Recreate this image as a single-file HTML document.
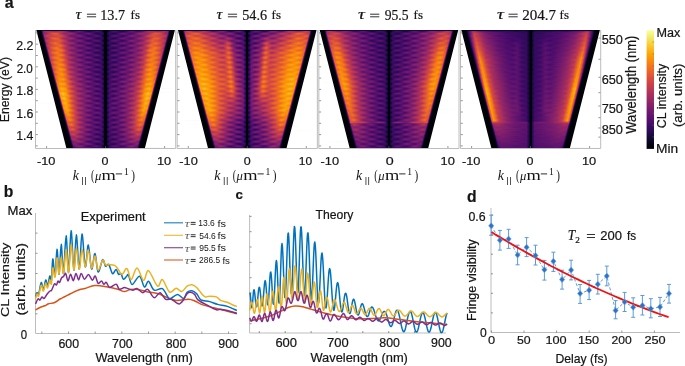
<!DOCTYPE html>
<html><head><meta charset="utf-8"><style>
html,body{margin:0;padding:0;background:#fff;}
#c{position:relative;width:685px;height:366px;overflow:hidden;background:#fff;}
.hm{position:absolute;height:118px;}
.hm i{position:absolute;left:0;right:0;height:1px;display:block;}
svg{position:absolute;left:0;top:0;will-change:transform;}
text{fill:#141414;stroke:#141414;stroke-width:0.2px;}
text.n{stroke:none;}
</style></head><body><div id="c">
<div class="hm" style="left:36px;top:30px;width:139px"><i style="top:0px;background:linear-gradient(90deg,#6d6d71 0.5px,#010108 1.5px,#010108 4.5px,#140b34 6.5px,#160b39 65.5px,#02020c 68.5px,#02020c 70.5px,#160b39 73.5px,#160b39 132.5px,#010108 134.5px,#010108 137.5px,#3b3b40 138.5px)"></i><i style="top:1px;background:linear-gradient(90deg,#aeaeb0 0.5px,#010108 1.5px,#010108 4.5px,#0d0829 5.5px,#4c0c6b 6.5px,#84206b 7.5px,#a22b62 9.5px,#a32c61 13.5px,#9b2964 19.5px,#a92e5e 25.5px,#952667 28.5px,#4a0c6b 34.5px,#440a68 37.5px,#69166e 43.5px,#4c0c6b 47.5px,#1e0c45 51.5px,#1e0c45 54.5px,#420a68 58.5px,#4c0c6b 61.5px,#340a5f 64.5px,#260c51 65.5px,#07051b 67.5px,#02020c 68.5px,#02020c 70.5px,#0e092b 72.5px,#230c4c 73.5px,#470b6a 76.5px,#4a0c6b 79.5px,#1b0c41 85.5px,#1c0c43 87.5px,#490b6a 91.5px,#69166e 95.5px,#420a68 102.5px,#5d126e 106.5px,#a52c60 112.5px,#a32c61 118.5px,#972766 122.5px,#a62d60 128.5px,#972766 130.5px,#87216b 131.5px,#5c126e 132.5px,#150b37 133.5px,#010108 134.5px,#010108 137.5px,#7b7b7f 138.5px)"></i><i style="top:2px;background:linear-gradient(90deg,#efefef 0.5px,#010108 1.5px,#010108 4.5px,#060419 5.5px,#420a68 6.5px,#88226a 7.5px,#c73e4c 15.5px,#c83f4b 21.5px,#8c2369 31.5px,#57106e 42.5px,#4c0c6b 52.5px,#340a5f 61.5px,#380962 65.5px,#160b39 67.5px,#02020c 68.5px,#02020c 70.5px,#140b34 71.5px,#360961 73.5px,#3e0966 83.5px,#550f6d 91.5px,#64156e 100.5px,#b1325a 114.5px,#ce4347 119.5px,#bd3853 125.5px,#8c2369 131.5px,#520e6d 132.5px,#0d0829 133.5px,#010108 134.5px,#010108 137.5px,#bcbcbe 138.5px)"></i><i style="top:3px;background:linear-gradient(90deg,#ffffff 0.5px,#313137 1.5px,#010108 2.5px,#010108 5.5px,#320a5e 6.5px,#85216b 7.5px,#a62d60 11.5px,#e05536 16.5px,#e55c30 20.5px,#9f2a63 26.5px,#8f2469 29.5px,#9f2a63 34.5px,#7c1d6d 38.5px,#440a68 43.5px,#510e6c 47.5px,#6f196e 52.5px,#4a0c6b 56.5px,#1e0c45 60.5px,#240c4f 63.5px,#390963 65.5px,#230c4c 67.5px,#02020c 68.5px,#02020c 70.5px,#1f0c48 71.5px,#390963 73.5px,#1c0c43 77.5px,#2b0b57 80.5px,#540f6d 83.5px,#6f196e 86.5px,#5c126e 90.5px,#420a68 94.5px,#5d126e 98.5px,#9a2865 103.5px,#972766 107.5px,#952667 111.5px,#d04545 116.5px,#e65d2f 119.5px,#da4e3c 123.5px,#932667 129.5px,#8c2369 131.5px,#420a68 132.5px,#050417 133.5px,#010108 134.5px,#010108 137.5px,#fcfcfc 138.5px)"></i><i style="top:4px;background:linear-gradient(90deg,#ffffff 0.5px,#727276 1.5px,#010108 2.5px,#010108 5.5px,#1e0c45 6.5px,#741a6e 7.5px,#9b2964 8.5px,#df5337 18.5px,#e15635 21.5px,#9b2964 28.5px,#8d2369 33.5px,#751b6e 39.5px,#4f0d6c 46.5px,#59106e 54.5px,#2b0b57 63.5px,#2f0a5b 65.5px,#180c3c 67.5px,#02020c 68.5px,#02020c 70.5px,#150b37 71.5px,#2f0a5b 73.5px,#320a5e 78.5px,#5a116e 85.5px,#520e6d 94.5px,#8c2369 104.5px,#9a2865 110.5px,#e05536 117.5px,#d34743 123.5px,#9d2964 130.5px,#87216b 131.5px,#2d0b59 132.5px,#010108 133.5px,#010108 136.5px,#3f3f44 137.5px,#ffffff 138.5px)"></i><i style="top:5px;background:linear-gradient(90deg,#ffffff 0.5px,#b2b2b4 1.5px,#010108 2.5px,#010108 5.5px,#0e092b 6.5px,#5f136e 7.5px,#a82e5f 8.5px,#c43c4e 11.5px,#d74b3f 20.5px,#d24644 25.5px,#a82e5f 29.5px,#6d186e 34.5px,#6c186e 38.5px,#7d1e6d 43.5px,#360961 51.5px,#420a68 55.5px,#5a116e 60.5px,#3b0964 64.5px,#2f0a5b 65.5px,#02020c 68.5px,#02020c 70.5px,#160b39 72.5px,#2b0b57 73.5px,#57106e 77.5px,#520e6d 81.5px,#340a5f 86.5px,#4c0c6b 90.5px,#7d1e6d 95.5px,#69166e 103.5px,#952667 108.5px,#ca404a 112.5px,#dd513a 117.5px,#c63d4d 125.5px,#b93556 129.5px,#ad305d 130.5px,#741a6e 131.5px,#1b0c41 132.5px,#010108 133.5px,#010108 136.5px,#ffffff 138.5px)"></i><i style="top:6px;background:linear-gradient(90deg,#ffffff 0.5px,#f3f3f3 1.5px,#010108 2.5px,#010108 5.5px,#050417 6.5px,#470b6a 7.5px,#a22b62 8.5px,#c13a50 10.5px,#d74b3f 23.5px,#bc3754 28.5px,#71196e 34.5px,#65156e 38.5px,#7c1d6d 43.5px,#64156e 47.5px,#340a5f 52.5px,#420a68 56.5px,#59106e 60.5px,#440a68 64.5px,#380962 65.5px,#02020c 68.5px,#02020c 70.5px,#1b0c41 72.5px,#340a5f 73.5px,#59106e 77.5px,#4a0c6b 81.5px,#320a5e 86.5px,#61136e 91.5px,#7c1d6d 95.5px,#64156e 102.5px,#902568 107.5px,#cb4149 112.5px,#db503b 117.5px,#cc4248 125.5px,#c43c4e 128.5px,#a82e5f 130.5px,#5a116e 131.5px,#0c0826 132.5px,#010108 133.5px,#010108 136.5px,#c0c0c2 137.5px,#ffffff 138.5px)"></i><i style="top:7px;background:linear-gradient(90deg,#ffffff 0.5px,#ffffff 1.5px,#36363b 2.5px,#010108 3.5px,#010108 6.5px,#2f0a5b 7.5px,#88226a 8.5px,#a22b62 9.5px,#df5337 16.5px,#db503b 22.5px,#a82e5f 28.5px,#85216b 36.5px,#5a116e 42.5px,#5c126e 52.5px,#320a5e 60.5px,#3d0965 65.5px,#1c0c43 67.5px,#02020c 68.5px,#02020c 70.5px,#190c3e 71.5px,#3b0964 73.5px,#360961 80.5px,#61136e 88.5px,#59106e 96.5px,#982766 106.5px,#bc3754 113.5px,#e15635 118.5px,#da4e3c 123.5px,#952667 130.5px,#400a67 131.5px,#030210 132.5px,#03030a 136.5px,#ffffff 137.5px,#ffffff 138.5px)"></i><i style="top:8px;background:linear-gradient(90deg,#ffffff 0.5px,#ffffff 1.5px,#76767a 2.5px,#010108 3.5px,#010108 6.5px,#1b0c41 7.5px,#6c186e 8.5px,#9a2865 9.5px,#a62d60 11.5px,#dd513a 15.5px,#ec6726 18.5px,#e15635 22.5px,#a82e5f 26.5px,#972766 30.5px,#9f2a63 35.5px,#4d0d6c 42.5px,#450a69 45.5px,#6f196e 52.5px,#4c0c6b 56.5px,#1e0c45 60.5px,#230c4c 63.5px,#380962 65.5px,#230c4c 67.5px,#02020c 68.5px,#02020c 70.5px,#1f0c48 71.5px,#380962 73.5px,#1c0c43 77.5px,#2d0b59 80.5px,#62146e 84.5px,#6f196e 87.5px,#440a68 94.5px,#61136e 98.5px,#9d2964 103.5px,#9a2865 107.5px,#9f2a63 111.5px,#d04545 115.5px,#e9612b 118.5px,#eb6429 121.5px,#c83f4b 125.5px,#9f2a63 128.5px,#9a2865 129.5px,#7f1e6c 130.5px,#290b55 131.5px,#010108 132.5px,#010108 135.5px,#434348 136.5px,#ffffff 137.5px,#ffffff 138.5px)"></i><i style="top:9px;background:linear-gradient(90deg,#ffffff 0.5px,#ffffff 1.5px,#b7b7b9 2.5px,#010108 3.5px,#010108 6.5px,#0c0826 7.5px,#5a116e 8.5px,#a32c61 9.5px,#e35933 18.5px,#e55c30 22.5px,#a22b62 29.5px,#8c2369 33.5px,#520e6d 48.5px,#4c0c6b 57.5px,#2f0a5b 65.5px,#150b37 67.5px,#02020c 68.5px,#02020c 70.5px,#120a32 71.5px,#2d0b59 73.5px,#540f6d 86.5px,#5c126e 94.5px,#8a226a 105.5px,#a82e5f 110.5px,#e55c30 116.5px,#e05536 121.5px,#a62d60 129.5px,#6c186e 130.5px,#160b39 131.5px,#010108 132.5px,#010108 135.5px,#ffffff 137.5px,#ffffff 138.5px)"></i><i style="top:10px;background:linear-gradient(90deg,#ffffff 0.5px,#f7f7f7 2.5px,#010108 3.5px,#030210 7.5px,#450a69 8.5px,#a82e5f 9.5px,#c63d4d 11.5px,#e15635 21.5px,#e15635 24.5px,#b43359 29.5px,#771c6d 33.5px,#69166e 37.5px,#82206c 43.5px,#5f136e 47.5px,#320a5e 51.5px,#3e0966 55.5px,#5d126e 59.5px,#550f6d 62.5px,#310a5c 65.5px,#0b0724 67.5px,#02020c 68.5px,#02020c 70.5px,#150b37 72.5px,#2b0b57 73.5px,#540f6d 76.5px,#5d126e 79.5px,#2f0a5b 86.5px,#4f0d6c 90.5px,#7d1e6d 94.5px,#801f6c 97.5px,#67166e 102.5px,#7f1e6c 106.5px,#cb4149 111.5px,#e65d2f 116.5px,#cb4149 124.5px,#bf3952 128.5px,#ae305c 129.5px,#57106e 130.5px,#0a0722 131.5px,#010108 132.5px,#010108 135.5px,#c4c4c6 136.5px,#ffffff 137.5px,#ffffff 138.5px)"></i><i style="top:11px;background:linear-gradient(90deg,#ffffff 0.5px,#ffffff 2.5px,#3a3a3f 3.5px,#010108 4.5px,#010108 7.5px,#2b0b57 8.5px,#902568 9.5px,#b73557 10.5px,#d24644 14.5px,#e35933 23.5px,#b63458 29.5px,#721a6e 35.5px,#6f196e 40.5px,#741a6e 45.5px,#3b0964 52.5px,#470b6a 57.5px,#510e6c 62.5px,#390963 65.5px,#02020c 68.5px,#02020c 70.5px,#360961 73.5px,#540f6d 77.5px,#380962 85.5px,#4f0d6c 89.5px,#771c6d 94.5px,#6d186e 102.5px,#982766 107.5px,#d04545 112.5px,#e45a31 116.5px,#c63d4d 127.5px,#a32c61 129.5px,#3e0966 130.5px,#02020c 131.5px,#07070e 135.5px,#ffffff 136.5px,#ffffff 138.5px)"></i><i style="top:12px;background:linear-gradient(90deg,#ffffff 0.5px,#ffffff 2.5px,#010108 4.5px,#010108 7.5px,#160b39 8.5px,#6c186e 9.5px,#a82e5f 10.5px,#df5337 15.5px,#ed6925 19.5px,#d44842 24.5px,#ad305d 28.5px,#8f2469 36.5px,#550f6d 42.5px,#61136e 48.5px,#64156e 52.5px,#2d0b59 59.5px,#310a5c 63.5px,#3d0965 65.5px,#1f0c48 67.5px,#02020c 68.5px,#02020c 70.5px,#1c0c43 71.5px,#3d0965 73.5px,#290b55 78.5px,#64156e 86.5px,#59106e 92.5px,#550f6d 96.5px,#9a2865 104.5px,#ba3655 112.5px,#e35933 116.5px,#ec6726 120.5px,#cf4446 125.5px,#a92e5e 128.5px,#801f6c 129.5px,#240c4f 130.5px,#010108 131.5px,#010108 134.5px,#48484d 135.5px,#ffffff 136.5px,#ffffff 138.5px)"></i><i style="top:13px;background:linear-gradient(90deg,#ffffff 0.5px,#ffffff 2.5px,#bbbbbd 3.5px,#010108 4.5px,#010108 7.5px,#0a0722 8.5px,#540f6d 9.5px,#9f2a63 10.5px,#d54a41 14.5px,#f1731d 19.5px,#d74b3f 24.5px,#a52c60 28.5px,#9a2865 36.5px,#4a0c6b 43.5px,#520e6d 47.5px,#6f196e 52.5px,#4d0d6c 56.5px,#210c4a 60.5px,#240c4f 63.5px,#360961 65.5px,#210c4a 67.5px,#02020c 68.5px,#02020c 70.5px,#1e0c45 71.5px,#360961 73.5px,#1e0c45 77.5px,#310a5c 80.5px,#62146e 84.5px,#6a176e 88.5px,#470b6a 94.5px,#65156e 98.5px,#982766 102.5px,#9f2a63 106.5px,#a92e5e 111.5px,#e25734 115.5px,#f1731d 119.5px,#d84c3e 124.5px,#a52c60 128.5px,#65156e 129.5px,#140b34 130.5px,#010108 131.5px,#010108 134.5px,#88888b 135.5px,#ffffff 136.5px,#ffffff 138.5px)"></i><i style="top:14px;background:linear-gradient(90deg,#ffffff 0.5px,#fcfcfc 3.5px,#010108 4.5px,#02020c 8.5px,#3e0966 9.5px,#a32c61 10.5px,#c73e4c 13.5px,#eb6628 20.5px,#e65d2f 24.5px,#ae305c 29.5px,#85216b 34.5px,#62146e 45.5px,#4c0c6b 52.5px,#470b6a 60.5px,#2f0a5b 65.5px,#120a32 67.5px,#02020c 68.5px,#02020c 70.5px,#1c0c43 72.5px,#320a5e 74.5px,#4f0d6c 83.5px,#57106e 91.5px,#972766 107.5px,#da4e3c 113.5px,#eb6429 115.5px,#e65d2f 120.5px,#b73557 127.5px,#a92e5e 128.5px,#510e6c 129.5px,#08051d 130.5px,#010108 131.5px,#010108 134.5px,#c9c9ca 135.5px,#ffffff 136.5px,#ffffff 138.5px)"></i><i style="top:15px;background:linear-gradient(90deg,#ffffff 0.5px,#ffffff 3.5px,#3e3e43 4.5px,#010108 5.5px,#010108 8.5px,#280b53 9.5px,#902568 10.5px,#c03a51 11.5px,#e15635 19.5px,#ee6a24 24.5px,#bf3952 29.5px,#7a1d6d 33.5px,#69166e 36.5px,#85216b 43.5px,#71196e 46.5px,#320a5e 51.5px,#340a5f 54.5px,#61136e 60.5px,#4f0d6c 63.5px,#320a5e 65.5px,#0b0724 67.5px,#02020c 68.5px,#02020c 70.5px,#150b37 72.5px,#2d0b59 73.5px,#57106e 76.5px,#5f136e 79.5px,#2f0a5b 86.5px,#450a69 89.5px,#82206c 94.5px,#7c1d6d 98.5px,#69166e 102.5px,#781c6d 105.5px,#c83f4b 110.5px,#ed6925 114.5px,#c13a50 127.5px,#a82e5f 128.5px,#3b0964 129.5px,#010108 130.5px,#010108 133.5px,#0b0b12 134.5px,#ffffff 135.5px,#ffffff 138.5px)"></i><i style="top:16px;background:linear-gradient(90deg,#ffffff 0.5px,#ffffff 3.5px,#010108 5.5px,#010108 8.5px,#140b34 9.5px,#6f196e 10.5px,#ba3655 11.5px,#dd513a 16.5px,#ea632a 22.5px,#eb6429 24.5px,#b1325a 30.5px,#7d1e6d 35.5px,#6f196e 41.5px,#6c186e 46.5px,#3e0966 54.5px,#4c0c6b 62.5px,#3b0964 65.5px,#120a32 67.5px,#02020c 68.5px,#02020c 70.5px,#380962 73.5px,#4c0c6b 78.5px,#400a67 85.5px,#721a6e 95.5px,#751b6e 102.5px,#a32c61 107.5px,#e9612b 114.5px,#e8602d 119.5px,#c73e4c 126.5px,#bc3754 127.5px,#85216b 128.5px,#210c4a 129.5px,#010108 130.5px,#010108 133.5px,#4c4c51 134.5px,#ffffff 135.5px,#ffffff 138.5px)"></i><i style="top:17px;background:linear-gradient(90deg,#ffffff 0.5px,#ffffff 3.5px,#bfbfc1 4.5px,#010108 5.5px,#010108 8.5px,#08051d 9.5px,#510e6c 10.5px,#a82e5f 11.5px,#e35933 15.5px,#f3761b 20.5px,#d84c3e 25.5px,#ae305c 29.5px,#972766 36.5px,#520e6d 42.5px,#540f6d 46.5px,#6d186e 51.5px,#540f6d 55.5px,#240c4f 60.5px,#340a5f 64.5px,#3d0965 65.5px,#210c4a 67.5px,#02020c 68.5px,#02020c 70.5px,#1e0c45 71.5px,#3d0965 73.5px,#240c4f 78.5px,#510e6c 83.5px,#6d186e 87.5px,#4d0d6c 95.5px,#71196e 99.5px,#a32c61 104.5px,#b1325a 110.5px,#e75e2e 115.5px,#f3761b 118.5px,#e55c30 123.5px,#b0315b 127.5px,#64156e 128.5px,#10092d 129.5px,#010108 130.5px,#010108 133.5px,#8c8c90 134.5px,#ffffff 135.5px,#ffffff 138.5px)"></i><i style="top:18px;background:linear-gradient(90deg,#ffffff 0.5px,#ffffff 4.5px,#020209 5.5px,#010108 9.5px,#390963 10.5px,#9f2a63 11.5px,#d34743 14.5px,#f1711f 18.5px,#f37819 21.5px,#de5238 25.5px,#ab2f5e 29.5px,#932667 37.5px,#4f0d6c 43.5px,#540f6d 47.5px,#6c186e 52.5px,#4f0d6c 56.5px,#260c51 60.5px,#260c51 63.5px,#340a5f 65.5px,#1e0c45 67.5px,#02020c 68.5px,#02020c 70.5px,#1b0c41 71.5px,#340a5f 73.5px,#230c4c 77.5px,#360961 80.5px,#69166e 85.5px,#62146e 89.5px,#4c0c6b 94.5px,#6c186e 98.5px,#9f2a63 103.5px,#b1325a 110.5px,#e65d2f 114.5px,#f57b17 118.5px,#e25734 123.5px,#a62d60 127.5px,#4c0c6b 128.5px,#050417 129.5px,#010108 130.5px,#010108 133.5px,#cdcdce 134.5px,#ffffff 135.5px,#ffffff 138.5px)"></i><i style="top:19px;background:linear-gradient(90deg,#ffffff 0.5px,#ffffff 4.5px,#424248 5.5px,#010108 6.5px,#010108 9.5px,#230c4c 10.5px,#87216b 11.5px,#bd3853 12.5px,#ef6e21 20.5px,#f1731d 23.5px,#e55c30 26.5px,#ae305c 30.5px,#7f1e6c 35.5px,#71196e 44.5px,#470b6a 51.5px,#4f0d6c 60.5px,#2f0a5b 65.5px,#02020c 68.5px,#02020c 70.5px,#2b0b57 73.5px,#510e6c 79.5px,#490b6a 88.5px,#7a1d6d 97.5px,#8a226a 105.5px,#c73e4c 110.5px,#ec6726 113.5px,#f3761b 117.5px,#c73e4c 125.5px,#bf3952 126.5px,#9f2a63 127.5px,#340a5f 128.5px,#010108 129.5px,#010108 132.5px,#101016 133.5px,#ffffff 134.5px,#ffffff 138.5px)"></i><i style="top:20px;background:linear-gradient(90deg,#ffffff 0.5px,#ffffff 4.5px,#010108 6.5px,#010108 9.5px,#110a30 10.5px,#6d186e 11.5px,#c03a51 12.5px,#eb6429 20.5px,#f37819 25.5px,#d94d3d 28.5px,#952667 32.5px,#6f196e 35.5px,#771c6d 39.5px,#84206b 44.5px,#4c0c6b 49.5px,#310a5c 52.5px,#450a69 56.5px,#62146e 60.5px,#440a68 64.5px,#360961 65.5px,#0b0724 67.5px,#02020c 68.5px,#02020c 70.5px,#160b39 72.5px,#310a5c 73.5px,#59106e 76.5px,#5f136e 79.5px,#2f0a5b 86.5px,#550f6d 90.5px,#84206b 94.5px,#7f1e6c 98.5px,#6c186e 102.5px,#801f6c 105.5px,#d54a41 110.5px,#f3761b 113.5px,#f1711f 117.5px,#d24644 123.5px,#c33b4f 126.5px,#85216b 127.5px,#1e0c45 128.5px,#010108 129.5px,#010108 132.5px,#505055 133.5px,#ffffff 134.5px,#ffffff 138.5px)"></i><i style="top:21px;background:linear-gradient(90deg,#ffffff 0.5px,#ffffff 4.5px,#c4c4c5 5.5px,#010108 6.5px,#010108 9.5px,#050417 10.5px,#510e6c 11.5px,#b43359 12.5px,#d34743 14.5px,#f1711f 21.5px,#e65d2f 26.5px,#b93556 30.5px,#7c1d6d 37.5px,#540f6d 51.5px,#440a68 58.5px,#3e0966 65.5px,#160b39 67.5px,#02020c 68.5px,#02020c 70.5px,#260c51 72.5px,#3b0964 73.5px,#440a68 80.5px,#520e6d 87.5px,#6c186e 95.5px,#801f6c 102.5px,#c13a50 109.5px,#eb6628 113.5px,#f1731d 117.5px,#d44842 124.5px,#bc3754 126.5px,#65156e 127.5px,#0d0829 128.5px,#010108 129.5px,#010108 132.5px,#919194 133.5px,#ffffff 134.5px,#ffffff 138.5px)"></i><i style="top:22px;background:linear-gradient(90deg,#ffffff 0.5px,#ffffff 5.5px,#06060d 6.5px,#010108 10.5px,#360961 11.5px,#a02a63 12.5px,#c33b4f 13.5px,#eb6429 16.5px,#f57b17 20.5px,#e8602d 24.5px,#b73557 29.5px,#a62d60 35.5px,#6a176e 40.5px,#4c0c6b 43.5px,#5a116e 47.5px,#721a6e 51.5px,#62146e 54.5px,#310a5c 58.5px,#210c4a 61.5px,#3d0965 65.5px,#240c4f 67.5px,#02020c 68.5px,#02020c 70.5px,#210c4a 71.5px,#3d0965 73.5px,#210c4a 77.5px,#2f0a5b 80.5px,#61136e 84.5px,#721a6e 87.5px,#4c0c6b 95.5px,#85216b 100.5px,#b0315b 105.5px,#bf3952 110.5px,#ec6726 115.5px,#f57b17 118.5px,#ec6726 122.5px,#c73e4c 125.5px,#ae305c 126.5px,#490b6a 127.5px,#040312 128.5px,#010108 131.5px,#010108 132.5px,#d1d1d3 133.5px,#ffffff 134.5px,#ffffff 138.5px)"></i><i style="top:23px;background:linear-gradient(90deg,#ffffff 0.5px,#ffffff 5.5px,#47474c 6.5px,#010108 7.5px,#010108 10.5px,#1e0c45 11.5px,#82206c 12.5px,#c03a51 13.5px,#ed6925 17.5px,#f57b17 21.5px,#ec6726 24.5px,#c63d4d 28.5px,#ae305c 31.5px,#8c2369 38.5px,#540f6d 44.5px,#65156e 53.5px,#340a5f 59.5px,#2b0b57 63.5px,#340a5f 65.5px,#1c0c43 67.5px,#02020c 68.5px,#02020c 70.5px,#1b0c41 71.5px,#340a5f 73.5px,#2d0b59 78.5px,#65156e 85.5px,#540f6d 94.5px,#741a6e 98.5px,#a32c61 104.5px,#b73557 109.5px,#e65d2f 113.5px,#f57b17 117.5px,#ee6a24 121.5px,#c33b4f 125.5px,#9a2865 126.5px,#310a5c 127.5px,#010108 128.5px,#010108 131.5px,#14141a 132.5px,#ffffff 133.5px,#ffffff 138.5px)"></i><i style="top:24px;background:linear-gradient(90deg,#ffffff 0.5px,#ffffff 5.5px,#87878b 6.5px,#010108 7.5px,#010108 10.5px,#0e092b 11.5px,#69166e 12.5px,#bf3952 13.5px,#f1731d 21.5px,#f47918 24.5px,#ef6e21 26.5px,#b93556 30.5px,#7f1e6c 35.5px,#7a1d6d 44.5px,#420a68 51.5px,#4d0d6c 56.5px,#57106e 60.5px,#320a5e 65.5px,#02020c 68.5px,#02020c 70.5px,#2f0a5b 73.5px,#57106e 78.5px,#400a67 87.5px,#801f6c 96.5px,#84206b 104.5px,#b43359 108.5px,#ee6a24 112.5px,#f57d15 116.5px,#c33b4f 125.5px,#7f1e6c 126.5px,#1b0c41 127.5px,#010108 128.5px,#010108 131.5px,#555559 132.5px,#ffffff 133.5px,#ffffff 138.5px)"></i><i style="top:25px;background:linear-gradient(90deg,#ffffff 0.5px,#ffffff 5.5px,#c8c8c9 6.5px,#010108 7.5px,#010108 10.5px,#040312 11.5px,#4d0d6c 12.5px,#b93556 13.5px,#cf4446 15.5px,#f57b17 23.5px,#f2741c 26.5px,#d34743 29.5px,#8f2469 33.5px,#721a6e 36.5px,#85216b 44.5px,#510e6c 49.5px,#340a5f 52.5px,#450a69 56.5px,#61136e 60.5px,#490b6a 64.5px,#3b0964 65.5px,#0e092b 67.5px,#02020c 68.5px,#02020c 70.5px,#1c0c43 72.5px,#360961 73.5px,#5f136e 77.5px,#510e6c 81.5px,#340a5f 85.5px,#420a68 88.5px,#84206b 94.5px,#801f6c 98.5px,#721a6e 102.5px,#8c2369 105.5px,#d04545 109.5px,#f1731d 112.5px,#f37819 116.5px,#c03a51 125.5px,#64156e 126.5px,#0b0724 127.5px,#010108 128.5px,#010108 131.5px,#959598 132.5px,#ffffff 133.5px,#ffffff 138.5px)"></i><i style="top:26px;background:linear-gradient(90deg,#ffffff 0.5px,#ffffff 6.5px,#0a0a11 7.5px,#010108 11.5px,#320a5e 12.5px,#a32c61 13.5px,#cc4248 14.5px,#ec6726 18.5px,#f1731d 23.5px,#d74b3f 28.5px,#952667 35.5px,#6a176e 42.5px,#59106e 52.5px,#3d0965 60.5px,#420a68 65.5px,#1c0c43 67.5px,#02020c 68.5px,#02020c 70.5px,#190c3e 71.5px,#400a67 73.5px,#440a68 82.5px,#67166e 91.5px,#721a6e 98.5px,#b73557 107.5px,#eb6628 113.5px,#f1731d 117.5px,#e35933 122.5px,#cf4446 124.5px,#b93556 125.5px,#470b6a 126.5px,#02020c 127.5px,#010108 131.5px,#d6d6d7 132.5px,#ffffff 133.5px,#ffffff 138.5px)"></i><i style="top:27px;background:linear-gradient(90deg,#ffffff 0.5px,#ffffff 6.5px,#4b4b50 7.5px,#010108 8.5px,#010108 11.5px,#1b0c41 12.5px,#82206c 13.5px,#cc4248 14.5px,#f06f20 17.5px,#f57d15 21.5px,#d84c3e 27.5px,#bd3853 30.5px,#b0315b 35.5px,#57106e 42.5px,#4d0d6c 45.5px,#771c6d 51.5px,#67166e 54.5px,#310a5c 58.5px,#1f0c48 61.5px,#3e0966 65.5px,#260c51 67.5px,#02020c 68.5px,#02020c 70.5px,#230c4c 71.5px,#3e0966 73.5px,#1f0c48 77.5px,#2f0a5b 80.5px,#65156e 84.5px,#771c6d 87.5px,#4c0c6b 94.5px,#61136e 97.5px,#ae305c 103.5px,#ca404a 110.5px,#f3761b 116.5px,#f47918 120.5px,#df5337 123.5px,#cf4446 124.5px,#9a2865 125.5px,#2d0b59 126.5px,#010108 127.5px,#010108 130.5px,#18181f 131.5px,#ffffff 132.5px,#ffffff 138.5px)"></i><i style="top:28px;background:linear-gradient(90deg,#ffffff 0.5px,#ffffff 6.5px,#8c8c8f 7.5px,#010108 8.5px,#010108 11.5px,#0c0826 12.5px,#64156e 13.5px,#c33b4f 14.5px,#ef6c23 18.5px,#f57d15 22.5px,#e15635 27.5px,#b43359 31.5px,#7d1e6d 40.5px,#5a116e 45.5px,#5d126e 54.5px,#310a5c 62.5px,#360961 65.5px,#1c0c43 67.5px,#02020c 68.5px,#02020c 70.5px,#190c3e 71.5px,#360961 73.5px,#360961 78.5px,#61136e 85.5px,#5d126e 94.5px,#a92e5e 105.5px,#d24644 110.5px,#f47918 115.5px,#f47918 118.5px,#e25734 122.5px,#ca404a 124.5px,#7a1d6d 125.5px,#160b39 126.5px,#010108 127.5px,#010108 130.5px,#59595d 131.5px,#ffffff 132.5px,#ffffff 138.5px)"></i><i style="top:29px;background:linear-gradient(90deg,#ffffff 0.5px,#ffffff 6.5px,#ccccce 7.5px,#010108 8.5px,#02020c 12.5px,#4a0c6b 13.5px,#b93556 14.5px,#d24644 16.5px,#f78212 23.5px,#f37819 26.5px,#d74b3f 29.5px,#952667 33.5px,#7d1e6d 37.5px,#88226a 43.5px,#3e0966 51.5px,#4d0d6c 56.5px,#5d126e 60.5px,#360961 65.5px,#02020c 68.5px,#02020c 70.5px,#320a5e 73.5px,#59106e 77.5px,#550f6d 81.5px,#3b0964 86.5px,#57106e 90.5px,#87216b 95.5px,#801f6c 103.5px,#b0315b 107.5px,#ee6a24 111.5px,#f78212 114.5px,#f3761b 117.5px,#c03a51 124.5px,#5f136e 125.5px,#09061f 126.5px,#010108 127.5px,#010108 130.5px,#99999c 131.5px,#ffffff 132.5px,#ffffff 138.5px)"></i><i style="top:30px;background:linear-gradient(90deg,#ffffff 0.5px,#ffffff 7.5px,#0f0f15 8.5px,#010108 10.5px,#010108 12.5px,#2f0a5b 13.5px,#9f2a63 14.5px,#cc4248 15.5px,#f67e14 23.5px,#f57b17 26.5px,#db503b 29.5px,#9a2865 33.5px,#781c6d 37.5px,#85216b 44.5px,#3b0964 52.5px,#450a69 56.5px,#5c126e 61.5px,#3e0966 65.5px,#02020c 68.5px,#02020c 70.5px,#3b0964 73.5px,#5c126e 77.5px,#470b6a 82.5px,#3b0964 86.5px,#84206b 94.5px,#801f6c 103.5px,#b73557 107.5px,#ef6e21 111.5px,#f68013 115.5px,#ce4347 123.5px,#b93556 124.5px,#440a68 125.5px,#010108 126.5px,#010108 130.5px,#dadadb 131.5px,#ffffff 132.5px,#ffffff 138.5px)"></i><i style="top:31px;background:linear-gradient(90deg,#ffffff 0.5px,#ffffff 7.5px,#4f4f54 8.5px,#010108 9.5px,#010108 12.5px,#180c3c 13.5px,#801f6c 14.5px,#d34743 15.5px,#f1711f 19.5px,#f1731d 24.5px,#d44842 29.5px,#751b6e 40.5px,#62146e 45.5px,#64156e 52.5px,#340a5f 60.5px,#440a68 65.5px,#360961 66.5px,#210c4a 67.5px,#02020c 68.5px,#02020c 70.5px,#1e0c45 71.5px,#440a68 73.5px,#360961 79.5px,#69166e 88.5px,#67166e 96.5px,#b93556 106.5px,#ef6c23 113.5px,#f37819 117.5px,#ea632a 121.5px,#d54a41 123.5px,#9a2865 124.5px,#290b55 125.5px,#010108 126.5px,#010108 129.5px,#1d1d23 130.5px,#ffffff 131.5px,#ffffff 138.5px)"></i><i style="top:32px;background:linear-gradient(90deg,#ffffff 0.5px,#ffffff 7.5px,#909093 8.5px,#010108 9.5px,#010108 12.5px,#09061f 13.5px,#62146e 14.5px,#cc4248 15.5px,#ec6726 17.5px,#f57d15 19.5px,#f37819 23.5px,#ce4347 29.5px,#ad305d 36.5px,#5d126e 42.5px,#510e6c 45.5px,#781c6d 51.5px,#6a176e 54.5px,#340a5f 58.5px,#1e0c45 61.5px,#3e0966 65.5px,#280b53 67.5px,#02020c 68.5px,#02020c 70.5px,#240c4f 71.5px,#3e0966 73.5px,#1e0c45 77.5px,#320a5e 80.5px,#69166e 84.5px,#781c6d 87.5px,#510e6c 94.5px,#65156e 97.5px,#b3325a 103.5px,#cc4248 109.5px,#f3761b 115.5px,#f67e14 119.5px,#e45a31 122.5px,#d44842 123.5px,#7a1d6d 124.5px,#140b34 125.5px,#010108 126.5px,#010108 129.5px,#5d5d62 130.5px,#ffffff 131.5px,#ffffff 138.5px)"></i><i style="top:33px;background:linear-gradient(90deg,#ffffff 0.5px,#ffffff 7.5px,#d1d1d2 8.5px,#010108 9.5px,#010108 13.5px,#450a69 14.5px,#bf3952 15.5px,#d84c3e 16.5px,#f37819 20.5px,#f67e14 24.5px,#e25734 28.5px,#b3325a 32.5px,#5f136e 47.5px,#510e6c 57.5px,#360961 64.5px,#280b53 66.5px,#190c3e 67.5px,#02020c 68.5px,#02020c 70.5px,#160b39 71.5px,#360961 73.5px,#4a0c6b 80.5px,#5c126e 88.5px,#69166e 94.5px,#ba3655 107.5px,#ef6e21 112.5px,#f78410 116.5px,#e45a31 121.5px,#c73e4c 123.5px,#5a116e 124.5px,#07051b 125.5px,#010108 126.5px,#010108 129.5px,#9e9ea0 130.5px,#ffffff 131.5px,#ffffff 138.5px)"></i><i style="top:34px;background:linear-gradient(90deg,#ffffff 0.5px,#ffffff 8.5px,#13131a 9.5px,#010108 10.5px,#010108 13.5px,#290b55 14.5px,#9a2865 15.5px,#cf4446 16.5px,#f68013 22.5px,#f98c0a 24.5px,#f57d15 27.5px,#d04545 30.5px,#8f2469 34.5px,#801f6c 37.5px,#902568 43.5px,#510e6c 49.5px,#390963 52.5px,#62146e 60.5px,#450a69 64.5px,#390963 65.5px,#0e092b 67.5px,#02020c 68.5px,#02020c 70.5px,#1b0c41 72.5px,#340a5f 73.5px,#5d126e 77.5px,#5f136e 80.5px,#390963 85.5px,#4f0d6c 89.5px,#8f2469 95.5px,#84206b 103.5px,#b93556 107.5px,#ec6726 110.5px,#f98b0b 113.5px,#f78212 116.5px,#d04545 122.5px,#b3325a 123.5px,#3e0966 124.5px,#010108 125.5px,#010108 129.5px,#dededf 130.5px,#ffffff 131.5px,#ffffff 138.5px)"></i><i style="top:35px;background:linear-gradient(90deg,#ffffff 0.5px,#ffffff 8.5px,#545458 9.5px,#010108 10.5px,#010108 13.5px,#150b37 14.5px,#7c1d6d 15.5px,#d04545 16.5px,#f57d15 22.5px,#f8850f 25.5px,#ef6c23 28.5px,#b43359 32.5px,#82206c 37.5px,#84206b 44.5px,#420a68 53.5px,#540f6d 62.5px,#420a68 65.5px,#150b37 67.5px,#02020c 68.5px,#02020c 70.5px,#240c4f 72.5px,#3e0966 73.5px,#57106e 78.5px,#400a67 85.5px,#85216b 95.5px,#85216b 102.5px,#c03a51 107.5px,#ed6925 110.5px,#f8850f 113.5px,#f67e14 116.5px,#d34743 122.5px,#952667 123.5px,#240c4f 124.5px,#010108 125.5px,#010108 128.5px,#212127 129.5px,#ffffff 130.5px,#ffffff 138.5px)"></i><i style="top:36px;background:linear-gradient(90deg,#ffffff 0.5px,#ffffff 8.5px,#949497 9.5px,#010108 10.5px,#010108 13.5px,#07051b 14.5px,#5f136e 15.5px,#d24644 16.5px,#ed6925 18.5px,#f57d15 22.5px,#e65d2f 28.5px,#c43c4e 32.5px,#8f2469 38.5px,#62146e 43.5px,#6d186e 52.5px,#2f0a5b 60.5px,#3d0965 64.5px,#450a69 65.5px,#260c51 67.5px,#02020c 68.5px,#02020c 70.5px,#210c4a 71.5px,#440a68 73.5px,#2f0a5b 78.5px,#6c186e 86.5px,#69166e 91.5px,#62146e 95.5px,#982766 101.5px,#d34743 108.5px,#f1711f 113.5px,#f57d15 116.5px,#f3761b 119.5px,#d94d3d 122.5px,#771c6d 123.5px,#110a30 124.5px,#010108 125.5px,#010108 128.5px,#616166 129.5px,#ffffff 130.5px,#ffffff 138.5px)"></i><i style="top:37px;background:linear-gradient(90deg,#ffffff 0.5px,#ffffff 8.5px,#d5d5d6 9.5px,#010108 10.5px,#010108 14.5px,#420a68 15.5px,#c13a50 16.5px,#e55c30 17.5px,#f68013 20.5px,#f57b17 24.5px,#d34743 30.5px,#b1325a 36.5px,#64156e 42.5px,#550f6d 45.5px,#781c6d 52.5px,#540f6d 56.5px,#260c51 60.5px,#230c4c 62.5px,#3d0965 65.5px,#260c51 67.5px,#02020c 68.5px,#02020c 70.5px,#230c4c 71.5px,#3d0965 73.5px,#210c4a 77.5px,#360961 80.5px,#721a6e 85.5px,#751b6e 88.5px,#550f6d 94.5px,#7c1d6d 98.5px,#bf3952 104.5px,#d94d3d 109.5px,#f68013 115.5px,#f57d15 119.5px,#e75e2e 121.5px,#d24644 122.5px,#59106e 123.5px,#040314 124.5px,#010108 126.5px,#010108 128.5px,#a2a2a5 129.5px,#ffffff 130.5px,#ffffff 138.5px)"></i><i style="top:38px;background:linear-gradient(90deg,#ffffff 0.5px,#ffffff 9.5px,#17171e 10.5px,#010108 11.5px,#010108 14.5px,#260c51 15.5px,#982766 16.5px,#da4e3c 17.5px,#f57d15 21.5px,#f98e09 24.5px,#ef6c23 28.5px,#b73557 32.5px,#8f2469 39.5px,#57106e 51.5px,#4a0c6b 60.5px,#360961 65.5px,#160b39 67.5px,#02020c 68.5px,#02020c 70.5px,#140b34 71.5px,#340a5f 73.5px,#550f6d 82.5px,#62146e 91.5px,#b43359 106.5px,#ec6726 110.5px,#f98c0a 114.5px,#f37819 118.5px,#dd513a 121.5px,#b43359 122.5px,#3b0964 123.5px,#010108 124.5px,#010108 128.5px,#e3e3e3 129.5px,#ffffff 130.5px,#ffffff 138.5px)"></i><i style="top:39px;background:linear-gradient(90deg,#ffffff 0.5px,#ffffff 9.5px,#58585d 10.5px,#010108 11.5px,#010108 14.5px,#110a30 15.5px,#751b6e 16.5px,#d04545 17.5px,#f78212 22.5px,#fb9906 24.5px,#f67e14 28.5px,#ca404a 31.5px,#a22b62 33.5px,#82206c 37.5px,#972766 43.5px,#62146e 48.5px,#3b0964 52.5px,#4d0d6c 56.5px,#65156e 60.5px,#470b6a 64.5px,#390963 65.5px,#0e092b 67.5px,#02020c 68.5px,#02020c 70.5px,#1c0c43 72.5px,#360961 73.5px,#62146e 77.5px,#61136e 80.5px,#390963 85.5px,#470b6a 88.5px,#952667 95.5px,#84206b 102.5px,#ad305d 106.5px,#eb6429 109.5px,#f8870e 111.5px,#fb9906 114.5px,#ef6c23 118.5px,#d44842 121.5px,#8f2469 122.5px,#1f0c48 123.5px,#010108 124.5px,#010108 127.5px,#25252b 128.5px,#ffffff 129.5px,#ffffff 138.5px)"></i><i style="top:40px;background:linear-gradient(90deg,#ffffff 0.5px,#ffffff 9.5px,#99999b 10.5px,#010108 11.5px,#010108 14.5px,#040314 15.5px,#5a116e 16.5px,#ce4347 17.5px,#ef6c23 20.5px,#f98e09 24.5px,#f47918 28.5px,#d34743 31.5px,#9d2964 35.5px,#87216b 39.5px,#781c6d 46.5px,#490b6a 54.5px,#4c0c6b 63.5px,#440a68 65.5px,#180c3c 67.5px,#02020c 68.5px,#02020c 70.5px,#150b37 71.5px,#400a67 73.5px,#510e6c 79.5px,#4f0d6c 86.5px,#84206b 95.5px,#922568 102.5px,#bc3754 106.5px,#eb6628 109.5px,#f67e14 111.5px,#fa9008 114.5px,#e15635 120.5px,#d54a41 121.5px,#71196e 122.5px,#0d0829 123.5px,#010108 124.5px,#010108 127.5px,#66666a 128.5px,#ffffff 129.5px,#ffffff 138.5px)"></i><i style="top:41px;background:linear-gradient(90deg,#ffffff 0.5px,#ffffff 9.5px,#d9d9da 10.5px,#010108 11.5px,#010108 15.5px,#3e0966 16.5px,#c03a51 17.5px,#e9612b 18.5px,#f68013 21.5px,#f57d15 25.5px,#d84c3e 31.5px,#a52c60 37.5px,#62146e 43.5px,#69166e 47.5px,#751b6e 52.5px,#380962 58.5px,#2b0b57 62.5px,#440a68 65.5px,#280b53 67.5px,#02020c 68.5px,#02020c 70.5px,#240c4f 71.5px,#440a68 73.5px,#290b55 77.5px,#400a67 81.5px,#751b6e 86.5px,#6f196e 90.5px,#5f136e 94.5px,#7c1d6d 98.5px,#c13a50 104.5px,#ee6a24 111.5px,#f67e14 115.5px,#f1711f 119.5px,#eb6429 120.5px,#d54a41 121.5px,#550f6d 122.5px,#02020e 123.5px,#010108 127.5px,#a6a6a9 128.5px,#ffffff 129.5px,#ffffff 138.5px)"></i><i style="top:42px;background:linear-gradient(90deg,#ffffff 0.5px,#ffffff 10.5px,#1c1c22 11.5px,#010108 12.5px,#010108 15.5px,#210c4a 16.5px,#9b2964 17.5px,#e8602d 18.5px,#f8850f 21.5px,#f78212 25.5px,#d74b3f 31.5px,#9f2a63 38.5px,#65156e 43.5px,#5d126e 46.5px,#771c6d 52.5px,#4c0c6b 57.5px,#290b55 61.5px,#320a5e 64.5px,#3d0965 65.5px,#240c4f 67.5px,#02020c 68.5px,#02020c 70.5px,#210c4a 71.5px,#3d0965 73.5px,#280b53 77.5px,#490b6a 81.5px,#751b6e 86.5px,#5c126e 93.5px,#771c6d 97.5px,#bd3853 103.5px,#de5238 108.5px,#f78212 114.5px,#f67e14 118.5px,#ea632a 120.5px,#b93556 121.5px,#380962 122.5px,#010108 123.5px,#010108 127.5px,#e7e7e8 128.5px,#ffffff 129.5px,#ffffff 138.5px)"></i><i style="top:43px;background:linear-gradient(90deg,#ffffff 0.5px,#ffffff 10.5px,#5c5c61 11.5px,#010108 12.5px,#010108 15.5px,#0e092b 16.5px,#741a6e 17.5px,#db503b 18.5px,#f8850f 22.5px,#fb9606 25.5px,#e45a31 30.5px,#b3325a 33.5px,#932667 39.5px,#7a1d6d 45.5px,#520e6d 51.5px,#520e6d 61.5px,#380962 65.5px,#150b37 67.5px,#02020c 68.5px,#02020c 70.5px,#210c4a 72.5px,#340a5f 73.5px,#59106e 79.5px,#550f6d 88.5px,#902568 97.5px,#a22b62 103.5px,#c13a50 106.5px,#ed6925 109.5px,#fb9606 113.5px,#f78212 117.5px,#e25734 120.5px,#8f2469 121.5px,#1c0c43 122.5px,#010108 123.5px,#010108 126.5px,#29292f 127.5px,#ffffff 128.5px,#ffffff 138.5px)"></i><i style="top:44px;background:linear-gradient(90deg,#ffffff 0.5px,#ffffff 10.5px,#9d9da0 11.5px,#010108 12.5px,#02020e 16.5px,#540f6d 17.5px,#d04545 18.5px,#eb6429 20.5px,#f98c0a 23.5px,#fb9b06 26.5px,#f3761b 29.5px,#c63d4d 32.5px,#952667 35.5px,#8f2469 39.5px,#9a2865 43.5px,#751b6e 47.5px,#440a68 51.5px,#3e0966 54.5px,#69166e 60.5px,#4c0c6b 64.5px,#3e0966 65.5px,#02020c 68.5px,#02020c 70.5px,#1e0c45 72.5px,#390963 73.5px,#67166e 77.5px,#59106e 81.5px,#3d0965 85.5px,#550f6d 89.5px,#952667 94.5px,#952667 98.5px,#8d2369 102.5px,#ab2f5e 105.5px,#e75e2e 108.5px,#f98e09 111.5px,#fc9f07 113.5px,#f47918 117.5px,#d74b3f 120.5px,#6c186e 121.5px,#0b0724 122.5px,#010108 123.5px,#010108 126.5px,#6a6a6e 127.5px,#ffffff 128.5px,#ffffff 138.5px)"></i><i style="top:45px;background:linear-gradient(90deg,#ffffff 0.5px,#ffffff 10.5px,#ddddde 11.5px,#010108 12.5px,#010108 16.5px,#390963 17.5px,#b93556 18.5px,#e8602d 19.5px,#f8850f 23.5px,#f98c0a 26.5px,#e15635 31.5px,#ad305d 35.5px,#88226a 40.5px,#5f136e 51.5px,#4a0c6b 57.5px,#470b6a 65.5px,#1e0c45 67.5px,#02020c 68.5px,#02020c 70.5px,#190c3e 71.5px,#2f0a5b 72.5px,#440a68 73.5px,#540f6d 85.5px,#84206b 96.5px,#a02a63 102.5px,#d04545 106.5px,#f06f20 109.5px,#f98e09 113.5px,#f47918 117.5px,#e9612b 119.5px,#d44842 120.5px,#4f0d6c 121.5px,#010108 122.5px,#010108 126.5px,#ababad 127.5px,#ffffff 128.5px,#ffffff 138.5px)"></i><i style="top:46px;background:linear-gradient(90deg,#ffffff 0.5px,#ffffff 11.5px,#202026 12.5px,#010108 13.5px,#010108 16.5px,#1c0c43 17.5px,#9a2865 18.5px,#ed6925 19.5px,#f8850f 22.5px,#f67e14 26.5px,#d54a41 33.5px,#a22b62 38.5px,#65156e 43.5px,#69166e 47.5px,#7f1e6c 51.5px,#61136e 55.5px,#290b55 60.5px,#3b0964 64.5px,#450a69 65.5px,#2b0b57 67.5px,#02020c 68.5px,#02020c 70.5px,#280b53 71.5px,#450a69 73.5px,#290b55 77.5px,#420a68 81.5px,#7c1d6d 86.5px,#721a6e 90.5px,#61136e 94.5px,#801f6c 98.5px,#c63d4d 103.5px,#ee6a24 110.5px,#f67e14 114.5px,#f68013 117.5px,#ef6c23 119.5px,#b73557 120.5px,#320a5e 121.5px,#010108 122.5px,#010108 126.5px,#ebebec 127.5px,#ffffff 128.5px,#ffffff 138.5px)"></i><i style="top:47px;background:linear-gradient(90deg,#ffffff 0.5px,#ffffff 11.5px,#616165 12.5px,#010108 13.5px,#010108 16.5px,#0b0724 17.5px,#741a6e 18.5px,#e75e2e 19.5px,#f68013 21.5px,#f8870e 24.5px,#f57b17 27.5px,#d24644 33.5px,#781c6d 42.5px,#65156e 46.5px,#71196e 53.5px,#320a5e 61.5px,#3d0965 65.5px,#230c4c 67.5px,#02020c 68.5px,#02020c 70.5px,#1f0c48 71.5px,#3d0965 73.5px,#360961 78.5px,#721a6e 86.5px,#65156e 93.5px,#972766 99.5px,#d84c3e 106.5px,#f78410 112.5px,#f98b0b 116.5px,#ec6726 119.5px,#902568 120.5px,#180c3c 121.5px,#010108 122.5px,#010108 125.5px,#2e2e34 126.5px,#ffffff 127.5px,#ffffff 138.5px)"></i><i style="top:48px;background:linear-gradient(90deg,#ffffff 0.5px,#ffffff 11.5px,#a1a1a4 12.5px,#010108 13.5px,#010108 17.5px,#510e6c 18.5px,#d84c3e 19.5px,#ed6925 20.5px,#fa9407 23.5px,#fa9407 27.5px,#e15635 31.5px,#b1325a 34.5px,#9a2865 39.5px,#8d2369 44.5px,#4f0d6c 51.5px,#57106e 56.5px,#5c126e 61.5px,#3b0964 65.5px,#140b34 67.5px,#02020c 68.5px,#02020c 70.5px,#210c4a 72.5px,#380962 73.5px,#5f136e 78.5px,#4f0d6c 87.5px,#781c6d 92.5px,#9a2865 97.5px,#a52c60 103.5px,#df5337 107.5px,#fa9008 111.5px,#fb9706 114.5px,#f98c0a 116.5px,#e05536 119.5px,#6a176e 120.5px,#08051d 121.5px,#010108 122.5px,#010108 125.5px,#6e6e72 126.5px,#ffffff 127.5px,#ffffff 138.5px)"></i><i style="top:49px;background:linear-gradient(90deg,#ffffff 0.5px,#ffffff 11.5px,#e2e2e3 12.5px,#010108 13.5px,#010108 17.5px,#320a5e 18.5px,#b3325a 19.5px,#eb6628 20.5px,#fa9407 23.5px,#fb9d07 27.5px,#f67e14 29.5px,#d54a41 32.5px,#a02a63 35.5px,#952667 39.5px,#9a2865 44.5px,#490b6a 51.5px,#420a68 54.5px,#69166e 60.5px,#510e6c 64.5px,#440a68 65.5px,#120a32 67.5px,#02020c 68.5px,#02020c 70.5px,#3e0966 73.5px,#67166e 77.5px,#59106e 81.5px,#400a67 85.5px,#5c126e 89.5px,#982766 94.5px,#982766 102.5px,#bf3952 105.5px,#ed6925 108.5px,#fb9b06 111.5px,#fb9b06 114.5px,#f8870e 116.5px,#ec6726 118.5px,#cf4446 119.5px,#4a0c6b 120.5px,#010108 121.5px,#010108 125.5px,#afafb1 126.5px,#ffffff 127.5px,#ffffff 138.5px)"></i><i style="top:50px;background:linear-gradient(90deg,#ffffff 0.5px,#ffffff 12.5px,#24242a 13.5px,#010108 14.5px,#010108 17.5px,#190c3e 18.5px,#922568 19.5px,#ee6a24 20.5px,#f98c0a 23.5px,#f98e09 27.5px,#e25734 32.5px,#b1325a 36.5px,#82206c 42.5px,#5f136e 53.5px,#450a69 59.5px,#4c0c6b 65.5px,#230c4c 67.5px,#02020c 68.5px,#02020c 70.5px,#1e0c45 71.5px,#340a5f 72.5px,#490b6a 73.5px,#4d0d6c 82.5px,#781c6d 92.5px,#922568 99.5px,#c63d4d 104.5px,#ee6a24 108.5px,#f98c0a 111.5px,#f78410 116.5px,#ef6e21 118.5px,#b0315b 119.5px,#2d0b59 120.5px,#010108 121.5px,#010108 125.5px,#f0f0f0 126.5px,#ffffff 127.5px,#ffffff 138.5px)"></i><i style="top:51px;background:linear-gradient(90deg,#ffffff 0.5px,#ffffff 12.5px,#656569 13.5px,#010108 14.5px,#010108 17.5px,#08051d 18.5px,#71196e 19.5px,#eb6429 20.5px,#f57d15 21.5px,#f8870e 24.5px,#e75e2e 32.5px,#ad305d 38.5px,#71196e 42.5px,#64156e 45.5px,#801f6c 52.5px,#57106e 56.5px,#290b55 60.5px,#320a5e 63.5px,#490b6a 65.5px,#2d0b59 67.5px,#02020c 68.5px,#02020c 70.5px,#290b55 71.5px,#490b6a 73.5px,#290b55 77.5px,#380962 80.5px,#7a1d6d 85.5px,#7c1d6d 89.5px,#64156e 94.5px,#87216b 98.5px,#c43c4e 102.5px,#eb6429 107.5px,#f78212 113.5px,#f98b0b 115.5px,#f06f20 118.5px,#8d2369 119.5px,#140b34 120.5px,#010108 121.5px,#010108 124.5px,#323238 125.5px,#ffffff 126.5px,#ffffff 138.5px)"></i><i style="top:52px;background:linear-gradient(90deg,#ffffff 0.5px,#ffffff 12.5px,#a5a5a8 13.5px,#010108 14.5px,#010108 18.5px,#4d0d6c 19.5px,#db503b 20.5px,#f57b17 21.5px,#fa9407 24.5px,#f78212 28.5px,#bf3952 36.5px,#751b6e 44.5px,#64156e 55.5px,#3d0965 61.5px,#400a67 65.5px,#210c4a 67.5px,#02020c 68.5px,#02020c 70.5px,#1e0c45 71.5px,#3e0966 73.5px,#450a69 79.5px,#6f196e 86.5px,#741a6e 94.5px,#bd3853 102.5px,#f1731d 109.5px,#f98b0b 112.5px,#fa9207 115.5px,#f67e14 117.5px,#e9612b 118.5px,#67166e 119.5px,#050417 120.5px,#010108 121.5px,#010108 124.5px,#737377 125.5px,#ffffff 126.5px,#ffffff 138.5px)"></i><i style="top:53px;background:linear-gradient(90deg,#ffffff 0.5px,#ffffff 12.5px,#e6e6e7 13.5px,#010108 14.5px,#010108 18.5px,#2d0b59 19.5px,#b3325a 20.5px,#f3761b 21.5px,#fb9706 23.5px,#fca50a 25.5px,#fb9706 28.5px,#dd513a 32.5px,#a62d60 36.5px,#982766 44.5px,#4d0d6c 51.5px,#520e6d 55.5px,#67166e 60.5px,#4c0c6b 64.5px,#400a67 65.5px,#140b34 67.5px,#02020c 68.5px,#02020c 70.5px,#210c4a 72.5px,#3d0965 73.5px,#67166e 78.5px,#490b6a 86.5px,#67166e 90.5px,#9d2964 95.5px,#ad305d 103.5px,#e55c30 107.5px,#fa9407 110.5px,#fca50a 114.5px,#f8890c 116.5px,#f47918 117.5px,#d04545 118.5px,#450a69 119.5px,#010108 120.5px,#010108 124.5px,#b3b3b5 125.5px,#ffffff 126.5px,#ffffff 138.5px)"></i><i style="top:54px;background:linear-gradient(90deg,#ffffff 0.5px,#ffffff 13.5px,#29292f 14.5px,#010108 15.5px,#010108 18.5px,#150b37 19.5px,#8c2369 20.5px,#f06f20 21.5px,#fa9207 23.5px,#fca309 24.5px,#fb9d07 28.5px,#f37819 30.5px,#c13a50 34.5px,#a02a63 37.5px,#9b2964 44.5px,#4a0c6b 52.5px,#57106e 57.5px,#65156e 61.5px,#490b6a 65.5px,#2d0b59 66.5px,#02020c 68.5px,#02020c 70.5px,#280b53 72.5px,#450a69 73.5px,#65156e 77.5px,#490b6a 86.5px,#88226a 92.5px,#9f2a63 96.5px,#a52c60 102.5px,#df5337 106.5px,#fb9b06 110.5px,#fca50a 114.5px,#f8850f 116.5px,#f37819 117.5px,#a92e5e 118.5px,#260c51 119.5px,#010108 120.5px,#010108 124.5px,#f4f4f4 125.5px,#ffffff 127.5px,#ffffff 138.5px)"></i><i style="top:55px;background:linear-gradient(90deg,#ffffff 0.5px,#ffffff 13.5px,#69696d 14.5px,#010108 15.5px,#010108 18.5px,#050417 19.5px,#6a176e 20.5px,#eb6628 21.5px,#f68013 22.5px,#fb9606 25.5px,#f8850f 29.5px,#ce4347 35.5px,#88226a 41.5px,#781c6d 49.5px,#62146e 54.5px,#3e0966 60.5px,#4f0d6c 65.5px,#280b53 67.5px,#02020c 68.5px,#02020c 70.5px,#230c4c 71.5px,#4d0d6c 73.5px,#3e0966 79.5px,#771c6d 88.5px,#801f6c 96.5px,#cb4149 103.5px,#f3761b 108.5px,#f98e09 110.5px,#fb9606 114.5px,#f1711f 117.5px,#87216b 118.5px,#110a30 119.5px,#010108 120.5px,#010108 123.5px,#36363c 124.5px,#ffffff 125.5px,#ffffff 138.5px)"></i><i style="top:56px;background:linear-gradient(90deg,#ffffff 0.5px,#ffffff 13.5px,#aaaaac 14.5px,#010108 15.5px,#010108 19.5px,#490b6a 20.5px,#da4e3c 21.5px,#f78410 22.5px,#f98b0b 26.5px,#e9612b 33.5px,#b63458 38.5px,#6f196e 43.5px,#71196e 47.5px,#84206b 52.5px,#5c126e 56.5px,#2b0b57 60.5px,#340a5f 63.5px,#490b6a 65.5px,#2f0a5b 67.5px,#02020c 68.5px,#02020c 70.5px,#290b55 71.5px,#4a0c6b 73.5px,#290b55 77.5px,#3b0964 80.5px,#7d1e6d 85.5px,#82206c 88.5px,#69166e 94.5px,#82206c 97.5px,#d94d3d 103.5px,#f8850f 110.5px,#f98b0b 115.5px,#f8850f 116.5px,#ec6726 117.5px,#62146e 118.5px,#030210 119.5px,#010108 123.5px,#77777b 124.5px,#ffffff 125.5px,#ffffff 138.5px)"></i><i style="top:57px;background:linear-gradient(90deg,#ffffff 0.5px,#ffffff 13.5px,#eaeaeb 14.5px,#010108 15.5px,#010108 19.5px,#280b53 20.5px,#b3325a 21.5px,#f8850f 22.5px,#fca309 25.5px,#f98b0b 29.5px,#e05536 33.5px,#ab2f5e 39.5px,#721a6e 47.5px,#5a116e 57.5px,#420a68 63.5px,#420a68 65.5px,#1f0c48 67.5px,#02020c 68.5px,#02020c 70.5px,#1c0c43 71.5px,#400a67 73.5px,#540f6d 80.5px,#6a176e 87.5px,#801f6c 94.5px,#cb4149 103.5px,#f3761b 108.5px,#fb9606 111.5px,#fca309 113.5px,#f8870e 116.5px,#d24644 117.5px,#400a67 118.5px,#010108 119.5px,#010108 123.5px,#b8b8ba 124.5px,#ffffff 125.5px,#ffffff 138.5px)"></i><i style="top:58px;background:linear-gradient(90deg,#ffffff 0.5px,#ffffff 14.5px,#2d2d33 15.5px,#010108 16.5px,#010108 19.5px,#110a30 20.5px,#88226a 21.5px,#f57b17 22.5px,#fa9407 23.5px,#fcb418 25.5px,#fb9906 29.5px,#e25734 32.5px,#b0315b 36.5px,#a22b62 44.5px,#4d0d6c 51.5px,#520e6d 55.5px,#6a176e 60.5px,#510e6c 64.5px,#440a68 65.5px,#140b34 67.5px,#02020c 68.5px,#02020c 70.5px,#230c4c 72.5px,#400a67 73.5px,#69166e 77.5px,#62146e 81.5px,#490b6a 86.5px,#6d186e 90.5px,#a02a63 94.5px,#a82e5f 100.5px,#b93556 103.5px,#ed6925 107.5px,#fb9706 109.5px,#fbb61a 113.5px,#fb9706 115.5px,#f8870e 116.5px,#a82e5f 117.5px,#210c4a 118.5px,#010108 119.5px,#010108 123.5px,#f8f8f8 124.5px,#ffffff 138.5px)"></i><i style="top:59px;background:linear-gradient(90deg,#ffffff 0.5px,#ffffff 14.5px,#6d6d71 15.5px,#010108 16.5px,#030210 20.5px,#64156e 21.5px,#ee6a24 22.5px,#fa9008 23.5px,#fcae12 25.5px,#fb9b06 29.5px,#f3761b 31.5px,#c33b4f 35.5px,#a52c60 39.5px,#952667 45.5px,#540f6d 52.5px,#57106e 57.5px,#5f136e 62.5px,#4d0d6c 65.5px,#320a5e 66.5px,#1b0c41 67.5px,#02020c 68.5px,#02020c 70.5px,#2d0b59 72.5px,#490b6a 73.5px,#61136e 77.5px,#520e6d 86.5px,#9a2865 94.5px,#b43359 102.5px,#e65d2f 106.5px,#fb9b06 109.5px,#fcb014 113.5px,#fa9207 115.5px,#f37819 116.5px,#801f6c 117.5px,#0d0829 118.5px,#010108 119.5px,#010108 122.5px,#3b3b40 123.5px,#ffffff 124.5px,#ffffff 138.5px)"></i><i style="top:60px;background:linear-gradient(90deg,#ffffff 0.5px,#ffffff 14.5px,#aeaeb0 15.5px,#010108 16.5px,#010108 20.5px,#420a68 21.5px,#d54a41 22.5px,#f98b0b 23.5px,#fc9f07 26.5px,#f98c0a 30.5px,#db503b 35.5px,#8f2469 41.5px,#7a1d6d 44.5px,#7a1d6d 52.5px,#380962 60.5px,#510e6c 65.5px,#2d0b59 67.5px,#02020c 68.5px,#02020c 70.5px,#280b53 71.5px,#4f0d6c 73.5px,#380962 78.5px,#7d1e6d 87.5px,#82206c 96.5px,#ce4347 102.5px,#f8890c 108.5px,#fb9d07 113.5px,#f98c0a 115.5px,#ed6925 116.5px,#5c126e 117.5px,#010108 118.5px,#010108 122.5px,#ffffff 124.5px,#ffffff 138.5px)"></i><i style="top:61px;background:linear-gradient(90deg,#ffffff 0.5px,#ffffff 14.5px,#efefef 15.5px,#010108 16.5px,#010108 20.5px,#230c4c 21.5px,#ae305c 22.5px,#f98e09 23.5px,#fc9f07 26.5px,#f98c0a 30.5px,#d94d3d 36.5px,#82206c 42.5px,#6f196e 45.5px,#85216b 52.5px,#61136e 56.5px,#2f0a5b 60.5px,#340a5f 63.5px,#490b6a 65.5px,#2f0a5b 67.5px,#02020c 68.5px,#02020c 70.5px,#290b55 71.5px,#490b6a 73.5px,#2b0b57 77.5px,#4f0d6c 81.5px,#7f1e6c 85.5px,#801f6c 89.5px,#71196e 94.5px,#8d2369 97.5px,#e15635 103.5px,#f98e09 109.5px,#fb9906 113.5px,#f98e09 115.5px,#ce4347 116.5px,#3b0964 117.5px,#010108 118.5px,#010108 122.5px,#bcbcbe 123.5px,#ffffff 124.5px,#ffffff 138.5px)"></i><i style="top:62px;background:linear-gradient(90deg,#ffffff 0.5px,#ffffff 15.5px,#313137 16.5px,#010108 17.5px,#010108 20.5px,#0d0829 21.5px,#85216b 22.5px,#f78410 23.5px,#fb9d07 24.5px,#fcb216 26.5px,#fa9008 30.5px,#db503b 34.5px,#a62d60 41.5px,#67166e 51.5px,#540f6d 60.5px,#420a68 65.5px,#1e0c45 67.5px,#02020c 68.5px,#02020c 70.5px,#190c3e 71.5px,#400a67 73.5px,#64156e 85.5px,#7f1e6c 92.5px,#c83f4b 102.5px,#ec6726 106.5px,#f98e09 108.5px,#fcaa0f 111.5px,#fcb418 112.5px,#fa9207 115.5px,#a52c60 116.5px,#1c0c43 117.5px,#010108 118.5px,#010108 122.5px,#fcfcfc 123.5px,#ffffff 138.5px)"></i><i style="top:63px;background:linear-gradient(90deg,#ffffff 0.5px,#ffffff 15.5px,#727276 16.5px,#010108 17.5px,#010108 21.5px,#5f136e 22.5px,#f3761b 23.5px,#fca309 24.5px,#fac026 26.5px,#fbb61a 28.5px,#fb9906 30.5px,#df5337 33.5px,#b3325a 37.5px,#ae305c 43.5px,#85216b 47.5px,#510e6c 51.5px,#4c0c6b 54.5px,#6f196e 60.5px,#470b6a 65.5px,#150b37 67.5px,#02020c 68.5px,#02020c 70.5px,#240c4f 72.5px,#420a68 73.5px,#6a176e 77.5px,#6c186e 80.5px,#4a0c6b 85.5px,#59106e 88.5px,#a62d60 94.5px,#b1325a 99.5px,#b93556 102.5px,#db503b 105.5px,#fb9606 108.5px,#fac228 112.5px,#fca60c 114.5px,#f78410 115.5px,#7c1d6d 116.5px,#0a0722 117.5px,#010108 118.5px,#010108 121.5px,#3f3f44 122.5px,#ffffff 123.5px,#ffffff 138.5px)"></i><i style="top:64px;background:linear-gradient(90deg,#ffffff 0.5px,#ffffff 15.5px,#b2b2b4 16.5px,#010108 17.5px,#010108 21.5px,#3d0965 22.5px,#d34743 23.5px,#fb9d07 24.5px,#fbbc21 27.5px,#fb9d07 30.5px,#f37819 32.5px,#d24644 35.5px,#a92e5e 40.5px,#801f6c 48.5px,#59106e 53.5px,#540f6d 64.5px,#4f0d6c 65.5px,#380962 66.5px,#1f0c48 67.5px,#02020c 68.5px,#02020c 70.5px,#1b0c41 71.5px,#320a5e 72.5px,#4c0c6b 73.5px,#5a116e 80.5px,#5d126e 86.5px,#9a2865 94.5px,#b93556 101.5px,#e75e2e 105.5px,#f98b0b 107.5px,#fca60c 109.5px,#fbba1f 111.5px,#fc9f07 114.5px,#ec6726 115.5px,#57106e 116.5px,#010108 117.5px,#010108 121.5px,#ffffff 123.5px,#ffffff 138.5px)"></i><i style="top:65px;background:linear-gradient(90deg,#ffffff 0.5px,#ffffff 15.5px,#f3f3f3 16.5px,#010108 17.5px,#010108 21.5px,#1e0c45 22.5px,#a62d60 23.5px,#fa9407 24.5px,#fcac11 27.5px,#fb9606 31.5px,#db503b 36.5px,#952667 41.5px,#7a1d6d 44.5px,#84206b 52.5px,#3b0964 59.5px,#340a5f 62.5px,#510e6c 65.5px,#310a5c 67.5px,#02020c 68.5px,#02020c 70.5px,#2b0b57 71.5px,#4f0d6c 73.5px,#320a5e 77.5px,#4d0d6c 81.5px,#82206c 86.5px,#801f6c 91.5px,#7f1e6c 95.5px,#bc3754 100.5px,#eb6429 104.5px,#fa9207 107.5px,#fcaa0f 111.5px,#fb9606 114.5px,#c73e4c 115.5px,#340a5f 116.5px,#010108 117.5px,#010108 121.5px,#c0c0c2 122.5px,#ffffff 123.5px,#ffffff 138.5px)"></i><i style="top:66px;background:linear-gradient(90deg,#ffffff 0.5px,#ffffff 16.5px,#36363b 17.5px,#010108 18.5px,#010108 21.5px,#0a0722 22.5px,#7d1e6d 23.5px,#f68013 24.5px,#fb9906 25.5px,#fca309 28.5px,#f8850f 32.5px,#d34743 37.5px,#82206c 43.5px,#751b6e 46.5px,#84206b 52.5px,#4c0c6b 58.5px,#320a5e 62.5px,#490b6a 65.5px,#2d0b59 67.5px,#02020c 68.5px,#02020c 70.5px,#280b53 71.5px,#490b6a 73.5px,#320a5e 77.5px,#61136e 82.5px,#82206c 86.5px,#781c6d 94.5px,#b43359 99.5px,#e45a31 103.5px,#fb9606 108.5px,#fca80d 111.5px,#f98e09 114.5px,#9d2964 115.5px,#180c3c 116.5px,#010108 117.5px,#03030a 121.5px,#ffffff 122.5px,#ffffff 138.5px)"></i><i style="top:67px;background:linear-gradient(90deg,#ffffff 0.5px,#ffffff 16.5px,#76767a 17.5px,#010108 18.5px,#010108 22.5px,#57106e 23.5px,#ee6a24 24.5px,#fca309 25.5px,#fbb61a 27.5px,#fca60c 29.5px,#f98c0a 31.5px,#d54a41 35.5px,#87216b 46.5px,#5f136e 52.5px,#5f136e 60.5px,#440a68 65.5px,#1b0c41 67.5px,#02020c 68.5px,#02020c 70.5px,#180c3c 71.5px,#420a68 73.5px,#64156e 80.5px,#62146e 87.5px,#b73557 99.5px,#de5238 104.5px,#fb9606 108.5px,#fbb81d 111.5px,#fca50a 113.5px,#f78212 114.5px,#741a6e 115.5px,#060419 116.5px,#010108 117.5px,#010108 120.5px,#434348 121.5px,#ffffff 122.5px,#ffffff 138.5px)"></i><i style="top:68px;background:linear-gradient(90deg,#ffffff 0.5px,#ffffff 16.5px,#b7b7b9 17.5px,#010108 18.5px,#010108 22.5px,#340a5f 23.5px,#cb4149 24.5px,#fca309 25.5px,#fbbe23 27.5px,#fac026 28.5px,#fc9f07 30.5px,#f57b17 32.5px,#cc4248 35.5px,#b3325a 39.5px,#b3325a 43.5px,#7a1d6d 48.5px,#4c0c6b 52.5px,#59106e 56.5px,#721a6e 60.5px,#550f6d 64.5px,#4a0c6b 65.5px,#160b39 67.5px,#02020c 68.5px,#02020c 70.5px,#280b53 72.5px,#450a69 73.5px,#6f196e 77.5px,#6c186e 80.5px,#4a0c6b 85.5px,#5c126e 88.5px,#a92e5e 94.5px,#b63458 98.5px,#c03a51 102.5px,#e75e2e 105.5px,#f98b0b 107.5px,#fb9d07 108.5px,#fbbe23 110.5px,#fcb418 112.5px,#fca60c 113.5px,#e8602d 114.5px,#4f0d6c 115.5px,#010108 116.5px,#010108 120.5px,#ffffff 122.5px,#ffffff 138.5px)"></i><i style="top:69px;background:linear-gradient(90deg,#ffffff 0.5px,#ffffff 16.5px,#f7f7f7 17.5px,#010108 18.5px,#010108 22.5px,#180c3c 23.5px,#9d2964 24.5px,#fa9207 25.5px,#fbb61a 28.5px,#fa9407 31.5px,#e8602d 34.5px,#bc3754 38.5px,#8c2369 46.5px,#550f6d 56.5px,#520e6d 65.5px,#240c4f 67.5px,#02020c 68.5px,#02020c 70.5px,#1f0c48 71.5px,#380962 72.5px,#510e6c 73.5px,#5c126e 84.5px,#ae305c 99.5px,#e65d2f 104.5px,#fa9207 107.5px,#fbb61a 110.5px,#fb9906 113.5px,#bd3853 114.5px,#2b0b57 115.5px,#010108 116.5px,#010108 120.5px,#c4c4c6 121.5px,#ffffff 122.5px,#ffffff 138.5px)"></i><i style="top:70px;background:linear-gradient(90deg,#ffffff 0.5px,#ffffff 17.5px,#3a3a3f 18.5px,#010108 19.5px,#010108 22.5px,#060419 23.5px,#721a6e 24.5px,#f37819 25.5px,#fa9207 26.5px,#fca309 29.5px,#f8850f 33.5px,#d74b3f 37.5px,#972766 41.5px,#771c6d 45.5px,#88226a 52.5px,#440a68 58.5px,#320a5e 61.5px,#520e6d 65.5px,#320a5e 67.5px,#02020c 68.5px,#02020c 70.5px,#2f0a5b 71.5px,#520e6d 73.5px,#340a5f 77.5px,#420a68 80.5px,#87216b 86.5px,#84206b 90.5px,#781c6d 94.5px,#a22b62 98.5px,#e05536 102.5px,#f98e09 106.5px,#fca50a 110.5px,#f78410 113.5px,#902568 114.5px,#120a32 115.5px,#010108 116.5px,#07070e 120.5px,#ffffff 121.5px,#ffffff 138.5px)"></i><i style="top:71px;background:linear-gradient(90deg,#ffffff 0.5px,#ffffff 17.5px,#010108 19.5px,#010108 23.5px,#4f0d6c 24.5px,#e35933 25.5px,#fa9407 26.5px,#fca50a 29.5px,#f98b0b 32.5px,#d74b3f 37.5px,#952667 42.5px,#771c6d 46.5px,#7c1d6d 53.5px,#3d0965 61.5px,#4a0c6b 65.5px,#2b0b57 67.5px,#02020c 68.5px,#02020c 70.5px,#260c51 71.5px,#490b6a 73.5px,#3d0965 77.5px,#7d1e6d 86.5px,#7a1d6d 93.5px,#ab2f5e 98.5px,#ef6e21 104.5px,#fa9008 107.5px,#fca309 110.5px,#fb9606 112.5px,#f2741c 113.5px,#69166e 114.5px,#030210 115.5px,#010108 119.5px,#48484d 120.5px,#ffffff 121.5px,#ffffff 138.5px)"></i><i style="top:72px;background:linear-gradient(90deg,#ffffff 0.5px,#ffffff 17.5px,#bbbbbd 18.5px,#010108 19.5px,#010108 23.5px,#2d0b59 24.5px,#c03a51 25.5px,#fb9d07 26.5px,#fcb014 29.5px,#fc9f07 30.5px,#f06f20 33.5px,#cf4446 36.5px,#982766 45.5px,#5d126e 51.5px,#5c126e 55.5px,#69166e 60.5px,#470b6a 65.5px,#1b0c41 67.5px,#02020c 68.5px,#02020c 70.5px,#160b39 71.5px,#440a68 73.5px,#6a176e 79.5px,#59106e 86.5px,#7d1e6d 91.5px,#b0315b 96.5px,#d84c3e 103.5px,#f98c0a 107.5px,#fcae12 109.5px,#fc9f07 112.5px,#df5337 113.5px,#470b6a 114.5px,#010108 115.5px,#010108 119.5px,#88888b 120.5px,#ffffff 121.5px,#ffffff 138.5px)"></i><i style="top:73px;background:linear-gradient(90deg,#ffffff 0.5px,#fcfcfc 18.5px,#010108 19.5px,#010108 23.5px,#120a32 24.5px,#952667 25.5px,#fa9207 26.5px,#fcb216 28.5px,#fbb61a 29.5px,#fa9407 31.5px,#d84c3e 35.5px,#bc3754 38.5px,#ad305d 44.5px,#550f6d 51.5px,#510e6c 55.5px,#71196e 61.5px,#4f0d6c 65.5px,#320a5e 66.5px,#190c3e 67.5px,#02020c 68.5px,#02020c 70.5px,#2d0b59 72.5px,#4a0c6b 73.5px,#71196e 77.5px,#61136e 81.5px,#4c0c6b 85.5px,#6a176e 89.5px,#ab2f5e 94.5px,#c73e4c 102.5px,#f57d15 106.5px,#fca309 108.5px,#fbb61a 109.5px,#fc9f07 112.5px,#b63458 113.5px,#240c4f 114.5px,#010108 115.5px,#010108 119.5px,#c9c9ca 120.5px,#ffffff 121.5px,#ffffff 138.5px)"></i><i style="top:74px;background:linear-gradient(90deg,#ffffff 0.5px,#ffffff 18.5px,#3e3e43 19.5px,#010108 20.5px,#010108 23.5px,#040312 24.5px,#6a176e 25.5px,#f3761b 26.5px,#fb9906 27.5px,#fcaa0f 29.5px,#f98e09 32.5px,#db503b 36.5px,#a22b62 41.5px,#4f0d6c 59.5px,#550f6d 65.5px,#290b55 67.5px,#02020c 68.5px,#02020c 70.5px,#240c4f 71.5px,#3e0966 72.5px,#540f6d 73.5px,#550f6d 82.5px,#8d2369 93.5px,#b63458 99.5px,#e55c30 103.5px,#fb9706 107.5px,#fcac11 109.5px,#fb9b06 111.5px,#f78410 112.5px,#87216b 113.5px,#0e092b 114.5px,#010108 115.5px,#010108 118.5px,#0b0b12 119.5px,#ffffff 120.5px,#ffffff 138.5px)"></i><i style="top:75px;background:linear-gradient(90deg,#ffffff 0.5px,#ffffff 18.5px,#010108 20.5px,#010108 24.5px,#450a69 25.5px,#d74b3f 26.5px,#f98c0a 27.5px,#fca50a 30.5px,#f98c0a 33.5px,#dd513a 37.5px,#982766 41.5px,#7a1d6d 44.5px,#801f6c 48.5px,#8a226a 52.5px,#5f136e 56.5px,#320a5e 60.5px,#470b6a 64.5px,#520e6d 65.5px,#360961 67.5px,#02020c 68.5px,#02020c 70.5px,#310a5c 71.5px,#520e6d 73.5px,#320a5e 77.5px,#4c0c6b 81.5px,#8a226a 86.5px,#801f6c 90.5px,#7a1d6d 94.5px,#952667 97.5px,#e65d2f 102.5px,#fa9407 106.5px,#fca309 108.5px,#f98e09 111.5px,#ee6a24 112.5px,#5f136e 113.5px,#02010a 114.5px,#010108 118.5px,#4c4c51 119.5px,#ffffff 120.5px,#ffffff 138.5px)"></i><i style="top:76px;background:linear-gradient(90deg,#ffffff 0.5px,#ffffff 18.5px,#bfbfc1 19.5px,#010108 20.5px,#010108 24.5px,#240c4f 25.5px,#b1325a 26.5px,#fa9008 27.5px,#fca50a 30.5px,#f78212 33.5px,#c33b4f 39.5px,#8a226a 44.5px,#771c6d 48.5px,#71196e 54.5px,#450a69 61.5px,#4c0c6b 65.5px,#290b55 67.5px,#02020c 68.5px,#02020c 70.5px,#240c4f 71.5px,#4a0c6b 73.5px,#4c0c6b 79.5px,#771c6d 86.5px,#82206c 93.5px,#c03a51 99.5px,#f68013 105.5px,#fca309 108.5px,#fa9207 111.5px,#d04545 112.5px,#3d0965 113.5px,#010108 114.5px,#010108 118.5px,#8c8c90 119.5px,#ffffff 120.5px,#ffffff 138.5px)"></i><i style="top:77px;background:linear-gradient(90deg,#ffffff 0.5px,#ffffff 19.5px,#020209 20.5px,#010108 24.5px,#0e092b 25.5px,#8a226a 26.5px,#f8890c 27.5px,#fca108 28.5px,#fca60c 30.5px,#fb9706 31.5px,#d54a41 36.5px,#9f2a63 45.5px,#57106e 51.5px,#59106e 55.5px,#6c186e 61.5px,#4c0c6b 65.5px,#310a5c 66.5px,#190c3e 67.5px,#02020c 68.5px,#02020c 70.5px,#160b39 71.5px,#470b6a 73.5px,#6c186e 77.5px,#5a116e 83.5px,#57106e 87.5px,#801f6c 91.5px,#b0315b 95.5px,#d34743 102.5px,#fa9407 107.5px,#fca80d 108.5px,#fb9706 111.5px,#a92e5e 112.5px,#1e0c45 113.5px,#010108 114.5px,#010108 118.5px,#cdcdce 119.5px,#ffffff 120.5px,#ffffff 138.5px)"></i><i style="top:78px;background:linear-gradient(90deg,#ffffff 0.5px,#ffffff 19.5px,#424248 20.5px,#010108 21.5px,#02010a 25.5px,#62146e 26.5px,#f37819 27.5px,#fc9f07 28.5px,#fca80d 30.5px,#f98b0b 32.5px,#d54a41 36.5px,#b93556 40.5px,#a32c61 45.5px,#540f6d 52.5px,#57106e 56.5px,#6d186e 61.5px,#540f6d 65.5px,#380962 66.5px,#1e0c45 67.5px,#02020c 68.5px,#02020c 70.5px,#190c3e 71.5px,#320a5e 72.5px,#4f0d6c 73.5px,#6d186e 77.5px,#4f0d6c 85.5px,#6d186e 89.5px,#a92e5e 94.5px,#c83f4b 101.5px,#f2741c 105.5px,#fb9b06 107.5px,#fca80d 108.5px,#fca108 110.5px,#f8850f 111.5px,#7f1e6c 112.5px,#0a0722 113.5px,#010108 114.5px,#010108 117.5px,#101016 118.5px,#ffffff 119.5px,#ffffff 138.5px)"></i><i style="top:79px;background:linear-gradient(90deg,#ffffff 0.5px,#ffffff 19.5px,#010108 21.5px,#010108 25.5px,#3d0965 26.5px,#d04545 27.5px,#fa9207 28.5px,#fca60c 31.5px,#f98b0b 33.5px,#d94d3d 37.5px,#982766 42.5px,#71196e 53.5px,#450a69 59.5px,#59106e 65.5px,#2f0a5b 67.5px,#02020c 68.5px,#02020c 70.5px,#290b55 71.5px,#57106e 73.5px,#450a69 79.5px,#7f1e6c 88.5px,#972766 96.5px,#d74b3f 101.5px,#f8890c 105.5px,#fca309 107.5px,#fa9407 110.5px,#ea632a 111.5px,#57106e 112.5px,#010108 113.5px,#010108 117.5px,#505055 118.5px,#ffffff 119.5px,#ffffff 138.5px)"></i><i style="top:80px;background:linear-gradient(90deg,#ffffff 0.5px,#ffffff 19.5px,#c4c4c5 20.5px,#010108 21.5px,#010108 25.5px,#1e0c45 26.5px,#a22b62 27.5px,#f8870e 28.5px,#fca50a 31.5px,#f8870e 34.5px,#d44842 38.5px,#8d2369 42.5px,#781c6d 46.5px,#8a226a 52.5px,#61136e 56.5px,#310a5c 60.5px,#3d0965 63.5px,#540f6d 65.5px,#360961 67.5px,#02020c 68.5px,#02020c 70.5px,#310a5c 71.5px,#540f6d 73.5px,#310a5c 77.5px,#400a67 80.5px,#8a226a 86.5px,#7a1d6d 94.5px,#9b2964 97.5px,#e05536 101.5px,#fa9008 105.5px,#fca50a 107.5px,#f8890c 110.5px,#c13a50 111.5px,#340a5f 112.5px,#010108 113.5px,#010108 117.5px,#919194 118.5px,#ffffff 119.5px,#ffffff 138.5px)"></i><i style="top:81px;background:linear-gradient(90deg,#ffffff 0.5px,#ffffff 20.5px,#06060d 21.5px,#010108 25.5px,#0a0722 26.5px,#7a1d6d 27.5px,#f3761b 28.5px,#f98c0a 29.5px,#fb9906 31.5px,#e65d2f 36.5px,#a32c61 42.5px,#741a6e 49.5px,#59106e 58.5px,#4a0c6b 64.5px,#4c0c6b 65.5px,#260c51 67.5px,#02020c 68.5px,#02020c 70.5px,#210c4a 71.5px,#4a0c6b 73.5px,#57106e 80.5px,#88226a 93.5px,#c63d4d 99.5px,#f68013 105.5px,#fb9b06 107.5px,#f78410 110.5px,#982766 111.5px,#180c3c 112.5px,#010108 113.5px,#010108 117.5px,#d1d1d3 118.5px,#ffffff 119.5px,#ffffff 138.5px)"></i><i style="top:82px;background:linear-gradient(90deg,#ffffff 0.5px,#ffffff 20.5px,#47474c 21.5px,#010108 22.5px,#010108 26.5px,#550f6d 27.5px,#e9612b 28.5px,#f98e09 29.5px,#fa9207 31.5px,#d94d3d 36.5px,#a52c60 45.5px,#540f6d 51.5px,#510e6c 54.5px,#6f196e 60.5px,#57106e 64.5px,#4c0c6b 65.5px,#310a5c 66.5px,#190c3e 67.5px,#02020c 68.5px,#02020c 70.5px,#2b0b57 72.5px,#490b6a 73.5px,#6d186e 77.5px,#65156e 81.5px,#4d0d6c 86.5px,#751b6e 90.5px,#ad305d 94.5px,#d74b3f 102.5px,#fa9207 107.5px,#f98e09 109.5px,#f2741c 110.5px,#721a6e 111.5px,#060419 112.5px,#010108 113.5px,#010108 116.5px,#14141a 117.5px,#ffffff 118.5px,#ffffff 138.5px)"></i><i style="top:83px;background:linear-gradient(90deg,#ffffff 0.5px,#ffffff 20.5px,#87878b 21.5px,#010108 22.5px,#010108 26.5px,#320a5e 27.5px,#c13a50 28.5px,#f8870e 29.5px,#f98e09 32.5px,#d24644 37.5px,#8d2369 47.5px,#59106e 52.5px,#59106e 57.5px,#61136e 63.5px,#540f6d 65.5px,#390963 66.5px,#1f0c48 67.5px,#02020c 68.5px,#02020c 70.5px,#1b0c41 71.5px,#340a5f 72.5px,#510e6c 73.5px,#65156e 77.5px,#540f6d 85.5px,#71196e 89.5px,#a62d60 94.5px,#d04545 101.5px,#f98b0b 106.5px,#f8890c 109.5px,#df5337 110.5px,#4c0c6b 111.5px,#010108 112.5px,#010108 116.5px,#555559 117.5px,#ffffff 118.5px,#ffffff 138.5px)"></i><i style="top:84px;background:linear-gradient(90deg,#ffffff 0.5px,#ffffff 20.5px,#c8c8c9 21.5px,#010108 22.5px,#010108 26.5px,#160b39 27.5px,#922568 28.5px,#f3761b 29.5px,#fb9706 32.5px,#eb6429 36.5px,#b3325a 40.5px,#88226a 44.5px,#7d1e6d 52.5px,#3b0964 60.5px,#57106e 65.5px,#310a5c 67.5px,#02020c 68.5px,#02020c 70.5px,#2d0b59 71.5px,#550f6d 73.5px,#3b0964 78.5px,#62146e 83.5px,#84206b 88.5px,#8c2369 95.5px,#cf4446 100.5px,#f67e14 104.5px,#fb9706 106.5px,#f57d15 109.5px,#b1325a 110.5px,#290b55 111.5px,#010108 112.5px,#010108 116.5px,#959598 117.5px,#ffffff 118.5px,#ffffff 138.5px)"></i><i style="top:85px;background:linear-gradient(90deg,#ffffff 0.5px,#ffffff 21.5px,#0a0a11 22.5px,#010108 26.5px,#060419 27.5px,#6a176e 28.5px,#e8602d 29.5px,#f78410 31.5px,#f98e09 33.5px,#e65d2f 37.5px,#a52c60 41.5px,#7d1e6d 44.5px,#84206b 53.5px,#450a69 58.5px,#2f0a5b 61.5px,#4f0d6c 65.5px,#320a5e 67.5px,#02020c 68.5px,#02020c 70.5px,#2d0b59 71.5px,#4f0d6c 73.5px,#310a5c 77.5px,#440a68 80.5px,#82206c 85.5px,#801f6c 90.5px,#7d1e6d 94.5px,#b3325a 98.5px,#ed6925 102.5px,#fa9407 106.5px,#ef6c23 109.5px,#85216b 110.5px,#120a32 111.5px,#010108 112.5px,#010108 116.5px,#d6d6d7 117.5px,#ffffff 118.5px,#ffffff 138.5px)"></i><i style="top:86px;background:linear-gradient(90deg,#ffffff 0.5px,#ffffff 21.5px,#4b4b50 22.5px,#010108 23.5px,#010108 27.5px,#490b6a 28.5px,#d44842 29.5px,#f3761b 30.5px,#f57d15 33.5px,#c13a50 40.5px,#781c6d 48.5px,#62146e 56.5px,#490b6a 65.5px,#210c4a 67.5px,#02020c 68.5px,#02020c 70.5px,#1c0c43 71.5px,#450a69 73.5px,#771c6d 90.5px,#bf3952 98.5px,#f57b17 105.5px,#f3761b 108.5px,#e65d2f 109.5px,#61136e 110.5px,#040312 111.5px,#010108 114.5px,#010108 115.5px,#18181f 116.5px,#ffffff 117.5px,#ffffff 138.5px)"></i><i style="top:87px;background:linear-gradient(90deg,#ffffff 0.5px,#ffffff 21.5px,#8c8c8f 22.5px,#010108 23.5px,#010108 27.5px,#280b53 28.5px,#ae305c 29.5px,#f1731d 30.5px,#f1731d 33.5px,#d24644 37.5px,#b1325a 44.5px,#5c126e 50.5px,#4a0c6b 53.5px,#71196e 60.5px,#57106e 64.5px,#4c0c6b 65.5px,#2f0a5b 66.5px,#180c3c 67.5px,#02020c 68.5px,#02020c 70.5px,#290b55 72.5px,#470b6a 73.5px,#6d186e 77.5px,#64156e 81.5px,#4a0c6b 85.5px,#5a116e 88.5px,#b0315b 94.5px,#df5337 103.5px,#f1731d 106.5px,#f2741c 108.5px,#cb4149 109.5px,#400a67 110.5px,#010108 111.5px,#010108 115.5px,#59595d 116.5px,#ffffff 117.5px,#ffffff 138.5px)"></i><i style="top:88px;background:linear-gradient(90deg,#ffffff 0.5px,#ffffff 21.5px,#ccccce 22.5px,#010108 23.5px,#010108 27.5px,#110a30 28.5px,#84206b 29.5px,#ec6726 30.5px,#f47918 33.5px,#c43c4e 39.5px,#781c6d 49.5px,#57106e 54.5px,#57106e 64.5px,#540f6d 65.5px,#3b0964 66.5px,#210c4a 67.5px,#02020c 68.5px,#02020c 70.5px,#1e0c45 71.5px,#360961 72.5px,#510e6c 73.5px,#5a116e 79.5px,#59106e 85.5px,#b43359 97.5px,#e65d2f 103.5px,#f47918 105.5px,#f06f20 108.5px,#a02a63 109.5px,#1f0c48 110.5px,#010108 111.5px,#010108 115.5px,#99999c 116.5px,#ffffff 117.5px,#ffffff 138.5px)"></i><i style="top:89px;background:linear-gradient(90deg,#ffffff 0.5px,#ffffff 22.5px,#0f0f15 23.5px,#010108 25.5px,#040312 28.5px,#5c126e 29.5px,#e05536 30.5px,#f06f20 31.5px,#f78410 33.5px,#f3761b 35.5px,#c73e4c 39.5px,#8c2369 43.5px,#82206c 47.5px,#84206b 52.5px,#420a68 58.5px,#340a5f 61.5px,#540f6d 65.5px,#320a5e 67.5px,#02020c 68.5px,#02020c 70.5px,#2d0b59 71.5px,#540f6d 73.5px,#340a5f 77.5px,#4a0c6b 81.5px,#82206c 86.5px,#84206b 94.5px,#b1325a 98.5px,#eb6429 102.5px,#f8850f 105.5px,#e75e2e 108.5px,#751b6e 109.5px,#0c0826 110.5px,#010108 111.5px,#010108 115.5px,#dadadb 116.5px,#ffffff 117.5px,#ffffff 138.5px)"></i><i style="top:90px;background:linear-gradient(90deg,#ffffff 0.5px,#ffffff 22.5px,#4f4f54 23.5px,#010108 24.5px,#010108 28.5px,#3b0964 29.5px,#c03a51 30.5px,#eb6628 31.5px,#f67e14 34.5px,#da4e3c 38.5px,#8d2369 43.5px,#7c1d6d 46.5px,#7f1e6c 53.5px,#3d0965 59.5px,#340a5f 62.5px,#4c0c6b 65.5px,#2f0a5b 67.5px,#02020c 68.5px,#02020c 70.5px,#290b55 71.5px,#4c0c6b 73.5px,#320a5e 77.5px,#520e6d 81.5px,#7f1e6c 85.5px,#82206c 94.5px,#b73557 98.5px,#ec6726 102.5px,#f67e14 105.5px,#ed6925 107.5px,#d94d3d 108.5px,#520e6d 109.5px,#02010a 110.5px,#010108 114.5px,#1d1d23 115.5px,#ffffff 116.5px,#ffffff 138.5px)"></i><i style="top:91px;background:linear-gradient(90deg,#ffffff 0.5px,#ffffff 22.5px,#909093 23.5px,#010108 24.5px,#010108 28.5px,#1e0c45 29.5px,#972766 30.5px,#e75e2e 31.5px,#ed6925 34.5px,#b43359 42.5px,#67166e 50.5px,#61136e 56.5px,#510e6c 63.5px,#450a69 65.5px,#1c0c43 67.5px,#02020c 68.5px,#02020c 70.5px,#190c3e 71.5px,#440a68 73.5px,#61136e 81.5px,#65156e 88.5px,#b3325a 96.5px,#eb6628 104.5px,#e8602d 107.5px,#b43359 108.5px,#340a5f 109.5px,#010108 110.5px,#010108 114.5px,#5d5d62 115.5px,#ffffff 116.5px,#ffffff 138.5px)"></i><i style="top:92px;background:linear-gradient(90deg,#ffffff 0.5px,#ffffff 22.5px,#d1d1d2 23.5px,#010108 24.5px,#010108 28.5px,#0c0826 29.5px,#721a6e 30.5px,#de5238 31.5px,#e35933 33.5px,#b43359 44.5px,#5d126e 50.5px,#4a0c6b 53.5px,#6f196e 60.5px,#57106e 64.5px,#4c0c6b 65.5px,#2f0a5b 66.5px,#02020c 68.5px,#02020c 70.5px,#280b53 72.5px,#470b6a 73.5px,#6d186e 77.5px,#62146e 81.5px,#4a0c6b 85.5px,#5c126e 88.5px,#b3325a 94.5px,#dd513a 103.5px,#e35933 105.5px,#e45a31 107.5px,#8d2369 108.5px,#180c3c 109.5px,#010108 110.5px,#010108 114.5px,#9e9ea0 115.5px,#ffffff 116.5px,#ffffff 138.5px)"></i><i style="top:93px;background:linear-gradient(90deg,#ffffff 0.5px,#ffffff 23.5px,#13131a 24.5px,#010108 25.5px,#02010a 29.5px,#510e6c 30.5px,#d44842 31.5px,#e65d2f 32.5px,#e8602d 35.5px,#ab2f5e 42.5px,#57106e 55.5px,#520e6d 65.5px,#240c4f 67.5px,#02020c 68.5px,#02020c 70.5px,#1f0c48 71.5px,#380962 72.5px,#4f0d6c 73.5px,#5a116e 84.5px,#a92e5e 96.5px,#eb6628 104.5px,#db503b 107.5px,#69166e 108.5px,#09061f 109.5px,#010108 110.5px,#010108 114.5px,#dededf 115.5px,#ffffff 116.5px,#ffffff 138.5px)"></i><i style="top:94px;background:linear-gradient(90deg,#ffffff 0.5px,#ffffff 23.5px,#545458 24.5px,#010108 25.5px,#010108 29.5px,#310a5c 30.5px,#ae305c 31.5px,#e65d2f 32.5px,#f2741c 35.5px,#c83f4b 39.5px,#8a226a 43.5px,#82206c 47.5px,#87216b 52.5px,#5c126e 56.5px,#2d0b59 60.5px,#450a69 64.5px,#510e6c 65.5px,#320a5e 67.5px,#02020c 68.5px,#02020c 70.5px,#2d0b59 71.5px,#510e6c 73.5px,#2f0a5b 77.5px,#3d0965 80.5px,#87216b 86.5px,#82206c 94.5px,#a22b62 97.5px,#e25734 101.5px,#f2741c 104.5px,#e75e2e 106.5px,#cb4149 107.5px,#470b6a 108.5px,#010108 109.5px,#010108 113.5px,#212127 114.5px,#ffffff 115.5px,#ffffff 138.5px)"></i><i style="top:95px;background:linear-gradient(90deg,#ffffff 0.5px,#ffffff 23.5px,#949497 24.5px,#010108 25.5px,#010108 29.5px,#180c3c 30.5px,#85216b 31.5px,#df5337 32.5px,#ef6c23 35.5px,#cc4248 39.5px,#8a226a 44.5px,#7d1e6d 50.5px,#741a6e 54.5px,#360961 61.5px,#470b6a 65.5px,#290b55 67.5px,#02020c 68.5px,#02020c 70.5px,#260c51 71.5px,#470b6a 73.5px,#380962 78.5px,#7d1e6d 86.5px,#88226a 94.5px,#ca404a 99.5px,#ee6a24 103.5px,#e15635 106.5px,#a02a63 107.5px,#290b55 108.5px,#010108 109.5px,#010108 113.5px,#616166 114.5px,#ffffff 115.5px,#ffffff 138.5px)"></i><i style="top:96px;background:linear-gradient(90deg,#ffffff 0.5px,#ffffff 23.5px,#d5d5d6 24.5px,#010108 25.5px,#010108 29.5px,#08051d 30.5px,#62146e 31.5px,#ce4347 32.5px,#da4e3c 36.5px,#a92e5e 44.5px,#5a116e 51.5px,#61136e 60.5px,#440a68 65.5px,#180c3c 67.5px,#02020c 68.5px,#02020c 70.5px,#150b37 71.5px,#400a67 73.5px,#64156e 79.5px,#5a116e 87.5px,#b0315b 95.5px,#de5238 103.5px,#d44842 106.5px,#7a1d6d 107.5px,#120a32 108.5px,#010108 109.5px,#010108 113.5px,#a2a2a5 114.5px,#ffffff 115.5px,#ffffff 138.5px)"></i><i style="top:97px;background:linear-gradient(90deg,#ffffff 0.5px,#ffffff 24.5px,#17171e 25.5px,#010108 26.5px,#010108 30.5px,#440a68 31.5px,#bd3853 32.5px,#d34743 33.5px,#bf3952 42.5px,#9d2964 46.5px,#540f6d 51.5px,#4c0c6b 54.5px,#6a176e 60.5px,#550f6d 64.5px,#4a0c6b 65.5px,#2f0a5b 66.5px,#02020c 68.5px,#02020c 70.5px,#290b55 72.5px,#470b6a 73.5px,#69166e 77.5px,#5f136e 81.5px,#4a0c6b 85.5px,#5c126e 88.5px,#b1325a 94.5px,#d24644 104.5px,#c83f4b 106.5px,#59106e 107.5px,#050417 108.5px,#010108 109.5px,#010108 113.5px,#e3e3e3 114.5px,#ffffff 115.5px,#ffffff 138.5px)"></i><i style="top:98px;background:linear-gradient(90deg,#ffffff 0.5px,#ffffff 24.5px,#58585d 25.5px,#010108 26.5px,#010108 30.5px,#260c51 31.5px,#9a2865 32.5px,#d74b3f 33.5px,#df5337 36.5px,#9d2964 43.5px,#490b6a 59.5px,#510e6c 65.5px,#260c51 67.5px,#02020c 68.5px,#02020c 70.5px,#230c4c 71.5px,#4f0d6c 73.5px,#4c0c6b 80.5px,#9b2964 95.5px,#de5238 102.5px,#d84c3e 105.5px,#b43359 106.5px,#3b0964 107.5px,#010108 108.5px,#010108 112.5px,#25252b 113.5px,#ffffff 114.5px,#ffffff 138.5px)"></i><i style="top:99px;background:linear-gradient(90deg,#ffffff 0.5px,#ffffff 24.5px,#99999b 25.5px,#010108 26.5px,#010108 30.5px,#110a30 31.5px,#751b6e 32.5px,#d34743 33.5px,#e8602d 36.5px,#b43359 40.5px,#7d1e6d 44.5px,#87216b 52.5px,#5c126e 56.5px,#290b55 60.5px,#2b0b57 62.5px,#4c0c6b 65.5px,#310a5c 67.5px,#02020c 68.5px,#02020c 70.5px,#2b0b57 71.5px,#4c0c6b 73.5px,#260c51 77.5px,#4a0c6b 81.5px,#87216b 86.5px,#7c1d6d 94.5px,#b1325a 98.5px,#e75e2e 102.5px,#d84c3e 105.5px,#8f2469 106.5px,#1f0c48 107.5px,#010108 108.5px,#010108 112.5px,#66666a 113.5px,#ffffff 114.5px,#ffffff 138.5px)"></i><i style="top:100px;background:linear-gradient(90deg,#ffffff 0.5px,#ffffff 24.5px,#d9d9da 25.5px,#010108 26.5px,#010108 30.5px,#050417 31.5px,#520e6d 32.5px,#bf3952 33.5px,#d84c3e 35.5px,#d04545 38.5px,#8c2369 44.5px,#741a6e 52.5px,#510e6c 58.5px,#390963 62.5px,#420a68 65.5px,#230c4c 67.5px,#02020c 68.5px,#02020c 70.5px,#1f0c48 71.5px,#400a67 73.5px,#3e0966 78.5px,#71196e 85.5px,#88226a 94.5px,#dd513a 102.5px,#c73e4c 105.5px,#69166e 106.5px,#0d0829 107.5px,#010108 108.5px,#010108 112.5px,#a6a6a9 113.5px,#ffffff 114.5px,#ffffff 138.5px)"></i><i style="top:101px;background:linear-gradient(90deg,#ffffff 0.5px,#ffffff 25.5px,#1c1c22 26.5px,#010108 27.5px,#010108 31.5px,#360961 32.5px,#9f2a63 33.5px,#bc3754 34.5px,#c13a50 39.5px,#b3325a 43.5px,#5d126e 50.5px,#4d0d6c 53.5px,#65156e 60.5px,#400a67 65.5px,#140b34 67.5px,#02020c 68.5px,#02020c 70.5px,#3d0965 73.5px,#65156e 78.5px,#510e6c 84.5px,#520e6d 87.5px,#a82e5f 94.5px,#c13a50 99.5px,#bd3853 104.5px,#ae305c 105.5px,#490b6a 106.5px,#030210 107.5px,#010108 112.5px,#e7e7e8 113.5px,#ffffff 114.5px,#ffffff 138.5px)"></i><i style="top:102px;background:linear-gradient(90deg,#ffffff 0.5px,#ffffff 25.5px,#5c5c61 26.5px,#010108 27.5px,#010108 31.5px,#1c0c43 32.5px,#7c1d6d 33.5px,#b73557 34.5px,#b73557 41.5px,#972766 46.5px,#4d0d6c 52.5px,#520e6d 56.5px,#62146e 61.5px,#470b6a 65.5px,#2d0b59 66.5px,#02020c 68.5px,#02020c 70.5px,#280b53 72.5px,#440a68 73.5px,#64156e 78.5px,#4a0c6b 85.5px,#6c186e 89.5px,#b0315b 95.5px,#b93556 102.5px,#b73557 104.5px,#932667 105.5px,#2d0b59 106.5px,#010108 107.5px,#010108 111.5px,#29292f 112.5px,#ffffff 113.5px,#ffffff 138.5px)"></i><i style="top:103px;background:linear-gradient(90deg,#ffffff 0.5px,#ffffff 25.5px,#9d9da0 26.5px,#010108 27.5px,#010108 31.5px,#0c0826 32.5px,#61136e 33.5px,#b93556 34.5px,#c73e4c 37.5px,#8a226a 44.5px,#71196e 52.5px,#3d0965 60.5px,#4c0c6b 65.5px,#260c51 67.5px,#02020c 68.5px,#02020c 70.5px,#230c4c 71.5px,#4a0c6b 73.5px,#3e0966 79.5px,#7f1e6c 89.5px,#8f2469 95.5px,#c73e4c 101.5px,#bd3853 104.5px,#771c6d 105.5px,#180c3c 106.5px,#010108 107.5px,#010108 111.5px,#6a6a6e 112.5px,#ffffff 113.5px,#ffffff 138.5px)"></i><i style="top:104px;background:linear-gradient(90deg,#ffffff 0.5px,#ffffff 25.5px,#ddddde 26.5px,#010108 27.5px,#030210 32.5px,#450a69 33.5px,#ae305c 34.5px,#c63d4d 35.5px,#cc4248 37.5px,#7d1e6d 43.5px,#721a6e 46.5px,#84206b 52.5px,#5a116e 56.5px,#280b53 60.5px,#2d0b59 63.5px,#440a68 65.5px,#2b0b57 67.5px,#02020c 68.5px,#02020c 70.5px,#280b53 71.5px,#450a69 73.5px,#240c4f 77.5px,#3b0964 80.5px,#7d1e6d 85.5px,#85216b 88.5px,#71196e 93.5px,#932667 97.5px,#cc4248 101.5px,#c73e4c 103.5px,#b63458 104.5px,#59106e 105.5px,#0a0722 106.5px,#010108 107.5px,#010108 111.5px,#ababad 112.5px,#ffffff 113.5px,#ffffff 138.5px)"></i><i style="top:105px;background:linear-gradient(90deg,#ffffff 0.5px,#ffffff 26.5px,#202026 27.5px,#010108 28.5px,#010108 32.5px,#290b55 33.5px,#8a226a 34.5px,#b1325a 35.5px,#bc3754 38.5px,#721a6e 48.5px,#4d0d6c 59.5px,#390963 64.5px,#3b0964 65.5px,#1c0c43 67.5px,#02020c 68.5px,#02020c 70.5px,#190c3e 71.5px,#390963 73.5px,#450a69 78.5px,#67166e 86.5px,#801f6c 93.5px,#bd3853 101.5px,#b3325a 103.5px,#9f2a63 104.5px,#3b0964 105.5px,#02010a 106.5px,#010108 111.5px,#ebebec 112.5px,#ffffff 113.5px,#ffffff 138.5px)"></i><i style="top:106px;background:linear-gradient(90deg,#ffffff 0.5px,#ffffff 26.5px,#616165 27.5px,#010108 28.5px,#010108 32.5px,#150b37 33.5px,#64156e 34.5px,#9a2865 35.5px,#b1325a 41.5px,#9b2964 45.5px,#4c0c6b 51.5px,#470b6a 54.5px,#69166e 60.5px,#3b0964 65.5px,#02020c 68.5px,#02020c 70.5px,#1e0c45 72.5px,#380962 73.5px,#67166e 78.5px,#57106e 82.5px,#450a69 86.5px,#7c1d6d 91.5px,#ab2f5e 95.5px,#ab2f5e 100.5px,#9b2964 103.5px,#771c6d 104.5px,#210c4a 105.5px,#010108 106.5px,#010108 110.5px,#2e2e34 111.5px,#ffffff 112.5px,#ffffff 138.5px)"></i><i style="top:107px;background:linear-gradient(90deg,#ffffff 0.5px,#ffffff 26.5px,#a1a1a4 27.5px,#010108 28.5px,#010108 32.5px,#09061f 33.5px,#4c0c6b 34.5px,#922568 35.5px,#a32c61 40.5px,#952667 45.5px,#4a0c6b 53.5px,#5a116e 61.5px,#440a68 65.5px,#160b39 67.5px,#02020c 68.5px,#02020c 70.5px,#260c51 72.5px,#400a67 73.5px,#5c126e 78.5px,#490b6a 85.5px,#7f1e6c 91.5px,#a22b62 96.5px,#9b2964 102.5px,#972766 103.5px,#5d126e 104.5px,#110a30 105.5px,#010108 106.5px,#010108 110.5px,#6e6e72 111.5px,#ffffff 112.5px,#ffffff 138.5px)"></i><i style="top:108px;background:linear-gradient(90deg,#ffffff 0.5px,#ffffff 26.5px,#e2e2e3 27.5px,#010108 28.5px,#02010a 33.5px,#360961 34.5px,#932667 35.5px,#a62d60 36.5px,#9f2a63 39.5px,#781c6d 44.5px,#741a6e 52.5px,#320a5e 60.5px,#3d0965 64.5px,#450a69 65.5px,#260c51 67.5px,#02020c 68.5px,#02020c 70.5px,#230c4c 71.5px,#450a69 73.5px,#320a5e 78.5px,#741a6e 86.5px,#771c6d 91.5px,#801f6c 96.5px,#a92e5e 101.5px,#9a2865 103.5px,#470b6a 104.5px,#060419 105.5px,#010108 106.5px,#010108 110.5px,#afafb1 111.5px,#ffffff 112.5px,#ffffff 138.5px)"></i><i style="top:109px;background:linear-gradient(90deg,#ffffff 0.5px,#ffffff 27.5px,#24242a 28.5px,#010108 29.5px,#010108 33.5px,#1f0c48 34.5px,#781c6d 35.5px,#a32c61 36.5px,#a92e5e 38.5px,#6a176e 44.5px,#7d1e6d 52.5px,#59106e 56.5px,#280b53 60.5px,#290b55 63.5px,#3d0965 65.5px,#280b53 67.5px,#02020c 68.5px,#02020c 70.5px,#230c4c 71.5px,#3d0965 73.5px,#260c51 76.5px,#2f0a5b 79.5px,#62146e 83.5px,#7f1e6c 87.5px,#6a176e 94.5px,#902568 98.5px,#ab2f5e 101.5px,#a52c60 102.5px,#8d2369 103.5px,#2f0a5b 104.5px,#010108 105.5px,#010108 110.5px,#f0f0f0 111.5px,#ffffff 112.5px,#ffffff 138.5px)"></i><i style="top:110px;background:linear-gradient(90deg,#ffffff 0.5px,#ffffff 27.5px,#656569 28.5px,#010108 29.5px,#010108 33.5px,#10092d 34.5px,#550f6d 35.5px,#8c2369 36.5px,#9d2964 39.5px,#5a116e 52.5px,#4d0d6c 60.5px,#340a5f 65.5px,#160b39 67.5px,#02020c 68.5px,#02020c 70.5px,#140b34 71.5px,#320a5e 73.5px,#57106e 82.5px,#6c186e 91.5px,#9d2964 99.5px,#8f2469 102.5px,#65156e 103.5px,#190c3e 104.5px,#010108 105.5px,#010108 109.5px,#323238 110.5px,#ffffff 111.5px,#ffffff 138.5px)"></i><i style="top:111px;background:linear-gradient(90deg,#ffffff 0.5px,#ffffff 27.5px,#a5a5a8 28.5px,#010108 29.5px,#010108 33.5px,#060419 34.5px,#390963 35.5px,#751b6e 36.5px,#a02a63 42.5px,#922568 45.5px,#440a68 51.5px,#3e0966 54.5px,#65156e 59.5px,#5d126e 62.5px,#380962 65.5px,#0e092b 67.5px,#02020c 68.5px,#02020c 70.5px,#1b0c41 72.5px,#340a5f 73.5px,#62146e 77.5px,#5a116e 81.5px,#3d0965 85.5px,#4a0c6b 88.5px,#9a2865 94.5px,#9a2865 98.5px,#781c6d 102.5px,#490b6a 103.5px,#0c0826 104.5px,#010108 105.5px,#010108 109.5px,#737377 110.5px,#ffffff 111.5px,#ffffff 138.5px)"></i><i style="top:112px;background:linear-gradient(90deg,#ffffff 0.5px,#ffffff 27.5px,#e6e6e7 28.5px,#010108 29.5px,#010108 34.5px,#260c51 35.5px,#6f196e 36.5px,#84206b 39.5px,#84206b 45.5px,#4a0c6b 53.5px,#4a0c6b 63.5px,#400a67 65.5px,#160b39 67.5px,#02020c 68.5px,#02020c 70.5px,#260c51 72.5px,#3d0965 73.5px,#510e6c 79.5px,#4a0c6b 85.5px,#88226a 95.5px,#7f1e6c 101.5px,#741a6e 102.5px,#340a5f 103.5px,#040312 104.5px,#010108 107.5px,#010108 109.5px,#b3b3b5 110.5px,#ffffff 111.5px,#ffffff 138.5px)"></i><i style="top:113px;background:linear-gradient(90deg,#ffffff 0.5px,#ffffff 28.5px,#29292f 29.5px,#010108 30.5px,#010108 34.5px,#160b39 35.5px,#5f136e 36.5px,#84206b 37.5px,#801f6c 39.5px,#61136e 44.5px,#771c6d 51.5px,#4d0d6c 56.5px,#280b53 60.5px,#360961 64.5px,#3e0966 65.5px,#260c51 67.5px,#02020c 68.5px,#02020c 70.5px,#210c4a 71.5px,#3e0966 73.5px,#280b53 78.5px,#57106e 83.5px,#771c6d 87.5px,#62146e 95.5px,#87216b 100.5px,#85216b 101.5px,#6f196e 102.5px,#230c4c 103.5px,#010108 104.5px,#010108 109.5px,#f4f4f4 110.5px,#ffffff 112.5px,#ffffff 138.5px)"></i><i style="top:114px;background:linear-gradient(90deg,#ffffff 0.5px,#ffffff 28.5px,#69696d 29.5px,#010108 30.5px,#010108 34.5px,#0b0724 35.5px,#470b6a 36.5px,#7c1d6d 37.5px,#82206c 39.5px,#5a116e 44.5px,#721a6e 52.5px,#540f6d 56.5px,#240c4f 61.5px,#360961 65.5px,#210c4a 67.5px,#02020c 68.5px,#02020c 70.5px,#1e0c45 71.5px,#360961 73.5px,#240c4f 77.5px,#510e6c 82.5px,#721a6e 86.5px,#5a116e 94.5px,#85216b 100.5px,#7d1e6d 101.5px,#550f6d 102.5px,#120a32 103.5px,#010108 104.5px,#010108 108.5px,#36363c 109.5px,#ffffff 110.5px,#ffffff 138.5px)"></i><i style="top:115px;background:linear-gradient(90deg,#ffffff 0.5px,#ffffff 28.5px,#aaaaac 29.5px,#010108 30.5px,#010108 34.5px,#040312 35.5px,#2d0b59 36.5px,#65156e 37.5px,#7f1e6c 40.5px,#721a6e 45.5px,#4a0c6b 52.5px,#510e6c 60.5px,#2f0a5b 65.5px,#110a30 67.5px,#02020c 68.5px,#02020c 70.5px,#2d0b59 73.5px,#540f6d 79.5px,#4f0d6c 88.5px,#7f1e6c 96.5px,#771c6d 100.5px,#69166e 101.5px,#390963 102.5px,#09061f 103.5px,#010108 104.5px,#010108 108.5px,#77777b 109.5px,#ffffff 110.5px,#ffffff 138.5px)"></i><i style="top:116px;background:linear-gradient(90deg,#ffffff 0.5px,#ffffff 28.5px,#eaeaeb 29.5px,#010108 30.5px,#010108 35.5px,#1b0c41 36.5px,#520e6d 37.5px,#82206c 41.5px,#88226a 44.5px,#440a68 50.5px,#320a5e 53.5px,#62146e 60.5px,#440a68 64.5px,#360961 65.5px,#0c0826 67.5px,#02020c 68.5px,#02020c 70.5px,#180c3c 72.5px,#310a5c 73.5px,#59106e 76.5px,#61136e 79.5px,#340a5f 85.5px,#400a67 88.5px,#87216b 94.5px,#82206c 97.5px,#59106e 101.5px,#240c4f 102.5px,#02020e 103.5px,#010108 108.5px,#b8b8ba 109.5px,#ffffff 110.5px,#ffffff 138.5px)"></i><i style="top:117px;background:linear-gradient(90deg,#ffffff 0.5px,#ffffff 29.5px,#2d2d33 30.5px,#010108 31.5px,#010108 35.5px,#10092d 36.5px,#420a68 37.5px,#5d126e 38.5px,#67166e 47.5px,#420a68 57.5px,#3d0965 65.5px,#180c3c 67.5px,#02020c 68.5px,#02020c 70.5px,#150b37 71.5px,#390963 73.5px,#440a68 80.5px,#540f6d 87.5px,#6a176e 94.5px,#5f136e 100.5px,#4d0d6c 101.5px,#180c3c 102.5px,#010108 103.5px,#010108 108.5px,#f8f8f8 109.5px,#ffffff 138.5px)"></i></div>
<div class="hm" style="left:177px;top:30px;width:140px"><i style="top:0px;background:linear-gradient(90deg,#ffffff 0.5px,#19191f 1.5px,#010108 2.5px,#02010a 5.5px,#160b39 7.5px,#150b37 66.5px,#02020c 69.5px,#050417 71.5px,#160b39 74.5px,#160b39 132.5px,#110a30 133.5px,#010108 135.5px,#010108 138.5px,#8f8f92 139.5px)"></i><i style="top:1px;background:linear-gradient(90deg,#ffffff 0.5px,#59595e 1.5px,#010108 2.5px,#010108 5.5px,#260c51 6.5px,#85216b 7.5px,#b1325a 8.5px,#ca404a 11.5px,#972766 18.5px,#a82e5f 23.5px,#b63458 27.5px,#8d2369 31.5px,#5a116e 35.5px,#5c126e 38.5px,#87216b 44.5px,#71196e 47.5px,#340a5f 51.5px,#280b53 54.5px,#5c126e 59.5px,#64156e 62.5px,#440a68 65.5px,#2f0a5b 66.5px,#08051d 68.5px,#02020c 69.5px,#040314 71.5px,#0c0826 72.5px,#3b0964 74.5px,#65156e 78.5px,#57106e 81.5px,#280b53 86.5px,#3b0964 89.5px,#801f6c 94.5px,#84206b 97.5px,#550f6d 103.5px,#67166e 106.5px,#ad305d 111.5px,#b1325a 115.5px,#972766 121.5px,#ca404a 129.5px,#b93556 131.5px,#a82e5f 132.5px,#550f6d 133.5px,#0b0724 134.5px,#010108 135.5px,#010108 138.5px,#d0d0d1 139.5px)"></i><i style="top:2px;background:linear-gradient(90deg,#ffffff 0.5px,#9a9a9d 1.5px,#010108 2.5px,#010108 5.5px,#180c3c 6.5px,#781c6d 7.5px,#bd3853 8.5px,#d44842 14.5px,#ca404a 21.5px,#ab2f5e 29.5px,#8d2369 37.5px,#71196e 44.5px,#69166e 52.5px,#470b6a 60.5px,#450a69 66.5px,#1b0c41 68.5px,#02020c 69.5px,#02020c 70.5px,#240c4f 72.5px,#4c0c6b 74.5px,#4f0d6c 83.5px,#721a6e 91.5px,#781c6d 99.5px,#a92e5e 109.5px,#c03a51 117.5px,#d54a41 124.5px,#c33b4f 130.5px,#b0315b 132.5px,#490b6a 133.5px,#030210 134.5px,#010108 137.5px,#131319 138.5px,#ffffff 139.5px)"></i><i style="top:3px;background:linear-gradient(90deg,#ffffff 0.5px,#dbdbdc 1.5px,#010108 2.5px,#010108 5.5px,#0b0724 6.5px,#62146e 7.5px,#bd3853 8.5px,#cf4446 12.5px,#ed6925 18.5px,#e45a31 21.5px,#ab2f5e 26.5px,#a92e5e 30.5px,#c13a50 35.5px,#ab2f5e 38.5px,#62146e 43.5px,#61136e 46.5px,#902568 52.5px,#7a1d6d 55.5px,#3b0964 59.5px,#280b53 62.5px,#4c0c6b 66.5px,#290b55 68.5px,#02020c 69.5px,#02020c 70.5px,#1c0c43 71.5px,#340a5f 72.5px,#4a0c6b 74.5px,#290b55 77.5px,#290b55 79.5px,#62146e 83.5px,#8a226a 86.5px,#8a226a 89.5px,#5d126e 94.5px,#67166e 97.5px,#ba3655 103.5px,#ba3655 107.5px,#a32c61 112.5px,#d44842 117.5px,#ec6726 120.5px,#e75e2e 124.5px,#c03a51 130.5px,#c33b4f 131.5px,#a02a63 132.5px,#340a5f 133.5px,#010108 134.5px,#010108 137.5px,#535358 138.5px,#ffffff 139.5px)"></i><i style="top:4px;background:linear-gradient(90deg,#ffffff 0.5px,#ffffff 1.5px,#1d1d23 2.5px,#010108 3.5px,#02020c 6.5px,#490b6a 7.5px,#bd3853 8.5px,#ce4347 9.5px,#e65d2f 20.5px,#b1325a 29.5px,#ad305d 37.5px,#71196e 45.5px,#741a6e 55.5px,#3e0966 63.5px,#400a67 66.5px,#1c0c43 68.5px,#02020c 69.5px,#02020c 70.5px,#240c4f 72.5px,#420a68 74.5px,#420a68 78.5px,#781c6d 86.5px,#6f196e 94.5px,#b0315b 104.5px,#b73557 112.5px,#e65d2f 120.5px,#cc4248 131.5px,#85216b 132.5px,#1c0c43 133.5px,#010108 134.5px,#010108 137.5px,#949497 138.5px,#ffffff 139.5px)"></i><i style="top:5px;background:linear-gradient(90deg,#ffffff 0.5px,#ffffff 1.5px,#5e5e62 2.5px,#010108 3.5px,#010108 6.5px,#2f0a5b 7.5px,#a62d60 8.5px,#dd513a 9.5px,#e65d2f 12.5px,#d34743 19.5px,#dd513a 26.5px,#b73557 31.5px,#8f2469 35.5px,#972766 39.5px,#a62d60 43.5px,#88226a 47.5px,#520e6d 52.5px,#5d126e 56.5px,#771c6d 60.5px,#67166e 63.5px,#390963 66.5px,#0d0829 68.5px,#02020c 69.5px,#02020c 70.5px,#140b34 72.5px,#450a69 74.5px,#741a6e 78.5px,#721a6e 81.5px,#4f0d6c 86.5px,#69166e 90.5px,#a02a63 95.5px,#a02a63 99.5px,#8d2369 104.5px,#c73e4c 110.5px,#df5337 115.5px,#d44842 123.5px,#e65d2f 129.5px,#d34743 131.5px,#6a176e 132.5px,#0c0826 133.5px,#010108 134.5px,#010108 137.5px,#d4d4d5 138.5px,#ffffff 139.5px)"></i><i style="top:6px;background:linear-gradient(90deg,#ffffff 0.5px,#ffffff 1.5px,#9e9ea1 2.5px,#010108 3.5px,#010108 6.5px,#160b39 7.5px,#84206b 8.5px,#db503b 9.5px,#ea632a 12.5px,#d44842 19.5px,#d94d3d 28.5px,#8f2469 36.5px,#a62d60 44.5px,#8d2369 48.5px,#540f6d 53.5px,#550f6d 56.5px,#771c6d 61.5px,#57106e 65.5px,#450a69 66.5px,#10092d 68.5px,#02020c 69.5px,#02020c 70.5px,#180c3c 72.5px,#340a5f 73.5px,#510e6c 74.5px,#751b6e 78.5px,#62146e 82.5px,#4f0d6c 85.5px,#62146e 88.5px,#a22b62 94.5px,#a02a63 98.5px,#8d2369 103.5px,#ba3655 108.5px,#db503b 112.5px,#d94d3d 123.5px,#ea632a 128.5px,#e05536 130.5px,#ca404a 131.5px,#4c0c6b 132.5px,#02020c 133.5px,#010108 136.5px,#17171d 137.5px,#ffffff 138.5px,#ffffff 139.5px)"></i><i style="top:7px;background:linear-gradient(90deg,#ffffff 0.5px,#ffffff 1.5px,#dfdfe0 2.5px,#010108 3.5px,#010108 6.5px,#09061f 7.5px,#61136e 8.5px,#c83f4b 9.5px,#e9612b 15.5px,#e55c30 21.5px,#c43c4e 27.5px,#bc3754 35.5px,#801f6c 44.5px,#9a2865 50.5px,#7a1d6d 54.5px,#490b6a 60.5px,#510e6c 66.5px,#3d0965 67.5px,#240c4f 68.5px,#02020c 69.5px,#02020c 70.5px,#180c3c 71.5px,#2f0a5b 72.5px,#550f6d 74.5px,#4a0c6b 80.5px,#801f6c 86.5px,#9a2865 90.5px,#82206c 96.5px,#c13a50 106.5px,#ca404a 114.5px,#eb6429 121.5px,#e15635 127.5px,#d24644 130.5px,#a02a63 131.5px,#2f0a5b 132.5px,#010108 133.5px,#010108 136.5px,#57575c 137.5px,#ffffff 138.5px,#ffffff 139.5px)"></i><i style="top:8px;background:linear-gradient(90deg,#ffffff 0.5px,#ffffff 2.5px,#212128 3.5px,#010108 4.5px,#010108 7.5px,#440a68 8.5px,#b93556 9.5px,#cc4248 10.5px,#e55c30 14.5px,#f3761b 18.5px,#e8602d 22.5px,#bf3952 26.5px,#ba3655 30.5px,#cf4446 35.5px,#bc3754 38.5px,#751b6e 43.5px,#751b6e 46.5px,#a92e5e 50.5px,#a32c61 53.5px,#520e6d 58.5px,#2f0a5b 61.5px,#390963 64.5px,#4f0d6c 66.5px,#2d0b59 68.5px,#02020c 69.5px,#02020c 70.5px,#1f0c48 71.5px,#380962 72.5px,#4d0d6c 74.5px,#2f0a5b 77.5px,#3d0965 80.5px,#7f1e6c 84.5px,#ad305d 88.5px,#9a2865 91.5px,#71196e 94.5px,#7a1d6d 97.5px,#c83f4b 103.5px,#c83f4b 107.5px,#b63458 112.5px,#d94d3d 116.5px,#f2741c 120.5px,#ed6925 124.5px,#cc4248 129.5px,#cc4248 130.5px,#7d1e6d 131.5px,#180c3c 132.5px,#010108 133.5px,#010108 136.5px,#98989b 137.5px,#ffffff 138.5px,#ffffff 139.5px)"></i><i style="top:9px;background:linear-gradient(90deg,#ffffff 0.5px,#ffffff 2.5px,#626266 3.5px,#010108 4.5px,#010108 7.5px,#290b55 8.5px,#9f2a63 9.5px,#d84c3e 10.5px,#eb6628 20.5px,#bf3952 32.5px,#a32c61 41.5px,#8d2369 46.5px,#9d2964 51.5px,#4f0d6c 62.5px,#420a68 66.5px,#1c0c43 68.5px,#02020c 69.5px,#02020c 70.5px,#240c4f 72.5px,#470b6a 74.5px,#65156e 81.5px,#9f2a63 89.5px,#8f2469 95.5px,#b93556 104.5px,#d34743 113.5px,#eb6628 120.5px,#da4e3c 129.5px,#cf4446 130.5px,#64156e 131.5px,#09061f 132.5px,#010108 133.5px,#010108 136.5px,#d9d9da 137.5px,#ffffff 138.5px,#ffffff 139.5px)"></i><i style="top:10px;background:linear-gradient(90deg,#ffffff 0.5px,#ffffff 2.5px,#a3a3a5 3.5px,#010108 4.5px,#010108 7.5px,#140b34 8.5px,#82206c 9.5px,#e15635 10.5px,#ea632a 13.5px,#dd513a 19.5px,#ea632a 26.5px,#d44842 30.5px,#9f2a63 35.5px,#a52c60 39.5px,#b93556 43.5px,#9a2865 50.5px,#64156e 54.5px,#6d186e 57.5px,#801f6c 61.5px,#540f6d 65.5px,#400a67 66.5px,#0e092b 68.5px,#02020c 69.5px,#02020c 70.5px,#150b37 72.5px,#2f0a5b 73.5px,#5c126e 75.5px,#7f1e6c 78.5px,#721a6e 82.5px,#61136e 85.5px,#a32c61 91.5px,#b93556 97.5px,#9b2964 103.5px,#b63458 107.5px,#e65d2f 112.5px,#e75e2e 117.5px,#de5238 123.5px,#ea632a 128.5px,#e65d2f 129.5px,#ce4347 130.5px,#490b6a 131.5px,#010108 132.5px,#010108 135.5px,#1b1b21 136.5px,#ffffff 137.5px,#ffffff 139.5px)"></i><i style="top:11px;background:linear-gradient(90deg,#ffffff 0.5px,#ffffff 2.5px,#e3e3e4 3.5px,#010108 4.5px,#010108 7.5px,#060419 8.5px,#5f136e 9.5px,#d74b3f 10.5px,#eb6429 12.5px,#e45a31 21.5px,#e25734 28.5px,#a52c60 37.5px,#b0315b 50.5px,#65156e 55.5px,#741a6e 62.5px,#4d0d6c 66.5px,#2d0b59 67.5px,#02020c 69.5px,#02020c 70.5px,#1f0c48 72.5px,#3b0964 73.5px,#57106e 74.5px,#741a6e 78.5px,#64156e 84.5px,#88226a 87.5px,#b3325a 90.5px,#a52c60 103.5px,#e45a31 112.5px,#e55c30 123.5px,#eb6628 127.5px,#e45a31 129.5px,#a62d60 130.5px,#2b0b57 131.5px,#010108 132.5px,#010108 135.5px,#5c5c60 136.5px,#ffffff 137.5px,#ffffff 139.5px)"></i><i style="top:12px;background:linear-gradient(90deg,#ffffff 0.5px,#ffffff 3.5px,#26262c 4.5px,#010108 5.5px,#010108 8.5px,#400a67 9.5px,#ba3655 10.5px,#da4e3c 11.5px,#f3761b 17.5px,#eb6628 22.5px,#d04545 27.5px,#cc4248 36.5px,#8d2369 43.5px,#952667 46.5px,#cc4248 50.5px,#c13a50 52.5px,#751b6e 56.5px,#490b6a 60.5px,#4d0d6c 64.5px,#57106e 66.5px,#2b0b57 68.5px,#02020c 69.5px,#02020c 70.5px,#1c0c43 71.5px,#380962 72.5px,#59106e 74.5px,#450a69 78.5px,#5f136e 82.5px,#a52c60 86.5px,#ce4347 89.5px,#ad305d 92.5px,#8c2369 95.5px,#a22b62 99.5px,#d34743 105.5px,#d24644 113.5px,#f3761b 121.5px,#ef6c23 125.5px,#d84c3e 129.5px,#7c1d6d 130.5px,#140b34 131.5px,#010108 132.5px,#010108 135.5px,#9c9c9f 136.5px,#ffffff 137.5px,#ffffff 139.5px)"></i><i style="top:13px;background:linear-gradient(90deg,#ffffff 0.5px,#ffffff 3.5px,#66666b 4.5px,#010108 5.5px,#010108 8.5px,#240c4f 9.5px,#952667 10.5px,#d84c3e 11.5px,#ea632a 14.5px,#f68013 18.5px,#f06f20 22.5px,#cc4248 27.5px,#d34743 32.5px,#d34743 37.5px,#8a226a 43.5px,#8d2369 46.5px,#d44842 50.5px,#d04545 52.5px,#84206b 56.5px,#420a68 60.5px,#380962 63.5px,#510e6c 66.5px,#2d0b59 68.5px,#02020c 69.5px,#02020c 70.5px,#1f0c48 71.5px,#390963 72.5px,#4f0d6c 74.5px,#380962 77.5px,#490b6a 80.5px,#8f2469 84.5px,#ca404a 87.5px,#d74b3f 89.5px,#bf3952 91.5px,#88226a 94.5px,#8f2469 97.5px,#d54a41 103.5px,#d24644 108.5px,#cb4149 112.5px,#ee6a24 117.5px,#f78212 121.5px,#ed6925 125.5px,#cc4248 129.5px,#5d126e 130.5px,#060419 131.5px,#010108 132.5px,#010108 135.5px,#ddddde 136.5px,#ffffff 137.5px,#ffffff 139.5px)"></i><i style="top:14px;background:linear-gradient(90deg,#ffffff 0.5px,#ffffff 3.5px,#a7a7a9 4.5px,#010108 5.5px,#010108 8.5px,#110a30 9.5px,#7a1d6d 10.5px,#de5238 11.5px,#ef6c23 19.5px,#eb6628 25.5px,#c63d4d 34.5px,#a82e5f 46.5px,#cc4248 50.5px,#bf3952 52.5px,#7f1e6c 56.5px,#450a69 66.5px,#1b0c41 68.5px,#02020c 69.5px,#02020c 70.5px,#390963 73.5px,#4f0d6c 75.5px,#8f2469 85.5px,#c43c4e 88.5px,#ca404a 90.5px,#a62d60 94.5px,#d84c3e 110.5px,#f06f20 118.5px,#e35933 128.5px,#c43c4e 129.5px,#420a68 130.5px,#010108 131.5px,#010108 134.5px,#1f1f26 135.5px,#ffffff 136.5px,#ffffff 139.5px)"></i><i style="top:15px;background:linear-gradient(90deg,#ffffff 0.5px,#ffffff 3.5px,#e7e7e8 4.5px,#010108 5.5px,#010108 8.5px,#040312 9.5px,#5c126e 10.5px,#dd513a 11.5px,#eb6628 12.5px,#e75e2e 20.5px,#f3761b 26.5px,#d94d3d 31.5px,#ad305d 36.5px,#c73e4c 44.5px,#c13a50 51.5px,#801f6c 54.5px,#721a6e 56.5px,#8a226a 61.5px,#6c186e 64.5px,#450a69 66.5px,#10092d 68.5px,#02020c 69.5px,#02020c 70.5px,#180c3c 72.5px,#320a5e 73.5px,#64156e 75.5px,#87216b 78.5px,#82206c 81.5px,#721a6e 84.5px,#8a226a 86.5px,#c63d4d 89.5px,#bf3952 99.5px,#ae305c 104.5px,#de5238 109.5px,#f2741c 113.5px,#ef6e21 117.5px,#e45a31 122.5px,#ea632a 128.5px,#a52c60 129.5px,#260c51 130.5px,#010108 131.5px,#010108 134.5px,#606064 135.5px,#ffffff 136.5px,#ffffff 139.5px)"></i><i style="top:16px;background:linear-gradient(90deg,#ffffff 0.5px,#ffffff 4.5px,#2a2a30 5.5px,#010108 6.5px,#010108 9.5px,#3d0965 10.5px,#c03a51 11.5px,#ea632a 12.5px,#ef6c23 17.5px,#ea632a 28.5px,#b93556 38.5px,#c03a51 47.5px,#d74b3f 50.5px,#c43c4e 52.5px,#801f6c 55.5px,#6f196e 58.5px,#69166e 64.5px,#520e6d 66.5px,#360961 67.5px,#1c0c43 68.5px,#02020c 69.5px,#02020c 70.5px,#260c51 72.5px,#440a68 73.5px,#5c126e 74.5px,#721a6e 79.5px,#781c6d 84.5px,#b93556 87.5px,#d54a41 89.5px,#b93556 95.5px,#bd3853 103.5px,#eb6429 112.5px,#ee6a24 119.5px,#ee6a24 126.5px,#e45a31 128.5px,#7d1e6d 129.5px,#110a30 130.5px,#010108 131.5px,#010108 134.5px,#a1a1a3 135.5px,#ffffff 136.5px,#ffffff 139.5px)"></i><i style="top:17px;background:linear-gradient(90deg,#ffffff 0.5px,#ffffff 4.5px,#6b6b6f 5.5px,#010108 6.5px,#010108 9.5px,#1f0c48 10.5px,#932667 11.5px,#e35933 12.5px,#f8870e 17.5px,#f37819 22.5px,#da4e3c 28.5px,#e15635 35.5px,#ba3655 40.5px,#972766 44.5px,#a02a63 46.5px,#e35933 50.5px,#e05536 52.5px,#87216b 56.5px,#540f6d 59.5px,#450a69 62.5px,#5a116e 66.5px,#310a5c 68.5px,#02020c 69.5px,#02020c 70.5px,#210c4a 71.5px,#3d0965 72.5px,#5c126e 74.5px,#450a69 78.5px,#5a116e 81.5px,#ab2f5e 85.5px,#d94d3d 87.5px,#e65d2f 89.5px,#cf4446 91.5px,#9b2964 94.5px,#9f2a63 97.5px,#e05536 104.5px,#de5238 113.5px,#f8890c 121.5px,#f1731d 125.5px,#e55c30 127.5px,#d44842 128.5px,#59106e 129.5px,#040314 130.5px,#010108 132.5px,#010108 134.5px,#e1e1e2 135.5px,#ffffff 136.5px,#ffffff 139.5px)"></i><i style="top:18px;background:linear-gradient(90deg,#ffffff 0.5px,#ffffff 4.5px,#ababae 5.5px,#010108 6.5px,#010108 9.5px,#0d0829 10.5px,#721a6e 11.5px,#dd513a 12.5px,#f8870e 17.5px,#f8850f 21.5px,#db503b 28.5px,#e15635 36.5px,#b93556 41.5px,#9b2964 44.5px,#ab2f5e 47.5px,#e15635 50.5px,#e15635 52.5px,#922568 56.5px,#510e6c 60.5px,#440a68 63.5px,#510e6c 66.5px,#2d0b59 68.5px,#02020c 69.5px,#02020c 70.5px,#1f0c48 71.5px,#380962 72.5px,#520e6d 74.5px,#450a69 78.5px,#64156e 81.5px,#9d2964 84.5px,#db503b 87.5px,#e55c30 89.5px,#a52c60 93.5px,#9a2865 95.5px,#bd3853 99.5px,#e05536 103.5px,#dd513a 112.5px,#f8890c 119.5px,#f78410 123.5px,#e45a31 127.5px,#ba3655 128.5px,#3b0964 129.5px,#010108 130.5px,#010108 133.5px,#24242a 134.5px,#ffffff 135.5px,#ffffff 139.5px)"></i><i style="top:19px;background:linear-gradient(90deg,#ffffff 0.5px,#ffffff 4.5px,#ececec 5.5px,#010108 6.5px,#02020c 10.5px,#550f6d 11.5px,#da4e3c 12.5px,#eb6429 13.5px,#f67e14 24.5px,#d54a41 33.5px,#bc3754 47.5px,#d44842 51.5px,#ba3655 53.5px,#8a226a 56.5px,#69166e 63.5px,#470b6a 66.5px,#180c3c 68.5px,#02020c 69.5px,#02020c 70.5px,#380962 73.5px,#510e6c 74.5px,#7f1e6c 80.5px,#8f2469 84.5px,#d24644 88.5px,#c83f4b 91.5px,#bc3754 94.5px,#cb4149 102.5px,#e25734 109.5px,#f68013 116.5px,#ea632a 127.5px,#9d2964 128.5px,#210c4a 129.5px,#010108 130.5px,#010108 133.5px,#646469 134.5px,#ffffff 135.5px,#ffffff 139.5px)"></i><i style="top:20px;background:linear-gradient(90deg,#ffffff 0.5px,#ffffff 5.5px,#2e2e34 6.5px,#010108 7.5px,#010108 10.5px,#380962 11.5px,#c03a51 12.5px,#ee6a24 13.5px,#ee6a24 20.5px,#f8890c 25.5px,#f2741c 29.5px,#c43c4e 35.5px,#c63d4d 39.5px,#d44842 44.5px,#cf4446 49.5px,#cf4446 51.5px,#85216b 55.5px,#85216b 58.5px,#902568 61.5px,#741a6e 64.5px,#4c0c6b 66.5px,#120a32 68.5px,#02020c 69.5px,#02020c 70.5px,#1b0c41 72.5px,#380962 73.5px,#5a116e 74.5px,#87216b 77.5px,#8f2469 80.5px,#801f6c 84.5px,#b73557 87.5px,#d24644 89.5px,#cf4446 94.5px,#ce4347 99.5px,#c13a50 104.5px,#ea632a 109.5px,#f8870e 113.5px,#f67e14 117.5px,#ec6726 121.5px,#ef6c23 126.5px,#e8602d 127.5px,#7a1d6d 128.5px,#0d0829 129.5px,#010108 130.5px,#010108 133.5px,#a5a5a7 134.5px,#ffffff 135.5px,#ffffff 139.5px)"></i><i style="top:21px;background:linear-gradient(90deg,#ffffff 0.5px,#ffffff 5.5px,#6f6f73 6.5px,#010108 7.5px,#010108 10.5px,#1b0c41 11.5px,#952667 12.5px,#ed6925 13.5px,#f57d15 18.5px,#f1731d 27.5px,#c63d4d 41.5px,#c63d4d 47.5px,#e15635 51.5px,#c73e4c 53.5px,#87216b 56.5px,#721a6e 59.5px,#65156e 65.5px,#5a116e 66.5px,#3d0965 67.5px,#210c4a 68.5px,#02020c 69.5px,#02020c 70.5px,#2d0b59 72.5px,#4a0c6b 73.5px,#62146e 74.5px,#801f6c 83.5px,#bc3754 86.5px,#de5238 88.5px,#dd513a 90.5px,#c03a51 94.5px,#d84c3e 104.5px,#f57d15 116.5px,#f37819 124.5px,#ef6c23 126.5px,#de5238 127.5px,#57106e 128.5px,#02020e 129.5px,#010108 133.5px,#e5e5e6 134.5px,#ffffff 135.5px,#ffffff 139.5px)"></i><i style="top:22px;background:linear-gradient(90deg,#ffffff 0.5px,#ffffff 5.5px,#afafb2 6.5px,#010108 7.5px,#010108 10.5px,#0a0722 11.5px,#6f196e 12.5px,#e35933 13.5px,#f8890c 16.5px,#fb9706 19.5px,#e65d2f 28.5px,#ed6925 35.5px,#d74b3f 39.5px,#a62d60 44.5px,#b73557 47.5px,#e9612b 50.5px,#ef6c23 51.5px,#e25734 53.5px,#9a2865 56.5px,#5c126e 59.5px,#490b6a 62.5px,#5f136e 66.5px,#340a5f 68.5px,#02020c 69.5px,#02020c 70.5px,#240c4f 71.5px,#400a67 72.5px,#61136e 74.5px,#490b6a 78.5px,#64156e 81.5px,#a62d60 84.5px,#e8602d 87.5px,#ed6925 89.5px,#b1325a 93.5px,#a82e5f 96.5px,#e9612b 103.5px,#ec6726 107.5px,#e9612b 113.5px,#fb9606 120.5px,#fa9008 123.5px,#ed6925 126.5px,#ba3655 127.5px,#380962 128.5px,#010108 129.5px,#010108 132.5px,#28282e 133.5px,#ffffff 134.5px,#ffffff 139.5px)"></i><i style="top:23px;background:linear-gradient(90deg,#ffffff 0.5px,#ffffff 5.5px,#f0f0f0 6.5px,#010108 7.5px,#010108 11.5px,#4f0d6c 12.5px,#d84c3e 13.5px,#ef6c23 14.5px,#fa9207 18.5px,#f98b0b 23.5px,#e9612b 29.5px,#e65d2f 37.5px,#b0315b 45.5px,#c73e4c 48.5px,#eb6429 51.5px,#e05536 53.5px,#a22b62 56.5px,#62146e 60.5px,#520e6d 64.5px,#550f6d 66.5px,#2b0b57 68.5px,#02020c 69.5px,#02020c 70.5px,#1e0c45 71.5px,#360961 72.5px,#57106e 74.5px,#550f6d 78.5px,#84206b 82.5px,#c33b4f 85.5px,#e55c30 87.5px,#e9612b 89.5px,#b43359 93.5px,#b63458 96.5px,#e8602d 103.5px,#eb6628 112.5px,#fa9008 118.5px,#fa9207 122.5px,#ec6726 126.5px,#952667 127.5px,#1c0c43 128.5px,#010108 129.5px,#010108 132.5px,#69696d 133.5px,#ffffff 134.5px,#ffffff 139.5px)"></i><i style="top:24px;background:linear-gradient(90deg,#ffffff 0.5px,#ffffff 6.5px,#333338 7.5px,#010108 8.5px,#010108 11.5px,#310a5c 12.5px,#b73557 13.5px,#ef6c23 14.5px,#fa9407 25.5px,#e15635 33.5px,#d84c3e 39.5px,#d04545 45.5px,#cc4248 48.5px,#dd513a 51.5px,#b63458 54.5px,#922568 57.5px,#82206c 62.5px,#4d0d6c 66.5px,#160b39 68.5px,#02020c 69.5px,#02020c 70.5px,#1f0c48 72.5px,#3d0965 73.5px,#59106e 74.5px,#8c2369 79.5px,#9b2964 84.5px,#da4e3c 88.5px,#ce4347 94.5px,#d94d3d 100.5px,#de5238 106.5px,#fa9207 114.5px,#f8890c 118.5px,#ef6e21 125.5px,#e8602d 126.5px,#741a6e 127.5px,#0a0722 128.5px,#010108 129.5px,#010108 132.5px,#a9a9ac 133.5px,#ffffff 134.5px,#ffffff 139.5px)"></i><i style="top:25px;background:linear-gradient(90deg,#ffffff 0.5px,#ffffff 6.5px,#737377 7.5px,#010108 8.5px,#010108 11.5px,#160b39 12.5px,#922568 13.5px,#ef6e21 14.5px,#f8850f 22.5px,#fb9706 25.5px,#f8850f 29.5px,#d54a41 35.5px,#d74b3f 40.5px,#da4e3c 45.5px,#da4e3c 50.5px,#d44842 52.5px,#8f2469 56.5px,#922568 62.5px,#6c186e 65.5px,#550f6d 66.5px,#310a5c 67.5px,#02020c 69.5px,#02020c 70.5px,#1f0c48 72.5px,#400a67 73.5px,#64156e 74.5px,#932667 78.5px,#932667 84.5px,#d84c3e 88.5px,#d94d3d 94.5px,#d94d3d 99.5px,#d34743 104.5px,#f68013 110.5px,#fb9706 114.5px,#f06f20 123.5px,#f1711f 125.5px,#df5337 126.5px,#520e6d 127.5px,#010108 128.5px,#010108 132.5px,#eaeaea 133.5px,#ffffff 134.5px,#ffffff 139.5px)"></i><i style="top:26px;background:linear-gradient(90deg,#ffffff 0.5px,#ffffff 6.5px,#b4b4b6 7.5px,#010108 8.5px,#010108 11.5px,#07051b 12.5px,#6c186e 13.5px,#e9612b 14.5px,#f47918 15.5px,#f98c0a 19.5px,#f57d15 27.5px,#d84c3e 39.5px,#c63d4d 46.5px,#ea632a 51.5px,#db503b 53.5px,#982766 56.5px,#751b6e 59.5px,#62146e 66.5px,#470b6a 67.5px,#280b53 68.5px,#02020c 69.5px,#02020c 70.5px,#190c3e 71.5px,#360961 72.5px,#6a176e 74.5px,#781c6d 81.5px,#a22b62 84.5px,#e25734 87.5px,#e9612b 89.5px,#c83f4b 93.5px,#d54a41 100.5px,#f2741c 110.5px,#f98c0a 120.5px,#f2741c 125.5px,#ba3655 126.5px,#320a5e 127.5px,#010108 128.5px,#010108 131.5px,#2c2c32 132.5px,#ffffff 133.5px,#ffffff 139.5px)"></i><i style="top:27px;background:linear-gradient(90deg,#ffffff 0.5px,#ffffff 6.5px,#f4f4f5 7.5px,#010108 8.5px,#010108 12.5px,#4a0c6b 13.5px,#d74b3f 14.5px,#f47918 15.5px,#fc9f07 18.5px,#fb9906 21.5px,#ec6726 28.5px,#f3761b 35.5px,#d74b3f 40.5px,#b1325a 44.5px,#bc3754 47.5px,#eb6429 50.5px,#f2741c 52.5px,#dd513a 54.5px,#8f2469 57.5px,#57106e 60.5px,#4f0d6c 63.5px,#64156e 66.5px,#360961 68.5px,#02020c 69.5px,#02020c 70.5px,#260c51 71.5px,#440a68 72.5px,#65156e 74.5px,#4d0d6c 78.5px,#6d186e 81.5px,#b63458 84.5px,#e55c30 86.5px,#f3761b 88.5px,#d54a41 91.5px,#b0315b 94.5px,#bc3754 97.5px,#ef6e21 103.5px,#f1731d 107.5px,#ed6925 112.5px,#fb9d07 119.5px,#fca309 121.5px,#fa9207 123.5px,#f1711f 125.5px,#902568 126.5px,#180c3c 127.5px,#010108 128.5px,#010108 131.5px,#6d6d71 132.5px,#ffffff 133.5px,#ffffff 139.5px)"></i><i style="top:28px;background:linear-gradient(90deg,#ffffff 0.5px,#ffffff 7.5px,#37373c 8.5px,#010108 9.5px,#010108 12.5px,#2b0b57 13.5px,#b0315b 14.5px,#f2741c 15.5px,#fb9706 20.5px,#f78212 26.5px,#ed6925 32.5px,#dd513a 40.5px,#bc3754 46.5px,#d54a41 49.5px,#eb6429 51.5px,#e45a31 53.5px,#982766 57.5px,#67166e 61.5px,#59106e 66.5px,#290b55 68.5px,#02020c 69.5px,#02020c 70.5px,#1c0c43 71.5px,#360961 72.5px,#5d126e 74.5px,#6a176e 79.5px,#a02a63 83.5px,#de5238 86.5px,#eb6628 88.5px,#bd3853 93.5px,#df5337 100.5px,#ed6925 107.5px,#f57d15 113.5px,#fb9706 119.5px,#f98c0a 122.5px,#f37819 124.5px,#e8602d 125.5px,#6c186e 126.5px,#07051b 127.5px,#010108 128.5px,#010108 131.5px,#adadb0 132.5px,#ffffff 133.5px,#ffffff 139.5px)"></i><i style="top:29px;background:linear-gradient(90deg,#ffffff 0.5px,#ffffff 7.5px,#78787b 8.5px,#010108 9.5px,#010108 12.5px,#140b34 13.5px,#88226a 14.5px,#ed6925 15.5px,#fc9f07 25.5px,#f8850f 29.5px,#da4e3c 35.5px,#df5337 44.5px,#d04545 49.5px,#d94d3d 52.5px,#9f2a63 56.5px,#8d2369 62.5px,#540f6d 66.5px,#320a5e 67.5px,#02020c 69.5px,#02020c 70.5px,#230c4c 72.5px,#420a68 73.5px,#61136e 74.5px,#902568 78.5px,#a32c61 84.5px,#d54a41 87.5px,#d44842 90.5px,#d24644 93.5px,#e15635 98.5px,#db503b 105.5px,#fa9407 112.5px,#fb9d07 115.5px,#f06f20 123.5px,#f1711f 124.5px,#d74b3f 125.5px,#4a0c6b 126.5px,#010108 127.5px,#010108 131.5px,#eeeeef 132.5px,#ffffff 133.5px,#ffffff 139.5px)"></i><i style="top:30px;background:linear-gradient(90deg,#ffffff 0.5px,#ffffff 7.5px,#b8b8ba 8.5px,#010108 9.5px,#010108 12.5px,#040314 13.5px,#65156e 14.5px,#e75e2e 15.5px,#f2741c 16.5px,#fb9606 24.5px,#fb9906 27.5px,#ee6a24 32.5px,#d84c3e 36.5px,#dd513a 45.5px,#d54a41 49.5px,#db503b 52.5px,#982766 56.5px,#8a226a 63.5px,#5d126e 66.5px,#390963 67.5px,#1b0c41 68.5px,#02020c 69.5px,#02020c 70.5px,#280b53 72.5px,#4a0c6b 73.5px,#6c186e 74.5px,#922568 78.5px,#932667 83.5px,#d74b3f 87.5px,#d84c3e 90.5px,#da4e3c 94.5px,#db503b 99.5px,#d94d3d 104.5px,#fb9706 112.5px,#fb9906 115.5px,#f1731d 123.5px,#f2741c 124.5px,#b3325a 125.5px,#2b0b57 126.5px,#010108 127.5px,#010108 130.5px,#313136 131.5px,#ffffff 132.5px,#ffffff 139.5px)"></i><i style="top:31px;background:linear-gradient(90deg,#ffffff 0.5px,#f9f9f9 8.5px,#010108 9.5px,#010108 13.5px,#440a68 14.5px,#d34743 15.5px,#f68013 16.5px,#fb9606 20.5px,#eb6429 36.5px,#c63d4d 44.5px,#c83f4b 47.5px,#ed6925 51.5px,#e75e2e 53.5px,#8f2469 57.5px,#6c186e 60.5px,#6a176e 66.5px,#310a5c 68.5px,#02020c 69.5px,#02020c 70.5px,#1f0c48 71.5px,#3e0966 72.5px,#6f196e 74.5px,#6a176e 79.5px,#87216b 82.5px,#cb4149 85.5px,#eb6628 87.5px,#eb6429 89.5px,#c73e4c 93.5px,#cf4446 98.5px,#f2741c 107.5px,#fa9207 121.5px,#f2741c 124.5px,#8c2369 125.5px,#140b34 126.5px,#010108 127.5px,#010108 130.5px,#717175 131.5px,#ffffff 132.5px,#ffffff 139.5px)"></i><i style="top:32px;background:linear-gradient(90deg,#ffffff 0.5px,#ffffff 8.5px,#3b3b41 9.5px,#010108 10.5px,#010108 13.5px,#240c4f 14.5px,#ab2f5e 15.5px,#f78212 16.5px,#fb9d07 18.5px,#fc9f07 21.5px,#ef6e21 29.5px,#f47918 35.5px,#db503b 40.5px,#b73557 44.5px,#bd3853 47.5px,#e9612b 50.5px,#f47918 52.5px,#e55c30 54.5px,#982766 57.5px,#5c126e 60.5px,#520e6d 63.5px,#67166e 66.5px,#390963 68.5px,#02020c 69.5px,#02020c 70.5px,#280b53 71.5px,#470b6a 72.5px,#69166e 74.5px,#510e6c 77.5px,#550f6d 79.5px,#8a226a 82.5px,#db503b 85.5px,#f3761b 87.5px,#f37819 88.5px,#d34743 91.5px,#b43359 94.5px,#cb4149 98.5px,#f1731d 103.5px,#f37819 107.5px,#f1711f 112.5px,#fb9b06 118.5px,#fca108 121.5px,#f8890c 123.5px,#ec6726 124.5px,#65156e 125.5px,#040314 126.5px,#010108 128.5px,#010108 130.5px,#b2b2b4 131.5px,#ffffff 132.5px,#ffffff 139.5px)"></i><i style="top:33px;background:linear-gradient(90deg,#ffffff 0.5px,#ffffff 8.5px,#010108 10.5px,#010108 13.5px,#10092d 14.5px,#82206c 15.5px,#f06f20 16.5px,#fb9706 20.5px,#f8890c 27.5px,#ec6726 34.5px,#ce4347 44.5px,#c83f4b 48.5px,#eb6429 52.5px,#c73e4c 55.5px,#922568 58.5px,#69166e 63.5px,#5c126e 66.5px,#440a68 67.5px,#280b53 68.5px,#02020c 69.5px,#02020c 70.5px,#1b0c41 71.5px,#340a5f 72.5px,#62146e 74.5px,#801f6c 80.5px,#bc3754 84.5px,#e9612b 87.5px,#e35933 89.5px,#c63d4d 92.5px,#ee6a24 107.5px,#fb9606 116.5px,#fa9407 120.5px,#f57d15 123.5px,#d34743 124.5px,#440a68 125.5px,#010108 126.5px,#010108 130.5px,#f2f2f3 131.5px,#ffffff 133.5px,#ffffff 139.5px)"></i><i style="top:34px;background:linear-gradient(90deg,#ffffff 0.5px,#ffffff 8.5px,#bcbcbe 9.5px,#010108 10.5px,#02020e 14.5px,#5d126e 15.5px,#e55c30 16.5px,#f1731d 17.5px,#fb9706 23.5px,#fca50a 27.5px,#f8850f 30.5px,#e15635 34.5px,#dd513a 39.5px,#e45a31 44.5px,#cf4446 49.5px,#db503b 52.5px,#9f2a63 57.5px,#952667 62.5px,#6f196e 65.5px,#5a116e 66.5px,#360961 67.5px,#190c3e 68.5px,#02020c 69.5px,#02020c 70.5px,#240c4f 72.5px,#450a69 73.5px,#67166e 74.5px,#982766 78.5px,#a22b62 83.5px,#d94d3d 87.5px,#d04545 92.5px,#e65d2f 97.5px,#da4e3c 104.5px,#f57d15 109.5px,#fca108 112.5px,#fca309 115.5px,#f8870e 119.5px,#f1731d 122.5px,#f1731d 123.5px,#a82e5f 124.5px,#240c4f 125.5px,#010108 126.5px,#010108 129.5px,#35353b 130.5px,#ffffff 131.5px,#ffffff 139.5px)"></i><i style="top:35px;background:linear-gradient(90deg,#ffffff 0.5px,#fdfdfd 9.5px,#010108 10.5px,#010108 14.5px,#3d0965 15.5px,#ca404a 16.5px,#f47918 17.5px,#fc9f07 27.5px,#f67e14 31.5px,#db503b 37.5px,#d94d3d 46.5px,#db503b 50.5px,#db503b 53.5px,#982766 57.5px,#801f6c 64.5px,#65156e 66.5px,#420a68 67.5px,#210c4a 68.5px,#02020c 69.5px,#02020c 70.5px,#2f0a5b 72.5px,#520e6d 73.5px,#71196e 74.5px,#8f2469 79.5px,#9d2964 83.5px,#e05536 87.5px,#d84c3e 93.5px,#dd513a 99.5px,#e55c30 105.5px,#fb9606 111.5px,#fb9d07 114.5px,#f47918 122.5px,#ef6e21 123.5px,#84206b 124.5px,#10092d 125.5px,#010108 126.5px,#010108 129.5px,#767679 130.5px,#ffffff 131.5px,#ffffff 139.5px)"></i><i style="top:36px;background:linear-gradient(90deg,#ffffff 0.5px,#ffffff 9.5px,#404045 10.5px,#010108 11.5px,#010108 14.5px,#1e0c45 15.5px,#a52c60 16.5px,#f8870e 17.5px,#fb9b06 21.5px,#f67e14 29.5px,#f06f20 36.5px,#c83f4b 43.5px,#c83f4b 47.5px,#f1731d 52.5px,#e45a31 54.5px,#9a2865 57.5px,#69166e 60.5px,#64156e 63.5px,#6f196e 66.5px,#380962 68.5px,#02020c 69.5px,#02020c 70.5px,#260c51 71.5px,#450a69 72.5px,#721a6e 74.5px,#61136e 78.5px,#7a1d6d 81.5px,#c13a50 84.5px,#ea632a 86.5px,#f1711f 88.5px,#cc4248 92.5px,#c73e4c 96.5px,#f37819 105.5px,#fa9207 117.5px,#fb9606 121.5px,#f98c0a 122.5px,#ed6925 123.5px,#61136e 124.5px,#02020e 125.5px,#010108 129.5px,#b6b6b8 130.5px,#ffffff 131.5px,#ffffff 139.5px)"></i><i style="top:37px;background:linear-gradient(90deg,#ffffff 0.5px,#ffffff 9.5px,#010108 11.5px,#010108 14.5px,#0c0826 15.5px,#7d1e6d 16.5px,#f47918 17.5px,#fa9407 18.5px,#fca50a 21.5px,#f8870e 25.5px,#f47918 31.5px,#f47918 36.5px,#cc4248 42.5px,#bc3754 46.5px,#d84c3e 49.5px,#f47918 52.5px,#eb6628 54.5px,#a32c61 57.5px,#62146e 60.5px,#550f6d 63.5px,#69166e 66.5px,#3b0964 68.5px,#02020c 69.5px,#02020c 70.5px,#290b55 71.5px,#470b6a 72.5px,#6a176e 74.5px,#540f6d 78.5px,#7d1e6d 81.5px,#cc4248 84.5px,#f06f20 86.5px,#f3761b 88.5px,#c63d4d 92.5px,#bd3853 95.5px,#e35933 100.5px,#f67e14 105.5px,#f57d15 112.5px,#fca309 118.5px,#fb9906 121.5px,#f98e09 122.5px,#d24644 123.5px,#3e0966 124.5px,#010108 125.5px,#010108 129.5px,#f7f7f7 130.5px,#ffffff 138.5px,#ffffff 139.5px)"></i><i style="top:38px;background:linear-gradient(90deg,#ffffff 0.5px,#ffffff 9.5px,#c1c1c2 10.5px,#010108 11.5px,#010108 15.5px,#57106e 16.5px,#e75e2e 17.5px,#f78212 18.5px,#fb9d07 23.5px,#fa9207 28.5px,#eb6628 35.5px,#cb4149 48.5px,#e8602d 52.5px,#df5337 54.5px,#9d2964 58.5px,#5d126e 66.5px,#420a68 67.5px,#260c51 68.5px,#02020c 69.5px,#02020c 70.5px,#190c3e 71.5px,#320a5e 72.5px,#65156e 74.5px,#972766 81.5px,#c43c4e 84.5px,#e45a31 86.5px,#e65d2f 88.5px,#cb4149 92.5px,#f3761b 108.5px,#fb9706 113.5px,#fb9606 119.5px,#f68013 122.5px,#a32c61 123.5px,#1f0c48 124.5px,#010108 125.5px,#010108 128.5px,#39393f 129.5px,#ffffff 130.5px,#ffffff 139.5px)"></i><i style="top:39px;background:linear-gradient(90deg,#ffffff 0.5px,#ffffff 10.5px,#03030a 11.5px,#010108 15.5px,#360961 16.5px,#c03a51 17.5px,#f37819 18.5px,#f98b0b 21.5px,#fcac11 26.5px,#fb9d07 29.5px,#f1731d 32.5px,#dd513a 36.5px,#e8602d 44.5px,#cf4446 49.5px,#da4e3c 53.5px,#a82e5f 57.5px,#9a2865 62.5px,#741a6e 65.5px,#390963 67.5px,#1b0c41 68.5px,#02020c 69.5px,#02020c 70.5px,#280b53 72.5px,#4a0c6b 73.5px,#6c186e 74.5px,#9d2964 78.5px,#ab2f5e 83.5px,#db503b 87.5px,#d04545 91.5px,#e9612b 97.5px,#de5238 104.5px,#f47918 108.5px,#fb9606 110.5px,#fcac11 113.5px,#fa9207 118.5px,#ed6925 122.5px,#7a1d6d 123.5px,#0c0826 124.5px,#010108 125.5px,#010108 128.5px,#ffffff 130.5px,#ffffff 139.5px)"></i><i style="top:40px;background:linear-gradient(90deg,#ffffff 0.5px,#ffffff 10.5px,#444449 11.5px,#010108 12.5px,#010108 15.5px,#190c3e 16.5px,#9a2865 17.5px,#f67e14 18.5px,#fb9d07 25.5px,#fb9706 29.5px,#e35933 37.5px,#d74b3f 49.5px,#e45a31 53.5px,#a22b62 57.5px,#85216b 62.5px,#781c6d 65.5px,#6a176e 66.5px,#490b6a 67.5px,#280b53 68.5px,#02020c 69.5px,#02020c 70.5px,#380962 72.5px,#741a6e 74.5px,#9b2964 82.5px,#e05536 86.5px,#e55c30 88.5px,#d74b3f 92.5px,#e8602d 104.5px,#fb9b06 111.5px,#fa9207 118.5px,#f78212 121.5px,#e8602d 122.5px,#59106e 123.5px,#010108 124.5px,#010108 128.5px,#bababc 129.5px,#ffffff 130.5px,#ffffff 139.5px)"></i><i style="top:41px;background:linear-gradient(90deg,#ffffff 0.5px,#ffffff 10.5px,#010108 12.5px,#010108 15.5px,#08051d 16.5px,#771c6d 17.5px,#f47918 18.5px,#fb9606 19.5px,#fb9706 23.5px,#f8850f 29.5px,#f57b17 36.5px,#ca404a 43.5px,#ca404a 47.5px,#f47918 52.5px,#ed6925 54.5px,#c33b4f 56.5px,#771c6d 59.5px,#5c126e 62.5px,#71196e 66.5px,#3d0965 68.5px,#02020c 69.5px,#02020c 70.5px,#290b55 71.5px,#4a0c6b 72.5px,#741a6e 74.5px,#5d126e 78.5px,#801f6c 81.5px,#b3325a 83.5px,#e55c30 85.5px,#f47918 87.5px,#d74b3f 91.5px,#c43c4e 95.5px,#e25734 100.5px,#f78212 105.5px,#f98c0a 115.5px,#fb9d07 119.5px,#fa9207 121.5px,#cb4149 122.5px,#380962 123.5px,#010108 124.5px,#010108 128.5px,#fbfbfb 129.5px,#ffffff 139.5px)"></i><i style="top:42px;background:linear-gradient(90deg,#ffffff 0.5px,#ffffff 10.5px,#c5c5c7 11.5px,#010108 12.5px,#010108 16.5px,#520e6d 17.5px,#e8602d 18.5px,#fb9606 19.5px,#fca309 22.5px,#f8850f 28.5px,#f3761b 37.5px,#c63d4d 44.5px,#cc4248 48.5px,#f37819 52.5px,#ef6e21 54.5px,#cb4149 56.5px,#7f1e6c 59.5px,#5a116e 62.5px,#69166e 66.5px,#390963 68.5px,#02020c 69.5px,#02020c 70.5px,#280b53 71.5px,#470b6a 72.5px,#6a176e 74.5px,#59106e 77.5px,#751b6e 80.5px,#bc3754 83.5px,#ea632a 85.5px,#f57b17 87.5px,#c83f4b 92.5px,#c83f4b 96.5px,#f47918 103.5px,#fa9207 115.5px,#fca309 118.5px,#f98e09 121.5px,#a02a63 122.5px,#1b0c41 123.5px,#010108 124.5px,#010108 127.5px,#3e3e43 128.5px,#ffffff 129.5px,#ffffff 139.5px)"></i><i style="top:43px;background:linear-gradient(90deg,#ffffff 0.5px,#ffffff 11.5px,#08080e 12.5px,#010108 16.5px,#2f0a5b 17.5px,#bc3754 18.5px,#f8870e 19.5px,#fca60c 24.5px,#f98e09 30.5px,#eb6628 35.5px,#d84c3e 46.5px,#d04545 49.5px,#e75e2e 53.5px,#c63d4d 56.5px,#972766 60.5px,#5d126e 66.5px,#400a67 67.5px,#240c4f 68.5px,#02020c 69.5px,#02020c 70.5px,#180c3c 71.5px,#310a5c 72.5px,#67166e 74.5px,#ad305d 82.5px,#e55c30 86.5px,#da4e3c 89.5px,#d04545 92.5px,#e75e2e 100.5px,#ef6e21 106.5px,#fb9b06 111.5px,#fca309 117.5px,#f8890c 120.5px,#f1711f 121.5px,#741a6e 122.5px,#09061f 123.5px,#010108 124.5px,#010108 127.5px,#ffffff 129.5px,#ffffff 139.5px)"></i><i style="top:44px;background:linear-gradient(90deg,#ffffff 0.5px,#ffffff 11.5px,#48484d 12.5px,#010108 13.5px,#010108 16.5px,#150b37 17.5px,#902568 18.5px,#f47918 19.5px,#fca309 23.5px,#fcb216 27.5px,#fb9b06 30.5px,#e55c30 35.5px,#e45a31 40.5px,#eb6429 44.5px,#d24644 50.5px,#de5238 53.5px,#ab2f5e 58.5px,#9d2964 62.5px,#62146e 66.5px,#3d0965 67.5px,#1c0c43 68.5px,#02020c 69.5px,#02020c 70.5px,#290b55 72.5px,#4d0d6c 73.5px,#6f196e 74.5px,#a22b62 78.5px,#b63458 83.5px,#dd513a 86.5px,#d34743 91.5px,#eb6429 96.5px,#e05536 103.5px,#ed6925 106.5px,#fa9407 109.5px,#fcb216 113.5px,#fb9d07 117.5px,#f68013 120.5px,#e05536 121.5px,#510e6c 122.5px,#010108 123.5px,#010108 127.5px,#bfbfc0 128.5px,#ffffff 129.5px,#ffffff 139.5px)"></i><i style="top:45px;background:linear-gradient(90deg,#ffffff 0.5px,#ffffff 11.5px,#89898c 12.5px,#010108 13.5px,#010108 16.5px,#050417 17.5px,#6d186e 18.5px,#f1711f 19.5px,#f98c0a 20.5px,#fc9f07 25.5px,#fb9706 30.5px,#e15635 40.5px,#d94d3d 49.5px,#eb6429 53.5px,#d84c3e 55.5px,#9d2964 58.5px,#6d186e 66.5px,#4d0d6c 67.5px,#2d0b59 68.5px,#02020c 69.5px,#02020c 70.5px,#1e0c45 71.5px,#3d0965 72.5px,#751b6e 74.5px,#972766 81.5px,#cc4248 84.5px,#e9612b 86.5px,#e8602d 88.5px,#d84c3e 92.5px,#e8602d 102.5px,#fb9b06 110.5px,#fb9906 117.5px,#f98b0b 120.5px,#bf3952 121.5px,#310a5c 122.5px,#010108 123.5px,#010108 127.5px,#ffffff 128.5px,#ffffff 139.5px)"></i><i style="top:46px;background:linear-gradient(90deg,#ffffff 0.5px,#ffffff 11.5px,#c9c9cb 12.5px,#010108 13.5px,#010108 17.5px,#4c0c6b 18.5px,#e35933 19.5px,#fb9906 20.5px,#fb9706 24.5px,#f8890c 28.5px,#f98b0b 35.5px,#e35933 40.5px,#c73e4c 44.5px,#d34743 48.5px,#f57d15 52.5px,#f3761b 54.5px,#d04545 56.5px,#952667 58.5px,#62146e 61.5px,#61136e 64.5px,#71196e 66.5px,#3e0966 68.5px,#02020c 69.5px,#02020c 70.5px,#2d0b59 71.5px,#4d0d6c 72.5px,#721a6e 74.5px,#5c126e 77.5px,#741a6e 80.5px,#c13a50 83.5px,#ee6a24 85.5px,#f57d15 86.5px,#f3761b 88.5px,#d04545 92.5px,#c83f4b 96.5px,#ee6a24 101.5px,#fa9008 106.5px,#f98e09 114.5px,#fb9d07 119.5px,#fa9008 120.5px,#9a2865 121.5px,#160b39 122.5px,#010108 123.5px,#010108 126.5px,#424247 127.5px,#ffffff 128.5px,#ffffff 139.5px)"></i><i style="top:47px;background:linear-gradient(90deg,#ffffff 0.5px,#ffffff 12.5px,#0c0c13 13.5px,#010108 15.5px,#010108 17.5px,#290b55 18.5px,#ba3655 19.5px,#fb9706 20.5px,#fca108 24.5px,#f98e09 29.5px,#f47918 37.5px,#cf4446 44.5px,#d04545 48.5px,#f47918 53.5px,#e8602d 55.5px,#a32c61 58.5px,#6f196e 61.5px,#5f136e 64.5px,#65156e 66.5px,#360961 68.5px,#02020c 69.5px,#02020c 70.5px,#260c51 71.5px,#440a68 72.5px,#69166e 74.5px,#62146e 77.5px,#84206b 80.5px,#c83f4b 83.5px,#ee6a24 85.5px,#f37819 87.5px,#d34743 91.5px,#cc4248 95.5px,#f57d15 103.5px,#fb9d07 115.5px,#fb9b06 119.5px,#f57b17 120.5px,#71196e 121.5px,#050417 122.5px,#010108 123.5px,#010108 126.5px,#ffffff 128.5px,#ffffff 139.5px)"></i><i style="top:48px;background:linear-gradient(90deg,#ffffff 0.5px,#ffffff 12.5px,#4c4c51 13.5px,#010108 14.5px,#010108 17.5px,#110a30 18.5px,#8c2369 19.5px,#f68013 20.5px,#fb9b06 22.5px,#fcb216 25.5px,#fb9b06 30.5px,#eb6429 36.5px,#e35933 45.5px,#d34743 50.5px,#e75e2e 53.5px,#cf4446 56.5px,#9b2964 61.5px,#5d126e 66.5px,#3e0966 67.5px,#210c4a 68.5px,#02020c 69.5px,#02020c 70.5px,#2f0a5b 72.5px,#67166e 74.5px,#a62d60 80.5px,#d54a41 84.5px,#e75e2e 86.5px,#d24644 91.5px,#ea632a 98.5px,#ef6c23 105.5px,#fc9f07 110.5px,#fcb014 115.5px,#f98e09 119.5px,#de5238 120.5px,#4a0c6b 121.5px,#010108 122.5px,#010108 126.5px,#c3c3c5 127.5px,#ffffff 128.5px,#ffffff 139.5px)"></i><i style="top:49px;background:linear-gradient(90deg,#ffffff 0.5px,#ffffff 12.5px,#8d8d90 13.5px,#010108 14.5px,#030210 18.5px,#64156e 19.5px,#ef6c23 20.5px,#f98c0a 21.5px,#fca108 23.5px,#fbb61a 26.5px,#fca50a 30.5px,#f8890c 32.5px,#e75e2e 36.5px,#ea632a 45.5px,#d34743 50.5px,#e05536 54.5px,#b3325a 58.5px,#952667 63.5px,#64156e 66.5px,#3e0966 67.5px,#1f0c48 68.5px,#02020c 69.5px,#02020c 70.5px,#2d0b59 72.5px,#4f0d6c 73.5px,#71196e 74.5px,#a52c60 78.5px,#c33b4f 83.5px,#e25734 86.5px,#d74b3f 91.5px,#ec6726 96.5px,#e65d2f 103.5px,#f78212 107.5px,#fc9f07 109.5px,#fbb61a 113.5px,#fcb418 115.5px,#fb9b06 117.5px,#f98b0b 119.5px,#b43359 120.5px,#290b55 121.5px,#010108 122.5px,#06060c 126.5px,#ffffff 127.5px,#ffffff 139.5px)"></i><i style="top:50px;background:linear-gradient(90deg,#ffffff 0.5px,#ffffff 12.5px,#cececf 13.5px,#010108 14.5px,#010108 18.5px,#440a68 19.5px,#d94d3d 20.5px,#fb9606 21.5px,#fca108 27.5px,#fb9606 32.5px,#de5238 42.5px,#dd513a 49.5px,#f06f20 53.5px,#e35933 55.5px,#a52c60 58.5px,#84206b 61.5px,#6f196e 66.5px,#320a5e 68.5px,#02020c 69.5px,#02020c 70.5px,#210c4a 71.5px,#420a68 72.5px,#751b6e 74.5px,#8f2469 80.5px,#c63d4d 83.5px,#e9612b 85.5px,#ef6e21 87.5px,#db503b 91.5px,#e35933 99.5px,#fb9706 108.5px,#fca309 115.5px,#fb9606 118.5px,#f8870e 119.5px,#8f2469 120.5px,#110a30 121.5px,#010108 122.5px,#010108 125.5px,#46464b 126.5px,#ffffff 127.5px,#ffffff 139.5px)"></i><i style="top:51px;background:linear-gradient(90deg,#ffffff 0.5px,#ffffff 13.5px,#101017 14.5px,#010108 15.5px,#010108 18.5px,#230c4c 19.5px,#b43359 20.5px,#fb9d07 21.5px,#fa9008 29.5px,#fb9606 35.5px,#e75e2e 40.5px,#ca404a 44.5px,#d44842 48.5px,#f8850f 53.5px,#f68013 54.5px,#dd513a 56.5px,#a22b62 58.5px,#741a6e 60.5px,#5f136e 63.5px,#6f196e 66.5px,#400a67 68.5px,#02020c 69.5px,#02020c 70.5px,#2d0b59 71.5px,#4d0d6c 72.5px,#6f196e 74.5px,#5f136e 77.5px,#7c1d6d 80.5px,#b0315b 82.5px,#e65d2f 84.5px,#f78410 86.5px,#f37819 88.5px,#d04545 92.5px,#cb4149 96.5px,#eb6429 100.5px,#fa9207 104.5px,#fa9207 110.5px,#fb9b06 116.5px,#fc9f07 118.5px,#f57d15 119.5px,#69166e 120.5px,#030210 121.5px,#010108 125.5px,#ffffff 127.5px,#ffffff 139.5px)"></i><i style="top:52px;background:linear-gradient(90deg,#ffffff 0.5px,#ffffff 13.5px,#515156 14.5px,#010108 15.5px,#010108 18.5px,#0d0829 19.5px,#87216b 20.5px,#f8890c 21.5px,#fc9f07 22.5px,#fc9f07 27.5px,#f78212 36.5px,#d34743 45.5px,#d84c3e 49.5px,#f37819 53.5px,#ec6726 55.5px,#b1325a 58.5px,#741a6e 62.5px,#62146e 66.5px,#320a5e 68.5px,#02020c 69.5px,#02020c 70.5px,#230c4c 71.5px,#3e0966 72.5px,#65156e 74.5px,#781c6d 78.5px,#a62d60 81.5px,#e65d2f 84.5px,#f37819 86.5px,#d04545 92.5px,#e35933 98.5px,#f98e09 106.5px,#fca50a 116.5px,#fb9d07 118.5px,#dd513a 119.5px,#440a68 120.5px,#010108 121.5px,#010108 125.5px,#c7c7c9 126.5px,#ffffff 127.5px,#ffffff 139.5px)"></i><i style="top:53px;background:linear-gradient(90deg,#ffffff 0.5px,#ffffff 13.5px,#919194 14.5px,#010108 15.5px,#010108 19.5px,#5d126e 20.5px,#f1711f 21.5px,#fb9b06 22.5px,#fbbc21 26.5px,#fa9008 32.5px,#ed6925 36.5px,#e9612b 45.5px,#d34743 50.5px,#e75e2e 54.5px,#b0315b 60.5px,#82206c 64.5px,#5c126e 66.5px,#3b0964 67.5px,#1e0c45 68.5px,#02020c 69.5px,#02020c 70.5px,#2b0b57 72.5px,#4a0c6b 73.5px,#781c6d 75.5px,#ad305d 79.5px,#d24644 83.5px,#e75e2e 86.5px,#d34743 90.5px,#ee6a24 98.5px,#ef6c23 104.5px,#fc9f07 109.5px,#fbbe23 114.5px,#fb9706 118.5px,#b0315b 119.5px,#230c4c 120.5px,#010108 121.5px,#0a0a11 125.5px,#ffffff 126.5px,#ffffff 139.5px)"></i><i style="top:54px;background:linear-gradient(90deg,#ffffff 0.5px,#ffffff 13.5px,#d2d2d3 14.5px,#010108 15.5px,#010108 19.5px,#3b0964 20.5px,#cf4446 21.5px,#fb9706 22.5px,#fbbe23 26.5px,#fca108 31.5px,#f57d15 34.5px,#ea632a 38.5px,#ea632a 45.5px,#d74b3f 50.5px,#e65d2f 54.5px,#b43359 59.5px,#8c2369 64.5px,#64156e 66.5px,#400a67 67.5px,#210c4a 68.5px,#02020c 69.5px,#02020c 70.5px,#2f0a5b 72.5px,#510e6c 73.5px,#71196e 74.5px,#a62d60 78.5px,#ce4347 83.5px,#e75e2e 86.5px,#d74b3f 90.5px,#ec6726 97.5px,#ec6726 103.5px,#fb9d07 108.5px,#fbbc21 113.5px,#fcb216 115.5px,#fb9d07 117.5px,#f78410 118.5px,#85216b 119.5px,#0d0829 120.5px,#010108 121.5px,#010108 124.5px,#4a4a4f 125.5px,#ffffff 126.5px,#ffffff 139.5px)"></i><i style="top:55px;background:linear-gradient(90deg,#ffffff 0.5px,#ffffff 14.5px,#15151b 15.5px,#010108 16.5px,#010108 19.5px,#1c0c43 20.5px,#a82e5f 21.5px,#fb9706 22.5px,#fca309 28.5px,#fb9606 34.5px,#da4e3c 43.5px,#de5238 49.5px,#f3761b 53.5px,#ec6726 55.5px,#ae305c 58.5px,#82206c 61.5px,#6d186e 66.5px,#360961 68.5px,#02020c 69.5px,#02020c 70.5px,#240c4f 71.5px,#450a69 72.5px,#751b6e 74.5px,#85216b 79.5px,#ba3655 82.5px,#f06f20 85.5px,#f1731d 87.5px,#d94d3d 92.5px,#e15635 98.5px,#fb9906 106.5px,#fca309 114.5px,#fb9b06 117.5px,#f3761b 118.5px,#61136e 119.5px,#010108 120.5px,#010108 124.5px,#8b8b8e 125.5px,#ffffff 126.5px,#ffffff 139.5px)"></i><i style="top:56px;background:linear-gradient(90deg,#ffffff 0.5px,#ffffff 14.5px,#55555a 15.5px,#010108 16.5px,#010108 19.5px,#09061f 20.5px,#7f1e6c 21.5px,#f8870e 22.5px,#fb9d07 23.5px,#fb9706 30.5px,#fca108 34.5px,#f98c0a 37.5px,#d04545 43.5px,#cc4248 47.5px,#ee6a24 51.5px,#f78410 53.5px,#f78410 54.5px,#e55c30 56.5px,#ae305c 58.5px,#6d186e 61.5px,#67166e 64.5px,#6c186e 66.5px,#3e0966 68.5px,#02020c 69.5px,#02020c 70.5px,#2d0b59 71.5px,#4c0c6b 72.5px,#6f196e 74.5px,#69166e 78.5px,#85216b 80.5px,#bd3853 82.5px,#ec6726 84.5px,#f8850f 86.5px,#d04545 92.5px,#cc4248 96.5px,#f47918 101.5px,#fb9906 104.5px,#fc9f07 108.5px,#fb9606 112.5px,#fb9d07 117.5px,#d44842 118.5px,#3d0965 119.5px,#010108 120.5px,#010108 124.5px,#cccccd 125.5px,#ffffff 126.5px,#ffffff 139.5px)"></i><i style="top:57px;background:linear-gradient(90deg,#ffffff 0.5px,#ffffff 14.5px,#969699 15.5px,#010108 16.5px,#010108 20.5px,#57106e 21.5px,#ed6925 22.5px,#fc9f07 23.5px,#fcaa0f 27.5px,#f98c0a 34.5px,#d84c3e 45.5px,#d34743 49.5px,#f1711f 54.5px,#e35933 56.5px,#a92e5e 59.5px,#721a6e 64.5px,#62146e 66.5px,#2d0b59 68.5px,#02020c 69.5px,#02020c 70.5px,#1f0c48 71.5px,#390963 72.5px,#6a176e 74.5px,#922568 79.5px,#c73e4c 82.5px,#f06f20 85.5px,#ed6925 87.5px,#d24644 91.5px,#e35933 97.5px,#fb9606 107.5px,#fca80d 114.5px,#fb9906 117.5px,#a82e5f 118.5px,#1c0c43 119.5px,#010108 120.5px,#010108 123.5px,#0e0e15 124.5px,#ffffff 125.5px,#ffffff 139.5px)"></i><i style="top:58px;background:linear-gradient(90deg,#ffffff 0.5px,#ffffff 14.5px,#d6d6d7 15.5px,#010108 16.5px,#010108 20.5px,#340a5f 21.5px,#c73e4c 22.5px,#fb9d07 23.5px,#fac228 27.5px,#fb9d07 31.5px,#ee6a24 36.5px,#ea632a 45.5px,#cb4149 50.5px,#e35933 55.5px,#b73557 60.5px,#8c2369 64.5px,#61136e 66.5px,#390963 67.5px,#1c0c43 68.5px,#02020c 69.5px,#02020c 70.5px,#290b55 72.5px,#4a0c6b 73.5px,#6f196e 74.5px,#ad305d 78.5px,#d74b3f 83.5px,#e35933 86.5px,#cc4248 90.5px,#ef6c23 97.5px,#ef6c23 104.5px,#fb9706 108.5px,#fac026 113.5px,#fca309 116.5px,#f78410 117.5px,#7c1d6d 118.5px,#09061f 119.5px,#010108 120.5px,#010108 123.5px,#4f4f54 124.5px,#ffffff 125.5px,#ffffff 139.5px)"></i><i style="top:59px;background:linear-gradient(90deg,#ffffff 0.5px,#ffffff 15.5px,#19191f 16.5px,#010108 17.5px,#010108 20.5px,#180c3c 21.5px,#9b2964 22.5px,#fa9207 23.5px,#fbba1f 27.5px,#fa9008 33.5px,#eb6628 38.5px,#de5238 47.5px,#d54a41 51.5px,#e65d2f 54.5px,#cc4248 57.5px,#a52c60 61.5px,#801f6c 65.5px,#6c186e 66.5px,#450a69 67.5px,#240c4f 68.5px,#02020c 69.5px,#02020c 70.5px,#320a5e 72.5px,#57106e 73.5px,#7a1d6d 74.5px,#c43c4e 82.5px,#e55c30 85.5px,#d24644 90.5px,#ea632a 98.5px,#ef6c23 103.5px,#fb9d07 108.5px,#fbba1f 112.5px,#fb9d07 116.5px,#eb6628 117.5px,#550f6d 118.5px,#010108 119.5px,#010108 123.5px,#8f8f92 124.5px,#ffffff 125.5px,#ffffff 139.5px)"></i><i style="top:60px;background:linear-gradient(90deg,#ffffff 0.5px,#ffffff 15.5px,#59595e 16.5px,#010108 17.5px,#010108 20.5px,#060419 21.5px,#721a6e 22.5px,#f57b17 23.5px,#fb9606 24.5px,#fb9d07 34.5px,#f3761b 38.5px,#d44842 43.5px,#d84c3e 49.5px,#f1731d 54.5px,#e15635 56.5px,#982766 59.5px,#771c6d 62.5px,#751b6e 66.5px,#390963 68.5px,#02020c 69.5px,#02020c 70.5px,#280b53 71.5px,#490b6a 72.5px,#7c1d6d 74.5px,#781c6d 78.5px,#a32c61 81.5px,#e75e2e 84.5px,#f1731d 86.5px,#d34743 92.5px,#d84c3e 97.5px,#fa9008 104.5px,#fca108 108.5px,#fb9606 116.5px,#c73e4c 117.5px,#340a5f 118.5px,#010108 119.5px,#010108 123.5px,#d0d0d1 124.5px,#ffffff 125.5px,#ffffff 139.5px)"></i><i style="top:61px;background:linear-gradient(90deg,#ffffff 0.5px,#ffffff 15.5px,#9a9a9d 16.5px,#010108 17.5px,#010108 21.5px,#4f0d6c 22.5px,#e45a31 23.5px,#fb9606 24.5px,#fb9d07 35.5px,#f68013 38.5px,#d04545 43.5px,#c83f4b 47.5px,#e55c30 51.5px,#f3761b 54.5px,#e45a31 56.5px,#972766 59.5px,#71196e 61.5px,#6a176e 64.5px,#71196e 66.5px,#3d0965 68.5px,#02020c 69.5px,#02020c 70.5px,#2b0b57 71.5px,#4a0c6b 72.5px,#741a6e 74.5px,#6c186e 78.5px,#8a226a 80.5px,#d94d3d 83.5px,#f1731d 85.5px,#f06f20 87.5px,#ca404a 92.5px,#cc4248 96.5px,#f8850f 102.5px,#fca108 106.5px,#f98e09 116.5px,#9d2964 117.5px,#180c3c 118.5px,#010108 119.5px,#010108 122.5px,#131319 123.5px,#ffffff 124.5px,#ffffff 139.5px)"></i><i style="top:62px;background:linear-gradient(90deg,#ffffff 0.5px,#ffffff 15.5px,#dbdbdc 16.5px,#010108 17.5px,#010108 21.5px,#2b0b57 22.5px,#bf3952 23.5px,#fb9b06 24.5px,#fcac11 28.5px,#fa9008 33.5px,#d94d3d 45.5px,#cb4149 50.5px,#e45a31 55.5px,#b0315b 59.5px,#65156e 66.5px,#470b6a 67.5px,#280b53 68.5px,#02020c 69.5px,#02020c 70.5px,#1b0c41 71.5px,#360961 72.5px,#6f196e 74.5px,#a82e5f 80.5px,#e15635 84.5px,#e35933 86.5px,#ca404a 90.5px,#ec6726 99.5px,#fb9d07 109.5px,#fca80d 113.5px,#fc9f07 115.5px,#f68013 116.5px,#741a6e 117.5px,#060419 118.5px,#010108 119.5px,#010108 122.5px,#535358 123.5px,#ffffff 124.5px,#ffffff 139.5px)"></i><i style="top:63px;background:linear-gradient(90deg,#ffffff 0.5px,#ffffff 16.5px,#1d1d23 17.5px,#010108 18.5px,#010108 21.5px,#120a32 22.5px,#922568 23.5px,#fa9207 24.5px,#fbb61a 26.5px,#fbb81d 29.5px,#fc9f07 31.5px,#eb6628 37.5px,#ec6726 44.5px,#c03a51 50.5px,#d44842 55.5px,#9f2a63 63.5px,#67166e 66.5px,#3e0966 67.5px,#1c0c43 68.5px,#02020c 69.5px,#02020c 70.5px,#2b0b57 72.5px,#510e6c 73.5px,#751b6e 74.5px,#ae305c 78.5px,#d34743 85.5px,#bf3952 89.5px,#ed6925 96.5px,#ec6726 103.5px,#fb9706 108.5px,#fbbc21 111.5px,#fcb014 114.5px,#fca309 115.5px,#e65d2f 116.5px,#4d0d6c 117.5px,#010108 118.5px,#010108 122.5px,#949497 123.5px,#ffffff 124.5px,#ffffff 139.5px)"></i><i style="top:64px;background:linear-gradient(90deg,#ffffff 0.5px,#ffffff 16.5px,#5e5e62 17.5px,#010108 18.5px,#030210 22.5px,#69166e 23.5px,#f47918 24.5px,#fb9d07 25.5px,#fcb216 29.5px,#fa9207 33.5px,#e9612b 40.5px,#ca404a 51.5px,#d44842 55.5px,#9d2964 61.5px,#84206b 65.5px,#721a6e 66.5px,#4d0d6c 67.5px,#290b55 68.5px,#02020c 69.5px,#02020c 70.5px,#1b0c41 71.5px,#3b0964 72.5px,#7f1e6c 74.5px,#bc3754 82.5px,#d54a41 85.5px,#cc4248 90.5px,#ea632a 100.5px,#fc9f07 108.5px,#fcb418 111.5px,#fb9906 115.5px,#bd3853 116.5px,#2b0b57 117.5px,#010108 118.5px,#010108 122.5px,#d4d4d5 123.5px,#ffffff 124.5px,#ffffff 139.5px)"></i><i style="top:65px;background:linear-gradient(90deg,#ffffff 0.5px,#ffffff 16.5px,#9e9ea1 17.5px,#010108 18.5px,#010108 22.5px,#450a69 23.5px,#d94d3d 24.5px,#fa9008 25.5px,#fca309 33.5px,#f8890c 37.5px,#d04545 43.5px,#ca404a 47.5px,#e55c30 54.5px,#d44842 56.5px,#902568 59.5px,#6f196e 62.5px,#781c6d 66.5px,#3e0966 68.5px,#02020c 69.5px,#02020c 70.5px,#2b0b57 71.5px,#4d0d6c 72.5px,#7d1e6d 74.5px,#71196e 78.5px,#9b2964 81.5px,#da4e3c 84.5px,#e45a31 87.5px,#c73e4c 94.5px,#e45a31 99.5px,#fb9706 104.5px,#fca108 108.5px,#fa9008 114.5px,#f8850f 115.5px,#902568 116.5px,#120a32 117.5px,#010108 118.5px,#010108 121.5px,#17171d 122.5px,#ffffff 123.5px,#ffffff 139.5px)"></i><i style="top:66px;background:linear-gradient(90deg,#ffffff 0.5px,#ffffff 16.5px,#dfdfe0 17.5px,#010108 18.5px,#010108 22.5px,#240c4f 23.5px,#b1325a 24.5px,#fa9207 25.5px,#fb9606 28.5px,#fb9b06 35.5px,#f68013 38.5px,#cb4149 44.5px,#c73e4c 48.5px,#e35933 54.5px,#d54a41 56.5px,#82206c 60.5px,#69166e 63.5px,#71196e 66.5px,#3b0964 68.5px,#02020c 69.5px,#02020c 70.5px,#290b55 71.5px,#4a0c6b 72.5px,#741a6e 74.5px,#6a176e 77.5px,#8a226a 80.5px,#db503b 84.5px,#e15635 87.5px,#c33b4f 93.5px,#d74b3f 97.5px,#fa9008 103.5px,#fb9d07 107.5px,#fa9008 114.5px,#f2741c 115.5px,#69166e 116.5px,#030210 117.5px,#010108 121.5px,#57575c 122.5px,#ffffff 123.5px,#ffffff 139.5px)"></i><i style="top:67px;background:linear-gradient(90deg,#ffffff 0.5px,#ffffff 17.5px,#212128 18.5px,#010108 19.5px,#010108 22.5px,#0d0829 23.5px,#88226a 24.5px,#f98b0b 25.5px,#fca108 26.5px,#fcac11 29.5px,#f98c0a 33.5px,#dd513a 45.5px,#bd3853 51.5px,#ca404a 56.5px,#751b6e 65.5px,#67166e 66.5px,#450a69 67.5px,#260c51 68.5px,#02020c 69.5px,#02020c 70.5px,#190c3e 71.5px,#340a5f 72.5px,#71196e 74.5px,#bf3952 82.5px,#cc4248 85.5px,#c03a51 90.5px,#ed6925 99.5px,#fb9706 108.5px,#fcac11 111.5px,#fb9d07 114.5px,#de5238 115.5px,#450a69 116.5px,#010108 117.5px,#010108 121.5px,#98989b 122.5px,#ffffff 123.5px,#ffffff 139.5px)"></i><i style="top:68px;background:linear-gradient(90deg,#ffffff 0.5px,#ffffff 17.5px,#626266 18.5px,#010108 19.5px,#02010a 23.5px,#61136e 24.5px,#f47918 25.5px,#fca60c 26.5px,#fbb81d 29.5px,#fb9606 32.5px,#ec6726 37.5px,#eb6628 44.5px,#c33b4f 49.5px,#ad305d 52.5px,#b93556 58.5px,#a92e5e 62.5px,#6a176e 66.5px,#420a68 67.5px,#1f0c48 68.5px,#02020c 69.5px,#02020c 70.5px,#2f0a5b 72.5px,#540f6d 73.5px,#781c6d 74.5px,#ae305c 78.5px,#ba3655 84.5px,#ae305c 88.5px,#de5238 93.5px,#ee6a24 97.5px,#ee6a24 103.5px,#fb9b06 108.5px,#fbb61a 110.5px,#fcac11 113.5px,#fca108 114.5px,#b63458 115.5px,#240c4f 116.5px,#010108 117.5px,#010108 121.5px,#d9d9da 122.5px,#ffffff 123.5px,#ffffff 139.5px)"></i><i style="top:69px;background:linear-gradient(90deg,#ffffff 0.5px,#ffffff 17.5px,#a3a3a5 18.5px,#010108 19.5px,#010108 23.5px,#3d0965 24.5px,#d24644 25.5px,#fb9706 26.5px,#fcac11 30.5px,#fa9008 34.5px,#e35933 42.5px,#c13a50 54.5px,#751b6e 66.5px,#520e6d 67.5px,#310a5c 68.5px,#02020c 69.5px,#02020c 70.5px,#1f0c48 71.5px,#400a67 72.5px,#7f1e6c 74.5px,#ab2f5e 82.5px,#c13a50 86.5px,#ea632a 100.5px,#fb9b06 107.5px,#fcae12 110.5px,#fb9b06 113.5px,#f8850f 114.5px,#87216b 115.5px,#0e092b 116.5px,#010108 117.5px,#010108 120.5px,#1b1b21 121.5px,#ffffff 122.5px,#ffffff 139.5px)"></i><i style="top:70px;background:linear-gradient(90deg,#ffffff 0.5px,#ffffff 17.5px,#e3e3e4 18.5px,#010108 19.5px,#010108 23.5px,#1e0c45 24.5px,#a32c61 25.5px,#f8890c 26.5px,#fb9706 29.5px,#fca309 31.5px,#fca108 35.5px,#f68013 38.5px,#ce4347 43.5px,#c43c4e 47.5px,#d84c3e 53.5px,#c13a50 56.5px,#771c6d 60.5px,#69166e 63.5px,#781c6d 66.5px,#420a68 68.5px,#02020c 69.5px,#02020c 70.5px,#2f0a5b 71.5px,#510e6c 72.5px,#7a1d6d 74.5px,#67166e 77.5px,#7f1e6c 80.5px,#c83f4b 84.5px,#d84c3e 87.5px,#c43c4e 95.5px,#e45a31 99.5px,#fa9407 103.5px,#fca50a 107.5px,#fb9d07 110.5px,#f98b0b 113.5px,#ee6a24 114.5px,#5f136e 115.5px,#02010a 116.5px,#010108 120.5px,#5c5c60 121.5px,#ffffff 122.5px,#ffffff 139.5px)"></i><i style="top:71px;background:linear-gradient(90deg,#ffffff 0.5px,#ffffff 18.5px,#26262c 19.5px,#010108 20.5px,#010108 23.5px,#0a0722 24.5px,#7c1d6d 25.5px,#f57b17 26.5px,#fa9008 27.5px,#fc9f07 32.5px,#f98c0a 37.5px,#ce4347 44.5px,#c63d4d 49.5px,#c83f4b 55.5px,#781c6d 61.5px,#6d186e 65.5px,#6d186e 66.5px,#390963 68.5px,#02020c 69.5px,#02020c 70.5px,#280b53 71.5px,#470b6a 72.5px,#71196e 74.5px,#6d186e 77.5px,#9a2865 81.5px,#cb4149 85.5px,#c63d4d 94.5px,#e9612b 99.5px,#fb9706 104.5px,#fb9b06 110.5px,#f98e09 113.5px,#cf4446 114.5px,#3d0965 115.5px,#010108 116.5px,#010108 120.5px,#9c9c9f 121.5px,#ffffff 122.5px,#ffffff 139.5px)"></i><i style="top:72px;background:linear-gradient(90deg,#ffffff 0.5px,#ffffff 18.5px,#66666b 19.5px,#010108 20.5px,#010108 24.5px,#59106e 25.5px,#ee6a24 26.5px,#fc9f07 27.5px,#fca309 31.5px,#f2741c 37.5px,#e05536 45.5px,#ad305d 51.5px,#a82e5f 60.5px,#751b6e 65.5px,#64156e 66.5px,#420a68 67.5px,#240c4f 68.5px,#02020c 69.5px,#02020c 70.5px,#320a5e 72.5px,#6f196e 74.5px,#a52c60 79.5px,#ad305d 85.5px,#b0315b 89.5px,#e8602d 96.5px,#f68013 105.5px,#fb9d07 108.5px,#fca80d 110.5px,#fb9906 113.5px,#a92e5e 114.5px,#1e0c45 115.5px,#010108 116.5px,#010108 120.5px,#ddddde 121.5px,#ffffff 122.5px,#ffffff 139.5px)"></i><i style="top:73px;background:linear-gradient(90deg,#ffffff 0.5px,#ffffff 18.5px,#a7a7a9 19.5px,#010108 20.5px,#010108 24.5px,#340a5f 25.5px,#cc4248 26.5px,#fca108 27.5px,#fcae12 30.5px,#f98e09 33.5px,#ed6925 38.5px,#e75e2e 45.5px,#9f2a63 52.5px,#a32c61 57.5px,#ab2f5e 61.5px,#7f1e6c 65.5px,#6a176e 66.5px,#440a68 67.5px,#210c4a 68.5px,#02020c 69.5px,#02020c 70.5px,#310a5c 72.5px,#540f6d 73.5px,#771c6d 74.5px,#a92e5e 78.5px,#a22b62 83.5px,#9b2964 87.5px,#d24644 92.5px,#eb6628 96.5px,#ef6e21 103.5px,#fca309 108.5px,#fcae12 111.5px,#fca60c 112.5px,#f8890c 113.5px,#7f1e6c 114.5px,#0a0722 115.5px,#010108 116.5px,#010108 119.5px,#1f1f26 120.5px,#ffffff 121.5px,#ffffff 139.5px)"></i><i style="top:74px;background:linear-gradient(90deg,#ffffff 0.5px,#ffffff 18.5px,#e7e7e8 19.5px,#010108 20.5px,#010108 24.5px,#180c3c 25.5px,#9b2964 26.5px,#f98c0a 27.5px,#fcaa0f 31.5px,#fa9207 35.5px,#db503b 43.5px,#b0315b 54.5px,#82206c 62.5px,#741a6e 66.5px,#340a5f 68.5px,#02020c 69.5px,#02020c 70.5px,#230c4c 71.5px,#450a69 72.5px,#7c1d6d 74.5px,#952667 82.5px,#ca404a 91.5px,#e75e2e 99.5px,#fb9606 105.5px,#fca80d 109.5px,#fb9606 112.5px,#eb6429 113.5px,#57106e 114.5px,#010108 115.5px,#010108 119.5px,#606064 120.5px,#ffffff 121.5px,#ffffff 139.5px)"></i><i style="top:75px;background:linear-gradient(90deg,#ffffff 0.5px,#ffffff 19.5px,#2a2a30 20.5px,#010108 21.5px,#010108 24.5px,#060419 25.5px,#71196e 26.5px,#f1711f 27.5px,#f8890c 28.5px,#fca50a 31.5px,#fca50a 35.5px,#f8850f 38.5px,#d74b3f 42.5px,#c03a51 46.5px,#d04545 52.5px,#ba3655 55.5px,#6d186e 60.5px,#62146e 63.5px,#721a6e 66.5px,#420a68 68.5px,#02020c 69.5px,#02020c 70.5px,#2f0a5b 71.5px,#4f0d6c 72.5px,#69166e 73.5px,#741a6e 74.5px,#62146e 78.5px,#922568 82.5px,#ca404a 86.5px,#cb4149 90.5px,#c33b4f 95.5px,#e65d2f 99.5px,#fb9906 103.5px,#fcaa0f 107.5px,#f8890c 112.5px,#c13a50 113.5px,#340a5f 114.5px,#010108 115.5px,#010108 119.5px,#a1a1a3 120.5px,#ffffff 121.5px,#ffffff 139.5px)"></i><i style="top:76px;background:linear-gradient(90deg,#ffffff 0.5px,#ffffff 19.5px,#6b6b6f 20.5px,#010108 21.5px,#010108 25.5px,#4f0d6c 26.5px,#e25734 27.5px,#fa9008 28.5px,#fc9f07 33.5px,#f78212 38.5px,#cc4248 45.5px,#b3325a 55.5px,#6f196e 63.5px,#65156e 66.5px,#340a5f 68.5px,#02020c 69.5px,#02020c 70.5px,#240c4f 71.5px,#400a67 72.5px,#6a176e 74.5px,#7f1e6c 79.5px,#ba3655 86.5px,#ca404a 94.5px,#f1711f 100.5px,#fb9906 105.5px,#fca309 108.5px,#f8890c 112.5px,#9b2964 113.5px,#180c3c 114.5px,#010108 115.5px,#010108 119.5px,#e1e1e2 120.5px,#ffffff 121.5px,#ffffff 139.5px)"></i><i style="top:77px;background:linear-gradient(90deg,#ffffff 0.5px,#ffffff 19.5px,#ababae 20.5px,#010108 21.5px,#010108 25.5px,#2d0b59 26.5px,#c13a50 27.5px,#fb9b06 28.5px,#fb9d07 32.5px,#f2741c 37.5px,#e45a31 45.5px,#a32c61 51.5px,#982766 55.5px,#a82e5f 60.5px,#84206b 64.5px,#5f136e 66.5px,#3d0965 67.5px,#1f0c48 68.5px,#02020c 69.5px,#02020c 70.5px,#2d0b59 72.5px,#4c0c6b 73.5px,#6c186e 74.5px,#a02a63 78.5px,#a32c61 82.5px,#982766 87.5px,#cb4149 92.5px,#eb6429 96.5px,#f78212 105.5px,#fca108 109.5px,#fc9f07 111.5px,#f78212 112.5px,#751b6e 113.5px,#060419 114.5px,#010108 115.5px,#010108 118.5px,#24242a 119.5px,#ffffff 120.5px,#ffffff 139.5px)"></i><i style="top:78px;background:linear-gradient(90deg,#ffffff 0.5px,#ffffff 19.5px,#ececec 20.5px,#010108 21.5px,#010108 25.5px,#140b34 26.5px,#952667 27.5px,#fa9008 28.5px,#fca50a 30.5px,#fca309 32.5px,#f1731d 37.5px,#df5337 46.5px,#9d2964 52.5px,#932667 56.5px,#a32c61 61.5px,#7d1e6d 65.5px,#67166e 66.5px,#420a68 67.5px,#230c4c 68.5px,#02020c 69.5px,#02020c 70.5px,#310a5c 72.5px,#520e6d 73.5px,#741a6e 74.5px,#a22b62 78.5px,#922568 86.5px,#c43c4e 91.5px,#e75e2e 95.5px,#f57b17 104.5px,#fb9d07 107.5px,#fc9f07 111.5px,#e75e2e 112.5px,#4f0d6c 113.5px,#010108 114.5px,#010108 118.5px,#646469 119.5px,#ffffff 120.5px,#ffffff 139.5px)"></i><i style="top:79px;background:linear-gradient(90deg,#ffffff 0.5px,#ffffff 20.5px,#2e2e34 21.5px,#010108 22.5px,#010108 25.5px,#040312 26.5px,#69166e 27.5px,#f1731d 28.5px,#fa9207 29.5px,#fcaa0f 33.5px,#fa9207 36.5px,#d84c3e 43.5px,#b93556 53.5px,#781c6d 61.5px,#71196e 66.5px,#380962 68.5px,#02020c 69.5px,#02020c 70.5px,#260c51 71.5px,#450a69 72.5px,#771c6d 74.5px,#7f1e6c 80.5px,#c13a50 88.5px,#da4e3c 97.5px,#fb9706 104.5px,#fcac11 107.5px,#fa9008 111.5px,#ba3655 112.5px,#2d0b59 113.5px,#010108 114.5px,#010108 118.5px,#a5a5a7 119.5px,#ffffff 120.5px,#ffffff 139.5px)"></i><i style="top:80px;background:linear-gradient(90deg,#ffffff 0.5px,#ffffff 20.5px,#6f6f73 21.5px,#010108 22.5px,#010108 26.5px,#450a69 27.5px,#d44842 28.5px,#f8890c 29.5px,#fca60c 32.5px,#fcac11 34.5px,#fb9706 37.5px,#d84c3e 42.5px,#bd3853 46.5px,#cc4248 52.5px,#a82e5f 56.5px,#61136e 61.5px,#62146e 64.5px,#6c186e 66.5px,#3e0966 68.5px,#02020c 69.5px,#02020c 70.5px,#2d0b59 71.5px,#4a0c6b 72.5px,#6f196e 74.5px,#5d126e 78.5px,#8f2469 82.5px,#c63d4d 86.5px,#c73e4c 90.5px,#c13a50 95.5px,#e8602d 99.5px,#fa9008 102.5px,#fcae12 106.5px,#fa9407 109.5px,#f57d15 111.5px,#8d2369 112.5px,#140b34 113.5px,#010108 114.5px,#010108 118.5px,#e5e5e6 119.5px,#ffffff 120.5px,#ffffff 139.5px)"></i><i style="top:81px;background:linear-gradient(90deg,#ffffff 0.5px,#ffffff 20.5px,#afafb2 21.5px,#010108 22.5px,#010108 26.5px,#240c4f 27.5px,#ae305c 28.5px,#f98b0b 29.5px,#fb9d07 33.5px,#f2741c 39.5px,#c13a50 47.5px,#952667 58.5px,#5f136e 66.5px,#2b0b57 68.5px,#02020c 69.5px,#02020c 70.5px,#1e0c45 71.5px,#380962 72.5px,#65156e 74.5px,#ad305d 86.5px,#cb4149 94.5px,#f78212 102.5px,#fb9b06 107.5px,#f98c0a 110.5px,#ef6e21 111.5px,#69166e 112.5px,#040312 113.5px,#010108 116.5px,#010108 117.5px,#28282e 118.5px,#ffffff 119.5px,#ffffff 139.5px)"></i><i style="top:82px;background:linear-gradient(90deg,#ffffff 0.5px,#ffffff 20.5px,#f0f0f0 21.5px,#010108 22.5px,#010108 26.5px,#0e092b 27.5px,#87216b 28.5px,#f68013 29.5px,#fa9207 30.5px,#f78212 34.5px,#ed6925 39.5px,#e25734 45.5px,#972766 51.5px,#87216b 54.5px,#a32c61 60.5px,#902568 63.5px,#5a116e 66.5px,#360961 67.5px,#190c3e 68.5px,#02020c 69.5px,#02020c 70.5px,#240c4f 72.5px,#470b6a 73.5px,#69166e 74.5px,#9f2a63 78.5px,#9a2865 82.5px,#87216b 86.5px,#9b2964 89.5px,#de5238 94.5px,#ed6925 99.5px,#f2741c 104.5px,#f98c0a 107.5px,#fa9008 110.5px,#da4e3c 111.5px,#450a69 112.5px,#010108 113.5px,#010108 117.5px,#69696d 118.5px,#ffffff 119.5px,#ffffff 139.5px)"></i><i style="top:83px;background:linear-gradient(90deg,#ffffff 0.5px,#ffffff 21.5px,#333338 22.5px,#010108 23.5px,#02010a 27.5px,#5f136e 28.5px,#ef6c23 29.5px,#f98e09 30.5px,#f8890c 34.5px,#eb6429 39.5px,#d54a41 46.5px,#8d2369 53.5px,#8d2369 58.5px,#902568 62.5px,#771c6d 65.5px,#64156e 66.5px,#400a67 67.5px,#210c4a 68.5px,#02020c 69.5px,#02020c 70.5px,#2d0b59 72.5px,#510e6c 73.5px,#71196e 74.5px,#922568 78.5px,#8c2369 86.5px,#c83f4b 92.5px,#e65d2f 98.5px,#f47918 104.5px,#fa9008 106.5px,#f98b0b 110.5px,#b0315b 111.5px,#240c4f 112.5px,#010108 113.5px,#010108 117.5px,#a9a9ac 118.5px,#ffffff 119.5px,#ffffff 139.5px)"></i><i style="top:84px;background:linear-gradient(90deg,#ffffff 0.5px,#ffffff 21.5px,#737377 22.5px,#010108 23.5px,#010108 27.5px,#3b0964 28.5px,#c73e4c 29.5px,#f78212 30.5px,#fc9f07 34.5px,#f78410 37.5px,#ca404a 43.5px,#bc3754 49.5px,#b3325a 53.5px,#69166e 60.5px,#67166e 64.5px,#6a176e 66.5px,#340a5f 68.5px,#02020c 69.5px,#02020c 70.5px,#240c4f 71.5px,#440a68 72.5px,#6f196e 74.5px,#65156e 79.5px,#ba3655 88.5px,#c63d4d 96.5px,#f06f20 101.5px,#fb9b06 105.5px,#fca108 106.5px,#f8850f 109.5px,#f1711f 110.5px,#801f6c 111.5px,#0d0829 112.5px,#010108 113.5px,#010108 117.5px,#eaeaea 118.5px,#ffffff 119.5px,#ffffff 139.5px)"></i><i style="top:85px;background:linear-gradient(90deg,#ffffff 0.5px,#ffffff 21.5px,#b4b4b6 22.5px,#010108 23.5px,#010108 27.5px,#1c0c43 28.5px,#9b2964 29.5px,#f37819 30.5px,#fca108 34.5px,#f98b0b 37.5px,#db503b 41.5px,#b1325a 45.5px,#ba3655 53.5px,#8a226a 57.5px,#550f6d 61.5px,#550f6d 64.5px,#62146e 66.5px,#360961 68.5px,#02020c 69.5px,#02020c 70.5px,#260c51 71.5px,#440a68 72.5px,#64156e 74.5px,#520e6d 78.5px,#82206c 82.5px,#b73557 86.5px,#b73557 90.5px,#b0315b 94.5px,#d44842 98.5px,#f78410 102.5px,#fc9f07 105.5px,#f57d15 109.5px,#e65d2f 110.5px,#5a116e 111.5px,#02010a 112.5px,#010108 116.5px,#2c2c32 117.5px,#ffffff 118.5px,#ffffff 139.5px)"></i><i style="top:86px;background:linear-gradient(90deg,#ffffff 0.5px,#ffffff 21.5px,#f4f4f5 22.5px,#010108 23.5px,#010108 27.5px,#0a0722 28.5px,#751b6e 29.5px,#ed6925 30.5px,#f57b17 31.5px,#f78212 35.5px,#d74b3f 43.5px,#9b2964 51.5px,#7a1d6d 61.5px,#550f6d 66.5px,#3b0964 67.5px,#210c4a 68.5px,#02020c 69.5px,#02020c 70.5px,#2d0b59 72.5px,#5c126e 74.5px,#8f2469 83.5px,#a92e5e 91.5px,#eb6429 100.5px,#f78410 106.5px,#f47918 109.5px,#c63d4d 110.5px,#390963 111.5px,#010108 112.5px,#010108 116.5px,#6d6d71 117.5px,#ffffff 118.5px,#ffffff 139.5px)"></i><i style="top:87px;background:linear-gradient(90deg,#ffffff 0.5px,#ffffff 22.5px,#37373c 23.5px,#010108 24.5px,#010108 28.5px,#520e6d 29.5px,#e25734 30.5px,#f47918 31.5px,#e65d2f 40.5px,#da4e3c 45.5px,#a22b62 49.5px,#741a6e 53.5px,#84206b 57.5px,#982766 61.5px,#7a1d6d 64.5px,#520e6d 66.5px,#2f0a5b 67.5px,#02020c 69.5px,#02020c 70.5px,#1f0c48 72.5px,#3e0966 73.5px,#61136e 74.5px,#952667 78.5px,#902568 81.5px,#721a6e 86.5px,#88226a 89.5px,#d54a41 94.5px,#e65d2f 99.5px,#ed6925 104.5px,#f1731d 106.5px,#f47918 109.5px,#9f2a63 110.5px,#1c0c43 111.5px,#010108 112.5px,#010108 116.5px,#adadb0 117.5px,#ffffff 118.5px,#ffffff 139.5px)"></i><i style="top:88px;background:linear-gradient(90deg,#ffffff 0.5px,#ffffff 22.5px,#78787b 23.5px,#010108 24.5px,#010108 28.5px,#310a5c 29.5px,#ba3655 30.5px,#f37819 31.5px,#f57b17 35.5px,#dd513a 41.5px,#b63458 48.5px,#7f1e6c 54.5px,#781c6d 63.5px,#5d126e 66.5px,#3d0965 67.5px,#1f0c48 68.5px,#02020c 69.5px,#02020c 70.5px,#2d0b59 72.5px,#4c0c6b 73.5px,#67166e 74.5px,#7d1e6d 79.5px,#801f6c 86.5px,#ce4347 95.5px,#ef6c23 103.5px,#f57b17 106.5px,#f47918 108.5px,#ec6726 109.5px,#751b6e 110.5px,#0a0722 111.5px,#010108 112.5px,#010108 116.5px,#eeeeef 117.5px,#ffffff 118.5px,#ffffff 139.5px)"></i><i style="top:89px;background:linear-gradient(90deg,#ffffff 0.5px,#ffffff 22.5px,#b8b8ba 23.5px,#010108 24.5px,#010108 28.5px,#160b39 29.5px,#8d2369 30.5px,#ef6c23 31.5px,#fa9407 35.5px,#df5337 40.5px,#b0315b 44.5px,#b0315b 50.5px,#a92e5e 53.5px,#520e6d 60.5px,#4f0d6c 63.5px,#61136e 66.5px,#320a5e 68.5px,#02020c 69.5px,#02020c 70.5px,#230c4c 71.5px,#400a67 72.5px,#62146e 74.5px,#4c0c6b 78.5px,#61136e 81.5px,#ad305d 87.5px,#ad305d 95.5px,#d84c3e 99.5px,#fa9008 104.5px,#f98b0b 106.5px,#f3761b 108.5px,#db503b 109.5px,#4f0d6c 110.5px,#010108 111.5px,#010108 115.5px,#313136 116.5px,#ffffff 117.5px,#ffffff 139.5px)"></i><i style="top:90px;background:linear-gradient(90deg,#ffffff 0.5px,#f9f9f9 23.5px,#010108 24.5px,#010108 28.5px,#060419 29.5px,#67166e 30.5px,#e45a31 31.5px,#f57d15 33.5px,#f98e09 35.5px,#f1731d 38.5px,#ba3655 43.5px,#a02a63 46.5px,#a82e5f 53.5px,#7c1d6d 57.5px,#4a0c6b 61.5px,#4a0c6b 64.5px,#540f6d 66.5px,#2f0a5b 68.5px,#02020c 69.5px,#02020c 70.5px,#210c4a 71.5px,#390963 72.5px,#550f6d 74.5px,#470b6a 78.5px,#741a6e 82.5px,#a52c60 86.5px,#a22b62 94.5px,#ce4347 98.5px,#f47918 102.5px,#fa9008 104.5px,#ef6e21 108.5px,#b3325a 109.5px,#2f0a5b 110.5px,#010108 111.5px,#010108 115.5px,#717175 116.5px,#ffffff 117.5px,#ffffff 139.5px)"></i><i style="top:91px;background:linear-gradient(90deg,#ffffff 0.5px,#ffffff 23.5px,#3b3b41 24.5px,#010108 25.5px,#010108 29.5px,#470b6a 30.5px,#ce4347 31.5px,#ec6726 32.5px,#f06f20 36.5px,#cb4149 44.5px,#84206b 51.5px,#751b6e 61.5px,#470b6a 66.5px,#180c3c 68.5px,#02020c 69.5px,#02020c 70.5px,#390963 73.5px,#59106e 75.5px,#7c1d6d 80.5px,#801f6c 88.5px,#cf4446 96.5px,#f1711f 104.5px,#ea632a 108.5px,#8a226a 109.5px,#160b39 110.5px,#010108 111.5px,#010108 115.5px,#b2b2b4 116.5px,#ffffff 117.5px,#ffffff 139.5px)"></i><i style="top:92px;background:linear-gradient(90deg,#ffffff 0.5px,#ffffff 23.5px,#010108 25.5px,#010108 29.5px,#280b53 30.5px,#a62d60 31.5px,#eb6429 32.5px,#d84c3e 44.5px,#a82e5f 48.5px,#67166e 52.5px,#64156e 55.5px,#8a226a 61.5px,#6f196e 64.5px,#470b6a 66.5px,#110a30 68.5px,#02020c 69.5px,#02020c 70.5px,#190c3e 72.5px,#340a5f 73.5px,#540f6d 74.5px,#88226a 78.5px,#801f6c 81.5px,#61136e 86.5px,#781c6d 89.5px,#cb4149 94.5px,#df5337 99.5px,#ea632a 107.5px,#e15635 108.5px,#67166e 109.5px,#060419 110.5px,#010108 111.5px,#010108 115.5px,#f2f2f3 116.5px,#ffffff 118.5px,#ffffff 139.5px)"></i><i style="top:93px;background:linear-gradient(90deg,#ffffff 0.5px,#ffffff 23.5px,#bcbcbe 24.5px,#010108 25.5px,#010108 29.5px,#110a30 30.5px,#801f6c 31.5px,#e75e2e 32.5px,#f06f20 36.5px,#c73e4c 43.5px,#751b6e 54.5px,#64156e 61.5px,#5c126e 65.5px,#380962 67.5px,#1e0c45 68.5px,#02020c 69.5px,#02020c 70.5px,#290b55 72.5px,#59106e 74.5px,#721a6e 85.5px,#cf4446 98.5px,#ef6e21 104.5px,#eb6628 107.5px,#cc4248 108.5px,#450a69 109.5px,#010108 110.5px,#010108 114.5px,#35353b 115.5px,#ffffff 116.5px,#ffffff 139.5px)"></i><i style="top:94px;background:linear-gradient(90deg,#ffffff 0.5px,#fdfdfd 24.5px,#010108 25.5px,#010108 29.5px,#040312 30.5px,#5c126e 31.5px,#de5238 32.5px,#f47918 34.5px,#f8850f 36.5px,#d84c3e 40.5px,#a02a63 44.5px,#972766 47.5px,#a32c61 52.5px,#88226a 55.5px,#470b6a 59.5px,#340a5f 62.5px,#520e6d 66.5px,#2d0b59 68.5px,#02020c 69.5px,#02020c 70.5px,#1f0c48 71.5px,#390963 72.5px,#520e6d 74.5px,#340a5f 78.5px,#4d0d6c 81.5px,#9b2964 86.5px,#a22b62 90.5px,#952667 94.5px,#c13a50 98.5px,#f2741c 102.5px,#f78410 103.5px,#f1731d 106.5px,#ec6726 107.5px,#a32c61 108.5px,#260c51 109.5px,#010108 110.5px,#010108 114.5px,#767679 115.5px,#ffffff 116.5px,#ffffff 139.5px)"></i><i style="top:95px;background:linear-gradient(90deg,#ffffff 0.5px,#ffffff 24.5px,#404045 25.5px,#010108 26.5px,#010108 30.5px,#3b0964 31.5px,#bd3853 32.5px,#e9612b 33.5px,#f37819 37.5px,#c13a50 42.5px,#952667 46.5px,#8f2469 54.5px,#420a68 61.5px,#3e0966 64.5px,#450a69 66.5px,#240c4f 68.5px,#02020c 69.5px,#02020c 70.5px,#190c3e 71.5px,#2d0b59 72.5px,#470b6a 74.5px,#3e0966 78.5px,#8a226a 85.5px,#932667 91.5px,#982766 94.5px,#d54a41 99.5px,#f47918 103.5px,#e25734 107.5px,#7c1d6d 108.5px,#110a30 109.5px,#010108 110.5px,#010108 114.5px,#b6b6b8 115.5px,#ffffff 116.5px,#ffffff 139.5px)"></i><i style="top:96px;background:linear-gradient(90deg,#ffffff 0.5px,#ffffff 24.5px,#010108 26.5px,#010108 30.5px,#1e0c45 31.5px,#922568 32.5px,#de5238 33.5px,#e15635 38.5px,#c83f4b 44.5px,#71196e 51.5px,#65156e 54.5px,#751b6e 60.5px,#59106e 64.5px,#3b0964 66.5px,#02020c 69.5px,#02020c 70.5px,#2d0b59 73.5px,#520e6d 75.5px,#741a6e 79.5px,#67166e 87.5px,#8f2469 91.5px,#cc4248 96.5px,#e35933 103.5px,#dd513a 106.5px,#d04545 107.5px,#59106e 108.5px,#040312 109.5px,#010108 112.5px,#010108 114.5px,#f7f7f7 115.5px,#ffffff 123.5px,#ffffff 139.5px)"></i><i style="top:97px;background:linear-gradient(90deg,#ffffff 0.5px,#ffffff 24.5px,#c1c1c2 25.5px,#010108 26.5px,#010108 30.5px,#0c0826 31.5px,#6d186e 32.5px,#d24644 33.5px,#d44842 43.5px,#ae305c 47.5px,#5f136e 52.5px,#59106e 55.5px,#7d1e6d 61.5px,#67166e 64.5px,#440a68 66.5px,#210c4a 67.5px,#02020c 69.5px,#02020c 70.5px,#160b39 72.5px,#310a5c 73.5px,#5f136e 75.5px,#7d1e6d 78.5px,#6c186e 82.5px,#550f6d 86.5px,#721a6e 89.5px,#c33b4f 94.5px,#d54a41 98.5px,#d84c3e 106.5px,#b1325a 107.5px,#390963 108.5px,#010108 109.5px,#010108 113.5px,#39393f 114.5px,#ffffff 115.5px,#ffffff 139.5px)"></i><i style="top:98px;background:linear-gradient(90deg,#ffffff 0.5px,#ffffff 25.5px,#03030a 26.5px,#02010a 31.5px,#4d0d6c 32.5px,#cb4149 33.5px,#de5238 34.5px,#df5337 38.5px,#ab2f5e 45.5px,#540f6d 60.5px,#4f0d6c 66.5px,#380962 67.5px,#1f0c48 68.5px,#02020c 69.5px,#02020c 70.5px,#290b55 72.5px,#550f6d 74.5px,#59106e 81.5px,#b3325a 96.5px,#e25734 103.5px,#db503b 106.5px,#8f2469 107.5px,#1e0c45 108.5px,#010108 109.5px,#010108 113.5px,#ffffff 115.5px,#ffffff 139.5px)"></i><i style="top:99px;background:linear-gradient(90deg,#ffffff 0.5px,#ffffff 25.5px,#444449 26.5px,#010108 27.5px,#010108 31.5px,#310a5c 32.5px,#a82e5f 33.5px,#df5337 34.5px,#eb6628 36.5px,#dd513a 39.5px,#9f2a63 43.5px,#8a226a 46.5px,#a02a63 52.5px,#87216b 55.5px,#440a68 59.5px,#2d0b59 61.5px,#3b0964 64.5px,#4f0d6c 66.5px,#2b0b57 68.5px,#02020c 69.5px,#02020c 70.5px,#1f0c48 71.5px,#380962 72.5px,#4f0d6c 74.5px,#2b0b57 78.5px,#4a0c6b 81.5px,#982766 86.5px,#a02a63 89.5px,#8c2369 94.5px,#a52c60 97.5px,#ea632a 102.5px,#e45a31 105.5px,#d54a41 106.5px,#6c186e 107.5px,#0c0826 108.5px,#010108 109.5px,#010108 113.5px,#bababc 114.5px,#ffffff 115.5px,#ffffff 139.5px)"></i><i style="top:100px;background:linear-gradient(90deg,#ffffff 0.5px,#ffffff 25.5px,#010108 27.5px,#010108 31.5px,#160b39 32.5px,#7f1e6c 33.5px,#d24644 34.5px,#e15635 38.5px,#932667 46.5px,#771c6d 56.5px,#400a67 63.5px,#420a68 66.5px,#1e0c45 68.5px,#02020c 69.5px,#02020c 70.5px,#150b37 71.5px,#390963 73.5px,#450a69 74.5px,#450a69 78.5px,#85216b 86.5px,#972766 94.5px,#e15635 102.5px,#d74b3f 105.5px,#c13a50 106.5px,#4a0c6b 107.5px,#02010a 108.5px,#010108 113.5px,#fbfbfb 114.5px,#ffffff 139.5px)"></i><i style="top:101px;background:linear-gradient(90deg,#ffffff 0.5px,#ffffff 25.5px,#c5c5c7 26.5px,#010108 27.5px,#010108 31.5px,#08051d 32.5px,#5a116e 33.5px,#b93556 34.5px,#cf4446 41.5px,#bd3853 45.5px,#721a6e 50.5px,#59106e 53.5px,#7a1d6d 60.5px,#5c126e 64.5px,#3b0964 66.5px,#0d0829 68.5px,#02020c 69.5px,#02020c 70.5px,#150b37 72.5px,#470b6a 74.5px,#741a6e 78.5px,#71196e 82.5px,#59106e 86.5px,#6c186e 89.5px,#c13a50 95.5px,#cf4446 100.5px,#c13a50 105.5px,#952667 106.5px,#2d0b59 107.5px,#010108 108.5px,#010108 112.5px,#3e3e43 113.5px,#ffffff 114.5px,#ffffff 139.5px)"></i><i style="top:102px;background:linear-gradient(90deg,#ffffff 0.5px,#ffffff 26.5px,#08080e 27.5px,#010108 32.5px,#3e0966 33.5px,#a92e5e 34.5px,#bc3754 35.5px,#c33b4f 44.5px,#972766 48.5px,#57106e 53.5px,#5a116e 56.5px,#771c6d 61.5px,#57106e 65.5px,#450a69 66.5px,#10092d 68.5px,#02020c 69.5px,#02020c 70.5px,#180c3c 72.5px,#320a5e 73.5px,#510e6c 74.5px,#751b6e 78.5px,#65156e 82.5px,#540f6d 86.5px,#7f1e6c 90.5px,#c03a51 95.5px,#c63d4d 101.5px,#bc3754 104.5px,#bc3754 105.5px,#751b6e 106.5px,#160b39 107.5px,#010108 108.5px,#010108 112.5px,#ffffff 114.5px,#ffffff 139.5px)"></i><i style="top:103px;background:linear-gradient(90deg,#ffffff 0.5px,#ffffff 26.5px,#48484d 27.5px,#010108 28.5px,#010108 32.5px,#240c4f 33.5px,#8f2469 34.5px,#c73e4c 35.5px,#c73e4c 39.5px,#982766 45.5px,#82206c 53.5px,#490b6a 60.5px,#4c0c6b 64.5px,#4f0d6c 66.5px,#3b0964 67.5px,#230c4c 68.5px,#02020c 69.5px,#02020c 70.5px,#2f0a5b 72.5px,#540f6d 74.5px,#470b6a 79.5px,#741a6e 85.5px,#922568 90.5px,#a62d60 97.5px,#cc4248 102.5px,#cb4149 104.5px,#bd3853 105.5px,#5a116e 106.5px,#08051d 107.5px,#010108 108.5px,#010108 112.5px,#bfbfc0 113.5px,#ffffff 114.5px,#ffffff 139.5px)"></i><i style="top:104px;background:linear-gradient(90deg,#ffffff 0.5px,#ffffff 26.5px,#89898c 27.5px,#010108 28.5px,#010108 32.5px,#110a30 33.5px,#6f196e 34.5px,#c63d4d 35.5px,#d74b3f 37.5px,#bd3853 40.5px,#85216b 44.5px,#87216b 48.5px,#9b2964 52.5px,#84206b 55.5px,#400a67 59.5px,#280b53 62.5px,#4c0c6b 66.5px,#2b0b57 68.5px,#02020c 69.5px,#02020c 70.5px,#1e0c45 71.5px,#360961 72.5px,#4a0c6b 74.5px,#290b55 77.5px,#390963 80.5px,#7c1d6d 84.5px,#9a2865 87.5px,#7f1e6c 94.5px,#952667 97.5px,#cf4446 101.5px,#ce4347 104.5px,#b1325a 105.5px,#3e0966 106.5px,#010108 107.5px,#010108 112.5px,#ffffff 113.5px,#ffffff 139.5px)"></i><i style="top:105px;background:linear-gradient(90deg,#ffffff 0.5px,#ffffff 26.5px,#c9c9cb 27.5px,#010108 28.5px,#010108 32.5px,#050417 33.5px,#4d0d6c 34.5px,#ad305d 35.5px,#c13a50 37.5px,#b93556 41.5px,#7f1e6c 49.5px,#64156e 58.5px,#420a68 65.5px,#3e0966 66.5px,#190c3e 68.5px,#02020c 69.5px,#02020c 70.5px,#210c4a 72.5px,#420a68 74.5px,#5a116e 80.5px,#7a1d6d 88.5px,#922568 94.5px,#c33b4f 100.5px,#b93556 104.5px,#84206b 105.5px,#230c4c 106.5px,#010108 107.5px,#010108 111.5px,#424247 112.5px,#ffffff 113.5px,#ffffff 139.5px)"></i><i style="top:106px;background:linear-gradient(90deg,#ffffff 0.5px,#ffffff 27.5px,#0c0c13 28.5px,#010108 30.5px,#010108 33.5px,#320a5e 34.5px,#8c2369 35.5px,#a22b62 36.5px,#c13a50 42.5px,#b63458 45.5px,#5c126e 51.5px,#4d0d6c 54.5px,#7a1d6d 60.5px,#6a176e 63.5px,#390963 66.5px,#0c0826 68.5px,#02020c 69.5px,#02020c 70.5px,#120a32 72.5px,#290b55 73.5px,#450a69 74.5px,#771c6d 78.5px,#741a6e 81.5px,#4d0d6c 86.5px,#61136e 89.5px,#ba3655 95.5px,#bd3853 99.5px,#9f2a63 104.5px,#5f136e 105.5px,#10092d 106.5px,#010108 107.5px,#010108 111.5px,#ffffff 113.5px,#ffffff 139.5px)"></i><i style="top:107px;background:linear-gradient(90deg,#ffffff 0.5px,#ffffff 27.5px,#4c4c51 28.5px,#010108 29.5px,#010108 33.5px,#1c0c43 34.5px,#71196e 35.5px,#a02a63 36.5px,#b1325a 44.5px,#8f2469 48.5px,#57106e 53.5px,#5a116e 57.5px,#6a176e 62.5px,#450a69 66.5px,#120a32 68.5px,#02020c 69.5px,#02020c 70.5px,#1b0c41 72.5px,#340a5f 73.5px,#4f0d6c 74.5px,#6c186e 79.5px,#540f6d 86.5px,#932667 92.5px,#b1325a 96.5px,#a22b62 103.5px,#982766 104.5px,#470b6a 105.5px,#050417 106.5px,#010108 107.5px,#010108 111.5px,#c3c3c5 112.5px,#ffffff 113.5px,#ffffff 139.5px)"></i><i style="top:108px;background:linear-gradient(90deg,#ffffff 0.5px,#ffffff 27.5px,#8d8d90 28.5px,#010108 29.5px,#010108 33.5px,#0c0826 34.5px,#5c126e 35.5px,#a82e5f 36.5px,#b3325a 38.5px,#84206b 44.5px,#8a226a 52.5px,#420a68 59.5px,#390963 62.5px,#4d0d6c 66.5px,#260c51 68.5px,#02020c 69.5px,#02020c 70.5px,#190c3e 71.5px,#310a5c 72.5px,#4f0d6c 74.5px,#380962 78.5px,#520e6d 82.5px,#8c2369 88.5px,#87216b 96.5px,#b43359 102.5px,#b0315b 103.5px,#932667 104.5px,#310a5c 105.5px,#010108 106.5px,#06060c 111.5px,#ffffff 112.5px,#ffffff 139.5px)"></i><i style="top:109px;background:linear-gradient(90deg,#ffffff 0.5px,#ffffff 27.5px,#cececf 28.5px,#010108 29.5px,#030210 34.5px,#420a68 35.5px,#a02a63 36.5px,#b3325a 37.5px,#b0315b 39.5px,#751b6e 44.5px,#7a1d6d 48.5px,#922568 52.5px,#7d1e6d 55.5px,#3e0966 59.5px,#280b53 62.5px,#450a69 66.5px,#280b53 68.5px,#02020c 69.5px,#02020c 70.5px,#1c0c43 71.5px,#400a67 73.5px,#450a69 74.5px,#280b53 77.5px,#380962 80.5px,#771c6d 84.5px,#902568 87.5px,#71196e 94.5px,#84206b 97.5px,#b43359 101.5px,#ae305c 103.5px,#751b6e 104.5px,#1b0c41 105.5px,#010108 106.5px,#010108 110.5px,#46464b 111.5px,#ffffff 112.5px,#ffffff 139.5px)"></i><i style="top:110px;background:linear-gradient(90deg,#ffffff 0.5px,#ffffff 28.5px,#101017 29.5px,#010108 30.5px,#010108 34.5px,#280b53 35.5px,#7c1d6d 36.5px,#9a2865 37.5px,#a62d60 41.5px,#67166e 52.5px,#57106e 61.5px,#380962 66.5px,#150b37 68.5px,#02020c 69.5px,#02020c 70.5px,#2d0b59 73.5px,#420a68 75.5px,#65156e 83.5px,#741a6e 91.5px,#a62d60 99.5px,#9f2a63 102.5px,#932667 103.5px,#520e6d 104.5px,#0c0826 105.5px,#010108 106.5px,#010108 110.5px,#ffffff 112.5px,#ffffff 139.5px)"></i><i style="top:111px;background:linear-gradient(90deg,#ffffff 0.5px,#ffffff 28.5px,#515156 29.5px,#010108 30.5px,#010108 34.5px,#150b37 35.5px,#5a116e 36.5px,#84206b 37.5px,#b1325a 43.5px,#9f2a63 46.5px,#4f0d6c 51.5px,#420a68 54.5px,#781c6d 60.5px,#6a176e 63.5px,#380962 66.5px,#0b0724 68.5px,#02020c 69.5px,#060419 71.5px,#260c51 73.5px,#440a68 74.5px,#771c6d 78.5px,#6f196e 81.5px,#420a68 86.5px,#550f6d 89.5px,#a52c60 94.5px,#b0315b 97.5px,#7d1e6d 103.5px,#380962 104.5px,#030210 105.5px,#010108 110.5px,#c7c7c9 111.5px,#ffffff 112.5px,#ffffff 139.5px)"></i><i style="top:112px;background:linear-gradient(90deg,#ffffff 0.5px,#ffffff 28.5px,#919194 29.5px,#010108 30.5px,#010108 34.5px,#09061f 35.5px,#470b6a 36.5px,#801f6c 37.5px,#952667 44.5px,#781c6d 49.5px,#520e6d 54.5px,#5a116e 63.5px,#440a68 66.5px,#150b37 68.5px,#02020c 69.5px,#02020c 70.5px,#1c0c43 72.5px,#360961 73.5px,#4c0c6b 74.5px,#5d126e 79.5px,#510e6c 85.5px,#952667 95.5px,#85216b 102.5px,#6f196e 103.5px,#240c4f 104.5px,#010108 105.5px,#010108 109.5px,#0a0a11 110.5px,#ffffff 111.5px,#ffffff 139.5px)"></i><i style="top:113px;background:linear-gradient(90deg,#ffffff 0.5px,#ffffff 28.5px,#d2d2d3 29.5px,#010108 30.5px,#02010a 35.5px,#340a5f 36.5px,#87216b 37.5px,#902568 39.5px,#67166e 44.5px,#87216b 52.5px,#61136e 56.5px,#2f0a5b 60.5px,#310a5c 63.5px,#490b6a 66.5px,#260c51 68.5px,#02020c 69.5px,#02020c 70.5px,#1b0c41 71.5px,#310a5c 72.5px,#490b6a 74.5px,#2b0b57 78.5px,#3d0965 81.5px,#85216b 87.5px,#7a1d6d 91.5px,#67166e 95.5px,#801f6c 99.5px,#952667 101.5px,#8f2469 102.5px,#5f136e 103.5px,#140b34 104.5px,#010108 105.5px,#010108 109.5px,#4a4a4f 110.5px,#ffffff 111.5px,#ffffff 139.5px)"></i><i style="top:114px;background:linear-gradient(90deg,#ffffff 0.5px,#ffffff 29.5px,#15151b 30.5px,#010108 31.5px,#010108 35.5px,#1f0c48 36.5px,#6d186e 37.5px,#8d2369 38.5px,#922568 39.5px,#5f136e 45.5px,#82206c 53.5px,#5a116e 57.5px,#2b0b57 61.5px,#2f0a5b 64.5px,#3e0966 66.5px,#230c4c 68.5px,#02020c 69.5px,#02020c 70.5px,#180c3c 71.5px,#2b0b57 72.5px,#3d0965 74.5px,#280b53 77.5px,#380962 80.5px,#781c6d 85.5px,#801f6c 88.5px,#5f136e 94.5px,#6d186e 97.5px,#922568 101.5px,#87216b 102.5px,#470b6a 103.5px,#08051d 104.5px,#010108 105.5px,#010108 109.5px,#8b8b8e 110.5px,#ffffff 111.5px,#ffffff 139.5px)"></i><i style="top:115px;background:linear-gradient(90deg,#ffffff 0.5px,#ffffff 29.5px,#55555a 30.5px,#010108 31.5px,#010108 35.5px,#10092d 36.5px,#4d0d6c 37.5px,#781c6d 38.5px,#8d2369 42.5px,#6a176e 48.5px,#520e6d 53.5px,#5f136e 60.5px,#3d0965 65.5px,#1e0c45 67.5px,#02020c 69.5px,#02020c 70.5px,#260c51 73.5px,#420a68 75.5px,#61136e 80.5px,#520e6d 88.5px,#8d2369 97.5px,#7f1e6c 101.5px,#71196e 102.5px,#2d0b59 103.5px,#02010a 104.5px,#010108 109.5px,#cccccd 110.5px,#ffffff 111.5px,#ffffff 139.5px)"></i><i style="top:116px;background:linear-gradient(90deg,#ffffff 0.5px,#ffffff 29.5px,#969699 30.5px,#010108 31.5px,#010108 35.5px,#060419 36.5px,#360961 37.5px,#65156e 38.5px,#982766 43.5px,#8d2369 46.5px,#420a68 51.5px,#360961 54.5px,#71196e 60.5px,#67166e 63.5px,#340a5f 66.5px,#0a0722 68.5px,#02020c 69.5px,#050417 71.5px,#230c4c 73.5px,#400a67 74.5px,#6c186e 77.5px,#6d186e 80.5px,#340a5f 86.5px,#490b6a 89.5px,#922568 94.5px,#972766 97.5px,#6c186e 101.5px,#550f6d 102.5px,#1b0c41 103.5px,#010108 104.5px,#010108 108.5px,#0e0e15 109.5px,#ffffff 110.5px,#ffffff 139.5px)"></i><i style="top:117px;background:linear-gradient(90deg,#ffffff 0.5px,#ffffff 29.5px,#d6d6d7 30.5px,#010108 31.5px,#010108 36.5px,#260c51 37.5px,#64156e 38.5px,#71196e 42.5px,#6a176e 49.5px,#490b6a 57.5px,#4a0c6b 65.5px,#290b55 67.5px,#160b39 68.5px,#02020c 69.5px,#02020c 70.5px,#340a5f 73.5px,#4c0c6b 75.5px,#4d0d6c 85.5px,#751b6e 94.5px,#69166e 101.5px,#470b6a 102.5px,#0e092b 103.5px,#010108 104.5px,#010108 108.5px,#4f4f54 109.5px,#ffffff 110.5px,#ffffff 139.5px)"></i></div>
<div class="hm" style="left:319px;top:30px;width:140px"><i style="top:0px;background:linear-gradient(90deg,#c2c2c4 0.5px,#010108 1.5px,#010108 4.5px,#040312 5.5px,#160b39 7.5px,#120a32 66.5px,#02020c 69.5px,#02020c 70.5px,#160b39 74.5px,#160b39 132.5px,#030210 134.5px,#010108 138.5px,#e4e4e5 139.5px)"></i><i style="top:1px;background:linear-gradient(90deg,#ffffff 0.5px,#05050c 1.5px,#010108 4.5px,#040314 5.5px,#390963 6.5px,#8a226a 7.5px,#b93556 10.5px,#9a2865 15.5px,#781c6d 19.5px,#8c2369 26.5px,#6f196e 30.5px,#390963 35.5px,#470b6a 39.5px,#64156e 43.5px,#4c0c6b 47.5px,#1b0c41 51.5px,#160b39 54.5px,#420a68 59.5px,#450a69 62.5px,#2b0b57 65.5px,#040312 68.5px,#02020c 70.5px,#0c0826 72.5px,#2d0b59 74.5px,#490b6a 78.5px,#2f0a5b 82.5px,#160b39 85.5px,#1c0c43 88.5px,#4d0d6c 92.5px,#64156e 95.5px,#470b6a 100.5px,#380962 103.5px,#4a0c6b 106.5px,#84206b 111.5px,#88226a 115.5px,#7a1d6d 120.5px,#b93556 128.5px,#ad305d 130.5px,#85216b 132.5px,#2f0a5b 133.5px,#02010a 134.5px,#010108 137.5px,#27272d 138.5px,#ffffff 139.5px)"></i><i style="top:2px;background:linear-gradient(90deg,#ffffff 0.5px,#45454a 1.5px,#010108 2.5px,#010108 5.5px,#2d0b59 6.5px,#8a226a 7.5px,#a62d60 8.5px,#c13a50 13.5px,#ba3655 17.5px,#801f6c 27.5px,#69166e 36.5px,#510e6c 43.5px,#490b6a 52.5px,#2f0a5b 60.5px,#390963 65.5px,#1f0c48 67.5px,#02020c 69.5px,#02020c 70.5px,#210c4a 72.5px,#320a5e 73.5px,#340a5f 76.5px,#340a5f 82.5px,#520e6d 92.5px,#5a116e 100.5px,#7d1e6d 109.5px,#922568 116.5px,#c33b4f 124.5px,#b63458 129.5px,#a52c60 131.5px,#7d1e6d 132.5px,#230c4c 133.5px,#010108 134.5px,#010108 137.5px,#67676b 138.5px,#ffffff 139.5px)"></i><i style="top:3px;background:linear-gradient(90deg,#ffffff 0.5px,#010108 2.5px,#010108 5.5px,#1c0c43 6.5px,#771c6d 7.5px,#ab2f5e 8.5px,#d74b3f 17.5px,#ba3655 21.5px,#7a1d6d 26.5px,#771c6d 29.5px,#922568 35.5px,#6c186e 39.5px,#3e0966 43.5px,#4a0c6b 47.5px,#6a176e 52.5px,#550f6d 55.5px,#2d0b59 58.5px,#180c3c 61.5px,#2b0b57 64.5px,#390963 66.5px,#1b0c41 68.5px,#02020c 69.5px,#02020c 70.5px,#1e0c45 71.5px,#3b0964 73.5px,#180c3c 78.5px,#2f0a5b 81.5px,#62146e 85.5px,#64156e 89.5px,#3d0965 94.5px,#490b6a 97.5px,#8f2469 103.5px,#8a226a 107.5px,#721a6e 111.5px,#922568 115.5px,#cf4446 120.5px,#d34743 124.5px,#ab2f5e 130.5px,#ab2f5e 131.5px,#6a176e 132.5px,#140b34 133.5px,#010108 134.5px,#010108 137.5px,#a8a8aa 138.5px,#ffffff 139.5px)"></i><i style="top:4px;background:linear-gradient(90deg,#ffffff 0.5px,#c6c6c8 1.5px,#010108 2.5px,#010108 5.5px,#0d0829 6.5px,#61136e 7.5px,#b1325a 8.5px,#ce4347 15.5px,#ba3655 21.5px,#7d1e6d 29.5px,#7a1d6d 37.5px,#4a0c6b 46.5px,#550f6d 54.5px,#290b55 62.5px,#2d0b59 66.5px,#120a32 68.5px,#02020c 69.5px,#02020c 70.5px,#150b37 71.5px,#2f0a5b 73.5px,#2d0b59 78.5px,#57106e 86.5px,#4c0c6b 94.5px,#801f6c 104.5px,#801f6c 111.5px,#cb4149 121.5px,#c33b4f 128.5px,#ad305d 131.5px,#540f6d 132.5px,#08051d 133.5px,#010108 134.5px,#010108 137.5px,#e8e8e9 138.5px,#ffffff 139.5px)"></i><i style="top:5px;background:linear-gradient(90deg,#ffffff 0.5px,#ffffff 1.5px,#090910 2.5px,#010108 5.5px,#030210 6.5px,#4a0c6b 7.5px,#b43359 8.5px,#d44842 10.5px,#cc4248 14.5px,#ae305c 21.5px,#a82e5f 27.5px,#62146e 34.5px,#62146e 38.5px,#781c6d 43.5px,#5c126e 47.5px,#320a5e 51.5px,#390963 55.5px,#57106e 60.5px,#400a67 64.5px,#240c4f 66.5px,#02020c 69.5px,#02020c 70.5px,#140b34 72.5px,#280b53 73.5px,#4a0c6b 76.5px,#57106e 79.5px,#2f0a5b 87.5px,#71196e 94.5px,#741a6e 98.5px,#5c126e 103.5px,#741a6e 107.5px,#ae305c 113.5px,#b63458 121.5px,#d84c3e 128.5px,#c83f4b 130.5px,#ad305d 131.5px,#3d0965 132.5px,#010108 133.5px,#010108 136.5px,#2b2b31 137.5px,#ffffff 138.5px,#ffffff 139.5px)"></i><i style="top:6px;background:linear-gradient(90deg,#ffffff 0.5px,#ffffff 1.5px,#4a4a4f 2.5px,#010108 3.5px,#010108 6.5px,#310a5c 7.5px,#9d2964 8.5px,#c83f4b 9.5px,#dd513a 12.5px,#ad305d 21.5px,#ab2f5e 27.5px,#5a116e 36.5px,#771c6d 44.5px,#4c0c6b 49.5px,#2d0b59 53.5px,#57106e 61.5px,#3e0966 65.5px,#2b0b57 66.5px,#09061f 68.5px,#02020c 69.5px,#02020c 70.5px,#180c3c 72.5px,#2f0a5b 73.5px,#510e6c 76.5px,#510e6c 80.5px,#2d0b59 86.5px,#59106e 91.5px,#771c6d 95.5px,#5c126e 103.5px,#88226a 108.5px,#ae305c 113.5px,#b3325a 120.5px,#dd513a 127.5px,#c73e4c 130.5px,#8d2369 131.5px,#240c4f 132.5px,#010108 133.5px,#010108 136.5px,#6b6b70 137.5px,#ffffff 138.5px,#ffffff 139.5px)"></i><i style="top:7px;background:linear-gradient(90deg,#ffffff 0.5px,#ffffff 1.5px,#8a8a8d 2.5px,#010108 3.5px,#010108 6.5px,#190c3e 7.5px,#781c6d 8.5px,#bc3754 9.5px,#d94d3d 14.5px,#d34743 18.5px,#902568 26.5px,#7d1e6d 36.5px,#520e6d 43.5px,#59106e 52.5px,#2f0a5b 60.5px,#390963 66.5px,#150b37 68.5px,#02020c 69.5px,#02020c 70.5px,#180c3c 71.5px,#3b0964 73.5px,#310a5c 80.5px,#5c126e 88.5px,#550f6d 97.5px,#8a226a 106.5px,#972766 114.5px,#da4e3c 122.5px,#d34743 127.5px,#b93556 130.5px,#6a176e 131.5px,#110a30 132.5px,#010108 133.5px,#010108 136.5px,#acacae 137.5px,#ffffff 138.5px,#ffffff 139.5px)"></i><i style="top:8px;background:linear-gradient(90deg,#ffffff 0.5px,#ffffff 1.5px,#cbcbcc 2.5px,#010108 3.5px,#010108 6.5px,#0b0724 7.5px,#5d126e 8.5px,#b1325a 9.5px,#e25734 16.5px,#d24644 20.5px,#84206b 26.5px,#801f6c 30.5px,#952667 35.5px,#71196e 39.5px,#420a68 43.5px,#420a68 46.5px,#6c186e 52.5px,#4c0c6b 56.5px,#1e0c45 60.5px,#1b0c41 62.5px,#380962 65.5px,#2d0b59 67.5px,#1b0c41 68.5px,#02020c 69.5px,#02020c 70.5px,#1e0c45 71.5px,#390963 73.5px,#1b0c41 77.5px,#260c51 80.5px,#4d0d6c 83.5px,#6a176e 86.5px,#5c126e 90.5px,#3d0965 94.5px,#4c0c6b 97.5px,#922568 103.5px,#8c2369 107.5px,#7c1d6d 111.5px,#8f2469 114.5px,#db503b 120.5px,#e15635 123.5px,#ba3655 129.5px,#ae305c 130.5px,#510e6c 131.5px,#050417 132.5px,#010108 133.5px,#010108 136.5px,#ededed 137.5px,#ffffff 138.5px,#ffffff 139.5px)"></i><i style="top:9px;background:linear-gradient(90deg,#ffffff 0.5px,#ffffff 2.5px,#0d0d14 3.5px,#010108 5.5px,#02020c 7.5px,#470b6a 8.5px,#b43359 9.5px,#cc4248 11.5px,#d84c3e 17.5px,#a52c60 25.5px,#82206c 31.5px,#64156e 42.5px,#4d0d6c 50.5px,#450a69 58.5px,#2b0b57 66.5px,#10092d 68.5px,#02020c 69.5px,#02020c 70.5px,#120a32 71.5px,#2d0b59 73.5px,#510e6c 86.5px,#550f6d 94.5px,#7c1d6d 104.5px,#902568 111.5px,#d54a41 121.5px,#d34743 127.5px,#c63d4d 129.5px,#a62d60 130.5px,#390963 131.5px,#010108 132.5px,#010108 135.5px,#2f2f35 136.5px,#ffffff 137.5px,#ffffff 139.5px)"></i><i style="top:10px;background:linear-gradient(90deg,#ffffff 0.5px,#ffffff 2.5px,#4e4e53 3.5px,#010108 4.5px,#010108 7.5px,#2d0b59 8.5px,#a02a63 9.5px,#d34743 10.5px,#e05536 13.5px,#bc3754 21.5px,#b43359 27.5px,#62146e 34.5px,#64156e 38.5px,#7f1e6c 43.5px,#61136e 47.5px,#310a5c 51.5px,#310a5c 54.5px,#5d126e 60.5px,#450a69 64.5px,#240c4f 66.5px,#02020c 69.5px,#02020c 70.5px,#140b34 72.5px,#3b0964 74.5px,#5c126e 78.5px,#490b6a 82.5px,#2b0b57 86.5px,#470b6a 90.5px,#7c1d6d 95.5px,#71196e 99.5px,#5c126e 103.5px,#781c6d 107.5px,#b43359 112.5px,#c73e4c 121.5px,#e05536 127.5px,#d24644 129.5px,#8f2469 130.5px,#210c4a 131.5px,#010108 132.5px,#010108 135.5px,#707074 136.5px,#ffffff 137.5px,#ffffff 139.5px)"></i><i style="top:11px;background:linear-gradient(90deg,#ffffff 0.5px,#ffffff 2.5px,#8e8e92 3.5px,#010108 4.5px,#010108 7.5px,#160b39 8.5px,#7d1e6d 9.5px,#d04545 10.5px,#e45a31 13.5px,#b93556 23.5px,#a02a63 29.5px,#64156e 36.5px,#71196e 45.5px,#340a5f 53.5px,#520e6d 62.5px,#400a67 65.5px,#2f0a5b 66.5px,#02020c 69.5px,#02020c 70.5px,#320a5e 73.5px,#4f0d6c 76.5px,#4c0c6b 80.5px,#340a5f 85.5px,#520e6d 90.5px,#741a6e 95.5px,#64156e 103.5px,#ae305c 112.5px,#c83f4b 120.5px,#e35933 126.5px,#cb4149 129.5px,#6d186e 130.5px,#0e092b 131.5px,#010108 132.5px,#010108 135.5px,#b0b0b3 136.5px,#ffffff 137.5px,#ffffff 139.5px)"></i><i style="top:12px;background:linear-gradient(90deg,#ffffff 0.5px,#ffffff 2.5px,#cfcfd0 3.5px,#010108 4.5px,#010108 7.5px,#09061f 8.5px,#5c126e 9.5px,#bf3952 10.5px,#e45a31 14.5px,#e55c30 18.5px,#9d2964 25.5px,#8d2369 29.5px,#8d2369 35.5px,#4f0d6c 43.5px,#5a116e 48.5px,#61136e 52.5px,#320a5e 58.5px,#280b53 61.5px,#3b0964 66.5px,#180c3c 68.5px,#02020c 69.5px,#02020c 70.5px,#1b0c41 71.5px,#3d0965 73.5px,#290b55 79.5px,#5d126e 86.5px,#5f136e 90.5px,#4d0d6c 95.5px,#6d186e 100.5px,#902568 105.5px,#902568 112.5px,#ce4347 118.5px,#e8602d 122.5px,#df5337 126.5px,#ba3655 129.5px,#4f0d6c 130.5px,#040312 131.5px,#010108 134.5px,#010108 135.5px,#f1f1f1 136.5px,#ffffff 138.5px,#ffffff 139.5px)"></i><i style="top:13px;background:linear-gradient(90deg,#ffffff 0.5px,#ffffff 3.5px,#121218 4.5px,#010108 5.5px,#010108 8.5px,#420a68 9.5px,#b3325a 10.5px,#ca404a 11.5px,#ea632a 16.5px,#e75e2e 19.5px,#9d2964 25.5px,#85216b 28.5px,#972766 35.5px,#751b6e 39.5px,#470b6a 43.5px,#450a69 46.5px,#6c186e 52.5px,#4f0d6c 56.5px,#210c4a 60.5px,#230c4c 63.5px,#380962 66.5px,#190c3e 68.5px,#02020c 69.5px,#02020c 70.5px,#1c0c43 71.5px,#380962 73.5px,#1e0c45 78.5px,#360961 81.5px,#6a176e 86.5px,#5c126e 90.5px,#420a68 94.5px,#5c126e 98.5px,#932667 103.5px,#902568 107.5px,#85216b 111.5px,#ad305d 115.5px,#e8602d 120.5px,#e75e2e 124.5px,#c83f4b 128.5px,#a22b62 129.5px,#340a5f 130.5px,#010108 131.5px,#010108 134.5px,#343439 135.5px,#ffffff 136.5px,#ffffff 139.5px)"></i><i style="top:14px;background:linear-gradient(90deg,#ffffff 0.5px,#ffffff 3.5px,#525257 4.5px,#010108 5.5px,#010108 8.5px,#290b55 9.5px,#9a2865 10.5px,#d34743 11.5px,#e25734 15.5px,#d84c3e 20.5px,#88226a 31.5px,#751b6e 38.5px,#490b6a 52.5px,#420a68 61.5px,#290b55 66.5px,#02020c 69.5px,#02020c 70.5px,#1c0c43 72.5px,#340a5f 74.5px,#4c0c6b 83.5px,#510e6c 91.5px,#751b6e 101.5px,#88226a 108.5px,#de5238 120.5px,#de5238 126.5px,#d24644 128.5px,#88226a 129.5px,#1c0c43 130.5px,#010108 131.5px,#010108 134.5px,#747478 135.5px,#ffffff 136.5px,#ffffff 139.5px)"></i><i style="top:15px;background:linear-gradient(90deg,#ffffff 0.5px,#ffffff 3.5px,#939396 4.5px,#010108 5.5px,#010108 8.5px,#140b34 9.5px,#7f1e6c 10.5px,#d94d3d 11.5px,#e65d2f 14.5px,#ca404a 23.5px,#b63458 28.5px,#67166e 34.5px,#5f136e 37.5px,#82206c 43.5px,#64156e 47.5px,#2b0b57 52.5px,#400a67 56.5px,#5f136e 60.5px,#540f6d 63.5px,#3d0965 65.5px,#120a32 67.5px,#02020c 69.5px,#02020c 70.5px,#290b55 73.5px,#4a0c6b 75.5px,#5f136e 78.5px,#490b6a 82.5px,#290b55 86.5px,#3d0965 89.5px,#7c1d6d 94.5px,#7a1d6d 98.5px,#5d126e 103.5px,#721a6e 106.5px,#bf3952 112.5px,#e25734 124.5px,#e05536 127.5px,#d44842 128.5px,#6d186e 129.5px,#0c0826 130.5px,#010108 131.5px,#010108 134.5px,#b5b5b7 135.5px,#ffffff 136.5px,#ffffff 139.5px)"></i><i style="top:16px;background:linear-gradient(90deg,#ffffff 0.5px,#ffffff 3.5px,#d3d3d5 4.5px,#010108 5.5px,#010108 8.5px,#060419 9.5px,#5d126e 10.5px,#ce4347 11.5px,#e55c30 13.5px,#e75e2e 16.5px,#9f2a63 30.5px,#6d186e 36.5px,#69166e 46.5px,#3b0964 54.5px,#4a0c6b 63.5px,#420a68 65.5px,#320a5e 66.5px,#02020c 69.5px,#02020c 70.5px,#360961 73.5px,#4c0c6b 76.5px,#3e0966 86.5px,#6f196e 95.5px,#6d186e 103.5px,#bd3853 114.5px,#ea632a 124.5px,#de5238 127.5px,#ca404a 128.5px,#4f0d6c 129.5px,#02020c 130.5px,#010108 134.5px,#f5f5f6 135.5px,#ffffff 138.5px,#ffffff 139.5px)"></i><i style="top:17px;background:linear-gradient(90deg,#ffffff 0.5px,#ffffff 4.5px,#16161c 5.5px,#010108 6.5px,#010108 9.5px,#3e0966 10.5px,#b63458 11.5px,#d84c3e 12.5px,#f1711f 16.5px,#ee6a24 19.5px,#a92e5e 25.5px,#922568 29.5px,#972766 35.5px,#4c0c6b 43.5px,#540f6d 47.5px,#69166e 52.5px,#3d0965 57.5px,#230c4c 60.5px,#340a5f 64.5px,#3d0965 66.5px,#2d0b59 67.5px,#190c3e 68.5px,#02020c 69.5px,#02020c 70.5px,#1c0c43 71.5px,#3e0966 73.5px,#230c4c 78.5px,#320a5e 81.5px,#65156e 86.5px,#62146e 90.5px,#4a0c6b 95.5px,#67166e 99.5px,#972766 104.5px,#972766 112.5px,#d34743 117.5px,#f1711f 121.5px,#ef6e21 124.5px,#d74b3f 127.5px,#a52c60 128.5px,#310a5c 129.5px,#010108 130.5px,#010108 133.5px,#38383d 134.5px,#ffffff 135.5px,#ffffff 139.5px)"></i><i style="top:18px;background:linear-gradient(90deg,#ffffff 0.5px,#ffffff 4.5px,#57575b 5.5px,#010108 6.5px,#010108 9.5px,#240c4f 10.5px,#952667 11.5px,#d74b3f 12.5px,#f1711f 16.5px,#f1711f 19.5px,#bf3952 24.5px,#902568 28.5px,#932667 36.5px,#4a0c6b 44.5px,#540f6d 48.5px,#69166e 52.5px,#510e6c 56.5px,#260c51 60.5px,#260c51 63.5px,#360961 66.5px,#180c3c 68.5px,#02020c 69.5px,#02020c 70.5px,#1b0c41 71.5px,#380962 73.5px,#230c4c 78.5px,#520e6d 83.5px,#69166e 87.5px,#490b6a 94.5px,#59106e 97.5px,#932667 103.5px,#922568 111.5px,#ce4347 116.5px,#f1731d 120.5px,#ef6e21 124.5px,#d54a41 127.5px,#84206b 128.5px,#190c3e 129.5px,#010108 130.5px,#010108 133.5px,#78787c 134.5px,#ffffff 135.5px,#ffffff 139.5px)"></i><i style="top:19px;background:linear-gradient(90deg,#ffffff 0.5px,#ffffff 4.5px,#97979a 5.5px,#010108 6.5px,#010108 9.5px,#110a30 10.5px,#781c6d 11.5px,#d94d3d 12.5px,#eb6628 15.5px,#e15635 21.5px,#ad305d 28.5px,#751b6e 35.5px,#6f196e 44.5px,#420a68 52.5px,#4c0c6b 61.5px,#360961 65.5px,#0c0826 68.5px,#02020c 69.5px,#02020c 70.5px,#2b0b57 73.5px,#4c0c6b 78.5px,#470b6a 89.5px,#771c6d 97.5px,#7c1d6d 105.5px,#cb4149 114.5px,#e9612b 121.5px,#e65d2f 125.5px,#d44842 127.5px,#69166e 128.5px,#0a0722 129.5px,#010108 130.5px,#010108 133.5px,#b9b9bb 134.5px,#ffffff 135.5px,#ffffff 139.5px)"></i><i style="top:20px;background:linear-gradient(90deg,#ffffff 0.5px,#ffffff 4.5px,#d8d8d9 5.5px,#010108 6.5px,#010108 9.5px,#040314 10.5px,#5c126e 11.5px,#d54a41 12.5px,#e9612b 14.5px,#ca404a 27.5px,#7a1d6d 33.5px,#62146e 36.5px,#84206b 44.5px,#4c0c6b 49.5px,#2d0b59 52.5px,#360961 55.5px,#5f136e 60.5px,#4c0c6b 64.5px,#290b55 66.5px,#08051d 68.5px,#02020c 69.5px,#02020c 70.5px,#160b39 72.5px,#2d0b59 73.5px,#4d0d6c 75.5px,#5f136e 78.5px,#490b6a 82.5px,#2b0b57 86.5px,#4d0d6c 90.5px,#84206b 95.5px,#751b6e 99.5px,#62146e 103.5px,#8a226a 107.5px,#ca404a 112.5px,#ea632a 124.5px,#e55c30 126.5px,#cf4446 127.5px,#4c0c6b 128.5px,#010108 129.5px,#010108 133.5px,#fafafa 134.5px,#ffffff 139.5px)"></i><i style="top:21px;background:linear-gradient(90deg,#ffffff 0.5px,#ffffff 5.5px,#1a1a21 6.5px,#010108 7.5px,#010108 10.5px,#3d0965 11.5px,#bc3754 12.5px,#e55c30 13.5px,#f2741c 16.5px,#de5238 22.5px,#9f2a63 31.5px,#6d186e 39.5px,#5f136e 48.5px,#400a67 57.5px,#440a68 65.5px,#380962 66.5px,#110a30 68.5px,#02020c 69.5px,#02020c 70.5px,#240c4f 72.5px,#390963 73.5px,#450a69 76.5px,#450a69 85.5px,#6a176e 95.5px,#7a1d6d 103.5px,#c83f4b 114.5px,#ee6a24 120.5px,#ef6e21 124.5px,#e45a31 126.5px,#a92e5e 127.5px,#2f0a5b 128.5px,#010108 129.5px,#010108 132.5px,#3c3c41 133.5px,#ffffff 134.5px,#ffffff 139.5px)"></i><i style="top:22px;background:linear-gradient(90deg,#ffffff 0.5px,#ffffff 5.5px,#5b5b5f 6.5px,#010108 7.5px,#010108 10.5px,#210c4a 11.5px,#952667 12.5px,#e25734 13.5px,#f8850f 16.5px,#f57b17 20.5px,#ba3655 25.5px,#982766 29.5px,#a02a63 35.5px,#4c0c6b 43.5px,#540f6d 47.5px,#6f196e 52.5px,#4c0c6b 56.5px,#1f0c48 60.5px,#280b53 63.5px,#3e0966 65.5px,#2f0a5b 67.5px,#1c0c43 68.5px,#02020c 69.5px,#02020c 70.5px,#1e0c45 71.5px,#3e0966 73.5px,#1e0c45 78.5px,#400a67 82.5px,#6c186e 86.5px,#6a176e 89.5px,#490b6a 95.5px,#6c186e 99.5px,#a02a63 104.5px,#9d2964 111.5px,#ca404a 115.5px,#f57d15 119.5px,#f78410 123.5px,#e05536 126.5px,#84206b 127.5px,#160b39 128.5px,#010108 129.5px,#010108 132.5px,#ffffff 134.5px,#ffffff 139.5px)"></i><i style="top:23px;background:linear-gradient(90deg,#ffffff 0.5px,#ffffff 5.5px,#9b9b9e 6.5px,#010108 7.5px,#010108 10.5px,#0e092b 11.5px,#741a6e 12.5px,#dd513a 13.5px,#f67e14 16.5px,#f67e14 20.5px,#d34743 24.5px,#9b2964 29.5px,#932667 36.5px,#4f0d6c 45.5px,#61136e 54.5px,#2d0b59 60.5px,#2f0a5b 64.5px,#340a5f 66.5px,#160b39 68.5px,#02020c 69.5px,#02020c 70.5px,#190c3e 71.5px,#360961 73.5px,#280b53 78.5px,#5a116e 84.5px,#62146e 88.5px,#510e6c 94.5px,#751b6e 99.5px,#982766 104.5px,#9d2964 110.5px,#d44842 115.5px,#f67e14 119.5px,#f57d15 123.5px,#d84c3e 126.5px,#64156e 127.5px,#07051b 128.5px,#010108 129.5px,#010108 132.5px,#bdbdbf 133.5px,#ffffff 134.5px,#ffffff 139.5px)"></i><i style="top:24px;background:linear-gradient(90deg,#ffffff 0.5px,#ffffff 5.5px,#dcdcdd 6.5px,#010108 7.5px,#02020e 11.5px,#57106e 12.5px,#d84c3e 13.5px,#ec6726 15.5px,#f06f20 20.5px,#cb4149 27.5px,#85216b 33.5px,#721a6e 37.5px,#7d1e6d 43.5px,#3e0966 51.5px,#4f0d6c 57.5px,#520e6d 61.5px,#390963 65.5px,#0b0724 68.5px,#02020c 69.5px,#02020c 70.5px,#2b0b57 73.5px,#4f0d6c 77.5px,#4f0d6c 82.5px,#3d0965 87.5px,#62146e 92.5px,#7f1e6c 97.5px,#741a6e 103.5px,#9b2964 108.5px,#dd513a 114.5px,#f06f20 119.5px,#ef6e21 123.5px,#e8602d 125.5px,#cb4149 126.5px,#470b6a 127.5px,#010108 128.5px,#010108 132.5px,#fefefe 133.5px,#ffffff 139.5px)"></i><i style="top:25px;background:linear-gradient(90deg,#ffffff 0.5px,#ffffff 6.5px,#1f1f25 7.5px,#010108 8.5px,#010108 11.5px,#390963 12.5px,#bc3754 13.5px,#e9612b 14.5px,#f1711f 17.5px,#e05536 25.5px,#bf3952 29.5px,#71196e 35.5px,#6a176e 38.5px,#85216b 43.5px,#6c186e 47.5px,#320a5e 52.5px,#400a67 56.5px,#5d126e 60.5px,#4c0c6b 64.5px,#2b0b57 66.5px,#09061f 68.5px,#02020c 69.5px,#02020c 70.5px,#180c3c 72.5px,#310a5c 73.5px,#550f6d 76.5px,#59106e 80.5px,#310a5c 86.5px,#450a69 89.5px,#801f6c 94.5px,#7d1e6d 98.5px,#69166e 102.5px,#87216b 106.5px,#d54a41 112.5px,#ee6a24 119.5px,#ee6a24 123.5px,#e9612b 125.5px,#a82e5f 126.5px,#290b55 127.5px,#010108 128.5px,#010108 131.5px,#404046 132.5px,#ffffff 133.5px,#ffffff 139.5px)"></i><i style="top:26px;background:linear-gradient(90deg,#ffffff 0.5px,#ffffff 6.5px,#5f5f64 7.5px,#010108 8.5px,#010108 11.5px,#1c0c43 12.5px,#952667 13.5px,#ea632a 14.5px,#f8850f 17.5px,#f3761b 21.5px,#cb4149 26.5px,#972766 34.5px,#67166e 42.5px,#57106e 52.5px,#3b0964 60.5px,#440a68 65.5px,#260c51 67.5px,#02020c 69.5px,#02020c 70.5px,#160b39 71.5px,#3d0965 73.5px,#3e0966 76.5px,#450a69 83.5px,#64156e 92.5px,#741a6e 100.5px,#c43c4e 112.5px,#ed6925 117.5px,#f78212 121.5px,#f47918 123.5px,#e65d2f 125.5px,#82206c 126.5px,#120a32 127.5px,#010108 128.5px,#010108 131.5px,#ffffff 133.5px,#ffffff 139.5px)"></i><i style="top:27px;background:linear-gradient(90deg,#ffffff 0.5px,#ffffff 6.5px,#a0a0a2 7.5px,#010108 8.5px,#010108 11.5px,#0b0724 12.5px,#71196e 13.5px,#e25734 14.5px,#fa9207 17.5px,#f68013 21.5px,#ca404a 25.5px,#a62d60 29.5px,#a92e5e 35.5px,#57106e 42.5px,#4a0c6b 45.5px,#721a6e 52.5px,#5d126e 55.5px,#340a5f 58.5px,#1e0c45 61.5px,#240c4f 63.5px,#3d0965 65.5px,#2f0a5b 67.5px,#1c0c43 68.5px,#02020c 69.5px,#02020c 70.5px,#1f0c48 71.5px,#3e0966 73.5px,#1e0c45 78.5px,#360961 81.5px,#71196e 86.5px,#65156e 90.5px,#4a0c6b 94.5px,#57106e 97.5px,#a32c61 103.5px,#a92e5e 107.5px,#a62d60 110.5px,#cc4248 114.5px,#f78212 118.5px,#fa9407 121.5px,#f67e14 123.5px,#de5238 125.5px,#5f136e 126.5px,#040314 127.5px,#010108 129.5px,#010108 131.5px,#c2c2c3 132.5px,#ffffff 133.5px,#ffffff 139.5px)"></i><i style="top:28px;background:linear-gradient(90deg,#ffffff 0.5px,#ffffff 6.5px,#e0e0e1 7.5px,#010108 8.5px,#010108 12.5px,#510e6c 13.5px,#d74b3f 14.5px,#ec6726 15.5px,#f8890c 18.5px,#f3761b 22.5px,#c13a50 27.5px,#9f2a63 32.5px,#88226a 38.5px,#57106e 46.5px,#59106e 55.5px,#2f0a5b 62.5px,#310a5c 66.5px,#140b34 68.5px,#02020c 69.5px,#02020c 70.5px,#160b39 71.5px,#320a5e 73.5px,#380962 79.5px,#5f136e 86.5px,#5d126e 95.5px,#9a2865 104.5px,#b0315b 110.5px,#e45a31 115.5px,#f68013 118.5px,#f8890c 121.5px,#eb6628 124.5px,#c43c4e 125.5px,#400a67 126.5px,#010108 127.5px,#04040b 131.5px,#ffffff 132.5px,#ffffff 139.5px)"></i><i style="top:29px;background:linear-gradient(90deg,#ffffff 0.5px,#ffffff 7.5px,#232329 8.5px,#010108 9.5px,#010108 12.5px,#320a5e 13.5px,#b3325a 14.5px,#e9612b 15.5px,#f2741c 19.5px,#f06f20 23.5px,#d04545 28.5px,#8a226a 33.5px,#751b6e 37.5px,#87216b 43.5px,#5a116e 48.5px,#380962 52.5px,#510e6c 57.5px,#5c126e 61.5px,#3b0964 65.5px,#09061f 68.5px,#02020c 69.5px,#02020c 70.5px,#160b39 72.5px,#2b0b57 73.5px,#4f0d6c 76.5px,#5c126e 80.5px,#380962 86.5px,#4f0d6c 90.5px,#84206b 95.5px,#7a1d6d 100.5px,#7a1d6d 104.5px,#b63458 109.5px,#e25734 113.5px,#f37819 117.5px,#f2741c 121.5px,#e8602d 124.5px,#9f2a63 125.5px,#230c4c 126.5px,#010108 127.5px,#010108 130.5px,#45454a 131.5px,#ffffff 132.5px,#ffffff 139.5px)"></i><i style="top:30px;background:linear-gradient(90deg,#ffffff 0.5px,#ffffff 7.5px,#636368 8.5px,#010108 9.5px,#010108 12.5px,#180c3c 13.5px,#8d2369 14.5px,#e8602d 15.5px,#f2741c 19.5px,#ef6e21 23.5px,#ca404a 29.5px,#85216b 34.5px,#721a6e 38.5px,#84206b 44.5px,#62146e 48.5px,#390963 52.5px,#420a68 56.5px,#5c126e 61.5px,#440a68 65.5px,#2f0a5b 66.5px,#0b0724 68.5px,#02020c 69.5px,#02020c 70.5px,#320a5e 73.5px,#4d0d6c 75.5px,#5a116e 79.5px,#360961 86.5px,#64156e 91.5px,#84206b 95.5px,#721a6e 102.5px,#9f2a63 107.5px,#de5238 112.5px,#f1731d 118.5px,#ef6c23 122.5px,#e45a31 124.5px,#7c1d6d 125.5px,#0e092b 126.5px,#010108 127.5px,#010108 130.5px,#ffffff 132.5px,#ffffff 139.5px)"></i><i style="top:31px;background:linear-gradient(90deg,#ffffff 0.5px,#ffffff 7.5px,#a4a4a7 8.5px,#010108 9.5px,#010108 12.5px,#08051d 13.5px,#6a176e 14.5px,#e45a31 15.5px,#f67e14 17.5px,#f8890c 19.5px,#ee6a24 23.5px,#c33b4f 28.5px,#8d2369 37.5px,#62146e 43.5px,#61136e 52.5px,#340a5f 60.5px,#440a68 65.5px,#290b55 67.5px,#160b39 68.5px,#02020c 69.5px,#02020c 70.5px,#190c3e 71.5px,#3e0966 73.5px,#3e0966 75.5px,#380962 80.5px,#65156e 89.5px,#67166e 97.5px,#ad305d 107.5px,#d44842 113.5px,#f67e14 118.5px,#f8870e 121.5px,#f06f20 123.5px,#df5337 124.5px,#5a116e 125.5px,#02020e 126.5px,#010108 130.5px,#c6c6c7 131.5px,#ffffff 132.5px,#ffffff 139.5px)"></i><i style="top:32px;background:linear-gradient(90deg,#ffffff 0.5px,#ffffff 7.5px,#e5e5e5 8.5px,#010108 9.5px,#010108 13.5px,#4a0c6b 14.5px,#d44842 15.5px,#f1731d 16.5px,#fa9407 18.5px,#fa9008 20.5px,#f06f20 23.5px,#cc4248 26.5px,#b1325a 30.5px,#b0315b 35.5px,#84206b 39.5px,#520e6d 43.5px,#510e6c 46.5px,#741a6e 52.5px,#61136e 55.5px,#2b0b57 59.5px,#210c4a 62.5px,#3d0965 66.5px,#1c0c43 68.5px,#02020c 69.5px,#02020c 70.5px,#1f0c48 71.5px,#3d0965 73.5px,#1f0c48 78.5px,#470b6a 82.5px,#721a6e 86.5px,#67166e 90.5px,#4d0d6c 94.5px,#69166e 98.5px,#ab2f5e 103.5px,#ba3655 111.5px,#e75e2e 115.5px,#f8890c 118.5px,#fb9706 120.5px,#f78212 122.5px,#f1711f 123.5px,#c13a50 124.5px,#3b0964 125.5px,#010108 126.5px,#08080f 130.5px,#ffffff 131.5px,#ffffff 139.5px)"></i><i style="top:33px;background:linear-gradient(90deg,#ffffff 0.5px,#ffffff 8.5px,#27272d 9.5px,#010108 10.5px,#010108 13.5px,#2b0b57 14.5px,#ad305d 15.5px,#ed6925 16.5px,#f98b0b 19.5px,#f57b17 23.5px,#c83f4b 28.5px,#9d2964 34.5px,#5a116e 48.5px,#510e6c 57.5px,#360961 64.5px,#2f0a5b 66.5px,#120a32 68.5px,#02020c 69.5px,#02020c 70.5px,#140b34 71.5px,#310a5c 73.5px,#59106e 87.5px,#64156e 94.5px,#b73557 109.5px,#e8602d 114.5px,#f57d15 116.5px,#f98b0b 120.5px,#ec6726 123.5px,#982766 124.5px,#1e0c45 125.5px,#010108 126.5px,#010108 129.5px,#49494e 130.5px,#ffffff 131.5px,#ffffff 139.5px)"></i><i style="top:34px;background:linear-gradient(90deg,#ffffff 0.5px,#ffffff 8.5px,#68686c 9.5px,#010108 10.5px,#010108 13.5px,#140b34 14.5px,#85216b 15.5px,#e65d2f 16.5px,#f47918 20.5px,#f47918 24.5px,#d04545 29.5px,#922568 33.5px,#7a1d6d 37.5px,#8d2369 43.5px,#6d186e 47.5px,#360961 52.5px,#490b6a 56.5px,#62146e 60.5px,#490b6a 64.5px,#280b53 66.5px,#02020c 69.5px,#02020c 70.5px,#160b39 72.5px,#2b0b57 73.5px,#4a0c6b 75.5px,#62146e 79.5px,#360961 86.5px,#520e6d 90.5px,#85216b 94.5px,#88226a 98.5px,#7c1d6d 103.5px,#a22b62 107.5px,#de5238 111.5px,#f68013 116.5px,#f3761b 120.5px,#e25734 123.5px,#741a6e 124.5px,#0b0724 125.5px,#010108 126.5px,#010108 129.5px,#8a8a8d 130.5px,#ffffff 131.5px,#ffffff 139.5px)"></i><i style="top:35px;background:linear-gradient(90deg,#ffffff 0.5px,#ffffff 8.5px,#a8a8ab 9.5px,#010108 10.5px,#010108 13.5px,#050417 14.5px,#64156e 15.5px,#e15635 16.5px,#f06f20 18.5px,#f57b17 21.5px,#f3761b 24.5px,#c73e4c 30.5px,#8a226a 35.5px,#7c1d6d 39.5px,#7f1e6c 45.5px,#3e0966 53.5px,#57106e 62.5px,#450a69 65.5px,#320a5e 66.5px,#02020c 69.5px,#02020c 70.5px,#360961 73.5px,#540f6d 76.5px,#520e6d 80.5px,#3e0966 86.5px,#7f1e6c 94.5px,#84206b 103.5px,#ad305d 107.5px,#e45a31 112.5px,#f57b17 116.5px,#f37819 120.5px,#ed6925 122.5px,#da4e3c 123.5px,#540f6d 124.5px,#010108 125.5px,#010108 129.5px,#cacacc 130.5px,#ffffff 131.5px,#ffffff 139.5px)"></i><i style="top:36px;background:linear-gradient(90deg,#ffffff 0.5px,#ffffff 8.5px,#e9e9ea 9.5px,#010108 10.5px,#010108 14.5px,#450a69 15.5px,#cf4446 16.5px,#f3761b 17.5px,#fa9008 20.5px,#e65d2f 25.5px,#c13a50 30.5px,#9a2865 37.5px,#65156e 42.5px,#61136e 46.5px,#6a176e 52.5px,#340a5f 59.5px,#360961 63.5px,#440a68 65.5px,#2d0b59 67.5px,#190c3e 68.5px,#02020c 69.5px,#02020c 70.5px,#1c0c43 71.5px,#400a67 73.5px,#2f0a5b 79.5px,#67166e 86.5px,#67166e 91.5px,#61136e 96.5px,#902568 101.5px,#b1325a 105.5px,#d54a41 112.5px,#f37819 116.5px,#fa9008 119.5px,#f2741c 122.5px,#bc3754 123.5px,#340a5f 124.5px,#010108 125.5px,#010108 128.5px,#0d0d13 129.5px,#ffffff 130.5px,#ffffff 139.5px)"></i><i style="top:37px;background:linear-gradient(90deg,#ffffff 0.5px,#ffffff 9.5px,#2b2b31 10.5px,#010108 11.5px,#010108 14.5px,#260c51 15.5px,#a92e5e 16.5px,#f3761b 17.5px,#fb9906 20.5px,#f1711f 24.5px,#c73e4c 28.5px,#b0315b 36.5px,#62146e 42.5px,#540f6d 45.5px,#751b6e 52.5px,#57106e 56.5px,#230c4c 61.5px,#3b0964 66.5px,#1b0c41 68.5px,#02020c 69.5px,#02020c 70.5px,#1e0c45 71.5px,#3d0965 73.5px,#230c4c 78.5px,#59106e 83.5px,#751b6e 87.5px,#540f6d 94.5px,#64156e 97.5px,#b0315b 103.5px,#c83f4b 111.5px,#f57d15 116.5px,#fb9906 119.5px,#f78212 121.5px,#f1711f 122.5px,#952667 123.5px,#190c3e 124.5px,#010108 125.5px,#010108 128.5px,#4d4d52 129.5px,#ffffff 130.5px,#ffffff 139.5px)"></i><i style="top:38px;background:linear-gradient(90deg,#ffffff 0.5px,#ffffff 9.5px,#6c6c70 10.5px,#010108 11.5px,#010108 14.5px,#10092d 15.5px,#7f1e6c 16.5px,#ea632a 17.5px,#f98b0b 20.5px,#f68013 24.5px,#c43c4e 30.5px,#9b2964 35.5px,#520e6d 52.5px,#490b6a 61.5px,#2d0b59 66.5px,#10092d 68.5px,#02020c 69.5px,#02020c 70.5px,#110a30 71.5px,#2f0a5b 73.5px,#540f6d 82.5px,#5a116e 90.5px,#a62d60 106.5px,#e45a31 112.5px,#f8850f 116.5px,#f8890c 119.5px,#f1731d 121.5px,#e55c30 122.5px,#6d186e 123.5px,#08051d 124.5px,#010108 125.5px,#010108 128.5px,#8e8e91 129.5px,#ffffff 130.5px,#ffffff 139.5px)"></i><i style="top:39px;background:linear-gradient(90deg,#ffffff 0.5px,#ffffff 9.5px,#adadaf 10.5px,#010108 11.5px,#02020e 15.5px,#5c126e 16.5px,#de5238 17.5px,#f06f20 19.5px,#f8870e 23.5px,#f47918 26.5px,#cf4446 30.5px,#8f2469 34.5px,#7f1e6c 37.5px,#902568 44.5px,#64156e 48.5px,#360961 52.5px,#400a67 55.5px,#65156e 60.5px,#59106e 63.5px,#400a67 65.5px,#09061f 68.5px,#02020c 69.5px,#02020c 70.5px,#160b39 72.5px,#2d0b59 73.5px,#4f0d6c 75.5px,#65156e 79.5px,#340a5f 86.5px,#4a0c6b 89.5px,#8c2369 94.5px,#8d2369 98.5px,#82206c 103.5px,#9f2a63 106.5px,#de5238 110.5px,#f8850f 114.5px,#f47918 119.5px,#ec6726 121.5px,#d24644 122.5px,#4c0c6b 123.5px,#010108 124.5px,#010108 128.5px,#ceced0 129.5px,#ffffff 130.5px,#ffffff 139.5px)"></i><i style="top:40px;background:linear-gradient(90deg,#ffffff 0.5px,#ffffff 9.5px,#ededee 10.5px,#010108 11.5px,#010108 15.5px,#3e0966 16.5px,#c43c4e 17.5px,#ef6e21 18.5px,#f8870e 21.5px,#f1711f 26.5px,#ba3655 32.5px,#8a226a 37.5px,#721a6e 47.5px,#450a69 54.5px,#4f0d6c 63.5px,#470b6a 65.5px,#360961 66.5px,#02020c 69.5px,#02020c 70.5px,#390963 73.5px,#4d0d6c 75.5px,#490b6a 82.5px,#4d0d6c 87.5px,#7d1e6d 94.5px,#922568 103.5px,#db503b 110.5px,#f68013 115.5px,#f8870e 118.5px,#ef6e21 121.5px,#b1325a 122.5px,#2d0b59 123.5px,#010108 124.5px,#010108 127.5px,#111118 128.5px,#ffffff 129.5px,#ffffff 139.5px)"></i><i style="top:41px;background:linear-gradient(90deg,#ffffff 0.5px,#ffffff 10.5px,#303035 11.5px,#010108 12.5px,#010108 15.5px,#1f0c48 16.5px,#a32c61 17.5px,#f37819 18.5px,#fa9407 21.5px,#df5337 27.5px,#c33b4f 33.5px,#9a2865 38.5px,#5f136e 43.5px,#6a176e 48.5px,#741a6e 52.5px,#3b0964 58.5px,#290b55 61.5px,#440a68 65.5px,#310a5c 67.5px,#1c0c43 68.5px,#02020c 69.5px,#02020c 70.5px,#1e0c45 71.5px,#320a5e 72.5px,#420a68 73.5px,#290b55 78.5px,#470b6a 82.5px,#741a6e 87.5px,#5d126e 95.5px,#7f1e6c 99.5px,#b93556 104.5px,#d84c3e 111.5px,#f68013 116.5px,#fa9407 118.5px,#f78410 120.5px,#f1711f 121.5px,#8f2469 122.5px,#150b37 123.5px,#010108 124.5px,#010108 127.5px,#525256 128.5px,#ffffff 129.5px,#ffffff 139.5px)"></i><i style="top:42px;background:linear-gradient(90deg,#ffffff 0.5px,#ffffff 10.5px,#707074 11.5px,#010108 12.5px,#010108 15.5px,#0c0826 16.5px,#7c1d6d 17.5px,#ef6c23 18.5px,#f98e09 20.5px,#fa9008 22.5px,#e15635 27.5px,#c73e4c 31.5px,#ad305d 37.5px,#62146e 43.5px,#5f136e 47.5px,#71196e 53.5px,#380962 59.5px,#280b53 62.5px,#390963 66.5px,#190c3e 68.5px,#02020c 69.5px,#02020c 70.5px,#1c0c43 71.5px,#3b0964 73.5px,#290b55 78.5px,#65156e 84.5px,#721a6e 88.5px,#5a116e 94.5px,#7a1d6d 98.5px,#b43359 103.5px,#d94d3d 111.5px,#f8870e 116.5px,#fb9606 118.5px,#f78212 120.5px,#eb6429 121.5px,#69166e 122.5px,#050417 123.5px,#010108 124.5px,#010108 127.5px,#929295 128.5px,#ffffff 129.5px,#ffffff 139.5px)"></i><i style="top:43px;background:linear-gradient(90deg,#ffffff 0.5px,#ffffff 10.5px,#b1b1b3 11.5px,#010108 12.5px,#010108 16.5px,#57106e 17.5px,#e15635 18.5px,#f2741c 19.5px,#fa9008 22.5px,#f57d15 26.5px,#c73e4c 31.5px,#982766 36.5px,#7a1d6d 45.5px,#4d0d6c 52.5px,#57106e 60.5px,#3b0964 65.5px,#0d0829 68.5px,#02020c 69.5px,#02020c 70.5px,#2f0a5b 73.5px,#540f6d 78.5px,#510e6c 84.5px,#550f6d 89.5px,#8a226a 97.5px,#a62d60 105.5px,#df5337 110.5px,#f8870e 114.5px,#fa9207 117.5px,#f1731d 120.5px,#cf4446 121.5px,#470b6a 122.5px,#010108 123.5px,#010108 127.5px,#d3d3d4 128.5px,#ffffff 129.5px,#ffffff 139.5px)"></i><i style="top:44px;background:linear-gradient(90deg,#ffffff 0.5px,#ffffff 10.5px,#f2f2f2 11.5px,#010108 12.5px,#010108 16.5px,#380962 17.5px,#ba3655 18.5px,#ef6c23 19.5px,#fa9008 23.5px,#f98c0a 26.5px,#da4e3c 30.5px,#8f2469 35.5px,#8c2369 39.5px,#952667 44.5px,#5c126e 49.5px,#3b0964 52.5px,#400a67 55.5px,#67166e 60.5px,#510e6c 64.5px,#2d0b59 66.5px,#09061f 68.5px,#02020c 69.5px,#02020c 70.5px,#180c3c 72.5px,#310a5c 73.5px,#5c126e 76.5px,#67166e 79.5px,#390963 85.5px,#440a68 88.5px,#902568 94.5px,#932667 98.5px,#8a226a 103.5px,#ae305c 106.5px,#f1711f 111.5px,#f98e09 113.5px,#f98e09 117.5px,#ef6c23 120.5px,#a62d60 121.5px,#280b53 122.5px,#010108 123.5px,#010108 126.5px,#15151c 127.5px,#ffffff 128.5px,#ffffff 139.5px)"></i><i style="top:45px;background:linear-gradient(90deg,#ffffff 0.5px,#ffffff 11.5px,#34343a 12.5px,#010108 13.5px,#010108 16.5px,#1b0c41 17.5px,#982766 18.5px,#f1711f 19.5px,#f98e09 22.5px,#f1731d 27.5px,#ca404a 32.5px,#922568 38.5px,#5f136e 51.5px,#4a0c6b 58.5px,#490b6a 65.5px,#3b0964 66.5px,#120a32 68.5px,#02020c 69.5px,#02020c 70.5px,#260c51 72.5px,#3e0966 73.5px,#4a0c6b 76.5px,#540f6d 86.5px,#7d1e6d 95.5px,#a02a63 103.5px,#e55c30 110.5px,#f78410 114.5px,#f98c0a 117.5px,#ee6a24 120.5px,#84206b 121.5px,#110a30 122.5px,#010108 123.5px,#010108 126.5px,#56565b 127.5px,#ffffff 128.5px,#ffffff 139.5px)"></i><i style="top:46px;background:linear-gradient(90deg,#ffffff 0.5px,#ffffff 11.5px,#757578 12.5px,#010108 13.5px,#010108 16.5px,#09061f 17.5px,#751b6e 18.5px,#ef6c23 19.5px,#f8850f 20.5px,#f98b0b 23.5px,#d74b3f 30.5px,#bc3754 36.5px,#6a176e 42.5px,#5d126e 45.5px,#7a1d6d 52.5px,#490b6a 57.5px,#290b55 60.5px,#2f0a5b 63.5px,#420a68 66.5px,#320a5e 67.5px,#1e0c45 68.5px,#02020c 69.5px,#02020c 70.5px,#1f0c48 71.5px,#440a68 73.5px,#280b53 78.5px,#4a0c6b 82.5px,#771c6d 86.5px,#781c6d 89.5px,#5d126e 95.5px,#88226a 99.5px,#c43c4e 104.5px,#e35933 111.5px,#fa9008 117.5px,#f78410 119.5px,#eb6429 120.5px,#62146e 121.5px,#030210 122.5px,#010108 126.5px,#979799 127.5px,#ffffff 128.5px,#ffffff 139.5px)"></i><i style="top:47px;background:linear-gradient(90deg,#ffffff 0.5px,#ffffff 11.5px,#b5b5b7 12.5px,#010108 13.5px,#010108 17.5px,#520e6d 18.5px,#e05536 19.5px,#f78212 20.5px,#fa9207 23.5px,#df5337 29.5px,#a82e5f 38.5px,#67166e 44.5px,#6d186e 50.5px,#6a176e 54.5px,#320a5e 61.5px,#380962 66.5px,#180c3c 68.5px,#02020c 69.5px,#02020c 70.5px,#1b0c41 71.5px,#390963 73.5px,#320a5e 78.5px,#6f196e 86.5px,#64156e 94.5px,#85216b 98.5px,#bf3952 104.5px,#e05536 110.5px,#fa9407 116.5px,#f68013 119.5px,#cf4446 120.5px,#400a67 121.5px,#010108 122.5px,#010108 126.5px,#d7d7d8 127.5px,#ffffff 128.5px,#ffffff 139.5px)"></i><i style="top:48px;background:linear-gradient(90deg,#ffffff 0.5px,#ffffff 11.5px,#f6f6f6 12.5px,#010108 13.5px,#010108 17.5px,#310a5c 18.5px,#b63458 19.5px,#f3761b 20.5px,#fb9906 23.5px,#f8870e 27.5px,#c63d4d 32.5px,#9b2964 36.5px,#8c2369 44.5px,#4a0c6b 52.5px,#5c126e 61.5px,#3d0965 65.5px,#180c3c 67.5px,#02020c 69.5px,#02020c 70.5px,#2f0a5b 73.5px,#57106e 77.5px,#5c126e 81.5px,#4a0c6b 87.5px,#922568 96.5px,#a52c60 104.5px,#d44842 108.5px,#f8890c 112.5px,#fb9b06 116.5px,#f2741c 119.5px,#a22b62 120.5px,#210c4a 121.5px,#010108 122.5px,#010108 125.5px,#1a1a20 126.5px,#ffffff 127.5px,#ffffff 139.5px)"></i><i style="top:49px;background:linear-gradient(90deg,#ffffff 0.5px,#ffffff 12.5px,#38383e 13.5px,#010108 14.5px,#010108 17.5px,#160b39 18.5px,#8f2469 19.5px,#ef6c23 20.5px,#fb9706 23.5px,#fa9008 27.5px,#d84c3e 31.5px,#952667 36.5px,#972766 44.5px,#62146e 49.5px,#3d0965 53.5px,#540f6d 57.5px,#67166e 61.5px,#470b6a 65.5px,#310a5c 66.5px,#0a0722 68.5px,#02020c 69.5px,#02020c 70.5px,#1b0c41 72.5px,#340a5f 73.5px,#5d126e 76.5px,#67166e 79.5px,#3d0965 86.5px,#64156e 90.5px,#982766 95.5px,#922568 102.5px,#ae305c 105.5px,#e8602d 109.5px,#fa9207 112.5px,#fb9606 116.5px,#eb6628 119.5px,#7c1d6d 120.5px,#0d0829 121.5px,#010108 122.5px,#010108 125.5px,#5a5a5f 126.5px,#ffffff 127.5px,#ffffff 139.5px)"></i><i style="top:50px;background:linear-gradient(90deg,#ffffff 0.5px,#ffffff 12.5px,#010108 14.5px,#010108 17.5px,#050417 18.5px,#6c186e 19.5px,#eb6628 20.5px,#f67e14 21.5px,#fa9008 23.5px,#f2741c 28.5px,#c63d4d 34.5px,#87216b 41.5px,#5f136e 53.5px,#450a69 60.5px,#490b6a 65.5px,#3e0966 66.5px,#150b37 68.5px,#02020c 69.5px,#02020c 70.5px,#180c3c 71.5px,#400a67 73.5px,#470b6a 76.5px,#4f0d6c 83.5px,#771c6d 92.5px,#88226a 98.5px,#cf4446 106.5px,#f68013 112.5px,#f98e09 116.5px,#f67e14 118.5px,#e75e2e 119.5px,#5a116e 120.5px,#010108 121.5px,#010108 125.5px,#9b9b9e 126.5px,#ffffff 127.5px,#ffffff 139.5px)"></i><i style="top:51px;background:linear-gradient(90deg,#ffffff 0.5px,#ffffff 12.5px,#bababb 13.5px,#010108 14.5px,#010108 18.5px,#4c0c6b 19.5px,#db503b 20.5px,#f78410 21.5px,#f98b0b 24.5px,#db503b 32.5px,#bc3754 37.5px,#67166e 43.5px,#69166e 47.5px,#801f6c 52.5px,#4c0c6b 57.5px,#260c51 61.5px,#400a67 66.5px,#320a5e 67.5px,#1e0c45 68.5px,#02020c 69.5px,#02020c 70.5px,#210c4a 71.5px,#420a68 73.5px,#280b53 78.5px,#4d0d6c 82.5px,#7c1d6d 86.5px,#771c6d 90.5px,#61136e 94.5px,#741a6e 97.5px,#c83f4b 103.5px,#e9612b 110.5px,#f98c0a 115.5px,#f78410 118.5px,#c83f4b 119.5px,#3b0964 120.5px,#010108 121.5px,#010108 125.5px,#dbdbdc 126.5px,#ffffff 127.5px,#ffffff 139.5px)"></i><i style="top:52px;background:linear-gradient(90deg,#ffffff 0.5px,#fafafa 13.5px,#010108 14.5px,#010108 18.5px,#290b55 19.5px,#b43359 20.5px,#f78212 21.5px,#fb9706 24.5px,#e55c30 30.5px,#ae305c 38.5px,#6f196e 45.5px,#67166e 54.5px,#380962 63.5px,#340a5f 66.5px,#150b37 68.5px,#02020c 69.5px,#02020c 70.5px,#180c3c 71.5px,#380962 73.5px,#420a68 79.5px,#6c186e 86.5px,#6f196e 94.5px,#bf3952 103.5px,#e65d2f 109.5px,#f8850f 113.5px,#fb9706 115.5px,#f67e14 118.5px,#9f2a63 119.5px,#1c0c43 120.5px,#010108 121.5px,#010108 124.5px,#1e1e24 125.5px,#ffffff 126.5px,#ffffff 139.5px)"></i><i style="top:53px;background:linear-gradient(90deg,#ffffff 0.5px,#ffffff 13.5px,#3d3d42 14.5px,#010108 15.5px,#010108 18.5px,#120a32 19.5px,#88226a 20.5px,#f1731d 21.5px,#fa9407 23.5px,#fca309 24.5px,#f98c0a 28.5px,#d24644 32.5px,#9f2a63 37.5px,#9d2964 43.5px,#490b6a 52.5px,#540f6d 56.5px,#67166e 60.5px,#4c0c6b 64.5px,#2b0b57 66.5px,#0a0722 68.5px,#02020c 69.5px,#02020c 70.5px,#2f0a5b 73.5px,#57106e 76.5px,#65156e 80.5px,#470b6a 86.5px,#62146e 90.5px,#9f2a63 96.5px,#a62d60 103.5px,#d34743 107.5px,#f57d15 110.5px,#fb9706 112.5px,#fca108 115.5px,#f78410 117.5px,#ee6a24 118.5px,#751b6e 119.5px,#09061f 120.5px,#010108 121.5px,#010108 124.5px,#5f5f63 125.5px,#ffffff 126.5px,#ffffff 139.5px)"></i><i style="top:54px;background:linear-gradient(90deg,#ffffff 0.5px,#ffffff 13.5px,#010108 15.5px,#030210 19.5px,#64156e 20.5px,#ea632a 21.5px,#f78212 22.5px,#fca309 25.5px,#fa9008 28.5px,#d84c3e 32.5px,#9f2a63 37.5px,#9a2865 44.5px,#4a0c6b 52.5px,#4c0c6b 56.5px,#65156e 61.5px,#490b6a 65.5px,#320a5e 66.5px,#02020c 69.5px,#02020c 70.5px,#360961 73.5px,#5d126e 76.5px,#61136e 80.5px,#440a68 85.5px,#5f136e 89.5px,#932667 94.5px,#9d2964 99.5px,#9f2a63 102.5px,#da4e3c 107.5px,#fa9207 111.5px,#fca309 114.5px,#f68013 117.5px,#e05536 118.5px,#520e6d 119.5px,#010108 120.5px,#010108 124.5px,#9f9fa2 125.5px,#ffffff 126.5px,#ffffff 139.5px)"></i><i style="top:55px;background:linear-gradient(90deg,#ffffff 0.5px,#ffffff 13.5px,#bebec0 14.5px,#010108 15.5px,#010108 19.5px,#440a68 20.5px,#d24644 21.5px,#f68013 22.5px,#fa9008 25.5px,#ef6c23 30.5px,#b63458 37.5px,#781c6d 44.5px,#71196e 52.5px,#3e0966 60.5px,#490b6a 65.5px,#2d0b59 67.5px,#180c3c 68.5px,#02020c 69.5px,#02020c 70.5px,#1b0c41 71.5px,#420a68 73.5px,#420a68 76.5px,#470b6a 81.5px,#771c6d 89.5px,#781c6d 95.5px,#b73557 102.5px,#f47918 110.5px,#fa9207 114.5px,#f68013 117.5px,#bd3853 118.5px,#320a5e 119.5px,#010108 120.5px,#010108 124.5px,#e0e0e1 125.5px,#ffffff 126.5px,#ffffff 139.5px)"></i><i style="top:56px;background:linear-gradient(90deg,#ffffff 0.5px,#fefefe 14.5px,#010108 15.5px,#010108 19.5px,#230c4c 20.5px,#ab2f5e 21.5px,#f67e14 22.5px,#f98b0b 25.5px,#d04545 36.5px,#7a1d6d 42.5px,#64156e 45.5px,#84206b 52.5px,#5d126e 56.5px,#2d0b59 60.5px,#2f0a5b 63.5px,#400a67 66.5px,#320a5e 67.5px,#1e0c45 68.5px,#02020c 69.5px,#02020c 70.5px,#210c4a 71.5px,#400a67 73.5px,#290b55 78.5px,#5f136e 83.5px,#84206b 87.5px,#64156e 94.5px,#8a226a 98.5px,#d24644 103.5px,#f8890c 114.5px,#f47918 117.5px,#972766 118.5px,#160b39 119.5px,#010108 120.5px,#010108 123.5px,#222228 124.5px,#ffffff 125.5px,#ffffff 139.5px)"></i><i style="top:57px;background:linear-gradient(90deg,#ffffff 0.5px,#ffffff 14.5px,#414146 15.5px,#010108 16.5px,#010108 19.5px,#0d0829 20.5px,#801f6c 21.5px,#f1711f 22.5px,#f98c0a 24.5px,#fa9008 26.5px,#de5238 32.5px,#922568 42.5px,#6f196e 47.5px,#510e6c 59.5px,#320a5e 66.5px,#120a32 68.5px,#02020c 69.5px,#02020c 70.5px,#150b37 71.5px,#360961 73.5px,#69166e 88.5px,#82206c 95.5px,#d74b3f 106.5px,#f68013 111.5px,#fa9407 114.5px,#f78410 116.5px,#ed6925 117.5px,#6d186e 118.5px,#060419 119.5px,#010108 120.5px,#010108 123.5px,#636367 124.5px,#ffffff 125.5px,#ffffff 139.5px)"></i><i style="top:58px;background:linear-gradient(90deg,#ffffff 0.5px,#ffffff 14.5px,#010108 16.5px,#010108 20.5px,#5c126e 21.5px,#e8602d 22.5px,#f78410 23.5px,#fca309 26.5px,#f8850f 29.5px,#cb4149 33.5px,#a52c60 37.5px,#a02a63 44.5px,#4d0d6c 51.5px,#470b6a 54.5px,#6c186e 60.5px,#510e6c 64.5px,#2d0b59 66.5px,#0a0722 68.5px,#02020c 69.5px,#02020c 70.5px,#180c3c 72.5px,#310a5c 73.5px,#5d126e 76.5px,#69166e 80.5px,#450a69 86.5px,#59106e 89.5px,#a02a63 95.5px,#a52c60 99.5px,#ab2f5e 103.5px,#dd513a 107.5px,#f8870e 110.5px,#fca309 113.5px,#fa9008 115.5px,#f68013 116.5px,#d84c3e 117.5px,#4a0c6b 118.5px,#010108 119.5px,#010108 123.5px,#a3a3a6 124.5px,#ffffff 125.5px,#ffffff 139.5px)"></i><i style="top:59px;background:linear-gradient(90deg,#ffffff 0.5px,#ffffff 14.5px,#c2c2c4 15.5px,#010108 16.5px,#010108 20.5px,#390963 21.5px,#c43c4e 22.5px,#f57b17 23.5px,#fb9b06 26.5px,#f37819 30.5px,#c63d4d 34.5px,#9f2a63 39.5px,#922568 45.5px,#4d0d6c 53.5px,#57106e 58.5px,#5f136e 62.5px,#4c0c6b 65.5px,#380962 66.5px,#0d0829 68.5px,#02020c 69.5px,#02020c 70.5px,#3b0964 73.5px,#5c126e 76.5px,#5c126e 80.5px,#4a0c6b 85.5px,#6f196e 90.5px,#9b2964 96.5px,#a92e5e 102.5px,#d54a41 106.5px,#f8850f 110.5px,#fb9d07 113.5px,#f47918 116.5px,#b0315b 117.5px,#290b55 118.5px,#010108 119.5px,#010108 123.5px,#e4e4e5 124.5px,#ffffff 125.5px,#ffffff 139.5px)"></i><i style="top:60px;background:linear-gradient(90deg,#ffffff 0.5px,#ffffff 15.5px,#05050c 16.5px,#010108 20.5px,#1c0c43 21.5px,#9b2964 22.5px,#f2741c 23.5px,#f8850f 26.5px,#e8602d 32.5px,#b3325a 38.5px,#7c1d6d 43.5px,#751b6e 47.5px,#781c6d 52.5px,#380962 60.5px,#4a0c6b 65.5px,#310a5c 67.5px,#1b0c41 68.5px,#02020c 69.5px,#02020c 70.5px,#1e0c45 71.5px,#450a69 73.5px,#390963 79.5px,#7c1d6d 88.5px,#771c6d 95.5px,#a62d60 100.5px,#db503b 105.5px,#f3761b 110.5px,#f78410 113.5px,#ef6c23 116.5px,#88226a 117.5px,#120a32 118.5px,#010108 119.5px,#010108 122.5px,#27272d 123.5px,#ffffff 124.5px,#ffffff 139.5px)"></i><i style="top:61px;background:linear-gradient(90deg,#ffffff 0.5px,#ffffff 15.5px,#45454a 16.5px,#010108 17.5px,#010108 20.5px,#09061f 21.5px,#751b6e 22.5px,#eb6628 23.5px,#f37819 25.5px,#f1731d 28.5px,#d34743 36.5px,#801f6c 42.5px,#67166e 46.5px,#82206c 52.5px,#5f136e 56.5px,#2b0b57 61.5px,#400a67 66.5px,#1c0c43 68.5px,#02020c 69.5px,#02020c 70.5px,#1f0c48 71.5px,#420a68 73.5px,#2d0b59 78.5px,#520e6d 82.5px,#7f1e6c 86.5px,#71196e 91.5px,#69166e 94.5px,#8f2469 98.5px,#d34743 103.5px,#f1731d 111.5px,#f3761b 115.5px,#e8602d 116.5px,#64156e 117.5px,#030210 118.5px,#010108 122.5px,#67676b 123.5px,#ffffff 124.5px,#ffffff 139.5px)"></i><i style="top:62px;background:linear-gradient(90deg,#ffffff 0.5px,#ffffff 15.5px,#010108 17.5px,#010108 21.5px,#520e6d 22.5px,#df5337 23.5px,#f57b17 24.5px,#f98c0a 27.5px,#e25734 32.5px,#b93556 37.5px,#65156e 50.5px,#490b6a 63.5px,#320a5e 66.5px,#110a30 68.5px,#02020c 69.5px,#02020c 70.5px,#210c4a 72.5px,#360961 73.5px,#5a116e 82.5px,#6f196e 91.5px,#c03a51 103.5px,#eb6628 108.5px,#f98c0a 112.5px,#f57b17 115.5px,#ce4347 116.5px,#420a68 117.5px,#010108 118.5px,#010108 122.5px,#a8a8aa 123.5px,#ffffff 124.5px,#ffffff 139.5px)"></i><i style="top:63px;background:linear-gradient(90deg,#ffffff 0.5px,#ffffff 15.5px,#c6c6c8 16.5px,#010108 17.5px,#010108 21.5px,#320a5e 22.5px,#ba3655 23.5px,#f57b17 24.5px,#fb9d07 27.5px,#f37819 30.5px,#c33b4f 34.5px,#a82e5f 37.5px,#a52c60 44.5px,#57106e 50.5px,#440a68 53.5px,#6d186e 61.5px,#490b6a 65.5px,#310a5c 66.5px,#0a0722 68.5px,#02020c 69.5px,#02020c 70.5px,#190c3e 72.5px,#340a5f 73.5px,#61136e 76.5px,#6c186e 79.5px,#440a68 86.5px,#59106e 89.5px,#a52c60 95.5px,#ad305d 103.5px,#d44842 106.5px,#f47918 109.5px,#fb9d07 112.5px,#f47918 115.5px,#a52c60 116.5px,#230c4c 117.5px,#010108 118.5px,#010108 122.5px,#e8e8e9 123.5px,#ffffff 124.5px,#ffffff 139.5px)"></i><i style="top:64px;background:linear-gradient(90deg,#ffffff 0.5px,#ffffff 16.5px,#090910 17.5px,#010108 21.5px,#160b39 22.5px,#902568 23.5px,#ef6e21 24.5px,#fa9008 27.5px,#e75e2e 32.5px,#b93556 36.5px,#9a2865 42.5px,#7a1d6d 48.5px,#510e6c 54.5px,#540f6d 64.5px,#3d0965 66.5px,#02020c 69.5px,#02020c 70.5px,#260c51 72.5px,#400a67 73.5px,#540f6d 75.5px,#510e6c 81.5px,#5a116e 87.5px,#982766 96.5px,#b1325a 102.5px,#de5238 106.5px,#f98b0b 111.5px,#fa9008 112.5px,#ec6726 115.5px,#7d1e6d 116.5px,#0d0829 117.5px,#010108 118.5px,#010108 121.5px,#2b2b31 122.5px,#ffffff 123.5px,#ffffff 139.5px)"></i><i style="top:65px;background:linear-gradient(90deg,#ffffff 0.5px,#ffffff 16.5px,#4a4a4f 17.5px,#010108 18.5px,#010108 21.5px,#060419 22.5px,#6a176e 23.5px,#e55c30 24.5px,#ef6e21 25.5px,#f37819 28.5px,#e25734 34.5px,#ab2f5e 39.5px,#781c6d 43.5px,#781c6d 48.5px,#7a1d6d 53.5px,#380962 59.5px,#340a5f 62.5px,#4a0c6b 65.5px,#340a5f 67.5px,#1e0c45 68.5px,#02020c 69.5px,#02020c 70.5px,#1f0c48 71.5px,#360961 72.5px,#490b6a 73.5px,#310a5c 78.5px,#4d0d6c 82.5px,#7f1e6c 87.5px,#741a6e 95.5px,#9d2964 99.5px,#db503b 104.5px,#f06f20 109.5px,#f3761b 112.5px,#ef6c23 114.5px,#e15635 115.5px,#59106e 116.5px,#02010a 117.5px,#010108 121.5px,#6b6b70 122.5px,#ffffff 123.5px,#ffffff 139.5px)"></i><i style="top:66px;background:linear-gradient(90deg,#ffffff 0.5px,#ffffff 16.5px,#8a8a8d 17.5px,#010108 18.5px,#010108 22.5px,#490b6a 23.5px,#d04545 24.5px,#ef6c23 25.5px,#f3761b 28.5px,#da4e3c 35.5px,#a22b62 40.5px,#741a6e 44.5px,#71196e 48.5px,#7c1d6d 53.5px,#3b0964 59.5px,#320a5e 63.5px,#420a68 65.5px,#2f0a5b 67.5px,#1c0c43 68.5px,#02020c 69.5px,#02020c 70.5px,#1e0c45 71.5px,#320a5e 72.5px,#400a67 74.5px,#310a5c 78.5px,#550f6d 82.5px,#7c1d6d 86.5px,#6f196e 94.5px,#952667 98.5px,#d44842 103.5px,#ef6c23 109.5px,#f1711f 112.5px,#ef6c23 114.5px,#bf3952 115.5px,#390963 116.5px,#010108 117.5px,#010108 121.5px,#acacae 122.5px,#ffffff 123.5px,#ffffff 139.5px)"></i><i style="top:67px;background:linear-gradient(90deg,#ffffff 0.5px,#ffffff 16.5px,#cbcbcc 17.5px,#010108 18.5px,#010108 22.5px,#290b55 23.5px,#ae305c 24.5px,#f2741c 25.5px,#f8870e 28.5px,#db503b 33.5px,#b3325a 38.5px,#84206b 46.5px,#5c126e 51.5px,#540f6d 62.5px,#420a68 65.5px,#320a5e 66.5px,#02020c 69.5px,#02020c 70.5px,#1f0c48 72.5px,#360961 73.5px,#59106e 78.5px,#61136e 89.5px,#a22b62 97.5px,#c73e4c 104.5px,#f1731d 109.5px,#f8890c 111.5px,#f1711f 114.5px,#9a2865 115.5px,#1c0c43 116.5px,#010108 117.5px,#010108 121.5px,#ededed 122.5px,#ffffff 123.5px,#ffffff 139.5px)"></i><i style="top:68px;background:linear-gradient(90deg,#ffffff 0.5px,#ffffff 17.5px,#0d0d14 18.5px,#010108 20.5px,#010108 22.5px,#110a30 23.5px,#87216b 24.5px,#ef6c23 25.5px,#f98c0a 27.5px,#fa9207 28.5px,#e55c30 32.5px,#b0315b 36.5px,#a62d60 44.5px,#67166e 49.5px,#470b6a 52.5px,#510e6c 56.5px,#6c186e 61.5px,#4a0c6b 65.5px,#320a5e 66.5px,#0a0722 68.5px,#02020c 69.5px,#02020c 70.5px,#1c0c43 72.5px,#380962 73.5px,#62146e 76.5px,#6a176e 79.5px,#440a68 86.5px,#5a116e 89.5px,#a02a63 94.5px,#ab2f5e 98.5px,#b1325a 103.5px,#e65d2f 107.5px,#fa9207 111.5px,#f67e14 113.5px,#eb6628 114.5px,#741a6e 115.5px,#09061f 116.5px,#010108 117.5px,#010108 120.5px,#2f2f35 121.5px,#ffffff 122.5px,#ffffff 139.5px)"></i><i style="top:69px;background:linear-gradient(90deg,#ffffff 0.5px,#ffffff 17.5px,#4e4e53 18.5px,#010108 19.5px,#030210 23.5px,#61136e 24.5px,#e35933 25.5px,#f1711f 26.5px,#f68013 29.5px,#d94d3d 34.5px,#a82e5f 39.5px,#540f6d 55.5px,#4f0d6c 65.5px,#400a67 66.5px,#140b34 68.5px,#02020c 69.5px,#02020c 70.5px,#160b39 71.5px,#440a68 73.5px,#510e6c 76.5px,#550f6d 84.5px,#a92e5e 100.5px,#da4e3c 105.5px,#f78212 110.5px,#f06f20 113.5px,#d94d3d 114.5px,#510e6c 115.5px,#010108 116.5px,#010108 120.5px,#707074 121.5px,#ffffff 122.5px,#ffffff 139.5px)"></i><i style="top:70px;background:linear-gradient(90deg,#ffffff 0.5px,#ffffff 17.5px,#8e8e92 18.5px,#010108 19.5px,#010108 23.5px,#400a67 24.5px,#c13a50 25.5px,#ea632a 26.5px,#f06f20 30.5px,#e15635 35.5px,#82206c 42.5px,#71196e 45.5px,#84206b 52.5px,#4d0d6c 57.5px,#2d0b59 60.5px,#340a5f 63.5px,#490b6a 65.5px,#470b6a 66.5px,#360961 67.5px,#1f0c48 68.5px,#02020c 69.5px,#02020c 70.5px,#230c4c 71.5px,#490b6a 73.5px,#2b0b57 78.5px,#420a68 81.5px,#7f1e6c 86.5px,#7d1e6d 90.5px,#721a6e 95.5px,#a22b62 99.5px,#e25734 104.5px,#f1731d 110.5px,#ea632a 113.5px,#b0315b 114.5px,#310a5c 115.5px,#010108 116.5px,#010108 120.5px,#b0b0b3 121.5px,#ffffff 122.5px,#ffffff 139.5px)"></i><i style="top:71px;background:linear-gradient(90deg,#ffffff 0.5px,#ffffff 17.5px,#cfcfd0 18.5px,#010108 19.5px,#010108 23.5px,#210c4a 24.5px,#9d2964 25.5px,#eb6429 26.5px,#f1731d 29.5px,#dd513a 35.5px,#82206c 43.5px,#721a6e 48.5px,#721a6e 54.5px,#360961 61.5px,#3d0965 66.5px,#2d0b59 67.5px,#190c3e 68.5px,#02020c 69.5px,#02020c 70.5px,#1c0c43 71.5px,#3e0966 73.5px,#390963 79.5px,#721a6e 85.5px,#751b6e 94.5px,#b73557 100.5px,#e8602d 106.5px,#f1731d 110.5px,#e8602d 113.5px,#8c2369 114.5px,#160b39 115.5px,#010108 116.5px,#010108 120.5px,#f1f1f1 121.5px,#ffffff 123.5px,#ffffff 139.5px)"></i><i style="top:72px;background:linear-gradient(90deg,#ffffff 0.5px,#ffffff 18.5px,#121218 19.5px,#010108 20.5px,#010108 23.5px,#0d0829 24.5px,#7c1d6d 25.5px,#ea632a 26.5px,#f57b17 28.5px,#f2741c 30.5px,#bf3952 36.5px,#952667 45.5px,#57106e 51.5px,#5a116e 56.5px,#5d126e 61.5px,#440a68 65.5px,#310a5c 66.5px,#02020c 69.5px,#02020c 70.5px,#340a5f 73.5px,#540f6d 76.5px,#61136e 81.5px,#540f6d 87.5px,#801f6c 92.5px,#ad305d 98.5px,#c03a51 103.5px,#f3761b 109.5px,#f57b17 111.5px,#f2741c 112.5px,#e65d2f 113.5px,#6a176e 114.5px,#060419 115.5px,#010108 116.5px,#010108 119.5px,#343439 120.5px,#ffffff 121.5px,#ffffff 139.5px)"></i><i style="top:73px;background:linear-gradient(90deg,#ffffff 0.5px,#ffffff 18.5px,#525257 19.5px,#010108 20.5px,#02010a 24.5px,#59106e 25.5px,#e25734 26.5px,#f3761b 27.5px,#f78410 29.5px,#db503b 33.5px,#ae305c 37.5px,#a62d60 44.5px,#7a1d6d 48.5px,#4a0c6b 52.5px,#510e6c 56.5px,#69166e 61.5px,#4c0c6b 65.5px,#360961 66.5px,#0c0826 68.5px,#02020c 69.5px,#02020c 70.5px,#1e0c45 72.5px,#390963 73.5px,#61136e 76.5px,#64156e 80.5px,#450a69 85.5px,#540f6d 88.5px,#a22b62 94.5px,#ab2f5e 99.5px,#b93556 103.5px,#ef6e21 108.5px,#f78212 110.5px,#f2741c 112.5px,#d34743 113.5px,#490b6a 114.5px,#010108 115.5px,#010108 119.5px,#747478 120.5px,#ffffff 121.5px,#ffffff 139.5px)"></i><i style="top:74px;background:linear-gradient(90deg,#ffffff 0.5px,#ffffff 18.5px,#939396 19.5px,#010108 20.5px,#010108 24.5px,#380962 25.5px,#b93556 26.5px,#eb6628 27.5px,#f37819 30.5px,#d84c3e 35.5px,#a32c61 40.5px,#84206b 46.5px,#450a69 60.5px,#4d0d6c 65.5px,#2d0b59 67.5px,#02020c 69.5px,#02020c 70.5px,#190c3e 71.5px,#2f0a5b 72.5px,#4d0d6c 74.5px,#490b6a 80.5px,#87216b 94.5px,#b63458 101.5px,#e8602d 106.5px,#f47918 109.5px,#eb6628 112.5px,#a62d60 113.5px,#280b53 114.5px,#010108 115.5px,#010108 119.5px,#b5b5b7 120.5px,#ffffff 121.5px,#ffffff 139.5px)"></i><i style="top:75px;background:linear-gradient(90deg,#ffffff 0.5px,#ffffff 18.5px,#d3d3d5 19.5px,#010108 20.5px,#010108 24.5px,#1b0c41 25.5px,#8f2469 26.5px,#e45a31 27.5px,#f1711f 30.5px,#e55c30 35.5px,#b3325a 39.5px,#71196e 44.5px,#85216b 52.5px,#5f136e 56.5px,#2b0b57 60.5px,#290b55 62.5px,#470b6a 65.5px,#360961 67.5px,#1f0c48 68.5px,#02020c 69.5px,#02020c 70.5px,#230c4c 71.5px,#470b6a 73.5px,#260c51 78.5px,#520e6d 82.5px,#82206c 86.5px,#7f1e6c 90.5px,#721a6e 95.5px,#b63458 100.5px,#e65d2f 104.5px,#f06f20 109.5px,#e15635 112.5px,#7d1e6d 113.5px,#110a30 114.5px,#010108 115.5px,#010108 119.5px,#f5f5f6 120.5px,#ffffff 123.5px,#ffffff 139.5px)"></i><i style="top:76px;background:linear-gradient(90deg,#ffffff 0.5px,#ffffff 19.5px,#16161c 20.5px,#010108 21.5px,#010108 24.5px,#09061f 25.5px,#6f196e 26.5px,#e05536 27.5px,#ef6e21 30.5px,#d54a41 36.5px,#82206c 44.5px,#721a6e 52.5px,#520e6d 58.5px,#390963 62.5px,#390963 66.5px,#180c3c 68.5px,#02020c 69.5px,#02020c 70.5px,#190c3e 71.5px,#3b0964 73.5px,#3d0965 78.5px,#71196e 86.5px,#7d1e6d 94.5px,#cc4248 102.5px,#ef6c23 108.5px,#e9612b 111.5px,#db503b 112.5px,#5d126e 113.5px,#030210 114.5px,#010108 118.5px,#38383d 119.5px,#ffffff 120.5px,#ffffff 139.5px)"></i><i style="top:77px;background:linear-gradient(90deg,#ffffff 0.5px,#ffffff 19.5px,#57575b 20.5px,#010108 21.5px,#010108 25.5px,#4f0d6c 26.5px,#d84c3e 27.5px,#ef6c23 28.5px,#ef6c23 31.5px,#c03a51 36.5px,#a32c61 44.5px,#4d0d6c 52.5px,#5d126e 57.5px,#64156e 61.5px,#440a68 65.5px,#310a5c 66.5px,#0c0826 68.5px,#02020c 69.5px,#02020c 70.5px,#1c0c43 72.5px,#340a5f 73.5px,#5f136e 77.5px,#62146e 81.5px,#4c0c6b 86.5px,#6a176e 90.5px,#a52c60 95.5px,#c13a50 103.5px,#e75e2e 107.5px,#f1731d 109.5px,#ee6a24 111.5px,#c63d4d 112.5px,#400a67 113.5px,#010108 114.5px,#010108 118.5px,#78787c 119.5px,#ffffff 120.5px,#ffffff 139.5px)"></i><i style="top:78px;background:linear-gradient(90deg,#ffffff 0.5px,#ffffff 19.5px,#97979a 20.5px,#010108 21.5px,#010108 25.5px,#310a5c 26.5px,#b3325a 27.5px,#ed6925 28.5px,#f1711f 31.5px,#ca404a 35.5px,#ab2f5e 39.5px,#9f2a63 45.5px,#4a0c6b 53.5px,#64156e 61.5px,#4c0c6b 65.5px,#380962 66.5px,#0d0829 68.5px,#02020c 69.5px,#02020c 70.5px,#3b0964 73.5px,#5d126e 76.5px,#61136e 80.5px,#4a0c6b 86.5px,#9f2a63 94.5px,#b73557 102.5px,#eb6429 107.5px,#f1731d 108.5px,#ed6925 111.5px,#9f2a63 112.5px,#210c4a 113.5px,#010108 114.5px,#010108 118.5px,#b9b9bb 119.5px,#ffffff 120.5px,#ffffff 139.5px)"></i><i style="top:79px;background:linear-gradient(90deg,#ffffff 0.5px,#ffffff 19.5px,#d8d8d9 20.5px,#010108 21.5px,#010108 25.5px,#160b39 26.5px,#87216b 27.5px,#e45a31 28.5px,#f1731d 31.5px,#d54a41 36.5px,#9a2865 41.5px,#801f6c 46.5px,#741a6e 52.5px,#3e0966 60.5px,#4c0c6b 65.5px,#2f0a5b 67.5px,#190c3e 68.5px,#02020c 69.5px,#02020c 70.5px,#1c0c43 71.5px,#320a5e 72.5px,#4a0c6b 74.5px,#3e0966 79.5px,#7d1e6d 89.5px,#8c2369 96.5px,#bf3952 101.5px,#eb6628 106.5px,#f1711f 108.5px,#e05536 111.5px,#751b6e 112.5px,#0d0829 113.5px,#010108 114.5px,#010108 118.5px,#fafafa 119.5px,#ffffff 139.5px)"></i><i style="top:80px;background:linear-gradient(90deg,#ffffff 0.5px,#ffffff 20.5px,#1a1a21 21.5px,#010108 22.5px,#010108 25.5px,#060419 26.5px,#64156e 27.5px,#d74b3f 28.5px,#f06f20 32.5px,#d74b3f 37.5px,#972766 41.5px,#6f196e 45.5px,#87216b 52.5px,#61136e 56.5px,#2d0b59 60.5px,#260c51 62.5px,#440a68 65.5px,#440a68 66.5px,#1f0c48 68.5px,#02020c 69.5px,#02020c 70.5px,#230c4c 71.5px,#440a68 73.5px,#260c51 77.5px,#380962 80.5px,#7c1d6d 85.5px,#84206b 89.5px,#71196e 94.5px,#8a226a 97.5px,#e15635 103.5px,#f06f20 107.5px,#e35933 110.5px,#d34743 111.5px,#540f6d 112.5px,#02010a 113.5px,#010108 117.5px,#3c3c41 118.5px,#ffffff 119.5px,#ffffff 139.5px)"></i><i style="top:81px;background:linear-gradient(90deg,#ffffff 0.5px,#ffffff 20.5px,#5b5b5f 21.5px,#010108 22.5px,#010108 26.5px,#450a69 27.5px,#c63d4d 28.5px,#e55c30 29.5px,#eb6628 32.5px,#b93556 39.5px,#781c6d 47.5px,#510e6c 59.5px,#3d0965 64.5px,#360961 66.5px,#140b34 68.5px,#02020c 69.5px,#02020c 70.5px,#160b39 71.5px,#380962 73.5px,#520e6d 80.5px,#85216b 94.5px,#d54a41 103.5px,#ec6726 107.5px,#e55c30 110.5px,#b43359 111.5px,#360961 112.5px,#010108 113.5px,#010108 117.5px,#ffffff 119.5px,#ffffff 139.5px)"></i><i style="top:82px;background:linear-gradient(90deg,#ffffff 0.5px,#ffffff 20.5px,#9b9b9e 21.5px,#010108 22.5px,#010108 26.5px,#280b53 27.5px,#a52c60 28.5px,#e9612b 29.5px,#e9612b 32.5px,#c33b4f 36.5px,#a92e5e 44.5px,#540f6d 51.5px,#4a0c6b 54.5px,#6a176e 60.5px,#4f0d6c 64.5px,#2f0a5b 66.5px,#0a0722 68.5px,#02020c 69.5px,#02020c 70.5px,#320a5e 73.5px,#62146e 77.5px,#64156e 81.5px,#490b6a 86.5px,#6c186e 90.5px,#ab2f5e 95.5px,#c43c4e 103.5px,#eb6429 108.5px,#e8602d 110.5px,#922568 111.5px,#1b0c41 112.5px,#010108 113.5px,#010108 117.5px,#bdbdbf 118.5px,#ffffff 119.5px,#ffffff 139.5px)"></i><i style="top:83px;background:linear-gradient(90deg,#ffffff 0.5px,#ffffff 20.5px,#dcdcdd 21.5px,#010108 22.5px,#010108 26.5px,#110a30 27.5px,#7f1e6c 28.5px,#e35933 29.5px,#ec6726 32.5px,#c03a51 37.5px,#932667 46.5px,#510e6c 53.5px,#540f6d 57.5px,#5c126e 62.5px,#4a0c6b 65.5px,#380962 66.5px,#02020c 69.5px,#02020c 70.5px,#3b0964 73.5px,#520e6d 75.5px,#5c126e 80.5px,#4d0d6c 85.5px,#a32c61 95.5px,#c03a51 102.5px,#eb6628 107.5px,#ea632a 109.5px,#df5337 110.5px,#6d186e 111.5px,#09061f 112.5px,#010108 113.5px,#010108 117.5px,#fefefe 118.5px,#ffffff 139.5px)"></i><i style="top:84px;background:linear-gradient(90deg,#ffffff 0.5px,#ffffff 21.5px,#1f1f25 22.5px,#010108 23.5px,#030210 27.5px,#5a116e 28.5px,#d44842 29.5px,#eb6429 31.5px,#ef6c23 33.5px,#c73e4c 38.5px,#88226a 43.5px,#801f6c 48.5px,#771c6d 53.5px,#380962 60.5px,#400a67 64.5px,#440a68 66.5px,#310a5c 67.5px,#1b0c41 68.5px,#02020c 69.5px,#02020c 70.5px,#1e0c45 71.5px,#340a5f 72.5px,#450a69 73.5px,#380962 79.5px,#7d1e6d 87.5px,#84206b 95.5px,#a92e5e 99.5px,#e65d2f 104.5px,#ef6c23 107.5px,#e45a31 109.5px,#cb4149 110.5px,#4c0c6b 111.5px,#010108 112.5px,#010108 116.5px,#404046 117.5px,#ffffff 118.5px,#ffffff 139.5px)"></i><i style="top:85px;background:linear-gradient(90deg,#ffffff 0.5px,#ffffff 21.5px,#5f5f64 22.5px,#010108 23.5px,#010108 27.5px,#3d0965 28.5px,#b63458 29.5px,#e15635 30.5px,#f06f20 33.5px,#db503b 37.5px,#8f2469 42.5px,#721a6e 46.5px,#87216b 52.5px,#62146e 56.5px,#280b53 61.5px,#340a5f 64.5px,#3e0966 66.5px,#1e0c45 68.5px,#02020c 69.5px,#02020c 70.5px,#1f0c48 71.5px,#400a67 73.5px,#280b53 77.5px,#3b0964 80.5px,#7c1d6d 85.5px,#84206b 89.5px,#751b6e 94.5px,#9f2a63 98.5px,#e55c30 103.5px,#f06f20 106.5px,#e05536 109.5px,#a52c60 110.5px,#2d0b59 111.5px,#010108 112.5px,#010108 116.5px,#ffffff 118.5px,#ffffff 139.5px)"></i><i style="top:86px;background:linear-gradient(90deg,#ffffff 0.5px,#ffffff 21.5px,#a0a0a2 22.5px,#010108 23.5px,#010108 27.5px,#1f0c48 28.5px,#952667 29.5px,#e05536 30.5px,#e8602d 33.5px,#a02a63 43.5px,#6c186e 50.5px,#4d0d6c 61.5px,#310a5c 66.5px,#110a30 68.5px,#02020c 69.5px,#02020c 70.5px,#210c4a 72.5px,#340a5f 73.5px,#5f136e 83.5px,#771c6d 91.5px,#c83f4b 101.5px,#e8602d 106.5px,#de5238 109.5px,#84206b 110.5px,#150b37 111.5px,#010108 112.5px,#010108 116.5px,#c2c2c3 117.5px,#ffffff 118.5px,#ffffff 139.5px)"></i><i style="top:87px;background:linear-gradient(90deg,#ffffff 0.5px,#ffffff 21.5px,#e0e0e1 22.5px,#010108 23.5px,#010108 27.5px,#0d0829 28.5px,#741a6e 29.5px,#db503b 30.5px,#e15635 33.5px,#bd3853 38.5px,#b0315b 44.5px,#5f136e 50.5px,#490b6a 53.5px,#6c186e 60.5px,#4f0d6c 64.5px,#2d0b59 66.5px,#0a0722 68.5px,#02020c 69.5px,#02020c 70.5px,#190c3e 72.5px,#310a5c 73.5px,#5c126e 76.5px,#6c186e 79.5px,#490b6a 86.5px,#6d186e 90.5px,#b0315b 95.5px,#c83f4b 103.5px,#e25734 107.5px,#d84c3e 109.5px,#64156e 110.5px,#060419 111.5px,#010108 112.5px,#04040b 116.5px,#ffffff 117.5px,#ffffff 139.5px)"></i><i style="top:88px;background:linear-gradient(90deg,#ffffff 0.5px,#ffffff 22.5px,#232329 23.5px,#010108 24.5px,#02010a 28.5px,#520e6d 29.5px,#d24644 30.5px,#e35933 31.5px,#e35933 34.5px,#b3325a 40.5px,#801f6c 48.5px,#520e6d 55.5px,#510e6c 63.5px,#490b6a 65.5px,#390963 66.5px,#02020c 69.5px,#02020c 70.5px,#240c4f 72.5px,#3d0965 73.5px,#510e6c 76.5px,#5a116e 86.5px,#a52c60 96.5px,#d34743 103.5px,#e65d2f 106.5px,#e25734 108.5px,#c33b4f 109.5px,#440a68 110.5px,#010108 111.5px,#010108 115.5px,#45454a 116.5px,#ffffff 117.5px,#ffffff 139.5px)"></i><i style="top:89px;background:linear-gradient(90deg,#ffffff 0.5px,#ffffff 22.5px,#636368 23.5px,#010108 24.5px,#010108 28.5px,#340a5f 29.5px,#ad305d 30.5px,#e15635 31.5px,#ef6e21 34.5px,#cf4446 38.5px,#87216b 43.5px,#7f1e6c 48.5px,#84206b 52.5px,#440a68 58.5px,#2d0b59 61.5px,#450a69 65.5px,#320a5e 67.5px,#1c0c43 68.5px,#02020c 69.5px,#02020c 70.5px,#1f0c48 71.5px,#440a68 73.5px,#2d0b59 78.5px,#510e6c 82.5px,#7f1e6c 86.5px,#82206c 90.5px,#82206c 95.5px,#a22b62 98.5px,#e55c30 103.5px,#ef6e21 105.5px,#e05536 108.5px,#9a2865 109.5px,#260c51 110.5px,#010108 111.5px,#010108 115.5px,#ffffff 117.5px,#ffffff 139.5px)"></i><i style="top:90px;background:linear-gradient(90deg,#ffffff 0.5px,#ffffff 22.5px,#a4a4a7 23.5px,#010108 24.5px,#010108 28.5px,#190c3e 29.5px,#87216b 30.5px,#dd513a 31.5px,#ef6c23 34.5px,#c73e4c 39.5px,#8a226a 43.5px,#771c6d 47.5px,#801f6c 53.5px,#3e0966 59.5px,#290b55 62.5px,#3b0964 66.5px,#1b0c41 68.5px,#02020c 69.5px,#02020c 70.5px,#1e0c45 71.5px,#3d0965 73.5px,#290b55 77.5px,#65156e 83.5px,#84206b 87.5px,#781c6d 93.5px,#982766 97.5px,#df5337 102.5px,#ee6a24 105.5px,#d84c3e 108.5px,#771c6d 109.5px,#110a30 110.5px,#010108 111.5px,#010108 115.5px,#c6c6c7 116.5px,#ffffff 117.5px,#ffffff 139.5px)"></i><i style="top:91px;background:linear-gradient(90deg,#ffffff 0.5px,#ffffff 22.5px,#e5e5e5 23.5px,#010108 24.5px,#010108 28.5px,#0a0722 29.5px,#6d186e 30.5px,#d54a41 31.5px,#e05536 34.5px,#9f2a63 45.5px,#6c186e 51.5px,#62146e 61.5px,#4a0c6b 65.5px,#240c4f 67.5px,#02020c 69.5px,#02020c 70.5px,#150b37 71.5px,#3d0965 73.5px,#6a176e 80.5px,#6d186e 88.5px,#c13a50 99.5px,#df5337 105.5px,#de5238 107.5px,#d24644 108.5px,#5d126e 109.5px,#040312 110.5px,#010108 113.5px,#08080f 115.5px,#ffffff 116.5px,#ffffff 139.5px)"></i><i style="top:92px;background:linear-gradient(90deg,#ffffff 0.5px,#ffffff 23.5px,#27272d 24.5px,#010108 25.5px,#010108 29.5px,#57106e 30.5px,#d34743 31.5px,#df5337 32.5px,#c33b4f 39.5px,#c13a50 44.5px,#741a6e 51.5px,#6a176e 54.5px,#8f2469 60.5px,#781c6d 64.5px,#540f6d 66.5px,#320a5e 67.5px,#02020c 69.5px,#02020c 70.5px,#1b0c41 71.5px,#380962 72.5px,#6f196e 74.5px,#8f2469 78.5px,#7d1e6d 82.5px,#6a176e 86.5px,#8a226a 90.5px,#bc3754 94.5px,#cb4149 103.5px,#e05536 107.5px,#c33b4f 108.5px,#490b6a 109.5px,#010108 110.5px,#010108 114.5px,#49494e 115.5px,#ffffff 116.5px,#ffffff 139.5px)"></i><i style="top:93px;background:linear-gradient(90deg,#ffffff 0.5px,#ffffff 23.5px,#68686c 24.5px,#010108 25.5px,#010108 29.5px,#230c4c 30.5px,#82206c 31.5px,#b0315b 32.5px,#a92e5e 36.5px,#540f6d 56.5px,#520e6d 65.5px,#2b0b57 67.5px,#160b39 68.5px,#02020c 69.5px,#02020c 70.5px,#180c3c 71.5px,#2f0a5b 72.5px,#520e6d 74.5px,#5a116e 85.5px,#8d2369 97.5px,#b1325a 105.5px,#b0315b 107.5px,#741a6e 108.5px,#190c3e 109.5px,#010108 110.5px,#010108 114.5px,#8a8a8d 115.5px,#ffffff 116.5px,#ffffff 139.5px)"></i><i style="top:94px;background:linear-gradient(90deg,#ffffff 0.5px,#ffffff 23.5px,#a8a8ab 24.5px,#010108 25.5px,#010108 29.5px,#0e092b 30.5px,#59106e 31.5px,#9d2964 32.5px,#b93556 35.5px,#902568 39.5px,#5c126e 44.5px,#6a176e 48.5px,#7a1d6d 52.5px,#550f6d 56.5px,#260c51 60.5px,#2b0b57 63.5px,#420a68 65.5px,#420a68 66.5px,#320a5e 67.5px,#1e0c45 68.5px,#02020c 69.5px,#02020c 70.5px,#210c4a 71.5px,#440a68 73.5px,#240c4f 78.5px,#3b0964 81.5px,#771c6d 86.5px,#71196e 90.5px,#5a116e 94.5px,#771c6d 98.5px,#b43359 103.5px,#b43359 105.5px,#9a2865 107.5px,#4d0d6c 108.5px,#09061f 109.5px,#010108 110.5px,#010108 114.5px,#cacacc 115.5px,#ffffff 116.5px,#ffffff 139.5px)"></i><i style="top:95px;background:linear-gradient(90deg,#ffffff 0.5px,#ffffff 23.5px,#e9e9ea 24.5px,#010108 25.5px,#010108 29.5px,#040314 30.5px,#400a67 31.5px,#902568 32.5px,#ae305c 35.5px,#8a226a 40.5px,#61136e 45.5px,#6d186e 53.5px,#340a5f 60.5px,#2d0b59 63.5px,#380962 66.5px,#180c3c 68.5px,#02020c 69.5px,#02020c 70.5px,#1b0c41 71.5px,#390963 73.5px,#2f0a5b 78.5px,#64156e 84.5px,#6d186e 88.5px,#61136e 94.5px,#ad305d 103.5px,#9d2964 106.5px,#8d2369 107.5px,#360961 108.5px,#02010a 109.5px,#010108 113.5px,#0d0d13 114.5px,#ffffff 115.5px,#ffffff 139.5px)"></i><i style="top:96px;background:linear-gradient(90deg,#ffffff 0.5px,#ffffff 24.5px,#2b2b31 25.5px,#010108 26.5px,#010108 30.5px,#290b55 31.5px,#7a1d6d 32.5px,#8d2369 33.5px,#8f2469 43.5px,#4c0c6b 51.5px,#4d0d6c 55.5px,#59106e 61.5px,#3d0965 65.5px,#180c3c 67.5px,#02020c 69.5px,#02020c 70.5px,#2f0a5b 73.5px,#59106e 78.5px,#510e6c 83.5px,#4c0c6b 88.5px,#8f2469 96.5px,#8d2369 106.5px,#6f196e 107.5px,#1f0c48 108.5px,#010108 109.5px,#010108 113.5px,#4d4d52 114.5px,#ffffff 115.5px,#ffffff 139.5px)"></i><i style="top:97px;background:linear-gradient(90deg,#ffffff 0.5px,#ffffff 24.5px,#6c6c70 25.5px,#010108 26.5px,#010108 30.5px,#180c3c 31.5px,#62146e 32.5px,#8a226a 33.5px,#801f6c 37.5px,#922568 44.5px,#6a176e 48.5px,#3e0966 52.5px,#400a67 55.5px,#62146e 60.5px,#4f0d6c 64.5px,#2f0a5b 66.5px,#0a0722 68.5px,#02020c 69.5px,#02020c 70.5px,#190c3e 72.5px,#320a5e 73.5px,#59106e 76.5px,#62146e 79.5px,#3b0964 86.5px,#5f136e 90.5px,#932667 95.5px,#7f1e6c 104.5px,#8a226a 106.5px,#59106e 107.5px,#10092d 108.5px,#010108 109.5px,#010108 113.5px,#8e8e91 114.5px,#ffffff 115.5px,#ffffff 139.5px)"></i><i style="top:98px;background:linear-gradient(90deg,#ffffff 0.5px,#ffffff 24.5px,#adadaf 25.5px,#010108 26.5px,#010108 30.5px,#0b0724 31.5px,#4f0d6c 32.5px,#8f2469 33.5px,#932667 37.5px,#721a6e 45.5px,#5c126e 53.5px,#400a67 61.5px,#470b6a 65.5px,#280b53 67.5px,#150b37 68.5px,#02020c 69.5px,#02020c 70.5px,#160b39 71.5px,#3e0966 73.5px,#4c0c6b 83.5px,#6f196e 92.5px,#87216b 100.5px,#982766 104.5px,#8c2369 106.5px,#440a68 107.5px,#060419 108.5px,#010108 109.5px,#010108 113.5px,#ceced0 114.5px,#ffffff 115.5px,#ffffff 139.5px)"></i><i style="top:99px;background:linear-gradient(90deg,#ffffff 0.5px,#ffffff 24.5px,#ededee 25.5px,#010108 26.5px,#02020e 31.5px,#380962 32.5px,#8c2369 33.5px,#ab2f5e 35.5px,#a62d60 37.5px,#5d126e 43.5px,#5f136e 47.5px,#7c1d6d 52.5px,#64156e 55.5px,#2d0b59 59.5px,#230c4c 62.5px,#3e0966 66.5px,#1e0c45 68.5px,#02020c 69.5px,#02020c 70.5px,#1f0c48 71.5px,#400a67 73.5px,#230c4c 77.5px,#2f0a5b 80.5px,#65156e 84.5px,#7c1d6d 87.5px,#57106e 94.5px,#741a6e 98.5px,#ad305d 103.5px,#9f2a63 105.5px,#85216b 106.5px,#2d0b59 107.5px,#010108 108.5px,#010108 112.5px,#111118 113.5px,#ffffff 114.5px,#ffffff 139.5px)"></i><i style="top:100px;background:linear-gradient(90deg,#ffffff 0.5px,#ffffff 25.5px,#303035 26.5px,#010108 27.5px,#010108 31.5px,#230c4c 32.5px,#721a6e 33.5px,#902568 34.5px,#9b2964 37.5px,#62146e 46.5px,#64156e 54.5px,#320a5e 63.5px,#320a5e 66.5px,#150b37 68.5px,#02020c 69.5px,#02020c 70.5px,#160b39 71.5px,#340a5f 73.5px,#3d0965 79.5px,#67166e 86.5px,#65156e 94.5px,#9d2964 102.5px,#8f2469 105.5px,#65156e 106.5px,#190c3e 107.5px,#010108 108.5px,#010108 112.5px,#525256 113.5px,#ffffff 114.5px,#ffffff 139.5px)"></i><i style="top:101px;background:linear-gradient(90deg,#ffffff 0.5px,#ffffff 25.5px,#707074 26.5px,#010108 27.5px,#010108 31.5px,#120a32 32.5px,#550f6d 33.5px,#7c1d6d 34.5px,#87216b 39.5px,#902568 43.5px,#6f196e 47.5px,#420a68 52.5px,#61136e 60.5px,#450a69 64.5px,#280b53 66.5px,#02020c 69.5px,#02020c 70.5px,#2b0b57 73.5px,#520e6d 76.5px,#61136e 80.5px,#400a67 86.5px,#59106e 90.5px,#8d2369 95.5px,#8c2369 99.5px,#781c6d 103.5px,#7c1d6d 105.5px,#4c0c6b 106.5px,#0c0826 107.5px,#010108 108.5px,#010108 112.5px,#929295 113.5px,#ffffff 114.5px,#ffffff 139.5px)"></i><i style="top:102px;background:linear-gradient(90deg,#ffffff 0.5px,#ffffff 25.5px,#b1b1b3 26.5px,#010108 27.5px,#010108 31.5px,#08051d 32.5px,#420a68 33.5px,#781c6d 34.5px,#7f1e6c 39.5px,#8d2369 44.5px,#3e0966 53.5px,#5f136e 61.5px,#440a68 65.5px,#2f0a5b 66.5px,#02020c 69.5px,#02020c 70.5px,#1b0c41 72.5px,#340a5f 73.5px,#5c126e 77.5px,#540f6d 81.5px,#3e0966 86.5px,#771c6d 92.5px,#8d2369 96.5px,#771c6d 105.5px,#380962 106.5px,#040314 107.5px,#010108 109.5px,#010108 112.5px,#d3d3d4 113.5px,#ffffff 114.5px,#ffffff 139.5px)"></i><i style="top:103px;background:linear-gradient(90deg,#ffffff 0.5px,#ffffff 25.5px,#f2f2f2 26.5px,#010108 27.5px,#02010a 32.5px,#2f0a5b 33.5px,#7f1e6c 34.5px,#902568 36.5px,#69166e 44.5px,#69166e 52.5px,#390963 60.5px,#440a68 65.5px,#290b55 67.5px,#160b39 68.5px,#02020c 69.5px,#02020c 70.5px,#190c3e 71.5px,#3e0966 73.5px,#3b0964 76.5px,#400a67 81.5px,#6c186e 88.5px,#6f196e 97.5px,#902568 103.5px,#8c2369 104.5px,#741a6e 105.5px,#240c4f 106.5px,#010108 107.5px,#010108 111.5px,#15151c 112.5px,#ffffff 113.5px,#ffffff 139.5px)"></i><i style="top:104px;background:linear-gradient(90deg,#ffffff 0.5px,#ffffff 26.5px,#34343a 27.5px,#010108 28.5px,#010108 32.5px,#1c0c43 33.5px,#6a176e 34.5px,#902568 35.5px,#9d2964 37.5px,#5a116e 43.5px,#57106e 46.5px,#7a1d6d 52.5px,#65156e 55.5px,#2f0a5b 59.5px,#210c4a 62.5px,#3b0964 66.5px,#2f0a5b 67.5px,#1c0c43 68.5px,#02020c 69.5px,#02020c 70.5px,#1f0c48 71.5px,#3d0965 73.5px,#210c4a 77.5px,#3d0965 81.5px,#781c6d 86.5px,#6c186e 90.5px,#540f6d 94.5px,#64156e 97.5px,#9d2964 102.5px,#8f2469 104.5px,#5f136e 105.5px,#150b37 106.5px,#010108 107.5px,#010108 111.5px,#56565b 112.5px,#ffffff 113.5px,#ffffff 139.5px)"></i><i style="top:105px;background:linear-gradient(90deg,#ffffff 0.5px,#ffffff 26.5px,#757578 27.5px,#010108 28.5px,#010108 32.5px,#0e092b 33.5px,#4d0d6c 34.5px,#7f1e6c 35.5px,#88226a 39.5px,#5d126e 49.5px,#540f6d 57.5px,#2f0a5b 66.5px,#110a30 68.5px,#02020c 69.5px,#02020c 70.5px,#140b34 71.5px,#310a5c 73.5px,#5f136e 86.5px,#69166e 94.5px,#8a226a 102.5px,#7c1d6d 104.5px,#440a68 105.5px,#0a0722 106.5px,#010108 107.5px,#010108 111.5px,#979799 112.5px,#ffffff 113.5px,#ffffff 139.5px)"></i><i style="top:106px;background:linear-gradient(90deg,#ffffff 0.5px,#ffffff 26.5px,#b5b5b7 27.5px,#010108 28.5px,#010108 32.5px,#050417 33.5px,#360961 34.5px,#6a176e 35.5px,#8f2469 43.5px,#71196e 47.5px,#3b0964 52.5px,#4d0d6c 56.5px,#65156e 60.5px,#490b6a 64.5px,#280b53 66.5px,#08051d 68.5px,#02020c 69.5px,#02020c 70.5px,#150b37 72.5px,#2b0b57 73.5px,#4a0c6b 75.5px,#64156e 78.5px,#540f6d 82.5px,#3b0964 86.5px,#57106e 90.5px,#8d2369 95.5px,#84206b 99.5px,#69166e 104.5px,#2d0b59 105.5px,#02020e 106.5px,#010108 111.5px,#d7d7d8 112.5px,#ffffff 113.5px,#ffffff 139.5px)"></i><i style="top:107px;background:linear-gradient(90deg,#ffffff 0.5px,#ffffff 26.5px,#f6f6f6 27.5px,#010108 28.5px,#010108 33.5px,#240c4f 34.5px,#65156e 35.5px,#84206b 44.5px,#440a68 53.5px,#57106e 62.5px,#440a68 65.5px,#310a5c 66.5px,#02020c 69.5px,#02020c 70.5px,#340a5f 73.5px,#520e6d 76.5px,#550f6d 80.5px,#440a68 86.5px,#84206b 95.5px,#6f196e 103.5px,#5d126e 104.5px,#1e0c45 105.5px,#010108 106.5px,#010108 110.5px,#1a1a20 111.5px,#ffffff 112.5px,#ffffff 139.5px)"></i><i style="top:108px;background:linear-gradient(90deg,#ffffff 0.5px,#ffffff 27.5px,#38383e 28.5px,#010108 29.5px,#010108 33.5px,#160b39 34.5px,#5c126e 35.5px,#7f1e6c 36.5px,#801f6c 38.5px,#5d126e 44.5px,#6d186e 52.5px,#2f0a5b 61.5px,#420a68 65.5px,#2b0b57 67.5px,#180c3c 68.5px,#02020c 69.5px,#02020c 70.5px,#1b0c41 71.5px,#3e0966 73.5px,#310a5c 79.5px,#6a176e 86.5px,#69166e 91.5px,#5f136e 96.5px,#85216b 102.5px,#7d1e6d 103.5px,#520e6d 104.5px,#10092d 105.5px,#010108 106.5px,#010108 110.5px,#5a5a5f 111.5px,#ffffff 112.5px,#ffffff 139.5px)"></i><i style="top:109px;background:linear-gradient(90deg,#ffffff 0.5px,#ffffff 27.5px,#010108 29.5px,#010108 33.5px,#0b0724 34.5px,#490b6a 35.5px,#7f1e6c 36.5px,#88226a 38.5px,#510e6c 44.5px,#6f196e 50.5px,#751b6e 53.5px,#3e0966 58.5px,#240c4f 61.5px,#2d0b59 64.5px,#380962 66.5px,#1b0c41 68.5px,#02020c 69.5px,#02020c 70.5px,#1c0c43 71.5px,#390963 73.5px,#240c4f 78.5px,#5a116e 83.5px,#751b6e 86.5px,#67166e 90.5px,#510e6c 94.5px,#69166e 98.5px,#8a226a 101.5px,#7c1d6d 103.5px,#3e0966 104.5px,#07051b 105.5px,#010108 106.5px,#010108 110.5px,#9b9b9e 111.5px,#ffffff 112.5px,#ffffff 139.5px)"></i><i style="top:110px;background:linear-gradient(90deg,#ffffff 0.5px,#ffffff 27.5px,#bababb 28.5px,#010108 29.5px,#010108 33.5px,#040312 34.5px,#2f0a5b 35.5px,#6a176e 36.5px,#7c1d6d 40.5px,#540f6d 52.5px,#4d0d6c 60.5px,#360961 65.5px,#0e092b 68.5px,#02020c 69.5px,#02020c 70.5px,#1c0c43 72.5px,#360961 74.5px,#550f6d 83.5px,#5c126e 91.5px,#7c1d6d 99.5px,#741a6e 102.5px,#69166e 103.5px,#280b53 104.5px,#02010a 105.5px,#010108 110.5px,#dbdbdc 111.5px,#ffffff 112.5px,#ffffff 139.5px)"></i><i style="top:111px;background:linear-gradient(90deg,#ffffff 0.5px,#fafafa 28.5px,#010108 29.5px,#010108 34.5px,#1e0c45 35.5px,#550f6d 36.5px,#8c2369 43.5px,#6f196e 47.5px,#380962 52.5px,#400a67 55.5px,#65156e 60.5px,#57106e 63.5px,#3d0965 65.5px,#120a32 67.5px,#02020c 69.5px,#02020c 70.5px,#290b55 73.5px,#4c0c6b 75.5px,#65156e 78.5px,#520e6d 82.5px,#360961 86.5px,#490b6a 89.5px,#85216b 94.5px,#82206c 98.5px,#61136e 102.5px,#4d0d6c 103.5px,#180c3c 104.5px,#010108 105.5px,#010108 109.5px,#1e1e24 110.5px,#ffffff 111.5px,#ffffff 139.5px)"></i><i style="top:112px;background:linear-gradient(90deg,#ffffff 0.5px,#ffffff 28.5px,#3d3d42 29.5px,#010108 30.5px,#010108 34.5px,#110a30 35.5px,#490b6a 36.5px,#64156e 37.5px,#751b6e 45.5px,#470b6a 54.5px,#4d0d6c 63.5px,#320a5e 66.5px,#02020c 69.5px,#02020c 70.5px,#360961 73.5px,#4d0d6c 76.5px,#490b6a 86.5px,#751b6e 95.5px,#64156e 102.5px,#400a67 103.5px,#0c0826 104.5px,#010108 105.5px,#010108 109.5px,#5f5f63 110.5px,#ffffff 111.5px,#ffffff 139.5px)"></i><i style="top:113px;background:linear-gradient(90deg,#ffffff 0.5px,#ffffff 28.5px,#010108 30.5px,#010108 34.5px,#09061f 35.5px,#3d0965 36.5px,#6d186e 37.5px,#6f196e 39.5px,#4f0d6c 44.5px,#721a6e 52.5px,#450a69 57.5px,#280b53 61.5px,#3b0964 66.5px,#2d0b59 67.5px,#190c3e 68.5px,#02020c 69.5px,#02020c 70.5px,#1c0c43 71.5px,#3d0965 73.5px,#280b53 78.5px,#520e6d 83.5px,#721a6e 87.5px,#4f0d6c 95.5px,#751b6e 101.5px,#6c186e 102.5px,#340a5f 103.5px,#050417 104.5px,#010108 105.5px,#010108 109.5px,#9f9fa2 110.5px,#ffffff 111.5px,#ffffff 139.5px)"></i><i style="top:114px;background:linear-gradient(90deg,#ffffff 0.5px,#ffffff 28.5px,#bebec0 29.5px,#010108 30.5px,#02020e 35.5px,#290b55 36.5px,#69166e 37.5px,#741a6e 39.5px,#4d0d6c 44.5px,#62146e 49.5px,#6f196e 53.5px,#360961 59.5px,#260c51 62.5px,#340a5f 66.5px,#180c3c 68.5px,#02020c 69.5px,#02020c 70.5px,#190c3e 71.5px,#360961 73.5px,#280b53 78.5px,#5a116e 83.5px,#71196e 87.5px,#4d0d6c 95.5px,#751b6e 100.5px,#65156e 102.5px,#210c4a 103.5px,#010108 104.5px,#010108 109.5px,#e0e0e1 110.5px,#ffffff 111.5px,#ffffff 139.5px)"></i><i style="top:115px;background:linear-gradient(90deg,#ffffff 0.5px,#fefefe 29.5px,#010108 30.5px,#010108 35.5px,#190c3e 36.5px,#510e6c 37.5px,#6d186e 39.5px,#71196e 44.5px,#490b6a 52.5px,#540f6d 60.5px,#360961 65.5px,#02020c 69.5px,#02020c 70.5px,#290b55 73.5px,#4c0c6b 77.5px,#540f6d 82.5px,#4d0d6c 89.5px,#751b6e 97.5px,#64156e 101.5px,#490b6a 102.5px,#140b34 103.5px,#010108 104.5px,#010108 108.5px,#222228 109.5px,#ffffff 110.5px,#ffffff 139.5px)"></i><i style="top:116px;background:linear-gradient(90deg,#ffffff 0.5px,#ffffff 29.5px,#414146 30.5px,#010108 31.5px,#010108 35.5px,#0d0829 36.5px,#3b0964 37.5px,#57106e 38.5px,#82206c 43.5px,#6a176e 47.5px,#340a5f 52.5px,#3d0965 55.5px,#65156e 60.5px,#57106e 63.5px,#3e0966 65.5px,#120a32 67.5px,#02020c 69.5px,#02020c 70.5px,#150b37 72.5px,#400a67 74.5px,#65156e 78.5px,#4f0d6c 82.5px,#320a5e 86.5px,#520e6d 90.5px,#7f1e6c 94.5px,#7d1e6d 97.5px,#57106e 101.5px,#340a5f 102.5px,#0a0722 103.5px,#010108 104.5px,#010108 108.5px,#636367 109.5px,#ffffff 110.5px,#ffffff 139.5px)"></i><i style="top:117px;background:linear-gradient(90deg,#ffffff 0.5px,#ffffff 29.5px,#010108 31.5px,#010108 35.5px,#060419 36.5px,#2f0a5b 37.5px,#57106e 38.5px,#62146e 41.5px,#5f136e 49.5px,#470b6a 57.5px,#420a68 65.5px,#1f0c48 67.5px,#02020c 69.5px,#02020c 70.5px,#210c4a 72.5px,#380962 73.5px,#490b6a 76.5px,#4d0d6c 86.5px,#67166e 94.5px,#57106e 101.5px,#280b53 102.5px,#040312 103.5px,#010108 106.5px,#010108 108.5px,#a3a3a6 109.5px,#ffffff 110.5px,#ffffff 139.5px)"></i></div>
<div class="hm" style="left:461px;top:30px;width:139px"><i style="top:0px;background:linear-gradient(90deg,#6d6d71 0.5px,#010108 1.5px,#010108 4.5px,#0d0829 6.5px,#10092d 65.5px,#02020c 69.5px,#060419 71.5px,#10092d 74.5px,#10092d 132.5px,#010108 134.5px,#010108 137.5px,#3b3b40 138.5px)"></i><i style="top:1px;background:linear-gradient(90deg,#aeaeb0 0.5px,#010108 1.5px,#010108 4.5px,#040312 5.5px,#320a5e 7.5px,#6a176e 9.5px,#a62d60 12.5px,#69166e 20.5px,#440a68 32.5px,#390963 38.5px,#380962 46.5px,#210c4a 54.5px,#260c51 62.5px,#1e0c45 65.5px,#02020c 69.5px,#02020c 70.5px,#1c0c43 73.5px,#290b55 79.5px,#230c4c 86.5px,#3e0966 96.5px,#3e0966 105.5px,#64156e 116.5px,#7c1d6d 121.5px,#a52c60 126.5px,#6d186e 129.5px,#380962 131.5px,#050417 133.5px,#010108 134.5px,#010108 137.5px,#7b7b7f 138.5px)"></i><i style="top:2px;background:linear-gradient(90deg,#efefef 0.5px,#010108 1.5px,#02020e 5.5px,#110a30 6.5px,#360961 7.5px,#6d186e 9.5px,#ba3655 12.5px,#b1325a 15.5px,#741a6e 23.5px,#400a67 45.5px,#2b0b57 65.5px,#02020c 69.5px,#02020c 70.5px,#110a30 71.5px,#290b55 73.5px,#540f6d 104.5px,#771c6d 116.5px,#a62d60 122.5px,#bf3952 126.5px,#721a6e 129.5px,#390963 131.5px,#040312 133.5px,#010108 136.5px,#010108 137.5px,#bcbcbe 138.5px)"></i><i style="top:3px;background:linear-gradient(90deg,#ffffff 0.5px,#313137 1.5px,#010108 2.5px,#010108 5.5px,#0c0826 6.5px,#320a5e 7.5px,#6a176e 9.5px,#c03a51 12.5px,#cb4149 13.5px,#9f2a63 19.5px,#67166e 27.5px,#5a116e 37.5px,#400a67 45.5px,#400a67 54.5px,#290b55 62.5px,#310a5c 65.5px,#0b0724 68.5px,#02020c 69.5px,#02020c 70.5px,#150b37 71.5px,#2f0a5b 73.5px,#2f0a5b 80.5px,#470b6a 88.5px,#470b6a 97.5px,#65156e 107.5px,#6d186e 113.5px,#ba3655 122.5px,#ca404a 125.5px,#c43c4e 126.5px,#71196e 129.5px,#380962 131.5px,#110a30 132.5px,#02020c 133.5px,#010108 137.5px,#fcfcfc 138.5px)"></i><i style="top:4px;background:linear-gradient(90deg,#ffffff 0.5px,#727276 1.5px,#010108 2.5px,#010108 5.5px,#07051b 6.5px,#280b53 7.5px,#490b6a 8.5px,#a32c61 11.5px,#ce4347 13.5px,#84206b 23.5px,#64156e 31.5px,#420a68 49.5px,#2f0a5b 65.5px,#02020c 69.5px,#02020c 70.5px,#120a32 71.5px,#2d0b59 73.5px,#520e6d 99.5px,#7c1d6d 114.5px,#ba3655 122.5px,#cc4248 125.5px,#a82e5f 127.5px,#4f0d6c 130.5px,#320a5e 131.5px,#0b0724 132.5px,#010108 133.5px,#010108 136.5px,#3f3f44 137.5px,#ffffff 138.5px)"></i><i style="top:5px;background:linear-gradient(90deg,#ffffff 0.5px,#b2b2b4 1.5px,#010108 2.5px,#010108 5.5px,#040312 6.5px,#1c0c43 7.5px,#470b6a 8.5px,#8c2369 10.5px,#d04545 13.5px,#902568 21.5px,#520e6d 36.5px,#490b6a 46.5px,#380962 54.5px,#380962 62.5px,#2f0a5b 65.5px,#02020c 69.5px,#02020c 70.5px,#1c0c43 72.5px,#2d0b59 73.5px,#3b0964 82.5px,#400a67 90.5px,#520e6d 99.5px,#62146e 107.5px,#a32c61 120.5px,#d04545 125.5px,#ab2f5e 127.5px,#4d0d6c 130.5px,#260c51 131.5px,#060419 132.5px,#010108 133.5px,#010108 136.5px,#ffffff 138.5px)"></i><i style="top:6px;background:linear-gradient(90deg,#ffffff 0.5px,#f3f3f3 1.5px,#010108 2.5px,#02020c 6.5px,#120a32 7.5px,#420a68 8.5px,#87216b 10.5px,#cf4446 13.5px,#b43359 17.5px,#8d2369 22.5px,#510e6c 37.5px,#470b6a 47.5px,#390963 55.5px,#310a5c 65.5px,#09061f 68.5px,#02020c 69.5px,#02020c 70.5px,#110a30 71.5px,#2f0a5b 73.5px,#3b0964 82.5px,#400a67 89.5px,#520e6d 98.5px,#5c126e 105.5px,#9d2964 119.5px,#d34743 125.5px,#8d2369 128.5px,#470b6a 130.5px,#190c3e 131.5px,#030210 132.5px,#010108 136.5px,#c0c0c2 137.5px,#ffffff 138.5px)"></i><i style="top:7px;background:linear-gradient(90deg,#ffffff 0.5px,#ffffff 1.5px,#36363b 2.5px,#010108 3.5px,#010108 6.5px,#0b0724 7.5px,#340a5f 8.5px,#781c6d 10.5px,#ce4347 13.5px,#ce4347 15.5px,#88226a 23.5px,#6a176e 31.5px,#470b6a 46.5px,#3e0966 56.5px,#310a5c 63.5px,#320a5e 65.5px,#02020c 69.5px,#02020c 70.5px,#140b34 71.5px,#310a5c 73.5px,#3d0965 82.5px,#57106e 101.5px,#801f6c 114.5px,#b1325a 120.5px,#d34743 124.5px,#d04545 125.5px,#801f6c 128.5px,#3d0965 130.5px,#10092d 131.5px,#02010a 132.5px,#03030a 136.5px,#ffffff 137.5px,#ffffff 138.5px)"></i><i style="top:8px;background:linear-gradient(90deg,#ffffff 0.5px,#ffffff 1.5px,#76767a 2.5px,#010108 3.5px,#010108 6.5px,#060419 7.5px,#240c4f 8.5px,#4a0c6b 9.5px,#922568 11.5px,#cb4149 13.5px,#d84c3e 14.5px,#b0315b 19.5px,#6f196e 27.5px,#59106e 38.5px,#420a68 46.5px,#440a68 56.5px,#2b0b57 62.5px,#310a5c 65.5px,#0c0826 68.5px,#02020c 69.5px,#02020c 70.5px,#150b37 71.5px,#310a5c 73.5px,#2f0a5b 79.5px,#4a0c6b 85.5px,#470b6a 96.5px,#6a176e 106.5px,#7a1d6d 113.5px,#b93556 120.5px,#d74b3f 124.5px,#ce4347 125.5px,#751b6e 128.5px,#520e6d 129.5px,#310a5c 130.5px,#0a0722 131.5px,#010108 132.5px,#010108 135.5px,#434348 136.5px,#ffffff 137.5px,#ffffff 138.5px)"></i><i style="top:9px;background:linear-gradient(90deg,#ffffff 0.5px,#ffffff 1.5px,#b7b7b9 2.5px,#010108 3.5px,#030210 7.5px,#1b0c41 8.5px,#490b6a 9.5px,#902568 11.5px,#c83f4b 13.5px,#d84c3e 14.5px,#902568 23.5px,#67166e 32.5px,#420a68 50.5px,#420a68 57.5px,#2f0a5b 65.5px,#02020c 69.5px,#02020c 70.5px,#120a32 71.5px,#2d0b59 73.5px,#470b6a 85.5px,#4c0c6b 95.5px,#82206c 113.5px,#b93556 120.5px,#d94d3d 124.5px,#b43359 126.5px,#741a6e 128.5px,#4d0d6c 129.5px,#240c4f 130.5px,#050417 131.5px,#010108 132.5px,#010108 135.5px,#ffffff 137.5px,#ffffff 138.5px)"></i><i style="top:10px;background:linear-gradient(90deg,#ffffff 0.5px,#f7f7f7 2.5px,#010108 3.5px,#02010a 7.5px,#110a30 8.5px,#450a69 9.5px,#902568 11.5px,#c73e4c 13.5px,#d74b3f 14.5px,#982766 22.5px,#57106e 36.5px,#4c0c6b 46.5px,#3d0965 52.5px,#450a69 57.5px,#310a5c 65.5px,#08051d 68.5px,#02020c 69.5px,#02020c 70.5px,#1c0c43 72.5px,#2d0b59 73.5px,#470b6a 83.5px,#3e0966 89.5px,#57106e 98.5px,#5f136e 105.5px,#ab2f5e 119.5px,#d84c3e 124.5px,#b43359 126.5px,#71196e 128.5px,#4c0c6b 129.5px,#190c3e 130.5px,#030210 131.5px,#010108 135.5px,#c4c4c6 136.5px,#ffffff 137.5px,#ffffff 138.5px)"></i><i style="top:11px;background:linear-gradient(90deg,#ffffff 0.5px,#ffffff 2.5px,#3a3a3f 3.5px,#010108 4.5px,#010108 7.5px,#0a0722 8.5px,#380962 9.5px,#5f136e 10.5px,#ab2f5e 12.5px,#d74b3f 14.5px,#d24644 16.5px,#982766 22.5px,#550f6d 38.5px,#440a68 49.5px,#450a69 57.5px,#320a5e 65.5px,#02020c 69.5px,#02020c 70.5px,#1f0c48 72.5px,#310a5c 73.5px,#470b6a 84.5px,#450a69 90.5px,#69166e 106.5px,#a62d60 118.5px,#d94d3d 123.5px,#d94d3d 124.5px,#b1325a 126.5px,#67166e 128.5px,#440a68 129.5px,#10092d 130.5px,#02010a 131.5px,#07070e 135.5px,#ffffff 136.5px,#ffffff 138.5px)"></i><i style="top:12px;background:linear-gradient(90deg,#ffffff 0.5px,#ffffff 2.5px,#010108 4.5px,#010108 7.5px,#050417 8.5px,#240c4f 9.5px,#510e6c 10.5px,#a32c61 12.5px,#d94d3d 14.5px,#e15635 15.5px,#932667 23.5px,#741a6e 30.5px,#470b6a 46.5px,#4c0c6b 56.5px,#310a5c 61.5px,#340a5f 65.5px,#02020c 69.5px,#02020c 70.5px,#150b37 71.5px,#320a5e 73.5px,#390963 80.5px,#510e6c 84.5px,#4c0c6b 96.5px,#85216b 113.5px,#ba3655 119.5px,#e05536 123.5px,#c63d4d 125.5px,#84206b 127.5px,#59106e 128.5px,#310a5c 129.5px,#09061f 130.5px,#010108 131.5px,#010108 134.5px,#48484d 135.5px,#ffffff 136.5px,#ffffff 138.5px)"></i><i style="top:13px;background:linear-gradient(90deg,#ffffff 0.5px,#ffffff 2.5px,#bbbbbd 3.5px,#010108 4.5px,#030210 8.5px,#180c3c 9.5px,#490b6a 10.5px,#9b2964 12.5px,#d74b3f 14.5px,#e15635 15.5px,#c33b4f 19.5px,#87216b 25.5px,#6f196e 33.5px,#450a69 46.5px,#550f6d 55.5px,#2d0b59 61.5px,#320a5e 65.5px,#0c0826 68.5px,#02020c 69.5px,#02020c 70.5px,#150b37 71.5px,#310a5c 73.5px,#340a5f 79.5px,#57106e 84.5px,#450a69 94.5px,#721a6e 107.5px,#7f1e6c 112.5px,#b3325a 118.5px,#e35933 123.5px,#da4e3c 124.5px,#a32c61 126.5px,#4f0d6c 128.5px,#210c4a 129.5px,#040314 130.5px,#010108 132.5px,#010108 134.5px,#88888b 135.5px,#ffffff 136.5px,#ffffff 138.5px)"></i><i style="top:14px;background:linear-gradient(90deg,#ffffff 0.5px,#fcfcfc 3.5px,#010108 4.5px,#02010a 8.5px,#10092d 9.5px,#450a69 10.5px,#952667 12.5px,#d24644 14.5px,#e05536 15.5px,#9d2964 23.5px,#64156e 35.5px,#450a69 51.5px,#550f6d 55.5px,#320a5e 63.5px,#310a5c 65.5px,#02020c 69.5px,#02020c 70.5px,#120a32 71.5px,#2f0a5b 73.5px,#4a0c6b 81.5px,#540f6d 84.5px,#440a68 89.5px,#781c6d 109.5px,#b43359 118.5px,#e15635 123.5px,#d74b3f 124.5px,#9f2a63 126.5px,#4c0c6b 128.5px,#160b39 129.5px,#02020e 130.5px,#010108 134.5px,#c9c9ca 135.5px,#ffffff 136.5px,#ffffff 138.5px)"></i><i style="top:15px;background:linear-gradient(90deg,#ffffff 0.5px,#ffffff 3.5px,#3e3e43 4.5px,#010108 5.5px,#010108 8.5px,#09061f 9.5px,#380962 10.5px,#64156e 11.5px,#b63458 13.5px,#df5337 15.5px,#d74b3f 17.5px,#a02a63 23.5px,#5c126e 36.5px,#4f0d6c 46.5px,#420a68 52.5px,#520e6d 56.5px,#320a5e 65.5px,#08051d 68.5px,#02020c 69.5px,#02020c 70.5px,#2f0a5b 73.5px,#540f6d 83.5px,#3e0966 88.5px,#5a116e 97.5px,#65156e 105.5px,#b43359 118.5px,#e05536 123.5px,#bc3754 125.5px,#6d186e 127.5px,#470b6a 128.5px,#0e092b 129.5px,#010108 130.5px,#010108 133.5px,#0b0b12 134.5px,#ffffff 135.5px,#ffffff 138.5px)"></i><i style="top:16px;background:linear-gradient(90deg,#ffffff 0.5px,#ffffff 3.5px,#010108 5.5px,#010108 8.5px,#040314 9.5px,#260c51 10.5px,#59106e 11.5px,#b3325a 13.5px,#e25734 15.5px,#e55c30 16.5px,#a82e5f 22.5px,#5a116e 38.5px,#470b6a 52.5px,#510e6c 56.5px,#390963 62.5px,#340a5f 65.5px,#02020c 69.5px,#02020c 70.5px,#210c4a 72.5px,#320a5e 73.5px,#4a0c6b 81.5px,#520e6d 84.5px,#470b6a 89.5px,#6c186e 105.5px,#ae305c 117.5px,#e45a31 122.5px,#e35933 123.5px,#b93556 125.5px,#62146e 127.5px,#320a5e 128.5px,#08051d 129.5px,#010108 130.5px,#010108 133.5px,#4c4c51 134.5px,#ffffff 135.5px,#ffffff 138.5px)"></i><i style="top:17px;background:linear-gradient(90deg,#ffffff 0.5px,#ffffff 3.5px,#bfbfc1 4.5px,#010108 5.5px,#02020e 9.5px,#180c3c 10.5px,#4d0d6c 11.5px,#781c6d 12.5px,#a92e5e 13.5px,#e25734 15.5px,#e9612b 16.5px,#c63d4d 20.5px,#922568 25.5px,#490b6a 45.5px,#540f6d 56.5px,#320a5e 60.5px,#340a5f 65.5px,#0c0826 68.5px,#02020c 69.5px,#02020c 70.5px,#150b37 71.5px,#340a5f 73.5px,#360961 79.5px,#5a116e 84.5px,#4a0c6b 94.5px,#902568 113.5px,#c33b4f 118.5px,#ea632a 122.5px,#e65d2f 123.5px,#b3325a 125.5px,#84206b 126.5px,#540f6d 127.5px,#210c4a 128.5px,#040312 129.5px,#010108 132.5px,#010108 133.5px,#8c8c90 134.5px,#ffffff 135.5px,#ffffff 138.5px)"></i><i style="top:18px;background:linear-gradient(90deg,#ffffff 0.5px,#ffffff 4.5px,#020209 5.5px,#010108 9.5px,#0d0829 10.5px,#450a69 11.5px,#6d186e 12.5px,#c63d4d 14.5px,#ea632a 16.5px,#cb4149 20.5px,#952667 25.5px,#751b6e 33.5px,#490b6a 46.5px,#57106e 53.5px,#550f6d 56.5px,#2f0a5b 61.5px,#320a5e 65.5px,#0c0826 68.5px,#02020c 69.5px,#02020c 70.5px,#150b37 71.5px,#320a5e 73.5px,#360961 79.5px,#5a116e 83.5px,#490b6a 93.5px,#8d2369 112.5px,#b93556 117.5px,#e65d2f 121.5px,#eb6429 122.5px,#e35933 123.5px,#a82e5f 125.5px,#771c6d 126.5px,#4c0c6b 127.5px,#150b37 128.5px,#02020c 129.5px,#010108 133.5px,#cdcdce 134.5px,#ffffff 135.5px,#ffffff 138.5px)"></i><i style="top:19px;background:linear-gradient(90deg,#ffffff 0.5px,#ffffff 4.5px,#424248 5.5px,#010108 6.5px,#010108 9.5px,#08051d 10.5px,#360961 11.5px,#65156e 12.5px,#952667 13.5px,#c03a51 14.5px,#e9612b 16.5px,#cb4149 20.5px,#9f2a63 25.5px,#64156e 36.5px,#450a69 51.5px,#550f6d 56.5px,#360961 63.5px,#320a5e 65.5px,#02020c 69.5px,#02020c 70.5px,#120a32 71.5px,#310a5c 73.5px,#4d0d6c 81.5px,#550f6d 84.5px,#450a69 89.5px,#781c6d 107.5px,#bc3754 117.5px,#e9612b 122.5px,#c63d4d 124.5px,#6f196e 126.5px,#440a68 127.5px,#0c0826 128.5px,#010108 129.5px,#010108 132.5px,#101016 133.5px,#ffffff 134.5px,#ffffff 138.5px)"></i><i style="top:20px;background:linear-gradient(90deg,#ffffff 0.5px,#ffffff 4.5px,#010108 6.5px,#010108 9.5px,#040312 10.5px,#240c4f 11.5px,#5c126e 12.5px,#8d2369 13.5px,#bc3754 14.5px,#ea632a 16.5px,#e25734 18.5px,#b0315b 23.5px,#61136e 36.5px,#520e6d 46.5px,#440a68 52.5px,#540f6d 56.5px,#340a5f 65.5px,#02020c 69.5px,#02020c 70.5px,#110a30 71.5px,#310a5c 73.5px,#520e6d 84.5px,#420a68 88.5px,#5f136e 98.5px,#6d186e 105.5px,#bf3952 117.5px,#eb6429 122.5px,#c13a50 124.5px,#65156e 126.5px,#320a5e 127.5px,#060419 128.5px,#010108 129.5px,#010108 132.5px,#505055 133.5px,#ffffff 134.5px,#ffffff 138.5px)"></i><i style="top:21px;background:linear-gradient(90deg,#ffffff 0.5px,#ffffff 4.5px,#c4c4c5 5.5px,#010108 6.5px,#02020c 10.5px,#160b39 11.5px,#540f6d 12.5px,#82206c 13.5px,#b43359 14.5px,#ea632a 16.5px,#ed6925 17.5px,#b0315b 23.5px,#64156e 37.5px,#4c0c6b 52.5px,#540f6d 56.5px,#390963 61.5px,#360961 65.5px,#02020c 69.5px,#02020c 70.5px,#140b34 71.5px,#340a5f 73.5px,#440a68 80.5px,#550f6d 84.5px,#4c0c6b 90.5px,#71196e 104.5px,#b63458 116.5px,#ed6925 121.5px,#ec6726 122.5px,#bf3952 124.5px,#8c2369 125.5px,#5a116e 126.5px,#210c4a 127.5px,#030210 128.5px,#010108 132.5px,#919194 133.5px,#ffffff 134.5px,#ffffff 138.5px)"></i><i style="top:22px;background:linear-gradient(90deg,#ffffff 0.5px,#ffffff 5.5px,#06060d 6.5px,#010108 10.5px,#0c0826 11.5px,#450a69 12.5px,#751b6e 13.5px,#d34743 15.5px,#f1731d 17.5px,#ce4347 21.5px,#9f2a63 25.5px,#4c0c6b 45.5px,#5c126e 55.5px,#2f0a5b 61.5px,#360961 65.5px,#0c0826 68.5px,#02020c 69.5px,#02020c 70.5px,#160b39 71.5px,#340a5f 73.5px,#360961 79.5px,#5d126e 84.5px,#4c0c6b 93.5px,#6a176e 101.5px,#9d2964 113.5px,#cb4149 117.5px,#f1711f 121.5px,#ec6726 122.5px,#b63458 124.5px,#7f1e6c 125.5px,#510e6c 126.5px,#140b34 127.5px,#02020c 128.5px,#010108 132.5px,#d1d1d3 133.5px,#ffffff 134.5px,#ffffff 138.5px)"></i><i style="top:23px;background:linear-gradient(90deg,#ffffff 0.5px,#ffffff 5.5px,#47474c 6.5px,#010108 7.5px,#010108 10.5px,#060419 11.5px,#320a5e 12.5px,#67166e 13.5px,#9f2a63 14.5px,#ce4347 15.5px,#f3761b 17.5px,#d34743 21.5px,#a32c61 25.5px,#6c186e 37.5px,#4a0c6b 47.5px,#5c126e 55.5px,#320a5e 61.5px,#320a5e 65.5px,#0b0724 68.5px,#02020c 69.5px,#02020c 70.5px,#150b37 71.5px,#320a5e 73.5px,#390963 79.5px,#5d126e 84.5px,#4a0c6b 91.5px,#8a226a 109.5px,#b3325a 115.5px,#ef6c23 120.5px,#f2741c 121.5px,#ea632a 122.5px,#d34743 123.5px,#721a6e 125.5px,#420a68 126.5px,#0b0724 127.5px,#010108 128.5px,#010108 131.5px,#14141a 132.5px,#ffffff 133.5px,#ffffff 138.5px)"></i><i style="top:24px;background:linear-gradient(90deg,#ffffff 0.5px,#ffffff 5.5px,#87878b 6.5px,#010108 7.5px,#030210 11.5px,#210c4a 12.5px,#5d126e 13.5px,#922568 14.5px,#c43c4e 15.5px,#f1711f 17.5px,#ea632a 19.5px,#bc3754 23.5px,#721a6e 34.5px,#450a69 51.5px,#57106e 56.5px,#320a5e 65.5px,#02020c 69.5px,#02020c 70.5px,#1f0c48 72.5px,#310a5c 73.5px,#57106e 84.5px,#470b6a 89.5px,#7c1d6d 106.5px,#c63d4d 116.5px,#ef6e21 120.5px,#f2741c 121.5px,#cc4248 123.5px,#9b2964 124.5px,#67166e 125.5px,#2f0a5b 126.5px,#050417 127.5px,#010108 128.5px,#010108 131.5px,#555559 132.5px,#ffffff 133.5px,#ffffff 138.5px)"></i><i style="top:25px;background:linear-gradient(90deg,#ffffff 0.5px,#ffffff 5.5px,#c8c8c9 6.5px,#010108 7.5px,#02020c 11.5px,#150b37 12.5px,#550f6d 13.5px,#85216b 14.5px,#ba3655 15.5px,#ef6c23 17.5px,#f1731d 18.5px,#c03a51 23.5px,#721a6e 34.5px,#62146e 42.5px,#450a69 51.5px,#550f6d 56.5px,#340a5f 65.5px,#02020c 69.5px,#02020c 70.5px,#1f0c48 72.5px,#320a5e 73.5px,#540f6d 84.5px,#450a69 88.5px,#64156e 98.5px,#721a6e 104.5px,#bd3853 115.5px,#f1711f 120.5px,#f1731d 121.5px,#c43c4e 123.5px,#902568 124.5px,#5d126e 125.5px,#1f0c48 126.5px,#030210 127.5px,#010108 131.5px,#959598 132.5px,#ffffff 133.5px,#ffffff 138.5px)"></i><i style="top:26px;background:linear-gradient(90deg,#ffffff 0.5px,#ffffff 6.5px,#0a0a11 7.5px,#010108 11.5px,#0b0724 12.5px,#470b6a 13.5px,#7a1d6d 14.5px,#b3325a 15.5px,#dd513a 16.5px,#f67e14 18.5px,#d04545 22.5px,#ae305c 25.5px,#61136e 40.5px,#4d0d6c 51.5px,#5a116e 55.5px,#380962 61.5px,#360961 65.5px,#02020c 69.5px,#02020c 70.5px,#150b37 71.5px,#340a5f 73.5px,#440a68 80.5px,#59106e 84.5px,#4f0d6c 90.5px,#751b6e 103.5px,#b3325a 114.5px,#ef6e21 119.5px,#f57b17 120.5px,#f1731d 121.5px,#e05536 122.5px,#bd3853 123.5px,#85216b 124.5px,#550f6d 125.5px,#120a32 126.5px,#02010a 127.5px,#010108 131.5px,#d6d6d7 132.5px,#ffffff 133.5px,#ffffff 138.5px)"></i><i style="top:27px;background:linear-gradient(90deg,#ffffff 0.5px,#ffffff 6.5px,#4b4b50 7.5px,#010108 8.5px,#010108 11.5px,#050417 12.5px,#310a5c 13.5px,#6d186e 14.5px,#a82e5f 15.5px,#db503b 16.5px,#f8890c 18.5px,#e35933 21.5px,#b43359 24.5px,#8a226a 32.5px,#4f0d6c 45.5px,#5f136e 55.5px,#320a5e 60.5px,#360961 65.5px,#0c0826 68.5px,#02020c 69.5px,#02020c 70.5px,#160b39 71.5px,#340a5f 73.5px,#380962 79.5px,#5f136e 84.5px,#4f0d6c 93.5px,#721a6e 101.5px,#b3325a 114.5px,#ec6726 118.5px,#f8870e 120.5px,#e05536 122.5px,#b43359 123.5px,#781c6d 124.5px,#420a68 125.5px,#09061f 126.5px,#010108 127.5px,#010108 130.5px,#18181f 131.5px,#ffffff 132.5px,#ffffff 138.5px)"></i><i style="top:28px;background:linear-gradient(90deg,#ffffff 0.5px,#ffffff 6.5px,#8c8c8f 7.5px,#010108 8.5px,#030210 12.5px,#1f0c48 13.5px,#61136e 14.5px,#9a2865 15.5px,#d04545 16.5px,#f8850f 18.5px,#f06f20 20.5px,#bc3754 24.5px,#801f6c 34.5px,#4d0d6c 48.5px,#5a116e 56.5px,#360961 61.5px,#320a5e 65.5px,#0b0724 68.5px,#02020c 69.5px,#02020c 70.5px,#150b37 71.5px,#310a5c 73.5px,#3d0965 79.5px,#5d126e 83.5px,#4d0d6c 90.5px,#801f6c 104.5px,#b93556 114.5px,#ef6c23 118.5px,#f98c0a 120.5px,#da4e3c 122.5px,#a52c60 123.5px,#69166e 124.5px,#2d0b59 125.5px,#040314 126.5px,#010108 128.5px,#010108 130.5px,#59595d 131.5px,#ffffff 132.5px,#ffffff 138.5px)"></i><i style="top:29px;background:linear-gradient(90deg,#ffffff 0.5px,#ffffff 6.5px,#ccccce 7.5px,#010108 8.5px,#02010a 12.5px,#120a32 13.5px,#57106e 14.5px,#88226a 15.5px,#c13a50 16.5px,#e55c30 17.5px,#f57b17 18.5px,#f78410 19.5px,#c63d4d 24.5px,#7c1d6d 34.5px,#470b6a 51.5px,#59106e 56.5px,#320a5e 65.5px,#02020c 69.5px,#02020c 70.5px,#1f0c48 72.5px,#310a5c 73.5px,#57106e 84.5px,#470b6a 88.5px,#6a176e 99.5px,#8d2369 107.5px,#d04545 115.5px,#f68013 119.5px,#f78410 120.5px,#e9612b 121.5px,#cc4248 122.5px,#952667 123.5px,#5f136e 124.5px,#1c0c43 125.5px,#02020e 126.5px,#010108 130.5px,#99999c 131.5px,#ffffff 132.5px,#ffffff 138.5px)"></i><i style="top:30px;background:linear-gradient(90deg,#ffffff 0.5px,#ffffff 7.5px,#0f0f15 8.5px,#010108 10.5px,#010108 12.5px,#0a0722 13.5px,#450a69 14.5px,#7c1d6d 15.5px,#b73557 16.5px,#e15635 17.5px,#f8890c 19.5px,#d74b3f 23.5px,#b1325a 27.5px,#6f196e 37.5px,#510e6c 48.5px,#4a0c6b 52.5px,#57106e 56.5px,#340a5f 65.5px,#02020c 69.5px,#02020c 70.5px,#210c4a 72.5px,#320a5e 73.5px,#57106e 84.5px,#4a0c6b 89.5px,#69166e 98.5px,#82206c 105.5px,#c63d4d 114.5px,#f8850f 119.5px,#f57d15 120.5px,#e55c30 121.5px,#c13a50 122.5px,#88226a 123.5px,#550f6d 124.5px,#10092d 125.5px,#010108 126.5px,#010108 130.5px,#dadadb 131.5px,#ffffff 132.5px,#ffffff 138.5px)"></i><i style="top:31px;background:linear-gradient(90deg,#ffffff 0.5px,#ffffff 7.5px,#4f4f54 8.5px,#010108 9.5px,#010108 12.5px,#040314 13.5px,#310a5c 14.5px,#721a6e 15.5px,#b0315b 16.5px,#e25734 17.5px,#fa9407 19.5px,#d84c3e 23.5px,#b1325a 26.5px,#5f136e 42.5px,#540f6d 52.5px,#57106e 56.5px,#380962 61.5px,#360961 65.5px,#0c0826 68.5px,#02020c 69.5px,#02020c 70.5px,#150b37 71.5px,#340a5f 73.5px,#440a68 80.5px,#5c126e 84.5px,#540f6d 91.5px,#741a6e 101.5px,#b73557 113.5px,#ed6925 117.5px,#fa9008 119.5px,#e65d2f 121.5px,#ba3655 122.5px,#7f1e6c 123.5px,#420a68 124.5px,#08051d 125.5px,#010108 126.5px,#010108 129.5px,#1d1d23 130.5px,#ffffff 131.5px,#ffffff 138.5px)"></i><i style="top:32px;background:linear-gradient(90deg,#ffffff 0.5px,#ffffff 7.5px,#909093 8.5px,#010108 9.5px,#02020e 13.5px,#1f0c48 14.5px,#6a176e 15.5px,#a52c60 16.5px,#db503b 17.5px,#f98e09 19.5px,#f2741c 21.5px,#ba3655 25.5px,#8f2469 33.5px,#520e6d 45.5px,#61136e 55.5px,#320a5e 61.5px,#360961 65.5px,#0c0826 68.5px,#02020c 69.5px,#02020c 70.5px,#160b39 71.5px,#340a5f 73.5px,#390963 79.5px,#5f136e 83.5px,#540f6d 94.5px,#952667 107.5px,#b63458 113.5px,#f06f20 117.5px,#fb9606 119.5px,#e35933 121.5px,#b0315b 122.5px,#741a6e 123.5px,#2d0b59 124.5px,#040312 125.5px,#010108 128.5px,#010108 129.5px,#5d5d62 130.5px,#ffffff 131.5px,#ffffff 138.5px)"></i><i style="top:33px;background:linear-gradient(90deg,#ffffff 0.5px,#ffffff 7.5px,#d1d1d2 8.5px,#010108 9.5px,#010108 13.5px,#120a32 14.5px,#5d126e 15.5px,#932667 16.5px,#ce4347 17.5px,#ec6726 18.5px,#f78410 19.5px,#f98b0b 20.5px,#d24644 24.5px,#a82e5f 28.5px,#59106e 45.5px,#4f0d6c 51.5px,#5f136e 55.5px,#380962 62.5px,#340a5f 65.5px,#02020c 69.5px,#02020c 70.5px,#140b34 71.5px,#320a5e 73.5px,#490b6a 80.5px,#5d126e 84.5px,#4f0d6c 90.5px,#932667 107.5px,#c03a51 113.5px,#f2741c 117.5px,#f8870e 118.5px,#f98b0b 119.5px,#d74b3f 121.5px,#a02a63 122.5px,#69166e 123.5px,#1c0c43 124.5px,#02020c 125.5px,#010108 129.5px,#9e9ea0 130.5px,#ffffff 131.5px,#ffffff 138.5px)"></i><i style="top:34px;background:linear-gradient(90deg,#ffffff 0.5px,#ffffff 8.5px,#13131a 9.5px,#010108 10.5px,#010108 13.5px,#09061f 14.5px,#470b6a 15.5px,#84206b 16.5px,#bf3952 17.5px,#e75e2e 18.5px,#f98c0a 20.5px,#cb4149 25.5px,#801f6c 34.5px,#550f6d 47.5px,#470b6a 51.5px,#59106e 56.5px,#340a5f 65.5px,#02020c 69.5px,#02020c 70.5px,#1f0c48 72.5px,#320a5e 73.5px,#5a116e 83.5px,#470b6a 88.5px,#6c186e 98.5px,#8c2369 106.5px,#c83f4b 113.5px,#f8890c 118.5px,#f67e14 119.5px,#ea632a 120.5px,#c83f4b 121.5px,#902568 122.5px,#59106e 123.5px,#10092d 124.5px,#010108 125.5px,#010108 129.5px,#dededf 130.5px,#ffffff 131.5px,#ffffff 138.5px)"></i><i style="top:35px;background:linear-gradient(90deg,#ffffff 0.5px,#ffffff 8.5px,#545458 9.5px,#010108 10.5px,#010108 13.5px,#040314 14.5px,#320a5e 15.5px,#7a1d6d 16.5px,#b43359 17.5px,#e45a31 18.5px,#fa9008 20.5px,#d94d3d 24.5px,#b1325a 28.5px,#6d186e 39.5px,#4d0d6c 52.5px,#57106e 56.5px,#380962 65.5px,#0a0722 68.5px,#02020c 69.5px,#02020c 70.5px,#210c4a 72.5px,#340a5f 73.5px,#59106e 84.5px,#4a0c6b 88.5px,#8a226a 105.5px,#ca404a 113.5px,#f57b17 117.5px,#f98e09 118.5px,#e8602d 120.5px,#bf3952 121.5px,#85216b 122.5px,#440a68 123.5px,#08051d 124.5px,#010108 125.5px,#010108 128.5px,#212127 129.5px,#ffffff 130.5px,#ffffff 138.5px)"></i><i style="top:36px;background:linear-gradient(90deg,#ffffff 0.5px,#ffffff 8.5px,#949497 9.5px,#010108 10.5px,#02020e 14.5px,#1f0c48 15.5px,#741a6e 16.5px,#ad305d 17.5px,#e05536 18.5px,#f98c0a 20.5px,#f1711f 22.5px,#bc3754 26.5px,#69166e 40.5px,#540f6d 50.5px,#5f136e 55.5px,#390963 60.5px,#380962 65.5px,#0c0826 68.5px,#02020c 69.5px,#02020c 70.5px,#160b39 71.5px,#380962 73.5px,#3d0965 79.5px,#5f136e 84.5px,#550f6d 91.5px,#6d186e 99.5px,#b93556 112.5px,#ef6c23 116.5px,#fa9207 118.5px,#e75e2e 120.5px,#b93556 121.5px,#7d1e6d 122.5px,#2f0a5b 123.5px,#040312 124.5px,#010108 127.5px,#010108 128.5px,#616166 129.5px,#ffffff 130.5px,#ffffff 138.5px)"></i><i style="top:37px;background:linear-gradient(90deg,#ffffff 0.5px,#ffffff 8.5px,#d5d5d6 9.5px,#010108 10.5px,#010108 14.5px,#110a30 15.5px,#64156e 16.5px,#a02a63 17.5px,#d84c3e 18.5px,#f1731d 19.5px,#f8890c 20.5px,#f98c0a 21.5px,#ce4347 25.5px,#ab2f5e 28.5px,#6c186e 40.5px,#540f6d 46.5px,#5f136e 53.5px,#5a116e 56.5px,#340a5f 61.5px,#380962 65.5px,#0c0826 68.5px,#02020c 69.5px,#02020c 70.5px,#160b39 71.5px,#360961 73.5px,#3b0964 79.5px,#62146e 84.5px,#540f6d 92.5px,#6a176e 98.5px,#a02a63 108.5px,#ba3655 112.5px,#e65d2f 115.5px,#f8890c 117.5px,#f98e09 118.5px,#e05536 120.5px,#ad305d 121.5px,#741a6e 122.5px,#1c0c43 123.5px,#02020c 124.5px,#010108 128.5px,#a2a2a5 129.5px,#ffffff 130.5px,#ffffff 138.5px)"></i><i style="top:38px;background:linear-gradient(90deg,#ffffff 0.5px,#ffffff 9.5px,#17171e 10.5px,#010108 11.5px,#010108 14.5px,#08051d 15.5px,#490b6a 16.5px,#902568 17.5px,#ca404a 18.5px,#ef6c23 19.5px,#fa9207 21.5px,#d54a41 25.5px,#a92e5e 29.5px,#64156e 43.5px,#4d0d6c 51.5px,#5c126e 56.5px,#3b0964 62.5px,#360961 65.5px,#02020c 69.5px,#02020c 70.5px,#140b34 71.5px,#340a5f 73.5px,#520e6d 81.5px,#5d126e 84.5px,#4d0d6c 88.5px,#952667 106.5px,#c43c4e 112.5px,#eb6429 115.5px,#f98e09 117.5px,#f06f20 119.5px,#d34743 120.5px,#9b2964 121.5px,#5d126e 122.5px,#0e092b 123.5px,#010108 124.5px,#010108 128.5px,#e3e3e3 129.5px,#ffffff 130.5px,#ffffff 138.5px)"></i><i style="top:39px;background:linear-gradient(90deg,#ffffff 0.5px,#ffffff 9.5px,#58585d 10.5px,#010108 11.5px,#010108 14.5px,#040312 15.5px,#310a5c 16.5px,#82206c 17.5px,#ba3655 18.5px,#e9612b 19.5px,#fa9207 21.5px,#db503b 25.5px,#b0315b 29.5px,#781c6d 37.5px,#59106e 47.5px,#4a0c6b 52.5px,#5a116e 56.5px,#380962 65.5px,#09061f 68.5px,#02020c 69.5px,#02020c 70.5px,#210c4a 72.5px,#340a5f 73.5px,#5a116e 83.5px,#490b6a 88.5px,#741a6e 99.5px,#932667 106.5px,#cc4248 112.5px,#f57d15 116.5px,#fa9207 117.5px,#ed6925 119.5px,#c63d4d 120.5px,#8d2369 121.5px,#440a68 122.5px,#07051b 123.5px,#010108 124.5px,#010108 127.5px,#25252b 128.5px,#ffffff 129.5px,#ffffff 138.5px)"></i><i style="top:40px;background:linear-gradient(90deg,#ffffff 0.5px,#ffffff 9.5px,#99999b 10.5px,#010108 11.5px,#02020c 15.5px,#1e0c45 16.5px,#781c6d 17.5px,#b1325a 18.5px,#e25734 19.5px,#f47918 20.5px,#f98c0a 21.5px,#f8870e 22.5px,#db503b 25.5px,#b0315b 29.5px,#741a6e 39.5px,#4f0d6c 52.5px,#59106e 56.5px,#3e0966 62.5px,#390963 65.5px,#0a0722 68.5px,#02020c 69.5px,#02020c 70.5px,#240c4f 72.5px,#380962 73.5px,#510e6c 81.5px,#5a116e 84.5px,#4f0d6c 88.5px,#8c2369 104.5px,#bf3952 111.5px,#ef6e21 115.5px,#fa9008 117.5px,#ea632a 119.5px,#bc3754 120.5px,#84206b 121.5px,#2d0b59 122.5px,#040312 123.5px,#010108 126.5px,#010108 127.5px,#66666a 128.5px,#ffffff 129.5px,#ffffff 138.5px)"></i><i style="top:41px;background:linear-gradient(90deg,#ffffff 0.5px,#ffffff 9.5px,#d9d9da 10.5px,#010108 11.5px,#010108 15.5px,#10092d 16.5px,#67166e 17.5px,#a92e5e 18.5px,#dd513a 19.5px,#f57b17 20.5px,#f98b0b 21.5px,#f98c0a 22.5px,#cc4248 26.5px,#a82e5f 30.5px,#5c126e 44.5px,#5d126e 53.5px,#5a116e 56.5px,#380962 60.5px,#390963 65.5px,#1b0c41 67.5px,#02020c 69.5px,#02020c 70.5px,#180c3c 71.5px,#380962 73.5px,#3b0964 79.5px,#5f136e 83.5px,#5c126e 94.5px,#b1325a 110.5px,#e55c30 114.5px,#f8870e 116.5px,#f98e09 117.5px,#f57d15 118.5px,#e55c30 119.5px,#b63458 120.5px,#7c1d6d 121.5px,#1b0c41 122.5px,#02010a 123.5px,#010108 127.5px,#a6a6a9 128.5px,#ffffff 129.5px,#ffffff 138.5px)"></i><i style="top:42px;background:linear-gradient(90deg,#ffffff 0.5px,#ffffff 10.5px,#1c1c22 11.5px,#010108 12.5px,#010108 15.5px,#07051b 16.5px,#4c0c6b 17.5px,#9d2964 18.5px,#d44842 19.5px,#f47918 20.5px,#fa9407 22.5px,#dd513a 25.5px,#ad305d 29.5px,#59106e 45.5px,#5a116e 52.5px,#5c126e 56.5px,#380962 60.5px,#380962 65.5px,#0c0826 68.5px,#02020c 69.5px,#02020c 70.5px,#160b39 71.5px,#360961 73.5px,#3d0965 79.5px,#62146e 84.5px,#57106e 91.5px,#71196e 98.5px,#b3325a 110.5px,#e8602d 114.5px,#fa9008 116.5px,#f57d15 118.5px,#dd513a 119.5px,#a92e5e 120.5px,#62146e 121.5px,#0d0829 122.5px,#010108 123.5px,#010108 127.5px,#e7e7e8 128.5px,#ffffff 129.5px,#ffffff 138.5px)"></i><i style="top:43px;background:linear-gradient(90deg,#ffffff 0.5px,#ffffff 10.5px,#5c5c61 11.5px,#010108 12.5px,#010108 15.5px,#040312 16.5px,#320a5e 17.5px,#8d2369 18.5px,#c63d4d 19.5px,#ef6e21 20.5px,#fa9407 22.5px,#d84c3e 26.5px,#ab2f5e 30.5px,#7a1d6d 39.5px,#4d0d6c 51.5px,#5c126e 56.5px,#3d0965 62.5px,#380962 65.5px,#02020c 69.5px,#02020c 70.5px,#140b34 71.5px,#340a5f 73.5px,#540f6d 81.5px,#5c126e 84.5px,#510e6c 89.5px,#9b2964 106.5px,#c83f4b 111.5px,#ee6a24 114.5px,#fb9706 116.5px,#f47918 118.5px,#d04545 119.5px,#982766 120.5px,#450a69 121.5px,#060419 122.5px,#010108 123.5px,#010108 126.5px,#29292f 127.5px,#ffffff 128.5px,#ffffff 138.5px)"></i><i style="top:44px;background:linear-gradient(90deg,#ffffff 0.5px,#ffffff 10.5px,#9d9da0 11.5px,#010108 12.5px,#02010a 16.5px,#1c0c43 17.5px,#7f1e6c 18.5px,#b93556 19.5px,#e75e2e 20.5px,#f78212 21.5px,#fa9008 22.5px,#f98b0b 23.5px,#dd513a 26.5px,#a62d60 31.5px,#7c1d6d 38.5px,#57106e 48.5px,#4c0c6b 52.5px,#5a116e 56.5px,#390963 65.5px,#09061f 68.5px,#02020c 69.5px,#02020c 70.5px,#230c4c 72.5px,#360961 73.5px,#59106e 84.5px,#4c0c6b 88.5px,#7c1d6d 100.5px,#a32c61 107.5px,#da4e3c 112.5px,#fa9407 116.5px,#ee6a24 118.5px,#c33b4f 119.5px,#8a226a 120.5px,#2b0b57 121.5px,#030210 122.5px,#010108 126.5px,#6a6a6e 127.5px,#ffffff 128.5px,#ffffff 138.5px)"></i><i style="top:45px;background:linear-gradient(90deg,#ffffff 0.5px,#ffffff 10.5px,#ddddde 11.5px,#010108 12.5px,#010108 16.5px,#0e092b 17.5px,#67166e 18.5px,#b0315b 19.5px,#e15635 20.5px,#f78212 21.5px,#f98e09 23.5px,#db503b 26.5px,#a92e5e 31.5px,#65156e 44.5px,#540f6d 52.5px,#59106e 56.5px,#3d0965 62.5px,#3b0964 65.5px,#02020c 69.5px,#02020c 70.5px,#150b37 71.5px,#390963 73.5px,#490b6a 80.5px,#5c126e 84.5px,#550f6d 89.5px,#932667 104.5px,#c13a50 110.5px,#e65d2f 113.5px,#f98b0b 115.5px,#fa9008 116.5px,#f78410 117.5px,#e8602d 118.5px,#ba3655 119.5px,#7f1e6c 120.5px,#190c3e 121.5px,#010108 122.5px,#010108 126.5px,#ababad 127.5px,#ffffff 128.5px,#ffffff 138.5px)"></i><i style="top:46px;background:linear-gradient(90deg,#ffffff 0.5px,#ffffff 11.5px,#202026 12.5px,#010108 13.5px,#010108 16.5px,#060419 17.5px,#4c0c6b 18.5px,#a62d60 19.5px,#da4e3c 20.5px,#f78410 21.5px,#fa9407 23.5px,#da4e3c 26.5px,#ae305c 30.5px,#5c126e 45.5px,#5c126e 56.5px,#340a5f 61.5px,#3b0964 65.5px,#0d0829 68.5px,#02020c 69.5px,#02020c 70.5px,#180c3c 71.5px,#390963 73.5px,#3b0964 79.5px,#62146e 84.5px,#5d126e 94.5px,#b43359 109.5px,#d84c3e 112.5px,#fa9008 115.5px,#f8850f 117.5px,#e25734 118.5px,#b3325a 119.5px,#62146e 120.5px,#0c0826 121.5px,#010108 122.5px,#010108 126.5px,#ebebec 127.5px,#ffffff 128.5px,#ffffff 138.5px)"></i><i style="top:47px;background:linear-gradient(90deg,#ffffff 0.5px,#ffffff 11.5px,#616165 12.5px,#010108 13.5px,#030210 17.5px,#320a5e 18.5px,#982766 19.5px,#d04545 20.5px,#f47918 21.5px,#fb9606 23.5px,#df5337 26.5px,#b0315b 30.5px,#5c126e 46.5px,#5d126e 53.5px,#5d126e 56.5px,#380962 61.5px,#380962 65.5px,#0c0826 68.5px,#02020c 69.5px,#02020c 70.5px,#160b39 71.5px,#380962 73.5px,#400a67 79.5px,#62146e 83.5px,#5a116e 92.5px,#ae305c 108.5px,#db503b 112.5px,#fb9706 115.5px,#f8850f 117.5px,#d94d3d 118.5px,#a52c60 119.5px,#470b6a 120.5px,#050417 121.5px,#010108 122.5px,#010108 125.5px,#2e2e34 126.5px,#ffffff 127.5px,#ffffff 138.5px)"></i><i style="top:48px;background:linear-gradient(90deg,#ffffff 0.5px,#ffffff 11.5px,#a1a1a4 12.5px,#010108 13.5px,#010108 17.5px,#1b0c41 18.5px,#87216b 19.5px,#c33b4f 20.5px,#ee6a24 21.5px,#f98e09 22.5px,#fb9606 23.5px,#f2741c 25.5px,#ce4347 28.5px,#9b2964 33.5px,#4f0d6c 51.5px,#5c126e 56.5px,#380962 65.5px,#02020c 69.5px,#02020c 70.5px,#140b34 71.5px,#360961 73.5px,#5c126e 84.5px,#520e6d 89.5px,#a22b62 106.5px,#d84c3e 111.5px,#f8890c 114.5px,#fb9706 115.5px,#fa9008 116.5px,#f3761b 117.5px,#ce4347 118.5px,#932667 119.5px,#2b0b57 120.5px,#02020e 121.5px,#010108 125.5px,#6e6e72 126.5px,#ffffff 127.5px,#ffffff 138.5px)"></i><i style="top:49px;background:linear-gradient(90deg,#ffffff 0.5px,#ffffff 11.5px,#e2e2e3 12.5px,#010108 13.5px,#010108 17.5px,#0d0829 18.5px,#65156e 19.5px,#b73557 20.5px,#e65d2f 21.5px,#f98e09 22.5px,#fa9407 24.5px,#de5238 27.5px,#a52c60 32.5px,#801f6c 38.5px,#5a116e 48.5px,#4f0d6c 52.5px,#5a116e 56.5px,#390963 65.5px,#0a0722 68.5px,#02020c 69.5px,#02020c 70.5px,#140b34 71.5px,#380962 73.5px,#59106e 84.5px,#4f0d6c 88.5px,#7f1e6c 99.5px,#a32c61 106.5px,#db503b 111.5px,#fa9008 114.5px,#fa9008 116.5px,#ed6925 117.5px,#c13a50 118.5px,#7f1e6c 119.5px,#160b39 120.5px,#010108 121.5px,#010108 125.5px,#afafb1 126.5px,#ffffff 127.5px,#ffffff 138.5px)"></i><i style="top:50px;background:linear-gradient(90deg,#ffffff 0.5px,#ffffff 12.5px,#24242a 13.5px,#010108 14.5px,#010108 17.5px,#050417 18.5px,#4a0c6b 19.5px,#ad305d 20.5px,#df5337 21.5px,#f98c0a 22.5px,#fb9706 24.5px,#dd513a 27.5px,#a92e5e 32.5px,#61136e 46.5px,#5a116e 53.5px,#5a116e 56.5px,#3d0965 61.5px,#3b0964 65.5px,#190c3e 67.5px,#02020c 69.5px,#02020c 70.5px,#160b39 71.5px,#390963 73.5px,#490b6a 80.5px,#5d126e 84.5px,#5c126e 90.5px,#8f2469 102.5px,#c43c4e 109.5px,#e9612b 112.5px,#fa9407 114.5px,#fa9008 116.5px,#e65d2f 117.5px,#b93556 118.5px,#61136e 119.5px,#0b0724 120.5px,#010108 121.5px,#010108 125.5px,#f0f0f0 126.5px,#ffffff 127.5px,#ffffff 138.5px)"></i><i style="top:51px;background:linear-gradient(90deg,#ffffff 0.5px,#ffffff 12.5px,#656569 13.5px,#010108 14.5px,#02020e 18.5px,#310a5c 19.5px,#a02a63 20.5px,#d74b3f 21.5px,#f68013 22.5px,#fa9407 23.5px,#fb9606 24.5px,#de5238 27.5px,#b3325a 31.5px,#5f136e 45.5px,#62146e 55.5px,#360961 61.5px,#3b0964 65.5px,#1c0c43 67.5px,#02020c 69.5px,#02020c 70.5px,#190c3e 71.5px,#390963 73.5px,#380962 78.5px,#64156e 84.5px,#62146e 94.5px,#b1325a 107.5px,#da4e3c 111.5px,#fb9606 114.5px,#f98c0a 116.5px,#e05536 117.5px,#ae305c 118.5px,#450a69 119.5px,#040314 120.5px,#010108 122.5px,#010108 124.5px,#323238 125.5px,#ffffff 126.5px,#ffffff 138.5px)"></i><i style="top:52px;background:linear-gradient(90deg,#ffffff 0.5px,#ffffff 12.5px,#a5a5a8 13.5px,#010108 14.5px,#010108 18.5px,#190c3e 19.5px,#8a226a 20.5px,#ce4347 21.5px,#f2741c 22.5px,#fb9706 23.5px,#f98c0a 25.5px,#d44842 28.5px,#a62d60 33.5px,#5a116e 48.5px,#5d126e 56.5px,#380962 62.5px,#380962 65.5px,#0c0826 68.5px,#02020c 69.5px,#02020c 70.5px,#160b39 71.5px,#360961 73.5px,#420a68 79.5px,#62146e 84.5px,#5c126e 91.5px,#ab2f5e 106.5px,#d34743 110.5px,#f8850f 113.5px,#fb9706 114.5px,#fb9706 115.5px,#f68013 116.5px,#d74b3f 117.5px,#9d2964 118.5px,#290b55 119.5px,#02020c 120.5px,#010108 124.5px,#737377 125.5px,#ffffff 126.5px,#ffffff 138.5px)"></i><i style="top:53px;background:linear-gradient(90deg,#ffffff 0.5px,#ffffff 12.5px,#e6e6e7 13.5px,#010108 14.5px,#010108 18.5px,#0b0724 19.5px,#65156e 20.5px,#c13a50 21.5px,#ec6726 22.5px,#fb9d07 23.5px,#fb9706 25.5px,#db503b 28.5px,#a22b62 33.5px,#510e6c 51.5px,#5d126e 56.5px,#380962 65.5px,#02020c 69.5px,#02020c 70.5px,#140b34 71.5px,#360961 73.5px,#5c126e 84.5px,#520e6d 88.5px,#a02a63 105.5px,#d94d3d 110.5px,#fa9207 113.5px,#fb9d07 115.5px,#f2741c 116.5px,#cb4149 117.5px,#801f6c 118.5px,#150b37 119.5px,#010108 120.5px,#010108 124.5px,#b3b3b5 125.5px,#ffffff 126.5px,#ffffff 138.5px)"></i><i style="top:54px;background:linear-gradient(90deg,#ffffff 0.5px,#ffffff 13.5px,#29292f 14.5px,#010108 15.5px,#010108 18.5px,#050417 19.5px,#490b6a 20.5px,#b43359 21.5px,#e55c30 22.5px,#fb9906 23.5px,#fb9d07 25.5px,#df5337 28.5px,#a52c60 33.5px,#7f1e6c 41.5px,#520e6d 52.5px,#5a116e 56.5px,#390963 65.5px,#0a0722 68.5px,#02020c 69.5px,#02020c 70.5px,#240c4f 72.5px,#380962 73.5px,#5c126e 84.5px,#57106e 89.5px,#a32c61 105.5px,#db503b 110.5px,#fb9906 113.5px,#fca108 115.5px,#eb6628 116.5px,#c03a51 117.5px,#5f136e 118.5px,#09061f 119.5px,#010108 120.5px,#010108 124.5px,#f4f4f4 125.5px,#ffffff 127.5px,#ffffff 138.5px)"></i><i style="top:55px;background:linear-gradient(90deg,#ffffff 0.5px,#ffffff 13.5px,#69696d 14.5px,#010108 15.5px,#02020c 19.5px,#2d0b59 20.5px,#a52c60 21.5px,#dd513a 22.5px,#f8890c 23.5px,#fc9f07 24.5px,#f8850f 26.5px,#df5337 28.5px,#ab2f5e 33.5px,#65156e 46.5px,#5f136e 53.5px,#5c126e 56.5px,#3b0964 61.5px,#3b0964 65.5px,#1b0c41 67.5px,#02020c 69.5px,#02020c 70.5px,#180c3c 71.5px,#390963 73.5px,#420a68 79.5px,#62146e 84.5px,#64156e 92.5px,#982766 102.5px,#d04545 109.5px,#eb6628 111.5px,#fb9906 113.5px,#fb9606 115.5px,#e45a31 116.5px,#b43359 117.5px,#420a68 118.5px,#040314 119.5px,#010108 121.5px,#010108 123.5px,#36363c 124.5px,#ffffff 125.5px,#ffffff 138.5px)"></i><i style="top:56px;background:linear-gradient(90deg,#ffffff 0.5px,#ffffff 13.5px,#aaaaac 14.5px,#010108 15.5px,#010108 19.5px,#160b39 20.5px,#8a226a 21.5px,#d44842 22.5px,#f57b17 23.5px,#fca108 24.5px,#f98b0b 26.5px,#e15635 28.5px,#b63458 32.5px,#64156e 45.5px,#65156e 55.5px,#390963 60.5px,#390963 65.5px,#1c0c43 67.5px,#02020c 69.5px,#02020c 70.5px,#190c3e 71.5px,#380962 73.5px,#3d0965 79.5px,#67166e 84.5px,#64156e 93.5px,#b43359 106.5px,#de5238 110.5px,#f8850f 112.5px,#fca108 114.5px,#f8870e 115.5px,#dd513a 116.5px,#a32c61 117.5px,#280b53 118.5px,#02010a 119.5px,#010108 123.5px,#77777b 124.5px,#ffffff 125.5px,#ffffff 138.5px)"></i><i style="top:57px;background:linear-gradient(90deg,#ffffff 0.5px,#ffffff 13.5px,#eaeaeb 14.5px,#010108 15.5px,#010108 19.5px,#0a0722 20.5px,#65156e 21.5px,#cb4149 22.5px,#f1711f 23.5px,#fcaa0f 24.5px,#fb9706 26.5px,#d74b3f 29.5px,#a62d60 34.5px,#5c126e 49.5px,#5f136e 56.5px,#3b0964 62.5px,#380962 65.5px,#02020c 69.5px,#02020c 70.5px,#160b39 71.5px,#360961 73.5px,#4c0c6b 80.5px,#64156e 84.5px,#5d126e 90.5px,#ab2f5e 105.5px,#d44842 109.5px,#fa9008 112.5px,#fca80d 114.5px,#f57d15 115.5px,#d44842 116.5px,#82206c 117.5px,#140b34 118.5px,#010108 119.5px,#010108 123.5px,#b8b8ba 124.5px,#ffffff 125.5px,#ffffff 138.5px)"></i><i style="top:58px;background:linear-gradient(90deg,#ffffff 0.5px,#ffffff 14.5px,#2d2d33 15.5px,#010108 16.5px,#010108 19.5px,#040314 20.5px,#470b6a 21.5px,#bd3853 22.5px,#eb6628 23.5px,#fca60c 24.5px,#fca108 26.5px,#f8850f 27.5px,#dd513a 29.5px,#a22b62 34.5px,#65156e 47.5px,#540f6d 52.5px,#5d126e 56.5px,#380962 65.5px,#02020c 69.5px,#02020c 70.5px,#140b34 71.5px,#360961 73.5px,#5d126e 84.5px,#540f6d 88.5px,#8d2369 100.5px,#a62d60 105.5px,#d94d3d 109.5px,#fc9f07 112.5px,#fcb014 114.5px,#f1711f 115.5px,#cb4149 116.5px,#5f136e 117.5px,#08051d 118.5px,#010108 119.5px,#010108 123.5px,#f8f8f8 124.5px,#ffffff 138.5px)"></i><i style="top:59px;background:linear-gradient(90deg,#ffffff 0.5px,#ffffff 14.5px,#6d6d71 15.5px,#010108 16.5px,#02010a 20.5px,#290b55 21.5px,#ab2f5e 22.5px,#e45a31 23.5px,#fb9606 24.5px,#fcae12 25.5px,#f98c0a 27.5px,#e15635 29.5px,#ae305c 33.5px,#61136e 48.5px,#5a116e 53.5px,#5c126e 56.5px,#390963 65.5px,#02020c 69.5px,#02020c 70.5px,#150b37 71.5px,#380962 73.5px,#5f136e 84.5px,#57106e 88.5px,#ab2f5e 105.5px,#de5238 109.5px,#f8870e 111.5px,#fca108 112.5px,#fcac11 113.5px,#fca309 114.5px,#eb6429 115.5px,#ba3655 116.5px,#400a67 117.5px,#040312 118.5px,#010108 121.5px,#010108 122.5px,#3b3b40 123.5px,#ffffff 124.5px,#ffffff 138.5px)"></i><i style="top:60px;background:linear-gradient(90deg,#ffffff 0.5px,#ffffff 14.5px,#aeaeb0 15.5px,#010108 16.5px,#010108 20.5px,#140b34 21.5px,#88226a 22.5px,#da4e3c 23.5px,#f78410 24.5px,#fcac11 25.5px,#f98e09 27.5px,#d44842 30.5px,#9a2865 37.5px,#6c186e 45.5px,#64156e 53.5px,#5d126e 56.5px,#3b0964 61.5px,#3b0964 65.5px,#0d0829 68.5px,#02020c 69.5px,#02020c 70.5px,#180c3c 71.5px,#390963 73.5px,#400a67 79.5px,#67166e 84.5px,#65156e 91.5px,#922568 100.5px,#c83f4b 107.5px,#e05536 109.5px,#f8890c 111.5px,#fcaa0f 113.5px,#fa9008 114.5px,#e25734 115.5px,#a82e5f 116.5px,#240c4f 117.5px,#010108 118.5px,#010108 122.5px,#ffffff 124.5px,#ffffff 138.5px)"></i><i style="top:61px;background:linear-gradient(90deg,#ffffff 0.5px,#ffffff 14.5px,#efefef 15.5px,#010108 16.5px,#010108 20.5px,#08051d 21.5px,#64156e 22.5px,#cf4446 23.5px,#f2741c 24.5px,#fcae12 25.5px,#fa9407 27.5px,#d44842 30.5px,#972766 38.5px,#67166e 46.5px,#69166e 55.5px,#3b0964 60.5px,#390963 65.5px,#1c0c43 67.5px,#02020c 69.5px,#02020c 70.5px,#190c3e 71.5px,#380962 73.5px,#3e0966 79.5px,#6a176e 84.5px,#67166e 92.5px,#952667 100.5px,#d34743 108.5px,#f98e09 111.5px,#fcac11 113.5px,#f68013 114.5px,#d84c3e 115.5px,#801f6c 116.5px,#110a30 117.5px,#010108 118.5px,#010108 122.5px,#bcbcbe 123.5px,#ffffff 124.5px,#ffffff 138.5px)"></i><i style="top:62px;background:linear-gradient(90deg,#ffffff 0.5px,#ffffff 15.5px,#313137 16.5px,#010108 17.5px,#010108 20.5px,#040312 21.5px,#440a68 22.5px,#c03a51 23.5px,#ed6925 24.5px,#fca50a 25.5px,#fca80d 26.5px,#fb9b06 27.5px,#d94d3d 30.5px,#a02a63 36.5px,#5a116e 51.5px,#61136e 56.5px,#3e0966 62.5px,#380962 65.5px,#02020c 69.5px,#02020c 70.5px,#150b37 71.5px,#360961 73.5px,#57106e 81.5px,#65156e 84.5px,#5d126e 89.5px,#a92e5e 104.5px,#d54a41 108.5px,#fb9706 111.5px,#fcb014 113.5px,#f1731d 114.5px,#ce4347 115.5px,#5c126e 116.5px,#07051b 117.5px,#010108 118.5px,#010108 122.5px,#fcfcfc 123.5px,#ffffff 138.5px)"></i><i style="top:63px;background:linear-gradient(90deg,#ffffff 0.5px,#ffffff 15.5px,#727276 16.5px,#010108 17.5px,#010108 21.5px,#260c51 22.5px,#b0315b 23.5px,#e65d2f 24.5px,#fb9706 25.5px,#fcae12 26.5px,#f98b0b 28.5px,#df5337 30.5px,#ab2f5e 34.5px,#550f6d 51.5px,#61136e 56.5px,#390963 65.5px,#0a0722 68.5px,#02020c 69.5px,#02020c 70.5px,#140b34 71.5px,#380962 73.5px,#61136e 84.5px,#57106e 88.5px,#902568 99.5px,#a82e5f 104.5px,#db503b 108.5px,#f8850f 110.5px,#fc9f07 111.5px,#fcaa0f 112.5px,#fca309 113.5px,#ec6726 114.5px,#bf3952 115.5px,#3b0964 116.5px,#030210 117.5px,#010108 121.5px,#3f3f44 122.5px,#ffffff 123.5px,#ffffff 138.5px)"></i><i style="top:64px;background:linear-gradient(90deg,#ffffff 0.5px,#ffffff 15.5px,#b2b2b4 16.5px,#010108 17.5px,#010108 21.5px,#110a30 22.5px,#85216b 23.5px,#db503b 24.5px,#f78410 25.5px,#fcae12 26.5px,#fa9008 28.5px,#d24644 31.5px,#9a2865 37.5px,#5c126e 51.5px,#5f136e 56.5px,#450a69 61.5px,#3d0965 65.5px,#02020c 69.5px,#02020c 70.5px,#160b39 71.5px,#390963 73.5px,#550f6d 81.5px,#64156e 84.5px,#61136e 89.5px,#ae305c 104.5px,#e05536 108.5px,#f8890c 110.5px,#fcaa0f 112.5px,#fa9008 113.5px,#e35933 114.5px,#a52c60 115.5px,#1f0c48 116.5px,#010108 117.5px,#010108 121.5px,#ffffff 123.5px,#ffffff 138.5px)"></i><i style="top:65px;background:linear-gradient(90deg,#ffffff 0.5px,#ffffff 15.5px,#f3f3f3 16.5px,#010108 17.5px,#010108 21.5px,#07051b 22.5px,#5f136e 23.5px,#cf4446 24.5px,#f1731d 25.5px,#fca80d 26.5px,#fa9008 28.5px,#d54a41 31.5px,#922568 39.5px,#6a176e 47.5px,#61136e 56.5px,#3d0965 60.5px,#3d0965 65.5px,#1c0c43 67.5px,#02020c 69.5px,#02020c 70.5px,#190c3e 71.5px,#3b0964 73.5px,#400a67 79.5px,#6a176e 84.5px,#6a176e 91.5px,#902568 99.5px,#d34743 107.5px,#f98c0a 110.5px,#fca80d 112.5px,#f57d15 113.5px,#d84c3e 114.5px,#7c1d6d 115.5px,#0e092b 116.5px,#010108 117.5px,#010108 121.5px,#c0c0c2 122.5px,#ffffff 123.5px,#ffffff 138.5px)"></i><i style="top:66px;background:linear-gradient(90deg,#ffffff 0.5px,#ffffff 16.5px,#36363b 17.5px,#010108 18.5px,#030210 22.5px,#3e0966 23.5px,#c03a51 24.5px,#eb6429 25.5px,#fb9b06 26.5px,#fc9f07 27.5px,#fa9207 28.5px,#d94d3d 31.5px,#9d2964 38.5px,#6d186e 46.5px,#67166e 52.5px,#6c186e 55.5px,#3e0966 60.5px,#3b0964 65.5px,#1c0c43 67.5px,#02020c 69.5px,#02020c 70.5px,#190c3e 71.5px,#390963 73.5px,#420a68 79.5px,#6d186e 84.5px,#67166e 90.5px,#84206b 97.5px,#c33b4f 105.5px,#d54a41 107.5px,#fa9008 110.5px,#fca50a 112.5px,#f06f20 113.5px,#cc4248 114.5px,#57106e 115.5px,#060419 116.5px,#010108 117.5px,#03030a 121.5px,#ffffff 122.5px,#ffffff 138.5px)"></i><i style="top:67px;background:linear-gradient(90deg,#ffffff 0.5px,#ffffff 16.5px,#76767a 17.5px,#010108 18.5px,#010108 22.5px,#210c4a 23.5px,#ab2f5e 24.5px,#e55c30 25.5px,#fa9207 26.5px,#fca60c 27.5px,#fb9906 28.5px,#ec6726 30.5px,#cc4248 32.5px,#9b2964 38.5px,#5c126e 51.5px,#64156e 56.5px,#420a68 62.5px,#3b0964 65.5px,#02020c 69.5px,#02020c 70.5px,#150b37 71.5px,#390963 73.5px,#5a116e 81.5px,#67166e 84.5px,#61136e 89.5px,#ab2f5e 103.5px,#d84c3e 107.5px,#fb9606 110.5px,#fca50a 111.5px,#fb9d07 112.5px,#eb6628 113.5px,#c03a51 114.5px,#380962 115.5px,#02020e 116.5px,#010108 120.5px,#434348 121.5px,#ffffff 122.5px,#ffffff 138.5px)"></i><i style="top:68px;background:linear-gradient(90deg,#ffffff 0.5px,#ffffff 16.5px,#b7b7b9 17.5px,#010108 18.5px,#010108 22.5px,#0e092b 23.5px,#82206c 24.5px,#de5238 25.5px,#f8850f 26.5px,#fcac11 27.5px,#f98c0a 29.5px,#ce4347 32.5px,#9d2964 37.5px,#71196e 47.5px,#59106e 51.5px,#62146e 56.5px,#3d0965 65.5px,#0a0722 68.5px,#02020c 69.5px,#02020c 70.5px,#240c4f 72.5px,#390963 73.5px,#64156e 84.5px,#5c126e 88.5px,#952667 99.5px,#b63458 104.5px,#dd513a 107.5px,#f8850f 109.5px,#fb9b06 110.5px,#fca80d 111.5px,#fa9008 112.5px,#e55c30 113.5px,#a32c61 114.5px,#1c0c43 115.5px,#010108 116.5px,#010108 120.5px,#ffffff 122.5px,#ffffff 138.5px)"></i><i style="top:69px;background:linear-gradient(90deg,#ffffff 0.5px,#ffffff 16.5px,#f7f7f7 17.5px,#010108 18.5px,#010108 22.5px,#060419 23.5px,#5a116e 24.5px,#d24644 25.5px,#f2741c 26.5px,#fca60c 27.5px,#fa9008 29.5px,#d34743 32.5px,#9b2964 38.5px,#61136e 51.5px,#69166e 55.5px,#440a68 61.5px,#400a67 65.5px,#1b0c41 67.5px,#02020c 69.5px,#02020c 70.5px,#180c3c 71.5px,#3d0965 73.5px,#4f0d6c 80.5px,#69166e 84.5px,#67166e 89.5px,#a62d60 102.5px,#d04545 106.5px,#f98b0b 109.5px,#fca80d 111.5px,#f67e14 112.5px,#da4e3c 113.5px,#771c6d 114.5px,#0c0826 115.5px,#010108 116.5px,#010108 120.5px,#c4c4c6 121.5px,#ffffff 122.5px,#ffffff 138.5px)"></i><i style="top:70px;background:linear-gradient(90deg,#ffffff 0.5px,#ffffff 17.5px,#3a3a3f 18.5px,#010108 19.5px,#02020e 23.5px,#390963 24.5px,#c13a50 25.5px,#eb6429 26.5px,#fb9706 27.5px,#fb9b06 28.5px,#f47918 30.5px,#d94d3d 32.5px,#982766 39.5px,#71196e 46.5px,#6d186e 55.5px,#3d0965 60.5px,#400a67 65.5px,#1e0c45 67.5px,#02020c 69.5px,#02020c 70.5px,#1b0c41 71.5px,#3e0966 73.5px,#420a68 79.5px,#6f196e 84.5px,#71196e 92.5px,#8f2469 98.5px,#d54a41 106.5px,#f98c0a 109.5px,#fc9f07 111.5px,#ef6e21 112.5px,#cc4248 113.5px,#520e6d 114.5px,#050417 115.5px,#010108 116.5px,#07070e 120.5px,#ffffff 121.5px,#ffffff 138.5px)"></i><i style="top:71px;background:linear-gradient(90deg,#ffffff 0.5px,#ffffff 17.5px,#010108 19.5px,#010108 23.5px,#1e0c45 24.5px,#a62d60 25.5px,#e45a31 26.5px,#f98c0a 27.5px,#fc9f07 28.5px,#f67e14 30.5px,#ce4347 33.5px,#87216b 42.5px,#69166e 50.5px,#6f196e 55.5px,#400a67 60.5px,#3d0965 65.5px,#1c0c43 67.5px,#02020c 69.5px,#02020c 70.5px,#190c3e 71.5px,#3d0965 73.5px,#450a69 79.5px,#6f196e 84.5px,#6c186e 90.5px,#8c2369 97.5px,#cc4248 105.5px,#e9612b 107.5px,#f98e09 109.5px,#fb9d07 110.5px,#fb9606 111.5px,#ea632a 112.5px,#c03a51 113.5px,#320a5e 114.5px,#02020c 115.5px,#010108 119.5px,#48484d 120.5px,#ffffff 121.5px,#ffffff 138.5px)"></i><i style="top:72px;background:linear-gradient(90deg,#ffffff 0.5px,#ffffff 17.5px,#bbbbbd 18.5px,#010108 19.5px,#010108 23.5px,#0c0826 24.5px,#7d1e6d 25.5px,#de5238 26.5px,#f78212 27.5px,#fca60c 28.5px,#fb9606 29.5px,#ee6a24 31.5px,#cb4149 33.5px,#a02a63 38.5px,#5f136e 51.5px,#67166e 56.5px,#450a69 62.5px,#3d0965 65.5px,#0b0724 68.5px,#02020c 69.5px,#02020c 70.5px,#150b37 71.5px,#3b0964 73.5px,#550f6d 80.5px,#6a176e 84.5px,#61136e 88.5px,#b63458 103.5px,#da4e3c 106.5px,#fa9407 109.5px,#fca309 110.5px,#f98c0a 111.5px,#e55c30 112.5px,#9f2a63 113.5px,#190c3e 114.5px,#010108 115.5px,#010108 119.5px,#88888b 120.5px,#ffffff 121.5px,#ffffff 138.5px)"></i><i style="top:73px;background:linear-gradient(90deg,#ffffff 0.5px,#fcfcfc 18.5px,#010108 19.5px,#010108 23.5px,#050417 24.5px,#57106e 25.5px,#d44842 26.5px,#f3761b 27.5px,#fca309 28.5px,#f98b0b 30.5px,#ce4347 33.5px,#9b2964 39.5px,#5f136e 52.5px,#65156e 56.5px,#470b6a 63.5px,#400a67 65.5px,#0b0724 68.5px,#02020c 69.5px,#02020c 70.5px,#150b37 71.5px,#3d0965 73.5px,#67166e 84.5px,#62146e 88.5px,#ad305d 102.5px,#ca404a 105.5px,#f8870e 108.5px,#fb9706 109.5px,#fca80d 110.5px,#f68013 111.5px,#de5238 112.5px,#741a6e 113.5px,#0a0722 114.5px,#010108 115.5px,#010108 119.5px,#c9c9ca 120.5px,#ffffff 121.5px,#ffffff 138.5px)"></i><i style="top:74px;background:linear-gradient(90deg,#ffffff 0.5px,#ffffff 18.5px,#3e3e43 19.5px,#010108 20.5px,#02020c 24.5px,#340a5f 25.5px,#c63d4d 26.5px,#ec6726 27.5px,#fb9906 28.5px,#fb9b06 29.5px,#f37819 31.5px,#d74b3f 33.5px,#9d2964 39.5px,#6a176e 50.5px,#67166e 56.5px,#440a68 61.5px,#420a68 65.5px,#1c0c43 67.5px,#02020c 69.5px,#02020c 70.5px,#190c3e 71.5px,#400a67 73.5px,#4a0c6b 79.5px,#6d186e 84.5px,#6d186e 89.5px,#a92e5e 101.5px,#d34743 105.5px,#f98b0b 108.5px,#fb9d07 110.5px,#f1711f 111.5px,#d04545 112.5px,#4d0d6c 113.5px,#040314 114.5px,#010108 116.5px,#0b0b12 119.5px,#ffffff 120.5px,#ffffff 138.5px)"></i><i style="top:75px;background:linear-gradient(90deg,#ffffff 0.5px,#ffffff 18.5px,#010108 20.5px,#010108 24.5px,#190c3e 25.5px,#a02a63 26.5px,#e45a31 27.5px,#f8890c 28.5px,#fb9b06 29.5px,#f57d15 31.5px,#cf4446 34.5px,#88226a 42.5px,#6f196e 50.5px,#71196e 55.5px,#3b0964 61.5px,#400a67 65.5px,#1f0c48 67.5px,#02020c 69.5px,#02020c 70.5px,#1c0c43 71.5px,#400a67 73.5px,#3e0966 78.5px,#741a6e 84.5px,#771c6d 93.5px,#b0315b 101.5px,#da4e3c 105.5px,#f98b0b 108.5px,#fb9906 109.5px,#fa9407 110.5px,#ea632a 111.5px,#c33b4f 112.5px,#2d0b59 113.5px,#02010a 114.5px,#010108 118.5px,#4c4c51 119.5px,#ffffff 120.5px,#ffffff 138.5px)"></i><i style="top:76px;background:linear-gradient(90deg,#ffffff 0.5px,#ffffff 18.5px,#bfbfc1 19.5px,#010108 20.5px,#010108 24.5px,#0a0722 25.5px,#751b6e 26.5px,#de5238 27.5px,#f67e14 28.5px,#fc9f07 29.5px,#f78212 31.5px,#ce4347 34.5px,#87216b 43.5px,#6a176e 51.5px,#6c186e 56.5px,#400a67 61.5px,#3e0966 65.5px,#1c0c43 67.5px,#02020c 69.5px,#02020c 70.5px,#190c3e 71.5px,#3d0965 73.5px,#4a0c6b 79.5px,#721a6e 84.5px,#6d186e 89.5px,#9a2865 98.5px,#cb4149 104.5px,#f57d15 107.5px,#fb9d07 109.5px,#f8870e 110.5px,#e45a31 111.5px,#972766 112.5px,#150b37 113.5px,#010108 114.5px,#010108 118.5px,#8c8c90 119.5px,#ffffff 120.5px,#ffffff 138.5px)"></i><i style="top:77px;background:linear-gradient(90deg,#ffffff 0.5px,#ffffff 19.5px,#020209 20.5px,#010108 24.5px,#040314 25.5px,#520e6d 26.5px,#d54a41 27.5px,#f2741c 28.5px,#fb9d07 29.5px,#f78410 31.5px,#cc4248 34.5px,#9f2a63 40.5px,#64156e 51.5px,#6a176e 56.5px,#420a68 64.5px,#3e0966 65.5px,#0b0724 68.5px,#02020c 69.5px,#02020c 70.5px,#160b39 71.5px,#3d0965 73.5px,#6c186e 84.5px,#65156e 88.5px,#b73557 102.5px,#c83f4b 104.5px,#f68013 107.5px,#fca108 109.5px,#f67e14 110.5px,#de5238 111.5px,#6f196e 112.5px,#08051d 113.5px,#010108 114.5px,#010108 118.5px,#cdcdce 119.5px,#ffffff 120.5px,#ffffff 138.5px)"></i><i style="top:78px;background:linear-gradient(90deg,#ffffff 0.5px,#ffffff 19.5px,#424248 20.5px,#010108 21.5px,#02010a 25.5px,#310a5c 26.5px,#cb4149 27.5px,#ee6a24 28.5px,#fb9906 29.5px,#fb9906 30.5px,#e35933 33.5px,#c33b4f 35.5px,#9a2865 41.5px,#65156e 52.5px,#69166e 56.5px,#470b6a 63.5px,#420a68 65.5px,#0c0826 68.5px,#02020c 69.5px,#02020c 70.5px,#160b39 71.5px,#3e0966 73.5px,#6c186e 84.5px,#6c186e 89.5px,#b73557 102.5px,#ce4347 104.5px,#f78410 107.5px,#fb9d07 109.5px,#f1731d 110.5px,#d44842 111.5px,#4a0c6b 112.5px,#040312 113.5px,#010108 116.5px,#010108 117.5px,#101016 118.5px,#ffffff 119.5px,#ffffff 138.5px)"></i><i style="top:79px;background:linear-gradient(90deg,#ffffff 0.5px,#ffffff 19.5px,#010108 21.5px,#010108 25.5px,#160b39 26.5px,#9b2964 27.5px,#e65d2f 28.5px,#f98b0b 29.5px,#fb9b06 30.5px,#ea632a 33.5px,#ca404a 35.5px,#8a226a 43.5px,#6f196e 52.5px,#6a176e 56.5px,#440a68 61.5px,#440a68 65.5px,#320a5e 66.5px,#02020c 69.5px,#02020c 70.5px,#1b0c41 71.5px,#420a68 73.5px,#4c0c6b 79.5px,#721a6e 84.5px,#7c1d6d 92.5px,#ab2f5e 100.5px,#d74b3f 104.5px,#f8890c 107.5px,#fb9706 108.5px,#fb9606 109.5px,#eb6628 110.5px,#c03a51 111.5px,#280b53 112.5px,#010108 113.5px,#010108 117.5px,#505055 118.5px,#ffffff 119.5px,#ffffff 138.5px)"></i><i style="top:80px;background:linear-gradient(90deg,#ffffff 0.5px,#ffffff 19.5px,#c4c4c5 20.5px,#010108 21.5px,#010108 25.5px,#09061f 26.5px,#71196e 27.5px,#de5238 28.5px,#f57d15 29.5px,#fb9d07 30.5px,#f68013 32.5px,#cf4446 35.5px,#8f2469 42.5px,#751b6e 49.5px,#6c186e 56.5px,#3e0966 61.5px,#420a68 65.5px,#1f0c48 67.5px,#02020c 69.5px,#02020c 70.5px,#1c0c43 71.5px,#400a67 73.5px,#420a68 78.5px,#751b6e 84.5px,#801f6c 94.5px,#c43c4e 102.5px,#dd513a 104.5px,#f98b0b 107.5px,#fb9906 108.5px,#f8870e 109.5px,#e45a31 110.5px,#902568 111.5px,#120a32 112.5px,#010108 113.5px,#010108 117.5px,#919194 118.5px,#ffffff 119.5px,#ffffff 138.5px)"></i><i style="top:81px;background:linear-gradient(90deg,#ffffff 0.5px,#ffffff 20.5px,#06060d 21.5px,#010108 25.5px,#040312 26.5px,#4c0c6b 27.5px,#d74b3f 28.5px,#f1731d 29.5px,#fb9906 30.5px,#f68013 32.5px,#cf4446 35.5px,#8f2469 43.5px,#6d186e 51.5px,#6c186e 56.5px,#420a68 62.5px,#400a67 65.5px,#1c0c43 67.5px,#02020c 69.5px,#02020c 70.5px,#190c3e 71.5px,#3e0966 73.5px,#4f0d6c 79.5px,#71196e 84.5px,#781c6d 91.5px,#ba3655 101.5px,#cb4149 103.5px,#f57d15 106.5px,#fb9b06 108.5px,#f57b17 109.5px,#de5238 110.5px,#69166e 111.5px,#07051b 112.5px,#010108 113.5px,#010108 117.5px,#d1d1d3 118.5px,#ffffff 119.5px,#ffffff 138.5px)"></i><i style="top:82px;background:linear-gradient(90deg,#ffffff 0.5px,#ffffff 20.5px,#47474c 21.5px,#010108 22.5px,#010108 26.5px,#2b0b57 27.5px,#c73e4c 28.5px,#ee6a24 29.5px,#fb9706 30.5px,#f68013 32.5px,#cf4446 35.5px,#a52c60 40.5px,#65156e 52.5px,#64156e 57.5px,#400a67 65.5px,#190c3e 67.5px,#02020c 69.5px,#02020c 70.5px,#160b39 71.5px,#3e0966 73.5px,#6a176e 84.5px,#69166e 88.5px,#bf3952 102.5px,#de5238 104.5px,#f98e09 107.5px,#fb9906 108.5px,#f1731d 109.5px,#d74b3f 110.5px,#440a68 111.5px,#030210 112.5px,#010108 116.5px,#14141a 117.5px,#ffffff 118.5px,#ffffff 138.5px)"></i><i style="top:83px;background:linear-gradient(90deg,#ffffff 0.5px,#ffffff 20.5px,#87878b 21.5px,#010108 22.5px,#010108 26.5px,#120a32 27.5px,#982766 28.5px,#e8602d 29.5px,#f98b0b 30.5px,#fb9706 31.5px,#e55c30 34.5px,#c33b4f 36.5px,#85216b 46.5px,#69166e 52.5px,#61136e 57.5px,#420a68 65.5px,#1b0c41 67.5px,#02020c 69.5px,#02020c 70.5px,#180c3c 71.5px,#400a67 73.5px,#69166e 85.5px,#7d1e6d 91.5px,#c13a50 102.5px,#f78212 106.5px,#fa9407 107.5px,#fa9407 108.5px,#ec6726 109.5px,#bd3853 110.5px,#240c4f 111.5px,#010108 112.5px,#010108 116.5px,#555559 117.5px,#ffffff 118.5px,#ffffff 138.5px)"></i><i style="top:84px;background:linear-gradient(90deg,#ffffff 0.5px,#ffffff 20.5px,#c8c8c9 21.5px,#010108 22.5px,#010108 26.5px,#08051d 27.5px,#6a176e 28.5px,#e15635 29.5px,#f67e14 30.5px,#fb9906 31.5px,#eb6628 34.5px,#cb4149 36.5px,#8f2469 43.5px,#65156e 56.5px,#420a68 62.5px,#440a68 65.5px,#1f0c48 67.5px,#02020c 69.5px,#02020c 70.5px,#1c0c43 71.5px,#420a68 73.5px,#4c0c6b 79.5px,#71196e 85.5px,#932667 96.5px,#c83f4b 102.5px,#f37819 105.5px,#fb9706 107.5px,#f8870e 108.5px,#e65d2f 109.5px,#8c2369 110.5px,#0e092b 111.5px,#010108 112.5px,#010108 116.5px,#959598 117.5px,#ffffff 118.5px,#ffffff 138.5px)"></i><i style="top:85px;background:linear-gradient(90deg,#ffffff 0.5px,#ffffff 21.5px,#0a0a11 22.5px,#010108 26.5px,#030210 27.5px,#450a69 28.5px,#d94d3d 29.5px,#fb9906 31.5px,#ee6a24 34.5px,#c43c4e 37.5px,#88226a 44.5px,#65156e 56.5px,#400a67 62.5px,#420a68 65.5px,#1f0c48 67.5px,#02020c 69.5px,#02020c 70.5px,#1c0c43 71.5px,#400a67 73.5px,#4a0c6b 79.5px,#71196e 84.5px,#8d2369 95.5px,#ce4347 102.5px,#f57d15 105.5px,#fb9906 107.5px,#f57b17 108.5px,#df5337 109.5px,#62146e 110.5px,#060419 111.5px,#010108 112.5px,#010108 116.5px,#d6d6d7 117.5px,#ffffff 118.5px,#ffffff 138.5px)"></i><i style="top:86px;background:linear-gradient(90deg,#ffffff 0.5px,#ffffff 21.5px,#4b4b50 22.5px,#010108 23.5px,#010108 27.5px,#240c4f 28.5px,#c13a50 29.5px,#ed6925 30.5px,#fa9407 31.5px,#f67e14 33.5px,#c33b4f 37.5px,#7f1e6c 47.5px,#540f6d 59.5px,#400a67 65.5px,#1c0c43 67.5px,#02020c 69.5px,#02020c 70.5px,#190c3e 71.5px,#3e0966 73.5px,#6c186e 86.5px,#9b2964 96.5px,#ce4347 102.5px,#f57b17 105.5px,#fb9906 107.5px,#d94d3d 109.5px,#3e0966 110.5px,#02020c 111.5px,#010108 115.5px,#18181f 116.5px,#ffffff 117.5px,#ffffff 138.5px)"></i><i style="top:87px;background:linear-gradient(90deg,#ffffff 0.5px,#ffffff 21.5px,#8c8c8f 22.5px,#010108 23.5px,#010108 27.5px,#10092d 28.5px,#922568 29.5px,#e9612b 30.5px,#f8890c 31.5px,#fa9207 32.5px,#e25734 35.5px,#c03a51 37.5px,#69166e 51.5px,#4a0c6b 63.5px,#400a67 65.5px,#190c3e 67.5px,#02020c 69.5px,#02020c 70.5px,#160b39 71.5px,#3e0966 73.5px,#64156e 84.5px,#801f6c 91.5px,#bf3952 101.5px,#f57b17 105.5px,#fa9207 107.5px,#ed6925 108.5px,#b73557 109.5px,#1f0c48 110.5px,#010108 111.5px,#010108 115.5px,#59595d 116.5px,#ffffff 117.5px,#ffffff 138.5px)"></i><i style="top:88px;background:linear-gradient(90deg,#ffffff 0.5px,#ffffff 21.5px,#ccccce 22.5px,#010108 23.5px,#010108 27.5px,#060419 28.5px,#65156e 29.5px,#e35933 30.5px,#f67e14 31.5px,#fb9606 32.5px,#e75e2e 35.5px,#c43c4e 37.5px,#7d1e6d 48.5px,#440a68 65.5px,#1c0c43 67.5px,#02020c 69.5px,#02020c 70.5px,#190c3e 71.5px,#400a67 73.5px,#82206c 91.5px,#c13a50 101.5px,#f06f20 104.5px,#fa9407 106.5px,#f8870e 107.5px,#e8602d 108.5px,#87216b 109.5px,#0c0826 110.5px,#010108 111.5px,#010108 115.5px,#99999c 116.5px,#ffffff 117.5px,#ffffff 138.5px)"></i><i style="top:89px;background:linear-gradient(90deg,#ffffff 0.5px,#ffffff 22.5px,#0f0f15 23.5px,#010108 25.5px,#02020c 28.5px,#400a67 29.5px,#dd513a 30.5px,#fb9b06 32.5px,#ec6726 35.5px,#c03a51 38.5px,#8f2469 44.5px,#5f136e 56.5px,#440a68 63.5px,#440a68 65.5px,#210c4a 67.5px,#02020c 69.5px,#02020c 70.5px,#1c0c43 71.5px,#420a68 73.5px,#510e6c 80.5px,#7c1d6d 89.5px,#a22b62 97.5px,#ca404a 101.5px,#f37819 104.5px,#fb9906 106.5px,#f67e14 107.5px,#e25734 108.5px,#5c126e 109.5px,#050417 110.5px,#010108 111.5px,#010108 115.5px,#dadadb 116.5px,#ffffff 117.5px,#ffffff 138.5px)"></i><i style="top:90px;background:linear-gradient(90deg,#ffffff 0.5px,#ffffff 22.5px,#4f4f54 23.5px,#010108 24.5px,#010108 28.5px,#1f0c48 29.5px,#ba3655 30.5px,#ef6c23 31.5px,#fa9407 32.5px,#f67e14 34.5px,#c33b4f 38.5px,#8a226a 45.5px,#5f136e 56.5px,#400a67 64.5px,#320a5e 66.5px,#02020c 69.5px,#02020c 70.5px,#1c0c43 71.5px,#400a67 73.5px,#520e6d 80.5px,#7c1d6d 89.5px,#9b2964 96.5px,#cf4446 101.5px,#f57b17 104.5px,#fb9d07 106.5px,#dd513a 108.5px,#380962 109.5px,#02010a 110.5px,#010108 114.5px,#1d1d23 115.5px,#ffffff 116.5px,#ffffff 138.5px)"></i><i style="top:91px;background:linear-gradient(90deg,#ffffff 0.5px,#ffffff 22.5px,#909093 23.5px,#010108 24.5px,#010108 28.5px,#0e092b 29.5px,#84206b 30.5px,#e25734 31.5px,#ef6e21 32.5px,#eb6628 34.5px,#bd3853 38.5px,#721a6e 51.5px,#4c0c6b 65.5px,#390963 66.5px,#02020c 69.5px,#02020c 70.5px,#1e0c45 71.5px,#4a0c6b 73.5px,#84206b 91.5px,#bc3754 100.5px,#f06f20 105.5px,#f1731d 106.5px,#e55c30 107.5px,#a62d60 108.5px,#1c0c43 109.5px,#010108 110.5px,#010108 114.5px,#5d5d62 115.5px,#ffffff 116.5px,#ffffff 138.5px)"></i><i style="top:92px;background:linear-gradient(90deg,#ffffff 0.5px,#ffffff 22.5px,#d1d1d2 23.5px,#010108 24.5px,#010108 28.5px,#08051d 29.5px,#59106e 30.5px,#c63d4d 31.5px,#cc4248 34.5px,#922568 45.5px,#6d186e 54.5px,#6d186e 63.5px,#67166e 65.5px,#310a5c 67.5px,#02020c 69.5px,#02020c 70.5px,#2b0b57 71.5px,#470b6a 72.5px,#64156e 73.5px,#721a6e 80.5px,#741a6e 87.5px,#bd3853 102.5px,#cf4446 107.5px,#71196e 108.5px,#10092d 109.5px,#010108 110.5px,#010108 114.5px,#9e9ea0 115.5px,#ffffff 116.5px,#ffffff 138.5px)"></i><i style="top:93px;background:linear-gradient(90deg,#ffffff 0.5px,#ffffff 23.5px,#13131a 24.5px,#010108 25.5px,#02010a 29.5px,#2d0b59 30.5px,#972766 31.5px,#b0315b 32.5px,#a82e5f 37.5px,#6c186e 54.5px,#62146e 65.5px,#310a5c 67.5px,#180c3c 68.5px,#02020c 69.5px,#02020c 70.5px,#2b0b57 71.5px,#470b6a 72.5px,#61136e 73.5px,#7c1d6d 90.5px,#b0315b 105.5px,#a22b62 107.5px,#400a67 108.5px,#040314 109.5px,#010108 111.5px,#010108 114.5px,#dededf 115.5px,#ffffff 116.5px,#ffffff 138.5px)"></i><i style="top:94px;background:linear-gradient(90deg,#ffffff 0.5px,#ffffff 23.5px,#545458 24.5px,#010108 25.5px,#010108 29.5px,#150b37 30.5px,#69166e 31.5px,#9d2964 32.5px,#a22b62 37.5px,#7c1d6d 45.5px,#69166e 56.5px,#5a116e 62.5px,#5f136e 65.5px,#320a5e 67.5px,#190c3e 68.5px,#02020c 69.5px,#02020c 70.5px,#2d0b59 71.5px,#5d126e 73.5px,#5f136e 80.5px,#781c6d 90.5px,#8d2369 98.5px,#a62d60 103.5px,#9d2964 106.5px,#7f1e6c 107.5px,#210c4a 108.5px,#010108 109.5px,#010108 113.5px,#212127 114.5px,#ffffff 115.5px,#ffffff 138.5px)"></i><i style="top:95px;background:linear-gradient(90deg,#ffffff 0.5px,#ffffff 23.5px,#949497 24.5px,#010108 25.5px,#010108 29.5px,#0a0722 30.5px,#4d0d6c 31.5px,#972766 32.5px,#9f2a63 37.5px,#771c6d 47.5px,#5c126e 64.5px,#5d126e 65.5px,#310a5c 67.5px,#180c3c 68.5px,#02020c 69.5px,#02020c 70.5px,#2b0b57 71.5px,#5a116e 73.5px,#6c186e 83.5px,#84206b 96.5px,#a22b62 103.5px,#982766 106.5px,#61136e 107.5px,#110a30 108.5px,#010108 109.5px,#010108 113.5px,#616166 114.5px,#ffffff 115.5px,#ffffff 138.5px)"></i><i style="top:96px;background:linear-gradient(90deg,#ffffff 0.5px,#ffffff 23.5px,#d5d5d6 24.5px,#010108 25.5px,#010108 29.5px,#040312 30.5px,#340a5f 31.5px,#85216b 32.5px,#932667 34.5px,#8c2369 42.5px,#67166e 53.5px,#5c126e 65.5px,#2b0b57 67.5px,#02020c 69.5px,#02020c 70.5px,#260c51 71.5px,#400a67 72.5px,#59106e 73.5px,#741a6e 90.5px,#982766 102.5px,#8f2469 106.5px,#450a69 107.5px,#08051d 108.5px,#010108 109.5px,#010108 113.5px,#a2a2a5 114.5px,#ffffff 115.5px,#ffffff 138.5px)"></i><i style="top:97px;background:linear-gradient(90deg,#ffffff 0.5px,#ffffff 24.5px,#17171e 25.5px,#010108 26.5px,#010108 30.5px,#1f0c48 31.5px,#751b6e 32.5px,#8f2469 33.5px,#84206b 45.5px,#64156e 53.5px,#61136e 64.5px,#5d126e 65.5px,#450a69 66.5px,#140b34 68.5px,#02020c 69.5px,#02020c 70.5px,#260c51 71.5px,#400a67 72.5px,#5a116e 73.5px,#67166e 81.5px,#6f196e 89.5px,#8f2469 98.5px,#8f2469 105.5px,#801f6c 106.5px,#2d0b59 107.5px,#030210 108.5px,#010108 113.5px,#e3e3e3 114.5px,#ffffff 115.5px,#ffffff 138.5px)"></i><i style="top:98px;background:linear-gradient(90deg,#ffffff 0.5px,#ffffff 24.5px,#58585d 25.5px,#010108 26.5px,#010108 30.5px,#10092d 31.5px,#5a116e 32.5px,#8d2369 33.5px,#922568 38.5px,#5d126e 62.5px,#5d126e 65.5px,#2f0a5b 67.5px,#02020c 69.5px,#02020c 70.5px,#290b55 71.5px,#5c126e 73.5px,#7c1d6d 93.5px,#922568 104.5px,#8f2469 105.5px,#6d186e 106.5px,#1b0c41 107.5px,#010108 108.5px,#010108 112.5px,#25252b 113.5px,#ffffff 114.5px,#ffffff 138.5px)"></i><i style="top:99px;background:linear-gradient(90deg,#ffffff 0.5px,#ffffff 24.5px,#99999b 25.5px,#010108 26.5px,#010108 30.5px,#08051d 31.5px,#420a68 32.5px,#88226a 33.5px,#972766 36.5px,#751b6e 46.5px,#6a176e 55.5px,#57106e 62.5px,#5c126e 65.5px,#310a5c 67.5px,#180c3c 68.5px,#02020c 69.5px,#02020c 70.5px,#2b0b57 71.5px,#5a116e 73.5px,#5c126e 80.5px,#751b6e 88.5px,#7d1e6d 96.5px,#972766 102.5px,#8d2369 105.5px,#540f6d 106.5px,#0d0829 107.5px,#010108 108.5px,#010108 112.5px,#66666a 113.5px,#ffffff 114.5px,#ffffff 138.5px)"></i><i style="top:100px;background:linear-gradient(90deg,#ffffff 0.5px,#ffffff 24.5px,#d9d9da 25.5px,#010108 26.5px,#030210 31.5px,#290b55 32.5px,#7a1d6d 33.5px,#8f2469 35.5px,#85216b 41.5px,#59106e 64.5px,#5a116e 65.5px,#2d0b59 67.5px,#02020c 69.5px,#02020c 70.5px,#280b53 71.5px,#57106e 73.5px,#84206b 97.5px,#8f2469 103.5px,#801f6c 105.5px,#390963 106.5px,#060419 107.5px,#010108 108.5px,#010108 112.5px,#a6a6a9 113.5px,#ffffff 114.5px,#ffffff 138.5px)"></i><i style="top:101px;background:linear-gradient(90deg,#ffffff 0.5px,#ffffff 25.5px,#1c1c22 26.5px,#010108 27.5px,#010108 31.5px,#180c3c 32.5px,#64156e 33.5px,#801f6c 34.5px,#87216b 42.5px,#62146e 54.5px,#5c126e 64.5px,#59106e 65.5px,#420a68 66.5px,#140b34 68.5px,#02020c 69.5px,#02020c 70.5px,#240c4f 71.5px,#550f6d 73.5px,#64156e 82.5px,#6c186e 89.5px,#8a226a 99.5px,#82206c 104.5px,#721a6e 105.5px,#240c4f 106.5px,#02020c 107.5px,#010108 112.5px,#e7e7e8 113.5px,#ffffff 114.5px,#ffffff 138.5px)"></i><i style="top:102px;background:linear-gradient(90deg,#ffffff 0.5px,#ffffff 25.5px,#5c5c61 26.5px,#010108 27.5px,#010108 31.5px,#0d0829 32.5px,#4c0c6b 33.5px,#7d1e6d 34.5px,#85216b 42.5px,#61136e 54.5px,#5a116e 65.5px,#290b55 67.5px,#02020c 69.5px,#02020c 70.5px,#240c4f 71.5px,#3e0966 72.5px,#57106e 73.5px,#62146e 82.5px,#6c186e 89.5px,#85216b 99.5px,#7d1e6d 104.5px,#5c126e 105.5px,#150b37 106.5px,#010108 107.5px,#010108 111.5px,#29292f 112.5px,#ffffff 113.5px,#ffffff 138.5px)"></i><i style="top:103px;background:linear-gradient(90deg,#ffffff 0.5px,#ffffff 25.5px,#9d9da0 26.5px,#010108 27.5px,#010108 31.5px,#060419 32.5px,#360961 33.5px,#781c6d 34.5px,#87216b 37.5px,#59106e 63.5px,#5a116e 65.5px,#2d0b59 67.5px,#02020c 69.5px,#02020c 70.5px,#280b53 71.5px,#420a68 72.5px,#59106e 73.5px,#6a176e 86.5px,#85216b 103.5px,#7d1e6d 104.5px,#470b6a 105.5px,#0a0722 106.5px,#010108 107.5px,#010108 111.5px,#6a6a6e 112.5px,#ffffff 113.5px,#ffffff 138.5px)"></i><i style="top:104px;background:linear-gradient(90deg,#ffffff 0.5px,#ffffff 25.5px,#ddddde 26.5px,#010108 27.5px,#02020c 32.5px,#230c4c 33.5px,#6d186e 34.5px,#87216b 36.5px,#6f196e 47.5px,#67166e 55.5px,#520e6d 62.5px,#59106e 65.5px,#2f0a5b 67.5px,#02020c 69.5px,#02020c 70.5px,#290b55 71.5px,#57106e 73.5px,#5a116e 80.5px,#71196e 89.5px,#781c6d 97.5px,#84206b 103.5px,#741a6e 104.5px,#310a5c 105.5px,#040314 106.5px,#010108 108.5px,#010108 111.5px,#ababad 112.5px,#ffffff 113.5px,#ffffff 138.5px)"></i><i style="top:105px;background:linear-gradient(90deg,#ffffff 0.5px,#ffffff 26.5px,#202026 27.5px,#010108 28.5px,#010108 32.5px,#140b34 33.5px,#57106e 34.5px,#771c6d 35.5px,#7f1e6c 40.5px,#550f6d 65.5px,#290b55 67.5px,#02020c 69.5px,#02020c 70.5px,#260c51 71.5px,#540f6d 73.5px,#7f1e6c 102.5px,#67166e 104.5px,#1e0c45 105.5px,#02010a 106.5px,#010108 111.5px,#ebebec 112.5px,#ffffff 113.5px,#ffffff 138.5px)"></i><i style="top:106px;background:linear-gradient(90deg,#ffffff 0.5px,#ffffff 26.5px,#616165 27.5px,#010108 28.5px,#010108 32.5px,#0a0722 33.5px,#3e0966 34.5px,#6d186e 35.5px,#7f1e6c 42.5px,#5d126e 54.5px,#5c126e 63.5px,#550f6d 65.5px,#260c51 67.5px,#02020c 69.5px,#02020c 70.5px,#210c4a 71.5px,#390963 72.5px,#520e6d 73.5px,#62146e 81.5px,#62146e 88.5px,#7f1e6c 98.5px,#6f196e 103.5px,#4d0d6c 104.5px,#10092d 105.5px,#010108 106.5px,#010108 110.5px,#2e2e34 111.5px,#ffffff 112.5px,#ffffff 138.5px)"></i><i style="top:107px;background:linear-gradient(90deg,#ffffff 0.5px,#ffffff 26.5px,#a1a1a4 27.5px,#010108 28.5px,#010108 32.5px,#040314 33.5px,#2b0b57 34.5px,#65156e 35.5px,#771c6d 38.5px,#721a6e 46.5px,#5d126e 56.5px,#57106e 65.5px,#280b53 67.5px,#02020c 69.5px,#02020c 70.5px,#230c4c 71.5px,#3b0964 72.5px,#540f6d 73.5px,#5d126e 84.5px,#7a1d6d 98.5px,#6a176e 103.5px,#390963 104.5px,#08051d 105.5px,#010108 106.5px,#010108 110.5px,#6e6e72 111.5px,#ffffff 112.5px,#ffffff 138.5px)"></i><i style="top:108px;background:linear-gradient(90deg,#ffffff 0.5px,#ffffff 26.5px,#e2e2e3 27.5px,#010108 28.5px,#02010a 33.5px,#1b0c41 34.5px,#5f136e 35.5px,#771c6d 37.5px,#5d126e 56.5px,#57106e 65.5px,#2b0b57 67.5px,#02020c 69.5px,#02020c 70.5px,#280b53 71.5px,#550f6d 73.5px,#5d126e 82.5px,#6f196e 95.5px,#741a6e 102.5px,#65156e 103.5px,#260c51 104.5px,#040312 105.5px,#010108 108.5px,#010108 110.5px,#afafb1 111.5px,#ffffff 112.5px,#ffffff 138.5px)"></i><i style="top:109px;background:linear-gradient(90deg,#ffffff 0.5px,#ffffff 27.5px,#24242a 28.5px,#010108 29.5px,#010108 33.5px,#10092d 34.5px,#4a0c6b 35.5px,#6d186e 36.5px,#721a6e 40.5px,#5f136e 56.5px,#520e6d 64.5px,#540f6d 65.5px,#2b0b57 67.5px,#02020c 69.5px,#02020c 70.5px,#280b53 71.5px,#520e6d 73.5px,#5d126e 82.5px,#6a176e 90.5px,#6f196e 102.5px,#5a116e 103.5px,#180c3c 104.5px,#010108 105.5px,#010108 110.5px,#f0f0f0 111.5px,#ffffff 112.5px,#ffffff 138.5px)"></i><i style="top:110px;background:linear-gradient(90deg,#ffffff 0.5px,#ffffff 27.5px,#656569 28.5px,#010108 29.5px,#010108 33.5px,#08051d 34.5px,#340a5f 35.5px,#64156e 36.5px,#741a6e 40.5px,#520e6d 65.5px,#260c51 67.5px,#02020c 69.5px,#02020c 70.5px,#230c4c 71.5px,#510e6c 73.5px,#71196e 100.5px,#65156e 102.5px,#420a68 103.5px,#0d0829 104.5px,#010108 105.5px,#010108 109.5px,#323238 110.5px,#ffffff 111.5px,#ffffff 138.5px)"></i><i style="top:111px;background:linear-gradient(90deg,#ffffff 0.5px,#ffffff 27.5px,#a5a5a8 28.5px,#010108 29.5px,#010108 33.5px,#040312 34.5px,#210c4a 35.5px,#57106e 36.5px,#6d186e 39.5px,#6d186e 46.5px,#59106e 54.5px,#59106e 63.5px,#520e6d 65.5px,#240c4f 67.5px,#02020c 69.5px,#02020c 70.5px,#1f0c48 71.5px,#380962 72.5px,#4f0d6c 73.5px,#5f136e 80.5px,#5d126e 88.5px,#741a6e 96.5px,#67166e 101.5px,#5a116e 102.5px,#2d0b59 103.5px,#060419 104.5px,#010108 105.5px,#010108 109.5px,#737377 110.5px,#ffffff 111.5px,#ffffff 138.5px)"></i><i style="top:112px;background:linear-gradient(90deg,#ffffff 0.5px,#ffffff 27.5px,#e6e6e7 28.5px,#010108 29.5px,#010108 34.5px,#150b37 35.5px,#4d0d6c 36.5px,#67166e 38.5px,#69166e 47.5px,#5a116e 58.5px,#540f6d 65.5px,#260c51 67.5px,#02020c 69.5px,#02020c 70.5px,#210c4a 71.5px,#390963 72.5px,#510e6c 73.5px,#6a176e 92.5px,#62146e 101.5px,#540f6d 102.5px,#1e0c45 103.5px,#02020e 104.5px,#010108 109.5px,#b3b3b5 110.5px,#ffffff 111.5px,#ffffff 138.5px)"></i><i style="top:113px;background:linear-gradient(90deg,#ffffff 0.5px,#ffffff 28.5px,#29292f 29.5px,#010108 30.5px,#010108 34.5px,#0c0826 35.5px,#3d0965 36.5px,#5d126e 37.5px,#65156e 39.5px,#61136e 54.5px,#4f0d6c 62.5px,#520e6d 65.5px,#290b55 67.5px,#02020c 69.5px,#02020c 70.5px,#260c51 71.5px,#510e6c 73.5px,#59106e 82.5px,#64156e 91.5px,#61136e 101.5px,#4a0c6b 102.5px,#120a32 103.5px,#010108 104.5px,#010108 109.5px,#f4f4f4 110.5px,#ffffff 112.5px,#ffffff 138.5px)"></i><i style="top:114px;background:linear-gradient(90deg,#ffffff 0.5px,#ffffff 28.5px,#69696d 29.5px,#010108 30.5px,#010108 34.5px,#060419 35.5px,#2b0b57 36.5px,#57106e 37.5px,#65156e 39.5px,#5d126e 55.5px,#4f0d6c 64.5px,#510e6c 65.5px,#290b55 67.5px,#02020c 69.5px,#02020c 70.5px,#240c4f 71.5px,#4f0d6c 73.5px,#5a116e 82.5px,#61136e 91.5px,#65156e 100.5px,#5a116e 101.5px,#380962 102.5px,#0a0722 103.5px,#010108 104.5px,#010108 108.5px,#36363c 109.5px,#ffffff 110.5px,#ffffff 138.5px)"></i><i style="top:115px;background:linear-gradient(90deg,#ffffff 0.5px,#ffffff 28.5px,#aaaaac 29.5px,#010108 30.5px,#02020e 35.5px,#1b0c41 36.5px,#4c0c6b 37.5px,#62146e 39.5px,#4f0d6c 65.5px,#240c4f 67.5px,#02020c 69.5px,#02020c 70.5px,#1f0c48 71.5px,#360961 72.5px,#4c0c6b 73.5px,#5a116e 87.5px,#62146e 99.5px,#4f0d6c 101.5px,#240c4f 102.5px,#050417 103.5px,#010108 104.5px,#010108 108.5px,#77777b 109.5px,#ffffff 110.5px,#ffffff 138.5px)"></i><i style="top:116px;background:linear-gradient(90deg,#ffffff 0.5px,#ffffff 28.5px,#eaeaeb 29.5px,#010108 30.5px,#010108 35.5px,#110a30 36.5px,#3e0966 37.5px,#5d126e 39.5px,#65156e 46.5px,#520e6d 54.5px,#59106e 62.5px,#4f0d6c 65.5px,#390963 66.5px,#02020c 69.5px,#02020c 70.5px,#1e0c45 71.5px,#4c0c6b 73.5px,#5a116e 80.5px,#550f6d 88.5px,#67166e 96.5px,#550f6d 100.5px,#450a69 101.5px,#180c3c 102.5px,#02020c 103.5px,#010108 108.5px,#b8b8ba 109.5px,#ffffff 110.5px,#ffffff 138.5px)"></i><i style="top:117px;background:linear-gradient(90deg,#ffffff 0.5px,#ffffff 29.5px,#2d2d33 30.5px,#010108 31.5px,#010108 35.5px,#0a0722 36.5px,#2f0a5b 37.5px,#4c0c6b 38.5px,#5a116e 40.5px,#5a116e 51.5px,#510e6c 65.5px,#240c4f 67.5px,#02020c 69.5px,#02020c 70.5px,#210c4a 71.5px,#4d0d6c 73.5px,#5d126e 95.5px,#59106e 99.5px,#390963 101.5px,#0e092b 102.5px,#010108 103.5px,#010108 108.5px,#f8f8f8 109.5px,#ffffff 138.5px)"></i></div>
<svg width="685" height="366" viewBox="0 0 685 366"><defs><linearGradient id="cb" x1="0" y1="0" x2="0" y2="1"><stop offset="0.000" stop-color="#fcffa4"/><stop offset="0.050" stop-color="#f1ef75"/><stop offset="0.100" stop-color="#f6d746"/><stop offset="0.150" stop-color="#fbbe23"/><stop offset="0.200" stop-color="#fca50a"/><stop offset="0.250" stop-color="#f98e09"/><stop offset="0.300" stop-color="#f37819"/><stop offset="0.350" stop-color="#ea632a"/><stop offset="0.400" stop-color="#dd513a"/><stop offset="0.450" stop-color="#cc4248"/><stop offset="0.500" stop-color="#bc3754"/><stop offset="0.550" stop-color="#a82e5f"/><stop offset="0.600" stop-color="#932667"/><stop offset="0.650" stop-color="#7f1e6c"/><stop offset="0.700" stop-color="#6a176e"/><stop offset="0.750" stop-color="#57106e"/><stop offset="0.800" stop-color="#420a68"/><stop offset="0.850" stop-color="#2b0b57"/><stop offset="0.900" stop-color="#160b39"/><stop offset="0.950" stop-color="#07051b"/><stop offset="1.000" stop-color="#000004"/></linearGradient></defs>
<path d="M35.5 30V148.5H175.7V30" fill="none" stroke="#bdbdbd" stroke-width="1"/>
<path d="M35.8 145.9h2M35.8 134.6h2M35.8 123.3h2M35.8 112h2M35.8 100.7h2M35.8 89.4h2M35.8 78.1h2M35.8 66.8h2M35.8 55.5h2M35.8 44.2h2M35.8 32.9h2M46.6 148v-2M105.6 148v-2M164.6 148v-2" stroke="#6a6a6a" stroke-width="0.7"/>
<path d="M177.17 30V148.5H317.37V30" fill="none" stroke="#bdbdbd" stroke-width="1"/>
<path d="M177.47 145.9h2M177.47 134.6h2M177.47 123.3h2M177.47 112h2M177.47 100.7h2M177.47 89.4h2M177.47 78.1h2M177.47 66.8h2M177.47 55.5h2M177.47 44.2h2M177.47 32.9h2M188.27 148v-2M247.27 148v-2M306.27 148v-2" stroke="#6a6a6a" stroke-width="0.7"/>
<path d="M318.83 30V148.5H459.03V30" fill="none" stroke="#bdbdbd" stroke-width="1"/>
<path d="M319.13 145.9h2M319.13 134.6h2M319.13 123.3h2M319.13 112h2M319.13 100.7h2M319.13 89.4h2M319.13 78.1h2M319.13 66.8h2M319.13 55.5h2M319.13 44.2h2M319.13 32.9h2M329.93 148v-2M388.93 148v-2M447.93 148v-2" stroke="#6a6a6a" stroke-width="0.7"/>
<path d="M460.5 30V148.5H600.7V30" fill="none" stroke="#bdbdbd" stroke-width="1"/>
<path d="M460.8 145.9h2M460.8 134.6h2M460.8 123.3h2M460.8 112h2M460.8 100.7h2M460.8 89.4h2M460.8 78.1h2M460.8 66.8h2M460.8 55.5h2M460.8 44.2h2M460.8 32.9h2M471.6 148v-2M530.6 148v-2M589.6 148v-2" stroke="#6a6a6a" stroke-width="0.7"/>
<path d="M600.4 38.07h-2M600.4 59.3h-2M600.4 77.26h-2M600.4 92.65h-2M600.4 106h-2M600.4 117.67h-2M600.4 127.97h-2M600.4 137.13h-2" stroke="#6a6a6a" stroke-width="0.7"/>
<rect x="646.6" y="30.2" width="7.4" height="118.7" fill="url(#cb)"/>
<path d="M654 42.07h-1.5M654 53.94h-1.5M654 65.81h-1.5M654 77.68h-1.5M654 89.55h-1.5M654 101.42h-1.5M654 113.29h-1.5M654 125.16h-1.5M654 137.03h-1.5" stroke="#6a6a6a" stroke-width="0.6"/>
<path d="M35.5 213V333.5H237" fill="none" stroke="#bdbdbd" stroke-width="1"/>
<path d="M35.5 313.8h2" stroke="#6a6a6a" stroke-width="0.7"/>
<path d="M35.5 293.7h2" stroke="#6a6a6a" stroke-width="0.7"/>
<path d="M35.5 273.5h2" stroke="#6a6a6a" stroke-width="0.7"/>
<path d="M35.5 253.3h2" stroke="#6a6a6a" stroke-width="0.7"/>
<path d="M35.5 233.1h2" stroke="#6a6a6a" stroke-width="0.7"/>
<path d="M41.8 333.5v-2" stroke="#6a6a6a" stroke-width="0.7"/>
<path d="M68.5 333.5v-2" stroke="#6a6a6a" stroke-width="0.7"/>
<path d="M95.2 333.5v-2" stroke="#6a6a6a" stroke-width="0.7"/>
<path d="M121.8 333.5v-2" stroke="#6a6a6a" stroke-width="0.7"/>
<path d="M148.5 333.5v-2" stroke="#6a6a6a" stroke-width="0.7"/>
<path d="M175.2 333.5v-2" stroke="#6a6a6a" stroke-width="0.7"/>
<path d="M201.8 333.5v-2" stroke="#6a6a6a" stroke-width="0.7"/>
<path d="M228.5 333.5v-2" stroke="#6a6a6a" stroke-width="0.7"/>
<g fill="none" stroke-width="1.5" stroke-linejoin="round">
<path d="M35.5 310C36.2 309.6 38.5 308.2 40 307.5C41.5 306.8 43.5 306.4 44.8 305.8C46.1 305.2 46.4 304.6 48 304C49.6 303.4 52.7 303.3 54.7 302.5C56.7 301.7 58.4 299.9 60 299C61.6 298.1 62.8 297.6 64.5 296.8C66.2 296 68.2 294.9 70 294C71.8 293.1 73.3 292.2 75 291.5C76.7 290.8 78.3 290 80 289.5C81.7 289 82.5 289 85 288.4C87.5 287.8 91.2 285.9 94.8 285.6C98.3 285.3 102.5 286.1 106.3 286.7C110.1 287.3 114.8 288.4 117.8 289.2C120.8 290 122.3 291.5 124.3 291.6C126.3 291.7 127.8 290 130 289.6C132.2 289.2 134.9 289 137.8 289.4C140.8 289.8 144.4 291.2 147.7 291.9C151 292.6 154.2 292.6 157.5 293.5C160.8 294.4 164.2 296.4 167.3 297.6C170.4 298.8 172.7 300.2 176.2 300.5C179.7 300.8 185.3 299.1 188.5 299.2C191.7 299.3 193 300.3 195.3 301.2C197.6 302.1 199.1 303.5 202.2 304.6C205.3 305.7 209.5 306.7 213.7 307.8C217.9 308.9 223.4 310.2 227.3 311.2C231.2 312.2 235.3 313.4 236.9 313.9" stroke="#d95319"/>
<path d="M35.5 296.8C35.8 296.1 36.5 293.1 37 292.7C37.5 292.3 37.9 296 38.6 294.3C39.3 292.6 40.4 283.2 41.2 282.5C42 281.8 42.6 290.4 43.4 290C44.1 289.6 45 280.7 45.7 280C46.4 279.3 46.9 286.7 47.6 286C48.3 285.3 49.2 276.8 49.8 276C50.4 275.2 50.9 283.8 51.4 281C51.9 278.2 52.2 259.8 52.8 259C53.4 258.2 54.4 277.6 55.1 276C55.8 274.4 56.3 249.6 57 249.3C57.7 249 58.4 275 59.1 274.2C59.8 273.4 60.5 244.4 61.2 244.3C61.9 244.2 62.7 274.8 63.5 273.4C64.3 272 65.2 235.8 66.1 235.7C66.9 235.5 67.8 273.3 68.6 272.5C69.4 271.7 70.2 231.1 71.1 230.7C72 230.3 73 269.4 73.9 270.1C74.8 270.8 75.4 234.9 76.3 234.8C77.2 234.7 78.3 269.4 79.3 269.3C80.2 269.2 81 234.4 82 234C83 233.6 84.2 265 85.3 266.8C86.3 268.6 87.2 244.6 88.3 245C89.3 245.4 90.5 267.6 91.6 269C92.7 270.4 93.9 253 95 253.5C96.1 254 96.8 271 98.1 272C99.4 273 101.5 260.7 102.7 259.7C103.9 258.7 104.5 265.4 105.5 266.2C106.5 267 107.6 263.4 108.8 264.6C110 265.8 111.3 272.8 112.5 273.6C113.7 274.4 115.1 269.4 116.1 269.5C117.1 269.6 117.8 273.7 118.6 274.4C119.4 275.1 120.2 272.8 121 273.6C121.8 274.4 122.5 278.9 123.5 279.3C124.5 279.7 126 276.7 126.8 276C127.6 275.3 127.6 273.6 128.5 275C129.4 276.4 130.3 284.3 132.1 284.5C133.9 284.7 137.4 275.9 139.5 276.3C141.6 276.7 142.9 286.2 144.4 287C145.9 287.8 146.9 280.7 148.5 281.2C150.1 281.7 151.9 289 154.2 290.2C156.5 291.4 160.1 287.4 162.4 288.6C164.7 289.8 166.8 296 168.2 297.6C169.6 299.2 169.1 299 170.7 298.5C172.3 298 175.4 294.4 177.6 294.4C179.8 294.4 182.1 298.9 183.7 298.5C185.3 298.1 185.7 293.6 187.1 292.3C188.5 291 190.3 290.5 191.9 290.7C193.5 290.9 195.2 292.2 196.7 293.7C198.2 295.2 198.7 298.5 200.8 299.8C203 301.1 206.8 300.8 209.6 301.6C212.4 302.4 214.9 303.6 217.8 304.4C220.8 305.2 224.1 305.4 227.3 306.4C230.5 307.4 235.3 309.8 236.9 310.5" stroke="#0072bd"/>
<path d="M35.5 299C35.8 298.2 36.5 294.5 37 294C37.5 293.5 37.9 297.4 38.6 296C39.3 294.6 40.4 286.1 41.2 285.3C42 284.5 42.6 291.4 43.4 291C44.1 290.6 45 283.5 45.7 283C46.4 282.5 46.9 288.5 47.6 288C48.3 287.5 49.2 280.7 49.8 280C50.4 279.3 50.9 286 51.4 284C51.9 282 52.2 269.2 52.8 268C53.4 266.8 54.4 278.7 55.1 277C55.8 275.3 56.3 258.3 57 257.8C57.7 257.3 58.4 274.3 59.1 274.2C59.8 274.1 60.5 257.1 61.2 257C61.9 256.9 62.7 274.6 63.5 273.4C64.3 272.2 65.2 249.8 66.1 249.6C66.9 249.4 67.8 273.3 68.6 272.5C69.4 271.7 70.2 245.1 71.1 244.7C72 244.3 73 269.6 73.9 270.1C74.8 270.7 75.4 248.1 76.3 248C77.2 247.9 78.3 269 79.3 269.3C80.2 269.6 81 250 82 249.6C83 249.2 84.2 266.7 85.3 266.8C86.3 266.9 87.2 249.8 88.3 250C89.3 250.2 90.5 267 91.6 268C92.7 269 93.9 255.7 95 256C96.1 256.3 96.8 269.3 98.1 270C99.4 270.7 101.5 260.8 102.7 260C103.9 259.2 104.3 264.2 105.5 265C106.7 265.8 108.1 264.5 109.6 264.6C111.1 264.7 113.1 264.7 114.5 265.4C115.9 266.1 116.6 267.2 117.8 268.7C119 270.2 120.5 274.4 121.9 274.4C123.3 274.4 125 269.3 126 268.7C127 268.1 127.1 268.8 128 270.6C128.9 272.4 129.8 280 131.3 279.6C132.8 279.2 134.9 268 137 268.1C139.1 268.2 141.7 280 143.6 280.4C145.5 280.8 146.2 269.7 148.5 270.6C150.8 271.6 155.2 284.6 157.5 286.1C159.8 287.6 160.4 278.6 162.4 279.6C164.4 280.6 167.2 290.6 169.5 292C171.8 293.4 174.2 288.3 176.2 288.2C178.2 288.1 179.9 291.9 181.7 291.6C183.5 291.3 185.4 287.3 187.1 286.2C188.8 285.1 190.3 284.6 191.9 284.8C193.5 285 195 285.9 196.7 287.5C198.4 289.1 200.7 292.8 202.2 294.4C203.7 296 204.3 296.6 205.5 296.9C206.7 297.2 207.8 296.2 209.6 296.2C211.4 296.2 214.6 296.2 216.4 296.9C218.2 297.6 218.7 299.4 220.5 300.3C222.3 301.2 225.2 301.5 227.3 302.3C229.4 303.1 231.2 304.3 232.8 305C234.4 305.7 236.2 306.2 236.9 306.4" stroke="#edb120"/>
<path d="M35.5 304C35.9 303.2 37.2 299.7 38 299C38.8 298.3 39.3 300.3 40 300C40.7 299.7 41.3 297.2 42 297C42.7 296.8 43.2 298.8 44 298.5C44.8 298.2 45.8 295.9 46.5 295C47.2 294.1 47.4 293.7 48 293C48.6 292.3 49.4 291.4 50 291C50.6 290.6 50.9 291.2 51.4 290.5C51.9 289.8 52.5 288.1 53 287C53.5 285.9 54.1 284 54.7 283.7C55.3 283.4 56 285.4 56.5 285C57 284.6 57.5 281.4 58 281C58.5 280.6 59 283 59.6 282.5C60.2 282 60.8 279 61.5 278C62.2 277 63 277.1 63.7 276.3C64.4 275.5 65 272.6 65.7 273.4C66.4 274.2 67.2 280.9 68 281C68.8 281.1 69.7 274.2 70.6 274.2C71.5 274.1 72.4 280.8 73.3 280.7C74.2 280.6 75.1 273.5 76 273.4C76.9 273.3 77.7 279.9 78.6 279.9C79.5 279.9 80.2 273.5 81.2 273.4C82.2 273.3 83.3 279.1 84.5 279.3C85.7 279.5 87.2 274.4 88.5 274.5C89.8 274.6 91.3 279.9 92.4 280.2C93.5 280.4 94.2 275.5 95.2 276C96.2 276.5 97.1 282.6 98.1 283.4C99.1 284.2 100.4 280.9 101.4 281C102.4 281.1 103.1 284.1 103.9 284.3C104.7 284.5 105.3 281.8 106.3 282.3C107.2 282.8 108 287.2 109.6 287.5C111.2 287.8 114.5 284 116.1 284.3C117.7 284.6 118 288.7 119.4 289.2C120.8 289.7 122.9 287.6 124.3 287.5C125.7 287.4 126.6 288.2 128 288.6C129.4 289.1 131.4 290.2 132.9 290.2C134.4 290.2 135.3 288.2 137 288.6C138.7 289 141 292.6 142.8 292.7C144.6 292.8 145.8 288.6 147.7 289.4C149.6 290.2 152.1 297.1 154.2 297.6C156.2 298.2 158.1 292.4 160 292.7C161.9 293 163.8 298.2 165.7 299.3C167.6 300.4 169.7 298.6 171.4 299.2C173.2 299.8 174.8 301.8 176.2 302.6C177.6 303.4 178.5 304.2 179.6 303.9C180.7 303.5 181.8 302.2 183 300.5C184.2 298.8 185.8 295.1 187.1 293.7C188.3 292.3 189.2 292.2 190.5 292.3C191.8 292.4 193.3 293.1 194.6 294.4C195.8 295.6 195.7 297.9 198 299.8C200.3 301.7 205.1 304 208.2 305.7C211.3 307.4 214.3 309.2 216.4 309.8C218.5 310.4 218.7 309.1 220.5 309.2C222.3 309.3 224.6 309.8 227.3 310.5C230 311.2 235.3 312.8 236.9 313.3" stroke="#7e2f8e"/>
</g>
<path d="M164 222.8h19" stroke="#0072bd" stroke-width="1.2" opacity="0.85"/>
<path d="M164 235.3h19" stroke="#edb120" stroke-width="1.2" opacity="0.85"/>
<path d="M164 247.7h19" stroke="#7e2f8e" stroke-width="1.2" opacity="0.85"/>
<path d="M164 260h19" stroke="#d95319" stroke-width="1.2" opacity="0.85"/>
<path d="M249.6 215V333H446" fill="none" stroke="#bdbdbd" stroke-width="1"/>
<path d="M249.6 323.7h2" stroke="#6a6a6a" stroke-width="0.7"/>
<path d="M249.6 308.4h2" stroke="#6a6a6a" stroke-width="0.7"/>
<path d="M249.6 293h2" stroke="#6a6a6a" stroke-width="0.7"/>
<path d="M249.6 277.7h2" stroke="#6a6a6a" stroke-width="0.7"/>
<path d="M249.6 262.4h2" stroke="#6a6a6a" stroke-width="0.7"/>
<path d="M249.6 247h2" stroke="#6a6a6a" stroke-width="0.7"/>
<path d="M249.6 231.7h2" stroke="#6a6a6a" stroke-width="0.7"/>
<path d="M249.6 216.4h2" stroke="#6a6a6a" stroke-width="0.7"/>
<path d="M259.3 333v-2" stroke="#6a6a6a" stroke-width="0.7"/>
<path d="M285.2 333v-2" stroke="#6a6a6a" stroke-width="0.7"/>
<path d="M311.1 333v-2" stroke="#6a6a6a" stroke-width="0.7"/>
<path d="M336.9 333v-2" stroke="#6a6a6a" stroke-width="0.7"/>
<path d="M362.8 333v-2" stroke="#6a6a6a" stroke-width="0.7"/>
<path d="M388.7 333v-2" stroke="#6a6a6a" stroke-width="0.7"/>
<path d="M414.5 333v-2" stroke="#6a6a6a" stroke-width="0.7"/>
<path d="M440.4 333v-2" stroke="#6a6a6a" stroke-width="0.7"/>
<g fill="none" stroke-width="1.5" stroke-linejoin="round">
<path d="M249.6 293.3 L250 293.2 L250.4 295.5 L250.8 299.7 L251.2 304.2 L251.6 307.2 L252 307.5 L252.4 304.8 L252.8 300 L253.2 294.8 L253.6 290.8 L254 289.7 L254.4 291 L254.8 293.9 L255.2 297.9 L255.6 301.9 L256 305.1 L256.4 306.8 L256.8 306.5 L257.2 304.2 L257.6 300.4 L258 295.8 L258.4 291.5 L258.8 288.4 L259.2 287.2 L259.6 287.6 L260 289.7 L260.4 293.1 L260.8 297.2 L261.2 301.2 L261.6 304.3 L262 305.9 L262.4 305.6 L262.8 303.3 L263.2 299.4 L263.6 294.4 L264 289.2 L264.4 284.7 L264.8 281.7 L265.2 280.6 L265.6 281.9 L266 285.6 L266.4 290.9 L266.8 296.6 L267.2 301.6 L267.6 304.6 L268 304.9 L268.4 302.3 L268.8 297 L269.2 290 L269.6 282.7 L270 276.6 L270.4 272.7 L270.8 272 L271.2 274.4 L271.6 279.5 L272 286.4 L272.4 293.7 L272.8 299.9 L273.2 303.7 L273.6 304.1 L274 300.8 L274.4 294.3 L274.8 285.6 L275.2 276.3 L275.6 268.1 L276 262.5 L276.4 260.6 L276.8 262.7 L277.2 268.8 L277.6 277.7 L278 287.6 L278.4 296.4 L278.8 302.2 L279.2 303.1 L279.6 298.9 L280 290.1 L280.4 278.2 L280.8 265.4 L281.2 253.9 L281.6 246.1 L282 243.6 L282.4 246.2 L282.8 253 L283.2 262.6 L283.6 273.7 L284 284.3 L284.4 292.7 L284.8 297.5 L285.2 297.7 L285.6 293.3 L286 284.7 L286.4 273.2 L286.8 260.5 L287.2 248.6 L287.6 239.1 L288 233.6 L288.4 233 L288.8 237.5 L289.2 246.2 L289.6 257.6 L290 270 L290.4 281.3 L290.8 289.7 L291.2 293.8 L291.6 292.9 L292 287.1 L292.4 277.2 L292.8 264.8 L293.2 251.6 L293.6 239.7 L294 230.9 L294.4 226.6 L294.8 227.7 L295.2 233.7 L295.6 243.5 L296 255.8 L296.4 268.7 L296.8 280.2 L297.2 288.8 L297.6 293 L298 292.4 L298.4 287 L298.8 277.6 L299.2 265.6 L299.6 252.7 L300 240.9 L300.4 231.8 L300.8 226.9 L301.2 227 L301.6 231.8 L302 240.3 L302.4 251.4 L302.8 263.8 L303.2 275.9 L303.6 286 L304 292.9 L304.4 295.8 L304.8 294.4 L305.2 288.8 L305.6 280 L306 269 L306.4 257.4 L306.8 246.7 L307.2 238.4 L307.6 233.5 L308 232.9 L308.4 236.6 L308.8 244 L309.2 254.3 L309.6 266.1 L310 277.8 L310.4 288 L310.8 295.5 L311.2 299.3 L311.6 299 L312 294.7 L312.4 287.2 L312.8 277.4 L313.2 266.8 L313.6 256.7 L314 248.5 L314.4 243.4 L314.8 242 L315.2 244.4 L315.6 250.1 L316 258.4 L316.4 268.4 L316.8 278.8 L317.2 288.5 L317.6 296.4 L318 301.6 L318.4 303.5 L318.8 302.1 L319.2 297.6 L319.6 290.6 L320 282 L320.4 273 L320.8 264.7 L321.2 258.1 L321.6 254 L322 253 L322.4 255.2 L322.8 259.8 L323.2 266.5 L323.6 274.6 L324 283.2 L324.4 291.5 L324.8 298.7 L325.2 304.1 L325.6 307.3 L326 308 L326.4 306.4 L326.8 302.6 L327.2 297.2 L327.6 290.9 L328 284.3 L328.4 278.2 L328.8 273.2 L329.2 269.9 L329.6 268.6 L330 269.3 L330.4 271.9 L330.8 276.2 L331.2 281.7 L331.6 287.9 L332 294.2 L332.4 300 L332.8 304.9 L333.2 308.4 L333.6 310.2 L334 310.3 L334.4 308.8 L334.8 305.8 L335.2 301.9 L335.6 297.4 L336 292.8 L336.4 288.7 L336.8 285.4 L337.2 283.3 L337.6 282.6 L338 283.2 L338.4 285.1 L338.8 288.1 L339.2 292 L339.6 296.3 L340 300.7 L340.4 304.8 L340.8 308.2 L341.2 310.6 L341.6 311.8 L342 311.9 L342.4 310.9 L342.8 308.9 L343.2 306.2 L343.6 303.1 L344 300 L344.4 297.2 L344.8 295 L345.2 293.6 L345.6 293.2 L346 293.6 L346.4 294.8 L346.8 296.9 L347.2 299.6 L347.6 302.6 L348 305.7 L348.4 308.6 L348.8 310.9 L349.2 312.6 L349.6 313.5 L350 313.4 L350.4 312.6 L350.8 311 L351.2 308.9 L351.6 306.6 L352 304.3 L352.4 302.2 L352.8 300.5 L353.2 299.5 L353.6 299.2 L354 299.6 L354.4 300.6 L354.8 302.1 L355.2 304 L355.6 306.1 L356 308.4 L356.4 310.5 L356.8 312.3 L357.2 313.7 L357.6 314.7 L358 315 L358.4 314.8 L358.8 314.1 L359.2 312.9 L359.6 311.4 L360 309.7 L360.4 308 L360.8 306.4 L361.2 305.1 L361.6 304.2 L362 303.8 L362.4 303.8 L362.8 304.3 L363.2 305.1 L363.6 306.2 L364 307.6 L364.4 309.1 L364.8 310.7 L365.2 312.2 L365.6 313.7 L366 314.9 L366.4 315.8 L366.8 316.4 L367.2 316.6 L367.6 316.6 L368 316.1 L368.4 315.4 L368.8 314.3 L369.2 313.1 L369.6 311.8 L370 310.5 L370.4 309.3 L370.8 308.2 L371.2 307.5 L371.6 307.1 L372 307 L372.4 307.3 L372.8 307.7 L373.2 308.5 L373.6 309.4 L374 310.4 L374.4 311.6 L374.8 312.9 L375.2 314.2 L375.6 315.5 L376 316.7 L376.4 317.9 L376.8 318.9 L377.2 319.7 L377.6 320.3 L378 320.7 L378.4 320.9 L378.8 320.8 L379.2 320.5 L379.6 320 L380 319.3 L380.4 318.5 L380.8 317.5 L381.2 316.5 L381.6 315.5 L382 314.5 L382.4 313.5 L382.8 312.7 L383.2 312.1 L383.6 311.6 L384 311.4 L384.4 311.4 L384.8 311.5 L385.2 311.8 L385.6 312.4 L386 313.2 L386.4 314.2 L386.8 315.4 L387.2 316.8 L387.6 318.2 L388 319.7 L388.4 321.1 L388.8 322.5 L389.2 323.8 L389.6 324.8 L390 325.6 L390.4 326.2 L390.8 326.5 L391.2 326.4 L391.6 326 L392 325.3 L392.4 324.4 L392.8 323.1 L393.2 321.7 L393.6 320.1 L394 318.5 L394.4 316.8 L394.8 315.2 L395.2 313.7 L395.6 312.4 L396 311.3 L396.4 310.6 L396.8 310.2 L397.2 310.2 L397.6 310.5 L398 311.3 L398.4 312.3 L398.8 313.6 L399.2 315.2 L399.6 317 L400 318.9 L400.4 320.9 L400.8 322.9 L401.2 324.8 L401.6 326.6 L402 328.2 L402.4 329.6 L402.8 330.7 L403.2 331.4 L403.6 331.7 L404 331.7 L404.4 331.3 L404.8 330.4 L405.2 329.2 L405.6 327.7 L406 325.9 L406.4 324 L406.8 322.1 L407.2 320.1 L407.6 318.2 L408 316.4 L408.4 314.8 L408.8 313.5 L409.2 312.5 L409.6 311.8 L410 311.4 L410.4 311.5 L410.8 311.9 L411.2 312.7 L411.6 313.9 L412 315.4 L412.4 317.2 L412.8 319.1 L413.2 321.1 L413.6 323.2 L414 325.2 L414.4 327 L414.8 328.7 L415.2 330 L415.6 331.1 L416 331.8 L416.4 332.1 L416.8 332 L417.2 331.5 L417.6 330.6 L418 329.4 L418.4 328 L418.8 326.2 L419.2 324.4 L419.6 322.4 L420 320.5 L420.4 318.6 L420.8 316.9 L421.2 315.4 L421.6 314.2 L422 313.3 L422.4 312.8 L422.8 312.6 L423.2 312.8 L423.6 313.4 L424 314.3 L424.4 315.6 L424.8 317.1 L425.2 318.8 L425.6 320.7 L426 322.7 L426.4 324.6 L426.8 326.5 L427.2 328.2 L427.6 329.6 L428 330.8 L428.4 331.6 L428.8 332 L429.2 332.1 L429.6 331.8 L430 331 L430.4 330 L430.8 328.6 L431.2 327 L431.6 325.2 L432 323.2 L432.4 321.2 L432.8 319.3 L433.2 317.5 L433.6 315.8 L434 314.5 L434.4 313.4 L434.8 312.7 L435.2 312.4 L435.6 312.5 L436 313 L436.4 313.9 L436.8 315.1 L437.2 316.7 L437.6 318.4 L438 320.3 L438.4 322.4 L438.8 324.4 L439.2 326.3 L439.6 328.1 L440 329.7 L440.4 331 L440.8 332 L441.2 332.5 L441.6 332.7 L442 332.4 L442.4 331.8 L442.8 330.8 L443.2 329.4 L443.6 327.8 L444 326 L444.4 324 L444.8 322 L445.2 320 L445.6 318.1 L446 316.3 L446.4 314.9 L446.8 313.7 L447.2 313" stroke="#0072bd"/>
<path d="M249.6 310.6 L250 308.2 L250.4 305.7 L250.8 303.6 L251.2 302.3 L251.6 302 L252 302.6 L252.4 304.3 L252.8 306.5 L253.2 309.1 L253.6 311.3 L254 312.8 L254.4 313.2 L254.8 312.4 L255.2 310.6 L255.6 307.9 L256 305 L256.4 302.3 L256.8 300.3 L257.2 299.5 L257.6 300.1 L258 302.4 L258.4 305.6 L258.8 309.1 L259.2 311.8 L259.6 313 L260 312.2 L260.4 309.6 L260.8 305.8 L261.2 301.6 L261.6 298.2 L262 296.3 L262.4 296.7 L262.8 299 L263.2 302.8 L263.6 307 L264 310.5 L264.4 312.4 L264.8 312.1 L265.2 309.6 L265.6 305.5 L266 300.8 L266.4 296.7 L266.8 294.2 L267.2 293.9 L267.6 295.4 L268 298.4 L268.4 302.2 L268.8 306.1 L269.2 309.4 L269.6 311.5 L270 311.9 L270.4 310.5 L270.8 307.5 L271.2 303.4 L271.6 299 L272 295.1 L272.4 292.4 L272.8 291.3 L273.2 291.9 L273.6 294.3 L274 298 L274.4 302.3 L274.8 306.3 L275.2 309.2 L275.6 310.3 L276 309.4 L276.4 306.6 L276.8 302.2 L277.2 297.1 L277.6 292.3 L278 288.5 L278.4 286.6 L278.8 286.6 L279.2 289.1 L279.6 293.6 L280 299 L280.4 304 L280.8 307.2 L281.2 308 L281.6 305.8 L282 301.1 L282.4 294.6 L282.8 287.7 L283.2 281.8 L283.6 278.1 L284 277.4 L284.4 279.7 L284.8 284.3 L285.2 290.3 L285.6 296.4 L286 301.1 L286.4 303.5 L286.8 302.8 L287.2 299 L287.6 292.8 L288 285.2 L288.4 277.8 L288.8 271.9 L289.2 268.8 L289.6 269.2 L290 272.8 L290.4 278.6 L290.8 285.5 L291.2 292.1 L291.6 297 L292 299.4 L292.4 299 L292.8 295.6 L293.2 289.8 L293.6 282.6 L294 275.3 L294.4 269.4 L294.8 266 L295.2 265.9 L295.6 268.3 L296 272.6 L296.4 278.2 L296.8 284.5 L297.2 290.5 L297.6 295.6 L298 299.1 L298.4 300.5 L298.8 299.9 L299.2 297.1 L299.6 292.7 L300 287.2 L300.4 281.3 L300.8 275.8 L301.2 271.6 L301.6 269.1 L302 268.8 L302.4 271.4 L302.8 276.6 L303.2 283.4 L303.6 290.8 L304 297.2 L304.4 301.6 L304.8 303.3 L305.2 301.9 L305.6 297.9 L306 291.9 L306.4 285.3 L306.8 279.2 L307.2 274.9 L307.6 273 L308 274 L308.4 277.2 L308.8 282 L309.2 287.7 L309.6 293.5 L310 298.8 L310.4 302.6 L310.8 304.7 L311.2 304.9 L311.6 303.2 L312 299.9 L312.4 295.6 L312.8 291 L313.2 286.8 L313.6 283.7 L314 282 L314.4 282.1 L314.8 284.1 L315.2 287.8 L315.6 292.5 L316 297.5 L316.4 302.1 L316.8 305.5 L317.2 307.5 L317.6 307.6 L318 306.2 L318.4 303.4 L318.8 299.9 L319.2 296.3 L319.6 293.2 L320 291.3 L320.4 290.7 L320.8 291.5 L321.2 293.7 L321.6 296.9 L322 300.6 L322.4 304.3 L322.8 307.5 L323.2 309.6 L323.6 310.4 L324 309.8 L324.4 308.1 L324.8 305.6 L325.2 302.8 L325.6 300.1 L326 298.1 L326.4 297 L326.8 297.1 L327.2 297.7 L327.6 299.1 L328 300.9 L328.4 303.1 L328.8 305.5 L329.2 307.8 L329.6 309.7 L330 311.1 L330.4 311.9 L330.8 311.9 L331.2 311.2 L331.6 309.9 L332 308.1 L332.4 306.1 L332.8 304.1 L333.2 302.3 L333.6 300.8 L334 299.8 L334.4 299.5 L334.8 299.7 L335.2 300.3 L335.6 301.2 L336 302.4 L336.4 303.9 L336.8 305.4 L337.2 306.9 L337.6 308.3 L338 309.5 L338.4 310.5 L338.8 311.2 L339.2 311.5 L339.6 311.5 L340 311.1 L340.4 310.5 L340.8 309.7 L341.2 308.6 L341.6 307.4 L342 306.2 L342.4 305 L342.8 304 L343.2 303.2 L343.6 302.6 L344 302.3 L344.4 302.4 L344.8 302.8 L345.2 303.7 L345.6 304.9 L346 306.4 L346.4 307.9 L346.8 309.3 L347.2 310.6 L347.6 311.7 L348 312.3 L348.4 312.6 L348.8 312.4 L349.2 311.9 L349.6 311.1 L350 310 L350.4 308.9 L350.8 307.7 L351.2 306.7 L351.6 305.9 L352 305.4 L352.4 305.3 L352.8 305.5 L353.2 306.1 L353.6 306.9 L354 308 L354.4 309.2 L354.8 310.5 L355.2 311.6 L355.6 312.6 L356 313.3 L356.4 313.7 L356.8 313.8 L357.2 313.6 L357.6 313.1 L358 312.4 L358.4 311.6 L358.8 310.7 L359.2 309.8 L359.6 309.1 L360 308.6 L360.4 308.3 L360.8 308.3 L361.2 308.4 L361.6 308.8 L362 309.4 L362.4 310.1 L362.8 311 L363.2 311.9 L363.6 312.8 L364 313.6 L364.4 314.2 L364.8 314.5 L365.2 314.7 L365.6 314.5 L366 314.1 L366.4 313.5 L366.8 312.7 L367.2 311.8 L367.6 310.9 L368 310 L368.4 309.3 L368.8 308.7 L369.2 308.4 L369.6 308.3 L370 308.5 L370.4 308.9 L370.8 309.5 L371.2 310.2 L371.6 311.1 L372 312 L372.4 312.9 L372.8 313.7 L373.2 314.4 L373.6 314.9 L374 315.2 L374.4 315.2 L374.8 315 L375.2 314.6 L375.6 314 L376 313.2 L376.4 312.4 L376.8 311.5 L377.2 310.6 L377.6 309.8 L378 309.2 L378.4 308.8 L378.8 308.5 L379.2 308.6 L379.6 308.9 L380 309.4 L380.4 310.1 L380.8 311 L381.2 311.9 L381.6 312.8 L382 313.7 L382.4 314.5 L382.8 315.1 L383.2 315.5 L383.6 315.6 L384 315.5 L384.4 315.1 L384.8 314.6 L385.2 313.9 L385.6 313.1 L386 312.2 L386.4 311.4 L386.8 310.7 L387.2 310.1 L387.6 309.7 L388 309.5 L388.4 309.5 L388.8 309.7 L389.2 310.1 L389.6 310.6 L390 311.2 L390.4 311.9 L390.8 312.6 L391.2 313.4 L391.6 314.1 L392 314.7 L392.4 315.2 L392.8 315.6 L393.2 315.8 L393.6 315.8 L394 315.7 L394.4 315.4 L394.8 315 L395.2 314.5 L395.6 313.9 L396 313.2 L396.4 312.5 L396.8 311.9 L397.2 311.3 L397.6 310.8 L398 310.5 L398.4 310.3 L398.8 310.2 L399.2 310.3 L399.6 310.5 L400 310.8 L400.4 311.2 L400.8 311.7 L401.2 312.2 L401.6 312.8 L402 313.4 L402.4 314 L402.8 314.5 L403.2 315 L403.6 315.4 L404 315.8 L404.4 316 L404.8 316.1 L405.2 316.1 L405.6 316 L406 315.8 L406.4 315.5 L406.8 315.1 L407.2 314.7 L407.6 314.2 L408 313.6 L408.4 313.1 L408.8 312.6 L409.2 312.1 L409.6 311.7 L410 311.4 L410.4 311.2 L410.8 311 L411.2 311 L411.6 311.1 L412 311.3 L412.4 311.6 L412.8 311.9 L413.2 312.4 L413.6 312.9 L414 313.4 L414.4 313.9 L414.8 314.5 L415.2 315 L415.6 315.4 L416 315.8 L416.4 316.1 L416.8 316.3 L417.2 316.4 L417.6 316.4 L418 316.3 L418.4 316.2 L418.8 315.9 L419.2 315.5 L419.6 315.1 L420 314.7 L420.4 314.2 L420.8 313.8 L421.2 313.3 L421.6 312.9 L422 312.6 L422.4 312.3 L422.8 312.1 L423.2 312 L423.6 312 L424 312.1 L424.4 312.2 L424.8 312.5 L425.2 312.8 L425.6 313.1 L426 313.6 L426.4 314 L426.8 314.5 L427.2 315 L427.6 315.4 L428 315.8 L428.4 316.1 L428.8 316.4 L429.2 316.6 L429.6 316.7 L430 316.7 L430.4 316.6 L430.8 316.4 L431.2 316.2 L431.6 315.9 L432 315.5 L432.4 315.1 L432.8 314.7 L433.2 314.2 L433.6 313.8 L434 313.4 L434.4 313.1 L434.8 312.8 L435.2 312.6 L435.6 312.5 L436 312.5 L436.4 312.6 L436.8 312.7 L437.2 313 L437.6 313.3 L438 313.6 L438.4 314.1 L438.8 314.5 L439.2 315 L439.6 315.4 L440 315.8 L440.4 316.2 L440.8 316.5 L441.2 316.7 L441.6 316.9 L442 316.9 L442.4 316.9 L442.8 316.7 L443.2 316.5 L443.6 316.3 L444 315.9 L444.4 315.5 L444.8 315.1 L445.2 314.7 L445.6 314.3 L446 313.9 L446.4 313.6 L446.8 313.3 L447.2 313.1" stroke="#edb120"/>
<path d="M249.6 320.8C251.3 320.5 256.6 319.6 260 318.8C263.4 318 266.7 317.2 270 316C273.3 314.8 276.8 312.9 280 311.5C283.2 310.1 286.5 308.2 289 307.3C291.5 306.4 292.7 306.1 295 306C297.3 305.9 300 306.1 302.8 306.7C305.6 307.3 308.7 308.5 311.6 309.4C314.6 310.3 317.2 311.1 320.5 312C323.8 312.9 327.9 313.9 331.2 314.7C334.4 315.4 336 315.9 340 316.5C344 317.1 350 318.2 355 318.6C360 319 365 318.7 370 318.6C375 318.5 380 317.6 385 317.8C390 318 394.2 318.9 400 319.6C405.8 320.3 412.2 321.2 420 322C427.8 322.8 442.5 324.1 447 324.5" stroke="#d95319"/>
<path d="M249.6 317.9 L250 318.7 L250.4 319.6 L250.8 320.4 L251.2 321 L251.6 321.1 L252 320.6 L252.4 319.8 L252.8 318.7 L253.2 317.6 L253.6 316.9 L254 316.7 L254.4 316.9 L254.8 317.7 L255.2 318.7 L255.6 319.8 L256 320.8 L256.4 321.3 L256.8 321.2 L257.2 320.6 L257.6 319.4 L258 318 L258.4 316.5 L258.8 315.5 L259.2 315 L259.6 315.2 L260 316.1 L260.4 317.5 L260.8 319 L261.2 320.4 L261.6 321.3 L262 321.5 L262.4 320.9 L262.8 319.6 L263.2 317.9 L263.6 316.1 L264 314.5 L264.4 313.6 L264.8 313.4 L265.2 314.1 L265.6 315.4 L266 317.1 L266.4 318.9 L266.8 320.4 L267.2 321.3 L267.6 321.4 L268 320.7 L268.4 319.2 L268.8 317.2 L269.2 315.2 L269.6 313.3 L270 312.1 L270.4 311.8 L270.8 312.4 L271.2 313.7 L271.6 315.6 L272 317.5 L272.4 319.2 L272.8 320.3 L273.2 320.5 L273.6 319.8 L274 318.3 L274.4 316.3 L274.8 314.1 L275.2 312.1 L275.6 310.8 L276 310.2 L276.4 310.4 L276.8 311.4 L277.2 313.1 L277.6 315 L278 316.8 L278.4 317.8 L278.8 318 L279.2 317.3 L279.6 315.8 L280 313.8 L280.4 311.7 L280.8 309.6 L281.2 308 L281.6 307.1 L282 306.7 L282.4 306.7 L282.8 307.3 L283.2 308.2 L283.6 309.2 L284 310.2 L284.4 310.7 L284.8 310.7 L285.2 310.1 L285.6 308.8 L286 306.9 L286.4 304.8 L286.8 302.5 L287.2 300.5 L287.6 298.9 L288 298 L288.4 297.9 L288.8 298.4 L289.2 299.3 L289.6 300.4 L290 301.6 L290.4 302.6 L290.8 303.2 L291.2 303.3 L291.6 302.8 L292 301.8 L292.4 300.6 L292.8 299 L293.2 297.1 L293.6 295.3 L294 293.6 L294.4 292.3 L294.8 291.6 L295.2 292 L295.6 293.1 L296 294.7 L296.4 296.6 L296.8 298.3 L297.2 299.7 L297.6 300.5 L298 300.6 L298.4 300 L298.8 299 L299.2 297.4 L299.6 295.6 L300 293.9 L300.4 292.5 L300.8 291.7 L301.2 291.8 L301.6 292.9 L302 294.5 L302.4 296.6 L302.8 298.8 L303.2 300.8 L303.6 302.3 L304 303.1 L304.4 303.1 L304.8 302.4 L305.2 301.1 L305.6 299.5 L306 297.8 L306.4 296.3 L306.8 295.4 L307.2 295.2 L307.6 296 L308 297.5 L308.4 299.6 L308.8 301.9 L309.2 304.1 L309.6 305.9 L310 307.1 L310.4 307.6 L310.8 307.4 L311.2 306.5 L311.6 305.3 L312 303.8 L312.4 302.5 L312.8 301.6 L313.2 301.3 L313.6 301.7 L314 302.9 L314.4 304.6 L314.8 306.6 L315.2 308.7 L315.6 310.5 L316 312 L316.4 312.8 L316.8 313 L317.2 312.6 L317.6 311.8 L318 310.7 L318.4 309.6 L318.8 308.7 L319.2 308.3 L319.6 308.5 L320 309 L320.4 310 L320.8 311.3 L321.2 312.9 L321.6 314.6 L322 316.2 L322.4 317.6 L322.8 318.6 L323.2 319.2 L323.6 319 L324 318.4 L324.4 317.5 L324.8 316.4 L325.2 315.3 L325.6 314.5 L326 313.9 L326.4 313.7 L326.8 313.8 L327.2 314.1 L327.6 314.8 L328 315.8 L328.4 316.9 L328.8 318.1 L329.2 319.2 L329.6 320.1 L330 320.8 L330.4 321 L330.8 320.7 L331.2 320 L331.6 319.1 L332 318 L332.4 316.9 L332.8 315.9 L333.2 315.1 L333.6 314.6 L334 314.5 L334.4 314.6 L334.8 314.8 L335.2 315.3 L335.6 315.8 L336 316.5 L336.4 317.2 L336.8 317.9 L337.2 318.5 L337.6 319.1 L338 319.5 L338.4 319.7 L338.8 319.7 L339.2 319.5 L339.6 319.1 L340 318.6 L340.4 318 L340.8 317.3 L341.2 316.5 L341.6 315.7 L342 315 L342.4 314.4 L342.8 313.9 L343.2 313.6 L343.6 313.5 L344 313.8 L344.4 314.4 L344.8 315.1 L345.2 316 L345.6 316.8 L346 317.7 L346.4 318.4 L346.8 319 L347.2 319.4 L347.6 319.5 L348 319.4 L348.4 319.1 L348.8 318.7 L349.2 318.1 L349.6 317.5 L350 317 L350.4 316.5 L350.8 316.1 L351.2 315.8 L351.6 315.8 L352 315.9 L352.4 316.1 L352.8 316.5 L353.2 317 L353.6 317.6 L354 318.2 L354.4 318.7 L354.8 319.2 L355.2 319.5 L355.6 319.7 L356 319.8 L356.4 319.7 L356.8 319.5 L357.2 319.2 L357.6 318.8 L358 318.4 L358.4 318 L358.8 317.6 L359.2 317.4 L359.6 317.3 L360 317.3 L360.4 317.4 L360.8 317.7 L361.2 318 L361.6 318.4 L362 318.9 L362.4 319.3 L362.8 319.7 L363.2 320 L363.6 320.3 L364 320.4 L364.4 320.4 L364.8 320.3 L365.2 320.2 L365.6 319.9 L366 319.7 L366.4 319.4 L366.8 319.2 L367.2 318.9 L367.6 318.8 L368 318.8 L368.4 318.8 L368.8 318.9 L369.2 319 L369.6 319.2 L370 319.5 L370.4 319.8 L370.8 320.2 L371.2 320.5 L371.6 320.8 L372 321 L372.4 321.2 L372.8 321.2 L373.2 321.2 L373.6 321 L374 320.7 L374.4 320.4 L374.8 320 L375.2 319.6 L375.6 319.2 L376 318.9 L376.4 318.7 L376.8 318.5 L377.2 318.5 L377.6 318.7 L378 319 L378.4 319.3 L378.8 319.7 L379.2 320.2 L379.6 320.7 L380 321.1 L380.4 321.4 L380.8 321.7 L381.2 321.9 L381.6 322 L382 321.9 L382.4 321.8 L382.8 321.5 L383.2 321.2 L383.6 320.8 L384 320.5 L384.4 320.1 L384.8 319.8 L385.2 319.6 L385.6 319.5 L386 319.5 L386.4 319.6 L386.8 319.8 L387.2 320.1 L387.6 320.5 L388 320.9 L388.4 321.3 L388.8 321.7 L389.2 322.1 L389.6 322.4 L390 322.6 L390.4 322.7 L390.8 322.7 L391.2 322.6 L391.6 322.4 L392 322.2 L392.4 321.9 L392.8 321.5 L393.2 321.2 L393.6 320.9 L394 320.7 L394.4 320.5 L394.8 320.5 L395.2 320.5 L395.6 320.6 L396 320.9 L396.4 321.2 L396.8 321.5 L397.2 321.9 L397.6 322.3 L398 322.7 L398.4 323 L398.8 323.2 L399.2 323.4 L399.6 323.5 L400 323.4 L400.4 323.3 L400.8 323 L401.2 322.7 L401.6 322.4 L402 322 L402.4 321.7 L402.8 321.4 L403.2 321.2 L403.6 321 L404 321 L404.4 321.1 L404.8 321.2 L405.2 321.5 L405.6 321.8 L406 322.2 L406.4 322.6 L406.8 323 L407.2 323.3 L407.6 323.6 L408 323.8 L408.4 323.9 L408.8 323.8 L409.2 323.7 L409.6 323.5 L410 323.3 L410.4 323 L410.8 322.6 L411.2 322.3 L411.6 322 L412 321.7 L412.4 321.6 L412.8 321.5 L413.2 321.5 L413.6 321.6 L414 321.9 L414.4 322.1 L414.8 322.5 L415.2 322.8 L415.6 323.2 L416 323.6 L416.4 323.8 L416.8 324.1 L417.2 324.2 L417.6 324.2 L418 324.2 L418.4 324 L418.8 323.8 L419.2 323.5 L419.6 323.2 L420 322.9 L420.4 322.6 L420.8 322.3 L421.2 322.1 L421.6 322 L422 322 L422.4 322.1 L422.8 322.2 L423.2 322.5 L423.6 322.8 L424 323.1 L424.4 323.5 L424.8 323.8 L425.2 324.1 L425.6 324.4 L426 324.5 L426.4 324.6 L426.8 324.6 L427.2 324.5 L427.6 324.3 L428 324.1 L428.4 323.8 L428.8 323.5 L429.2 323.2 L429.6 322.9 L430 322.7 L430.4 322.6 L430.8 322.5 L431.2 322.5 L431.6 322.6 L432 322.8 L432.4 323.1 L432.8 323.4 L433.2 323.7 L433.6 324.1 L434 324.4 L434.4 324.6 L434.8 324.8 L435.2 325 L435.6 325 L436 325 L436.4 324.8 L436.8 324.6 L437.2 324.4 L437.6 324.1 L438 323.8 L438.4 323.5 L438.8 323.3 L439.2 323.1 L439.6 323 L440 323 L440.4 323.1 L440.8 323.2 L441.2 323.4 L441.6 323.7 L442 324 L442.4 324.3 L442.8 324.6 L443.2 324.9 L443.6 325.1 L444 325.3 L444.4 325.4 L444.8 325.4 L445.2 325.3 L445.6 325.1 L446 324.9 L446.4 324.7 L446.8 324.4 L447.2 324.1" stroke="#7e2f8e"/>
</g>
<path d="M491 208V332.5H680" fill="none" stroke="#bdbdbd" stroke-width="1"/>
<path d="M491 312.9h2" stroke="#6a6a6a" stroke-width="0.7"/>
<path d="M491 293.3h2" stroke="#6a6a6a" stroke-width="0.7"/>
<path d="M491 273.8h2" stroke="#6a6a6a" stroke-width="0.7"/>
<path d="M491 254.2h2" stroke="#6a6a6a" stroke-width="0.7"/>
<path d="M491 234.6h2" stroke="#6a6a6a" stroke-width="0.7"/>
<path d="M491 215h2" stroke="#6a6a6a" stroke-width="0.7"/>
<path d="M491.4 332.5v-2" stroke="#6a6a6a" stroke-width="0.7"/>
<path d="M524 332.5v-2" stroke="#6a6a6a" stroke-width="0.7"/>
<path d="M556.6 332.5v-2" stroke="#6a6a6a" stroke-width="0.7"/>
<path d="M589.2 332.5v-2" stroke="#6a6a6a" stroke-width="0.7"/>
<path d="M621.8 332.5v-2" stroke="#6a6a6a" stroke-width="0.7"/>
<path d="M654.4 332.5v-2" stroke="#6a6a6a" stroke-width="0.7"/>
<path d="M491.2 225.8 L499.9 240.2 L508.6 238.9 L517.6 255 L526.6 247.2 L535.5 255.5 L544.4 269.8 L553.4 261.2 L562.1 279.6 L571.1 270.1 L580.1 293.5 L589.1 290.2 L597.8 284.2 L606.8 276 L615.6 310.5 L624.6 302 L633.2 307.3 L642.4 305.4 L650.8 308.7 L660 307 L669 293.6" fill="none" stroke="#4a90d9" stroke-width="0.9" stroke-dasharray="3 2"/>
<path d="M491.2 215.2V235.3M489.2 215.2h4M489.2 235.3h4M499.9 230.4V250.1M497.9 230.4h4M497.9 250.1h4M508.6 229.3V248.4M506.6 229.3h4M506.6 248.4h4M517.6 245.2V264.8M515.6 245.2h4M515.6 264.8h4M526.6 237.6V256.6M524.6 237.6h4M524.6 256.6h4M535.5 245.2V265M533.5 245.2h4M533.5 265h4M544.4 260.4V280.1M542.4 260.4h4M542.4 280.1h4M553.4 252.2V271.4M551.4 252.2h4M551.4 271.4h4M562.1 270.2V289.1M560.1 270.2h4M560.1 289.1h4M571.1 260.2V279.9M569.1 260.2h4M569.1 279.9h4M580.1 284.5V303.4M578.1 284.5h4M578.1 303.4h4M589.1 280.4V299.6M587.1 280.4h4M587.1 299.6h4M597.8 274.3V294M595.8 274.3h4M595.8 294h4M606.8 266.1V285.8M604.8 266.1h4M604.8 285.8h4M615.6 300.6V318.8M613.6 300.6h4M613.6 318.8h4M624.6 292.4V311.5M622.6 292.4h4M622.6 311.5h4M633.2 297.8V317.3M631.2 297.8h4M631.2 317.3h4M642.4 295.5V315M640.4 295.5h4M640.4 315h4M650.8 298.7V317.8M648.8 298.7h4M648.8 317.8h4M660 297.4V316.5M658 297.4h4M658 316.5h4M669 284.4V303.1M667 284.4h4M667 303.1h4" fill="none" stroke="#5b9bd5" stroke-width="1"/>
<path d="M491.5 232.1 L496 234.9 L500.6 237.6 L505.1 240.3 L509.7 243 L514.2 245.6 L518.7 248.2 L523.3 250.8 L527.8 253.4 L532.4 255.9 L536.9 258.4 L541.5 260.9 L546 263.3 L550.5 265.7 L555.1 268 L559.6 270.4 L564.2 272.7 L568.7 275 L573.2 277.2 L577.8 279.4 L582.3 281.6 L586.9 283.8 L591.4 285.9 L595.9 288 L600.5 290 L605 292 L609.6 294 L614.1 296 L618.6 297.9 L623.2 299.9 L627.7 301.7 L632.3 303.6 L636.8 305.4 L641.4 307.2 L645.9 308.9 L650.4 310.6 L655 312.3 L659.5 314 L664.1 315.6 L668.6 317.2" fill="none" stroke="#f01010" stroke-width="1.8"/>
<path d="M491.2 222.8l2.6 3l-2.6 3l-2.6 -3zM499.9 237.2l2.6 3l-2.6 3l-2.6 -3zM508.6 235.9l2.6 3l-2.6 3l-2.6 -3zM517.6 252l2.6 3l-2.6 3l-2.6 -3zM526.6 244.2l2.6 3l-2.6 3l-2.6 -3zM535.5 252.5l2.6 3l-2.6 3l-2.6 -3zM544.4 266.8l2.6 3l-2.6 3l-2.6 -3zM553.4 258.2l2.6 3l-2.6 3l-2.6 -3zM562.1 276.6l2.6 3l-2.6 3l-2.6 -3zM571.1 267.1l2.6 3l-2.6 3l-2.6 -3zM580.1 290.5l2.6 3l-2.6 3l-2.6 -3zM589.1 287.2l2.6 3l-2.6 3l-2.6 -3zM597.8 281.2l2.6 3l-2.6 3l-2.6 -3zM606.8 273l2.6 3l-2.6 3l-2.6 -3zM615.6 307.5l2.6 3l-2.6 3l-2.6 -3zM624.6 299l2.6 3l-2.6 3l-2.6 -3zM633.2 304.3l2.6 3l-2.6 3l-2.6 -3zM642.4 302.4l2.6 3l-2.6 3l-2.6 -3zM650.8 305.7l2.6 3l-2.6 3l-2.6 -3zM660 304l2.6 3l-2.6 3l-2.6 -3zM669 290.6l2.6 3l-2.6 3l-2.6 -3z" fill="#2f72c4" stroke="#6aa6e0" stroke-width="0.6"/>
<text font-family="Liberation Sans" font-size="15.92" font-weight="bold" x="4.8" y="7.6">a</text>
<text font-family="Liberation Sans" font-size="15.66" font-weight="bold" x="3.7" y="197.1">b</text>
<text font-family="Liberation Sans" font-size="13.26" font-weight="bold" x="235.4" y="198.8">c</text>
<text font-family="Liberation Sans" font-size="15.66" font-weight="bold" x="466.9" y="202.1">d</text>
<text font-family="Liberation Serif" font-size="14.62" font-style="italic" textLength="5.86" lengthAdjust="spacingAndGlyphs" x="75.6" y="19.4">τ</text>
<text font-family="Liberation Serif" font-size="15.17" textLength="24.9" lengthAdjust="spacingAndGlyphs" x="100.2" y="19.8">13.7</text>
<text font-family="Liberation Serif" font-size="12.46" textLength="9.33" lengthAdjust="spacingAndGlyphs" x="130.6" y="19.4">fs</text>
<text font-family="Liberation Serif" font-size="14.62" font-style="italic" textLength="5.86" lengthAdjust="spacingAndGlyphs" x="216.6" y="19.4">τ</text>
<text font-family="Liberation Serif" font-size="15.17" textLength="24.9" lengthAdjust="spacingAndGlyphs" x="242.2" y="19.8">54.6</text>
<text font-family="Liberation Serif" font-size="12.46" textLength="9.33" lengthAdjust="spacingAndGlyphs" x="271.6" y="19.4">fs</text>
<text font-family="Liberation Serif" font-size="14.62" font-style="italic" textLength="6.86" lengthAdjust="spacingAndGlyphs" x="358.1" y="19.4">τ</text>
<text font-family="Liberation Serif" font-size="15.17" textLength="23.9" lengthAdjust="spacingAndGlyphs" x="384.7" y="19.8">95.5</text>
<text font-family="Liberation Serif" font-size="12.46" textLength="9.33" lengthAdjust="spacingAndGlyphs" x="413.6" y="19.4">fs</text>
<text font-family="Liberation Serif" font-size="14.62" font-style="italic" textLength="6.86" lengthAdjust="spacingAndGlyphs" x="497.1" y="19.4">τ</text>
<text font-family="Liberation Serif" font-size="15.17" textLength="33.9" lengthAdjust="spacingAndGlyphs" x="522.2" y="19.8">204.7</text>
<text font-family="Liberation Serif" font-size="12.46" textLength="9.32" lengthAdjust="spacingAndGlyphs" x="559.6" y="19.4">fs</text>
<text font-family="Liberation Sans" font-size="12.5" textLength="17.19" lengthAdjust="spacingAndGlyphs" x="16.15" y="50">2.2</text>
<text font-family="Liberation Sans" font-size="12.5" textLength="16.19" lengthAdjust="spacingAndGlyphs" x="16.65" y="73">2.0</text>
<text font-family="Liberation Sans" font-size="12.5" textLength="17.19" lengthAdjust="spacingAndGlyphs" x="16.15" y="95">1.8</text>
<text font-family="Liberation Sans" font-size="12.5" textLength="17.19" lengthAdjust="spacingAndGlyphs" x="16.15" y="118">1.6</text>
<text font-family="Liberation Sans" font-size="12.5" textLength="17.19" lengthAdjust="spacingAndGlyphs" x="16.15" y="140">1.4</text>
<text font-family="Liberation Sans" font-size="11.99" textLength="65.3" lengthAdjust="spacingAndGlyphs" transform="translate(9.3 122.2) rotate(-90)">Energy (eV)</text>
<text font-family="Liberation Sans" font-size="11.72" textLength="18.48" lengthAdjust="spacingAndGlyphs" x="36.95" y="164.8">-10</text>
<text font-family="Liberation Sans" font-size="11.72" textLength="6.95" lengthAdjust="spacingAndGlyphs" x="101.5" y="164.8">0</text>
<text font-family="Liberation Sans" font-size="11.72" textLength="14.31" lengthAdjust="spacingAndGlyphs" x="156.95" y="164.8">10</text>
<text font-family="Liberation Sans" font-size="11.72" textLength="18.48" lengthAdjust="spacingAndGlyphs" x="179.28" y="164.8">-10</text>
<text font-family="Liberation Sans" font-size="11.72" textLength="6.95" lengthAdjust="spacingAndGlyphs" x="243.83" y="164.8">0</text>
<text font-family="Liberation Sans" font-size="11.72" textLength="13.31" lengthAdjust="spacingAndGlyphs" x="298.78" y="164.8">10</text>
<text font-family="Liberation Sans" font-size="11.72" textLength="18.48" lengthAdjust="spacingAndGlyphs" x="320.62" y="164.8">-10</text>
<text font-family="Liberation Sans" font-size="11.72" textLength="7.95" lengthAdjust="spacingAndGlyphs" x="385.67" y="164.8">0</text>
<text font-family="Liberation Sans" font-size="11.72" textLength="14.31" lengthAdjust="spacingAndGlyphs" x="440.62" y="164.8">10</text>
<text font-family="Liberation Sans" font-size="11.72" textLength="18.48" lengthAdjust="spacingAndGlyphs" x="461.95" y="164.8">-10</text>
<text font-family="Liberation Sans" font-size="11.72" textLength="6.95" lengthAdjust="spacingAndGlyphs" x="526.5" y="164.8">0</text>
<text font-family="Liberation Sans" font-size="11.72" textLength="14.31" lengthAdjust="spacingAndGlyphs" x="581.95" y="164.8">10</text>
<text font-family="Liberation Serif" font-size="14.83" font-style="italic" textLength="6.18" lengthAdjust="spacingAndGlyphs" class="n" x="72.7" y="180.1">k</text>
<text font-family="Liberation Serif" font-size="14.83" font-style="italic" textLength="6.18" lengthAdjust="spacingAndGlyphs" class="n" x="214.37" y="180.1">k</text>
<text font-family="Liberation Serif" font-size="14.83" font-style="italic" textLength="6.18" lengthAdjust="spacingAndGlyphs" class="n" x="356.03" y="180.1">k</text>
<text font-family="Liberation Serif" font-size="14.83" font-style="italic" textLength="6.18" lengthAdjust="spacingAndGlyphs" class="n" x="497.7" y="180.1">k</text>
<text font-family="Liberation Serif" font-size="7.96" textLength="5.81" lengthAdjust="spacingAndGlyphs" class="n" x="81.1" y="182.8">||</text>
<text font-family="Liberation Serif" font-size="7.96" textLength="5.81" lengthAdjust="spacingAndGlyphs" class="n" x="222.77" y="182.8">||</text>
<text font-family="Liberation Serif" font-size="7.96" textLength="5.81" lengthAdjust="spacingAndGlyphs" class="n" x="364.43" y="182.8">||</text>
<text font-family="Liberation Serif" font-size="7.96" textLength="5.81" lengthAdjust="spacingAndGlyphs" class="n" x="506.1" y="182.8">||</text>
<text font-family="Liberation Serif" font-size="13.78" textLength="3.34" lengthAdjust="spacingAndGlyphs" class="n" x="91" y="180.4">(</text>
<text font-family="Liberation Serif" font-size="13.78" textLength="3.34" lengthAdjust="spacingAndGlyphs" class="n" x="232.67" y="180.4">(</text>
<text font-family="Liberation Serif" font-size="13.78" textLength="3.34" lengthAdjust="spacingAndGlyphs" class="n" x="374.33" y="180.4">(</text>
<text font-family="Liberation Serif" font-size="13.78" textLength="3.34" lengthAdjust="spacingAndGlyphs" class="n" x="516" y="180.4">(</text>
<text font-family="Liberation Serif" font-size="11.98" font-style="italic" textLength="6.33" lengthAdjust="spacingAndGlyphs" class="n" x="94.9" y="179.6">μ</text>
<text font-family="Liberation Serif" font-size="11.98" font-style="italic" textLength="6.33" lengthAdjust="spacingAndGlyphs" class="n" x="236.57" y="179.6">μ</text>
<text font-family="Liberation Serif" font-size="11.98" font-style="italic" textLength="6.33" lengthAdjust="spacingAndGlyphs" class="n" x="378.23" y="179.6">μ</text>
<text font-family="Liberation Serif" font-size="11.98" font-style="italic" textLength="6.33" lengthAdjust="spacingAndGlyphs" class="n" x="519.9" y="179.6">μ</text>
<text font-family="Liberation Serif" font-size="13.53" textLength="14.32" lengthAdjust="spacingAndGlyphs" class="n" x="101.6" y="180.3">m</text>
<text font-family="Liberation Serif" font-size="13.53" textLength="14.32" lengthAdjust="spacingAndGlyphs" class="n" x="243.27" y="180.3">m</text>
<text font-family="Liberation Serif" font-size="13.53" textLength="14.32" lengthAdjust="spacingAndGlyphs" class="n" x="384.93" y="180.3">m</text>
<text font-family="Liberation Serif" font-size="13.53" textLength="14.32" lengthAdjust="spacingAndGlyphs" class="n" x="526.6" y="180.3">m</text>
<path d="M115.8 173.9h6.3" stroke="#141414" stroke-width="0.9"/>
<path d="M257.47 173.9h6.3" stroke="#141414" stroke-width="0.9"/>
<path d="M399.13 173.9h6.3" stroke="#141414" stroke-width="0.9"/>
<path d="M540.8 173.9h6.3" stroke="#141414" stroke-width="0.9"/>
<text font-family="Liberation Serif" font-size="9.6" class="n" x="123.9" y="175.3">1</text>
<text font-family="Liberation Serif" font-size="9.6" class="n" x="265.57" y="175.3">1</text>
<text font-family="Liberation Serif" font-size="9.6" class="n" x="407.23" y="175.3">1</text>
<text font-family="Liberation Serif" font-size="9.6" class="n" x="548.9" y="175.3">1</text>
<text font-family="Liberation Serif" font-size="14.32" textLength="3.74" lengthAdjust="spacingAndGlyphs" class="n" x="131.2" y="179.9">)</text>
<text font-family="Liberation Serif" font-size="14.32" textLength="3.74" lengthAdjust="spacingAndGlyphs" class="n" x="272.87" y="179.9">)</text>
<text font-family="Liberation Serif" font-size="14.32" textLength="3.74" lengthAdjust="spacingAndGlyphs" class="n" x="414.53" y="179.9">)</text>
<text font-family="Liberation Serif" font-size="14.32" textLength="3.74" lengthAdjust="spacingAndGlyphs" class="n" x="556.2" y="179.9">)</text>
<text font-family="Liberation Sans" font-size="13.52" textLength="21.26" lengthAdjust="spacingAndGlyphs" x="601.7" y="43.9">550</text>
<text font-family="Liberation Sans" font-size="12.84" textLength="21.26" lengthAdjust="spacingAndGlyphs" x="601.7" y="84.3">650</text>
<text font-family="Liberation Sans" font-size="12.84" textLength="21.26" lengthAdjust="spacingAndGlyphs" x="601.7" y="113.3">750</text>
<text font-family="Liberation Sans" font-size="12.84" textLength="21.26" lengthAdjust="spacingAndGlyphs" x="601.7" y="133.8">850</text>
<text font-family="Liberation Sans" font-size="13.89" textLength="98.12" lengthAdjust="spacingAndGlyphs" transform="translate(636.1 133.8) rotate(-90)">Wavelength (nm)</text>
<text font-family="Liberation Sans" font-size="12.5" textLength="23.83" lengthAdjust="spacingAndGlyphs" x="656.6" y="36.5">Max</text>
<text font-family="Liberation Sans" font-size="12.5" textLength="22.16" lengthAdjust="spacingAndGlyphs" x="656" y="152.5">Min</text>
<text font-family="Liberation Sans" font-size="13.33" textLength="64.44" lengthAdjust="spacingAndGlyphs" transform="translate(665.8 128.2) rotate(-90)">CL intensity</text>
<text font-family="Liberation Sans" font-size="12.15" textLength="63.55" lengthAdjust="spacingAndGlyphs" transform="translate(681.5 127.1) rotate(-90)">(arb. units)</text>
<text font-family="Liberation Sans" font-size="12.84" textLength="24.82" lengthAdjust="spacingAndGlyphs" x="7.6" y="214.8">Max</text>
<text font-family="Liberation Sans" font-size="12.32" textLength="6.35" lengthAdjust="spacingAndGlyphs" x="20.7" y="339.3">0</text>
<text font-family="Liberation Sans" font-size="11.74" textLength="74.35" lengthAdjust="spacingAndGlyphs" transform="translate(8.5 317.1) rotate(-90)">CL Intensity</text>
<text font-family="Liberation Sans" font-size="13.06" textLength="72.55" lengthAdjust="spacingAndGlyphs" transform="translate(24.5 315.6) rotate(-90)">(arb. units)</text>
<text font-family="Liberation Sans" font-size="12.07" textLength="20.66" lengthAdjust="spacingAndGlyphs" x="58.4" y="347.6">600</text>
<text font-family="Liberation Sans" font-size="12.07" textLength="20.66" lengthAdjust="spacingAndGlyphs" x="112.05" y="347.6">700</text>
<text font-family="Liberation Sans" font-size="12.07" textLength="20.66" lengthAdjust="spacingAndGlyphs" x="165.7" y="347.6">800</text>
<text font-family="Liberation Sans" font-size="12.07" textLength="20.66" lengthAdjust="spacingAndGlyphs" x="218.35" y="347.6">900</text>
<text font-family="Liberation Sans" font-size="12.28" textLength="97.52" lengthAdjust="spacingAndGlyphs" x="95.4" y="361.9">Wavelength (nm)</text>
<text font-family="Liberation Sans" font-size="12.15" textLength="64.83" lengthAdjust="spacingAndGlyphs" x="80.8" y="220.5">Experiment</text>
<text font-family="Liberation Serif" font-size="10.25" font-style="italic" textLength="4.83" lengthAdjust="spacingAndGlyphs" class="n" style="fill:#606060" x="184.8" y="226.7">τ</text>
<text font-family="Liberation Sans" font-size="9.41" textLength="16.52" lengthAdjust="spacingAndGlyphs" class="n" x="198.3" y="226.1">13.6</text>
<text font-family="Liberation Sans" font-size="9.18" textLength="8.57" lengthAdjust="spacingAndGlyphs" class="n" x="217.4" y="226.7">fs</text>
<text font-family="Liberation Serif" font-size="10.25" font-style="italic" textLength="4.83" lengthAdjust="spacingAndGlyphs" class="n" style="fill:#606060" x="184.8" y="239.45">τ</text>
<text font-family="Liberation Sans" font-size="9.41" textLength="16.52" lengthAdjust="spacingAndGlyphs" class="n" x="199.3" y="238.85">54.6</text>
<text font-family="Liberation Sans" font-size="9.18" textLength="8.57" lengthAdjust="spacingAndGlyphs" class="n" x="217.4" y="239.45">fs</text>
<text font-family="Liberation Serif" font-size="10.25" font-style="italic" textLength="4.83" lengthAdjust="spacingAndGlyphs" class="n" style="fill:#606060" x="184.8" y="252.2">τ</text>
<text font-family="Liberation Sans" font-size="9.41" textLength="16.52" lengthAdjust="spacingAndGlyphs" class="n" x="199.3" y="250.6">95.5</text>
<text font-family="Liberation Sans" font-size="9.18" textLength="8.57" lengthAdjust="spacingAndGlyphs" class="n" x="217.4" y="251.2">fs</text>
<text font-family="Liberation Serif" font-size="10.25" font-style="italic" textLength="4.83" lengthAdjust="spacingAndGlyphs" class="n" style="fill:#606060" x="184.8" y="263.95">τ</text>
<text font-family="Liberation Sans" font-size="9.41" textLength="20.95" lengthAdjust="spacingAndGlyphs" class="n" x="199.1" y="263.35">286.5</text>
<text font-family="Liberation Sans" font-size="9.18" textLength="7.57" lengthAdjust="spacingAndGlyphs" class="n" x="222.4" y="263.95">fs</text>
<text font-family="Liberation Sans" font-size="12.79" textLength="37.91" lengthAdjust="spacingAndGlyphs" x="315.5" y="218.7">Theory</text>
<text font-family="Liberation Sans" font-size="12.07" textLength="21.66" lengthAdjust="spacingAndGlyphs" x="275.4" y="347.1">600</text>
<text font-family="Liberation Sans" font-size="12.07" textLength="21.66" lengthAdjust="spacingAndGlyphs" x="327.1" y="347.1">700</text>
<text font-family="Liberation Sans" font-size="12.07" textLength="20.66" lengthAdjust="spacingAndGlyphs" x="379.3" y="347.1">800</text>
<text font-family="Liberation Sans" font-size="12.07" textLength="20.66" lengthAdjust="spacingAndGlyphs" x="431" y="347.1">900</text>
<text font-family="Liberation Sans" font-size="13.04" textLength="97.52" lengthAdjust="spacingAndGlyphs" x="310.4" y="362.3">Wavelength (nm)</text>
<text font-family="Liberation Sans" font-size="12.84" textLength="17.19" lengthAdjust="spacingAndGlyphs" x="468.4" y="220.8">0.6</text>
<text font-family="Liberation Sans" font-size="12.66" textLength="6.75" lengthAdjust="spacingAndGlyphs" x="479.9" y="336.6">0</text>
<text font-family="Liberation Sans" font-size="11.99" textLength="81.77" lengthAdjust="spacingAndGlyphs" transform="translate(475.8 321.1) rotate(-90)">Fringe visibility</text>
<text font-family="Liberation Sans" font-size="11.84" textLength="7.15" lengthAdjust="spacingAndGlyphs" x="488.1" y="344.4">0</text>
<text font-family="Liberation Sans" font-size="11.84" textLength="13.71" lengthAdjust="spacingAndGlyphs" x="516.9" y="344.4">50</text>
<text font-family="Liberation Sans" font-size="11.84" textLength="21.26" lengthAdjust="spacingAndGlyphs" x="545.45" y="344.4">100</text>
<text font-family="Liberation Sans" font-size="11.84" textLength="21.26" lengthAdjust="spacingAndGlyphs" x="577.95" y="344.4">150</text>
<text font-family="Liberation Sans" font-size="11.84" textLength="20.26" lengthAdjust="spacingAndGlyphs" x="611.45" y="344.4">200</text>
<text font-family="Liberation Sans" font-size="11.84" textLength="21.26" lengthAdjust="spacingAndGlyphs" x="644.45" y="344.4">250</text>
<text font-family="Liberation Sans" font-size="12.79" textLength="52.28" lengthAdjust="spacingAndGlyphs" x="555.4" y="363.2">Delay (fs)</text>
<text font-family="Liberation Serif" font-size="14.06" font-style="italic" textLength="7.4" lengthAdjust="spacingAndGlyphs" x="567.8" y="239.9">T</text>
<text font-family="Liberation Serif" font-size="8.78" textLength="4.6" lengthAdjust="spacingAndGlyphs" x="575.3" y="242.9">2</text>
<text font-family="Liberation Sans" font-size="13.67" textLength="21.76" lengthAdjust="spacingAndGlyphs" x="600.2" y="240.2">200</text>
<text font-family="Liberation Sans" font-size="12.93" textLength="9.12" lengthAdjust="spacingAndGlyphs" x="627" y="239.8">fs</text>
<path d="M86.9 14.2h9.2M86.9 16.8h9.2M227.9 14.2h9.2M227.9 16.8h9.2M370.1 14.2h9.2M370.1 16.8h9.2M508.5 14.2h9.2M508.5 16.8h9.2M586.9 234.5h8.1M586.9 237.5h8.1M190.7 222.4h4.9M190.7 224.3h4.9M190.7 234.75h4.9M190.7 236.65h4.9M190.7 247.1h4.9M190.7 249h4.9M190.7 259.45h4.9M190.7 261.35h4.9" stroke="#1a1a1a" stroke-width="0.9" fill="none"/>
</svg></div></body></html>
